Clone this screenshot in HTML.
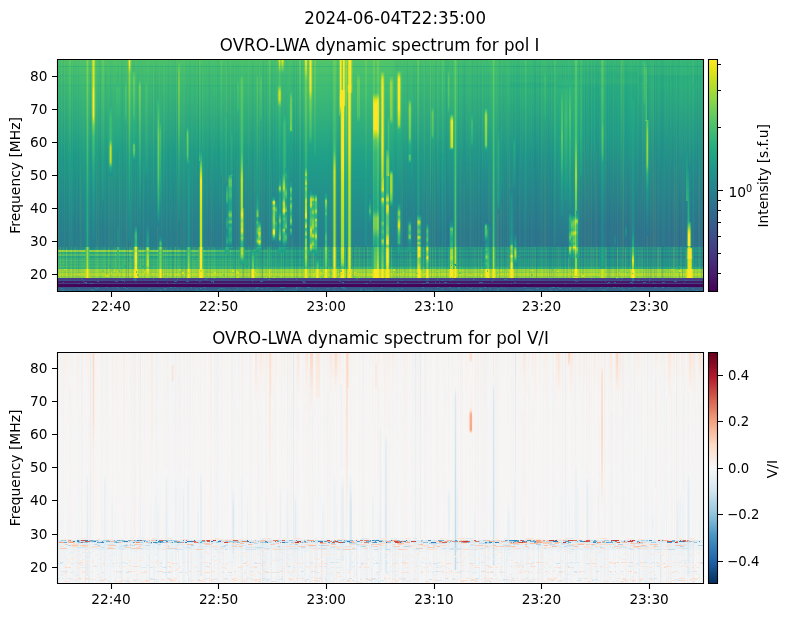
<!DOCTYPE html><html><head><meta charset="utf-8"><title>OVRO-LWA dynamic spectrum</title><style>html,body{margin:0;padding:0;background:#fff;width:789px;height:617px;overflow:hidden}svg{will-change:transform}</style></head><body><svg width="789" height="617" viewBox="0 0 789 617" style="display:block;font-family:'DejaVu Sans',sans-serif"><defs><linearGradient id="g1" x2="0" y2="1"><stop offset=".002" stop-color="#4cc26c"/><stop offset=".024" stop-color="#48c16e"/><stop offset=".028" stop-color="#32b67a"/><stop offset=".032" stop-color="#46c06f"/><stop offset=".063" stop-color="#42be71"/><stop offset=".067" stop-color="#38b977"/><stop offset=".076" stop-color="#40bd72"/><stop offset=".106" stop-color="#3bbb75"/><stop offset=".110" stop-color="#32b67a"/><stop offset=".119" stop-color="#3aba76"/><stop offset=".418" stop-color="#1e9d89"/><stop offset=".751" stop-color="#277f8e"/><stop offset=".807" stop-color="#277f8e"/><stop offset=".812" stop-color="#1f9e89"/><stop offset=".816" stop-color="#1f9e89"/><stop offset=".820" stop-color="#20928c"/><stop offset=".825" stop-color="#21a685"/><stop offset=".829" stop-color="#21a685"/><stop offset=".833" stop-color="#1f948c"/><stop offset=".838" stop-color="#1f948c"/><stop offset=".842" stop-color="#1fa187"/><stop offset=".846" stop-color="#1fa187"/><stop offset=".851" stop-color="#21908d"/><stop offset=".855" stop-color="#21908d"/><stop offset=".859" stop-color="#1f9e89"/><stop offset=".868" stop-color="#21a585"/><stop offset=".877" stop-color="#1f9e89"/><stop offset=".881" stop-color="#20a486"/><stop offset=".890" stop-color="#1f9e89"/><stop offset=".894" stop-color="#22a884"/><stop offset=".898" stop-color="#32b67a"/><stop offset=".903" stop-color="#32b67a"/><stop offset=".907" stop-color="#9bd93c"/><stop offset=".916" stop-color="#9bd93c"/><stop offset=".920" stop-color="#86d549"/><stop offset=".924" stop-color="#b5de2b"/><stop offset=".933" stop-color="#b5de2b"/><stop offset=".937" stop-color="#8ed645"/><stop offset=".942" stop-color="#8ed645"/><stop offset=".946" stop-color="#433e85"/><stop offset=".950" stop-color="#433e85"/><stop offset=".955" stop-color="#3b528b"/><stop offset=".959" stop-color="#481769"/><stop offset=".963" stop-color="#481769"/><stop offset=".968" stop-color="#414487"/><stop offset=".972" stop-color="#450457"/><stop offset=".981" stop-color="#450457"/><stop offset=".985" stop-color="#375a8c"/><stop offset=".998" stop-color="#32648e"/></linearGradient><linearGradient id="g2" x2="0" y2="1"><stop offset=".002" stop-color="#4ac16d"/><stop offset=".024" stop-color="#46c06f"/><stop offset=".028" stop-color="#31b57b"/><stop offset=".032" stop-color="#44bf70"/><stop offset=".063" stop-color="#40bd72"/><stop offset=".067" stop-color="#37b878"/><stop offset=".076" stop-color="#3fbc73"/><stop offset=".106" stop-color="#3aba76"/><stop offset=".110" stop-color="#31b57b"/><stop offset=".119" stop-color="#38b977"/><stop offset=".426" stop-color="#1e9b8a"/><stop offset=".755" stop-color="#277e8e"/><stop offset=".807" stop-color="#277e8e"/><stop offset=".812" stop-color="#1f9e89"/><stop offset=".816" stop-color="#1f9e89"/><stop offset=".820" stop-color="#20928c"/><stop offset=".825" stop-color="#21a685"/><stop offset=".829" stop-color="#21a685"/><stop offset=".833" stop-color="#20938c"/><stop offset=".838" stop-color="#20938c"/><stop offset=".842" stop-color="#1fa188"/><stop offset=".846" stop-color="#1fa188"/><stop offset=".851" stop-color="#218f8d"/><stop offset=".855" stop-color="#218f8d"/><stop offset=".859" stop-color="#1f9e89"/><stop offset=".868" stop-color="#20a486"/><stop offset=".877" stop-color="#1f9e89"/><stop offset=".890" stop-color="#1f9e89"/><stop offset=".894" stop-color="#22a785"/><stop offset=".898" stop-color="#31b57b"/><stop offset=".903" stop-color="#31b57b"/><stop offset=".907" stop-color="#9bd93c"/><stop offset=".916" stop-color="#9bd93c"/><stop offset=".920" stop-color="#86d549"/><stop offset=".924" stop-color="#b5de2b"/><stop offset=".933" stop-color="#b5de2b"/><stop offset=".937" stop-color="#8ed645"/><stop offset=".942" stop-color="#8ed645"/><stop offset=".946" stop-color="#433e85"/><stop offset=".950" stop-color="#433e85"/><stop offset=".955" stop-color="#3b528b"/><stop offset=".959" stop-color="#481769"/><stop offset=".963" stop-color="#481769"/><stop offset=".968" stop-color="#414487"/><stop offset=".972" stop-color="#450457"/><stop offset=".981" stop-color="#450457"/><stop offset=".985" stop-color="#375a8c"/><stop offset=".998" stop-color="#32648e"/></linearGradient><linearGradient id="g3" x2="0" y2="1"><stop offset=".002" stop-color="#48c16e"/><stop offset=".024" stop-color="#44bf70"/><stop offset=".028" stop-color="#2fb47c"/><stop offset=".032" stop-color="#42be71"/><stop offset=".063" stop-color="#3fbc73"/><stop offset=".067" stop-color="#35b779"/><stop offset=".076" stop-color="#3dbc74"/><stop offset=".106" stop-color="#3aba76"/><stop offset=".110" stop-color="#2fb47c"/><stop offset=".119" stop-color="#38b977"/><stop offset=".409" stop-color="#1e9c89"/><stop offset=".751" stop-color="#287d8e"/><stop offset=".807" stop-color="#287d8e"/><stop offset=".812" stop-color="#1e9d89"/><stop offset=".816" stop-color="#1e9d89"/><stop offset=".820" stop-color="#21918c"/><stop offset=".825" stop-color="#21a585"/><stop offset=".829" stop-color="#21a585"/><stop offset=".833" stop-color="#20928c"/><stop offset=".838" stop-color="#20928c"/><stop offset=".842" stop-color="#1fa188"/><stop offset=".846" stop-color="#1fa188"/><stop offset=".851" stop-color="#218e8d"/><stop offset=".855" stop-color="#218e8d"/><stop offset=".859" stop-color="#1e9d89"/><stop offset=".868" stop-color="#20a386"/><stop offset=".877" stop-color="#1e9d89"/><stop offset=".890" stop-color="#1e9d89"/><stop offset=".894" stop-color="#21a685"/><stop offset=".898" stop-color="#2fb47c"/><stop offset=".903" stop-color="#2fb47c"/><stop offset=".907" stop-color="#9bd93c"/><stop offset=".916" stop-color="#9bd93c"/><stop offset=".920" stop-color="#86d549"/><stop offset=".924" stop-color="#b5de2b"/><stop offset=".933" stop-color="#b5de2b"/><stop offset=".937" stop-color="#8ed645"/><stop offset=".942" stop-color="#8ed645"/><stop offset=".946" stop-color="#433e85"/><stop offset=".950" stop-color="#433e85"/><stop offset=".955" stop-color="#3b528b"/><stop offset=".959" stop-color="#481769"/><stop offset=".963" stop-color="#481769"/><stop offset=".968" stop-color="#414487"/><stop offset=".972" stop-color="#450457"/><stop offset=".981" stop-color="#450457"/><stop offset=".985" stop-color="#375a8c"/><stop offset=".998" stop-color="#32648e"/></linearGradient><linearGradient id="g4" x2="0" y2="1"><stop offset=".002" stop-color="#48c16e"/><stop offset=".024" stop-color="#44bf70"/><stop offset=".028" stop-color="#2fb47c"/><stop offset=".032" stop-color="#42be71"/><stop offset=".063" stop-color="#3dbc74"/><stop offset=".067" stop-color="#35b779"/><stop offset=".076" stop-color="#3bbb75"/><stop offset=".106" stop-color="#38b977"/><stop offset=".110" stop-color="#2fb47c"/><stop offset=".119" stop-color="#37b878"/><stop offset=".413" stop-color="#1e9b8a"/><stop offset=".751" stop-color="#287d8e"/><stop offset=".807" stop-color="#287d8e"/><stop offset=".812" stop-color="#1e9c89"/><stop offset=".816" stop-color="#1e9c89"/><stop offset=".820" stop-color="#21918c"/><stop offset=".825" stop-color="#20a486"/><stop offset=".829" stop-color="#20a486"/><stop offset=".833" stop-color="#20928c"/><stop offset=".838" stop-color="#20928c"/><stop offset=".842" stop-color="#1fa088"/><stop offset=".846" stop-color="#1fa088"/><stop offset=".851" stop-color="#218e8d"/><stop offset=".855" stop-color="#218e8d"/><stop offset=".859" stop-color="#1e9c89"/><stop offset=".868" stop-color="#20a386"/><stop offset=".877" stop-color="#1e9c89"/><stop offset=".881" stop-color="#1fa287"/><stop offset=".890" stop-color="#1e9c89"/><stop offset=".894" stop-color="#21a685"/><stop offset=".898" stop-color="#2fb47c"/><stop offset=".903" stop-color="#2fb47c"/><stop offset=".907" stop-color="#9bd93c"/><stop offset=".916" stop-color="#9bd93c"/><stop offset=".920" stop-color="#86d549"/><stop offset=".924" stop-color="#b5de2b"/><stop offset=".933" stop-color="#b5de2b"/><stop offset=".937" stop-color="#8ed645"/><stop offset=".942" stop-color="#8ed645"/><stop offset=".946" stop-color="#433e85"/><stop offset=".950" stop-color="#433e85"/><stop offset=".955" stop-color="#3b528b"/><stop offset=".959" stop-color="#481769"/><stop offset=".963" stop-color="#481769"/><stop offset=".968" stop-color="#414487"/><stop offset=".972" stop-color="#450457"/><stop offset=".981" stop-color="#450457"/><stop offset=".985" stop-color="#375a8c"/><stop offset=".998" stop-color="#32648e"/></linearGradient><linearGradient id="g5" x2="0" y2="1"><stop offset=".002" stop-color="#48c16e"/><stop offset=".024" stop-color="#44bf70"/><stop offset=".028" stop-color="#2fb47c"/><stop offset=".032" stop-color="#42be71"/><stop offset=".063" stop-color="#3dbc74"/><stop offset=".067" stop-color="#35b779"/><stop offset=".076" stop-color="#3bbb75"/><stop offset=".106" stop-color="#38b977"/><stop offset=".110" stop-color="#2fb47c"/><stop offset=".119" stop-color="#37b878"/><stop offset=".413" stop-color="#1e9b8a"/><stop offset=".751" stop-color="#287d8e"/><stop offset=".807" stop-color="#287d8e"/><stop offset=".812" stop-color="#1e9c89"/><stop offset=".816" stop-color="#1e9c89"/><stop offset=".820" stop-color="#21918c"/><stop offset=".825" stop-color="#20a486"/><stop offset=".829" stop-color="#20a486"/><stop offset=".833" stop-color="#20928c"/><stop offset=".838" stop-color="#20928c"/><stop offset=".842" stop-color="#1fa088"/><stop offset=".846" stop-color="#1fa088"/><stop offset=".851" stop-color="#218e8d"/><stop offset=".855" stop-color="#218e8d"/><stop offset=".859" stop-color="#1e9c89"/><stop offset=".868" stop-color="#20a386"/><stop offset=".877" stop-color="#1e9c89"/><stop offset=".881" stop-color="#1fa287"/><stop offset=".890" stop-color="#1e9c89"/><stop offset=".894" stop-color="#21a685"/><stop offset=".898" stop-color="#2fb47c"/><stop offset=".903" stop-color="#2fb47c"/><stop offset=".907" stop-color="#9bd93c"/><stop offset=".916" stop-color="#9bd93c"/><stop offset=".920" stop-color="#86d549"/><stop offset=".924" stop-color="#b5de2b"/><stop offset=".933" stop-color="#b5de2b"/><stop offset=".937" stop-color="#8ed645"/><stop offset=".942" stop-color="#8ed645"/><stop offset=".946" stop-color="#433e85"/><stop offset=".950" stop-color="#433e85"/><stop offset=".955" stop-color="#3b528b"/><stop offset=".959" stop-color="#481769"/><stop offset=".963" stop-color="#481769"/><stop offset=".968" stop-color="#414487"/><stop offset=".972" stop-color="#450457"/><stop offset=".981" stop-color="#450457"/><stop offset=".985" stop-color="#375a8c"/><stop offset=".998" stop-color="#32648e"/></linearGradient><linearGradient id="g6" x2="0" y2="1"><stop offset=".002" stop-color="#48c16e"/><stop offset=".024" stop-color="#44bf70"/><stop offset=".028" stop-color="#2fb47c"/><stop offset=".032" stop-color="#42be71"/><stop offset=".063" stop-color="#3dbc74"/><stop offset=".067" stop-color="#35b779"/><stop offset=".076" stop-color="#3bbb75"/><stop offset=".106" stop-color="#38b977"/><stop offset=".110" stop-color="#2fb47c"/><stop offset=".119" stop-color="#37b878"/><stop offset=".413" stop-color="#1e9b8a"/><stop offset=".751" stop-color="#287d8e"/><stop offset=".807" stop-color="#287d8e"/><stop offset=".812" stop-color="#1e9c89"/><stop offset=".816" stop-color="#1e9c89"/><stop offset=".820" stop-color="#21918c"/><stop offset=".825" stop-color="#20a486"/><stop offset=".829" stop-color="#20a486"/><stop offset=".833" stop-color="#20928c"/><stop offset=".838" stop-color="#20928c"/><stop offset=".842" stop-color="#1fa088"/><stop offset=".846" stop-color="#1fa088"/><stop offset=".851" stop-color="#218e8d"/><stop offset=".855" stop-color="#218e8d"/><stop offset=".859" stop-color="#1e9c89"/><stop offset=".868" stop-color="#20a386"/><stop offset=".877" stop-color="#1e9c89"/><stop offset=".881" stop-color="#1fa287"/><stop offset=".890" stop-color="#1e9c89"/><stop offset=".894" stop-color="#21a685"/><stop offset=".898" stop-color="#2fb47c"/><stop offset=".903" stop-color="#2fb47c"/><stop offset=".907" stop-color="#9bd93c"/><stop offset=".916" stop-color="#9bd93c"/><stop offset=".920" stop-color="#86d549"/><stop offset=".924" stop-color="#b5de2b"/><stop offset=".933" stop-color="#b5de2b"/><stop offset=".937" stop-color="#8ed645"/><stop offset=".942" stop-color="#8ed645"/><stop offset=".946" stop-color="#433e85"/><stop offset=".950" stop-color="#433e85"/><stop offset=".955" stop-color="#3b528b"/><stop offset=".959" stop-color="#481769"/><stop offset=".963" stop-color="#481769"/><stop offset=".968" stop-color="#414487"/><stop offset=".972" stop-color="#450457"/><stop offset=".981" stop-color="#450457"/><stop offset=".985" stop-color="#375a8c"/><stop offset=".998" stop-color="#32648e"/></linearGradient><linearGradient id="g7" x2="0" y2="1"><stop offset=".002" stop-color="#40bd72"/><stop offset=".024" stop-color="#3dbc74"/><stop offset=".028" stop-color="#2ab07f"/><stop offset=".032" stop-color="#3bbb75"/><stop offset=".063" stop-color="#38b977"/><stop offset=".067" stop-color="#2fb47c"/><stop offset=".080" stop-color="#35b779"/><stop offset=".106" stop-color="#32b67a"/><stop offset=".110" stop-color="#2ab07f"/><stop offset=".123" stop-color="#31b57b"/><stop offset=".418" stop-color="#1f978b"/><stop offset=".751" stop-color="#29798e"/><stop offset=".807" stop-color="#29798e"/><stop offset=".812" stop-color="#1f998a"/><stop offset=".816" stop-color="#1f998a"/><stop offset=".820" stop-color="#228d8d"/><stop offset=".825" stop-color="#1fa187"/><stop offset=".829" stop-color="#1fa187"/><stop offset=".833" stop-color="#218f8d"/><stop offset=".838" stop-color="#218f8d"/><stop offset=".842" stop-color="#1e9c89"/><stop offset=".846" stop-color="#1e9c89"/><stop offset=".851" stop-color="#238a8d"/><stop offset=".855" stop-color="#238a8d"/><stop offset=".859" stop-color="#1f998a"/><stop offset=".868" stop-color="#1fa088"/><stop offset=".877" stop-color="#1f998a"/><stop offset=".881" stop-color="#1f9f88"/><stop offset=".890" stop-color="#1f998a"/><stop offset=".898" stop-color="#2ab07f"/><stop offset=".903" stop-color="#2ab07f"/><stop offset=".907" stop-color="#9bd93c"/><stop offset=".916" stop-color="#9bd93c"/><stop offset=".920" stop-color="#86d549"/><stop offset=".924" stop-color="#b5de2b"/><stop offset=".933" stop-color="#b5de2b"/><stop offset=".937" stop-color="#8ed645"/><stop offset=".942" stop-color="#8ed645"/><stop offset=".946" stop-color="#433e85"/><stop offset=".950" stop-color="#433e85"/><stop offset=".955" stop-color="#3b528b"/><stop offset=".959" stop-color="#481769"/><stop offset=".963" stop-color="#481769"/><stop offset=".968" stop-color="#414487"/><stop offset=".972" stop-color="#450457"/><stop offset=".981" stop-color="#450457"/><stop offset=".985" stop-color="#375a8c"/><stop offset=".998" stop-color="#32648e"/></linearGradient><linearGradient id="g8" x2="0" y2="1"><stop offset=".002" stop-color="#3bbb75"/><stop offset=".024" stop-color="#38b977"/><stop offset=".028" stop-color="#27ad81"/><stop offset=".032" stop-color="#37b878"/><stop offset=".063" stop-color="#34b679"/><stop offset=".067" stop-color="#2cb17e"/><stop offset=".089" stop-color="#31b57b"/><stop offset=".110" stop-color="#27ad81"/><stop offset=".128" stop-color="#2db27d"/><stop offset=".413" stop-color="#1f948c"/><stop offset=".755" stop-color="#2a768e"/><stop offset=".807" stop-color="#2a768e"/><stop offset=".812" stop-color="#1f958b"/><stop offset=".816" stop-color="#1f958b"/><stop offset=".820" stop-color="#238a8d"/><stop offset=".825" stop-color="#1f9e89"/><stop offset=".829" stop-color="#1f9e89"/><stop offset=".833" stop-color="#228c8d"/><stop offset=".838" stop-color="#228c8d"/><stop offset=".842" stop-color="#1f998a"/><stop offset=".846" stop-color="#1f998a"/><stop offset=".851" stop-color="#24878e"/><stop offset=".855" stop-color="#24878e"/><stop offset=".859" stop-color="#1f958b"/><stop offset=".868" stop-color="#1e9d89"/><stop offset=".877" stop-color="#1f958b"/><stop offset=".881" stop-color="#1e9c89"/><stop offset=".890" stop-color="#1f958b"/><stop offset=".898" stop-color="#27ad81"/><stop offset=".903" stop-color="#27ad81"/><stop offset=".907" stop-color="#9bd93c"/><stop offset=".916" stop-color="#9bd93c"/><stop offset=".920" stop-color="#86d549"/><stop offset=".924" stop-color="#b5de2b"/><stop offset=".933" stop-color="#b5de2b"/><stop offset=".937" stop-color="#8ed645"/><stop offset=".942" stop-color="#8ed645"/><stop offset=".946" stop-color="#433e85"/><stop offset=".950" stop-color="#433e85"/><stop offset=".955" stop-color="#3b528b"/><stop offset=".959" stop-color="#481769"/><stop offset=".963" stop-color="#481769"/><stop offset=".968" stop-color="#414487"/><stop offset=".972" stop-color="#450457"/><stop offset=".981" stop-color="#450457"/><stop offset=".985" stop-color="#375a8c"/><stop offset=".998" stop-color="#32648e"/></linearGradient><linearGradient id="g9" x2="0" y2="1"><stop offset=".002" stop-color="#38b977"/><stop offset=".024" stop-color="#34b679"/><stop offset=".028" stop-color="#25ac82"/><stop offset=".032" stop-color="#34b679"/><stop offset=".067" stop-color="#29af7f"/><stop offset=".097" stop-color="#2db27d"/><stop offset=".110" stop-color="#25ac82"/><stop offset=".323" stop-color="#1f9e89"/><stop offset=".721" stop-color="#2b758e"/><stop offset=".807" stop-color="#2b748e"/><stop offset=".812" stop-color="#20938c"/><stop offset=".816" stop-color="#20938c"/><stop offset=".820" stop-color="#24878e"/><stop offset=".825" stop-color="#1e9c89"/><stop offset=".829" stop-color="#1e9c89"/><stop offset=".833" stop-color="#238a8d"/><stop offset=".838" stop-color="#238a8d"/><stop offset=".842" stop-color="#1f978b"/><stop offset=".846" stop-color="#1f978b"/><stop offset=".851" stop-color="#25858e"/><stop offset=".855" stop-color="#25858e"/><stop offset=".859" stop-color="#20938c"/><stop offset=".868" stop-color="#1e9b8a"/><stop offset=".877" stop-color="#20938c"/><stop offset=".881" stop-color="#1f9a8a"/><stop offset=".890" stop-color="#20938c"/><stop offset=".898" stop-color="#25ac82"/><stop offset=".903" stop-color="#25ac82"/><stop offset=".907" stop-color="#9bd93c"/><stop offset=".916" stop-color="#9bd93c"/><stop offset=".920" stop-color="#86d549"/><stop offset=".924" stop-color="#b5de2b"/><stop offset=".933" stop-color="#b5de2b"/><stop offset=".937" stop-color="#8ed645"/><stop offset=".942" stop-color="#8ed645"/><stop offset=".946" stop-color="#433e85"/><stop offset=".950" stop-color="#433e85"/><stop offset=".955" stop-color="#3b528b"/><stop offset=".959" stop-color="#481769"/><stop offset=".963" stop-color="#481769"/><stop offset=".968" stop-color="#414487"/><stop offset=".972" stop-color="#450457"/><stop offset=".981" stop-color="#450457"/><stop offset=".985" stop-color="#375a8c"/><stop offset=".998" stop-color="#32648e"/></linearGradient><linearGradient id="g10" x2="0" y2="1"><stop offset=".002" stop-color="#35b779"/><stop offset=".024" stop-color="#32b67a"/><stop offset=".028" stop-color="#24aa83"/><stop offset=".032" stop-color="#31b57b"/><stop offset=".063" stop-color="#2eb37c"/><stop offset=".067" stop-color="#27ad81"/><stop offset=".106" stop-color="#29af7f"/><stop offset=".418" stop-color="#21918c"/><stop offset=".755" stop-color="#2c728e"/><stop offset=".807" stop-color="#2c728e"/><stop offset=".812" stop-color="#20928c"/><stop offset=".816" stop-color="#20928c"/><stop offset=".820" stop-color="#24868e"/><stop offset=".825" stop-color="#1f9a8a"/><stop offset=".829" stop-color="#1f9a8a"/><stop offset=".833" stop-color="#23888e"/><stop offset=".838" stop-color="#23888e"/><stop offset=".842" stop-color="#1f958b"/><stop offset=".846" stop-color="#1f958b"/><stop offset=".851" stop-color="#25838e"/><stop offset=".855" stop-color="#25838e"/><stop offset=".859" stop-color="#20928c"/><stop offset=".868" stop-color="#1f998a"/><stop offset=".877" stop-color="#20928c"/><stop offset=".881" stop-color="#1f988b"/><stop offset=".890" stop-color="#20928c"/><stop offset=".898" stop-color="#24aa83"/><stop offset=".903" stop-color="#24aa83"/><stop offset=".907" stop-color="#9bd93c"/><stop offset=".916" stop-color="#9bd93c"/><stop offset=".920" stop-color="#86d549"/><stop offset=".924" stop-color="#b5de2b"/><stop offset=".933" stop-color="#b5de2b"/><stop offset=".937" stop-color="#8ed645"/><stop offset=".942" stop-color="#8ed645"/><stop offset=".946" stop-color="#433e85"/><stop offset=".950" stop-color="#433e85"/><stop offset=".955" stop-color="#3b528b"/><stop offset=".959" stop-color="#481769"/><stop offset=".963" stop-color="#481769"/><stop offset=".968" stop-color="#414487"/><stop offset=".972" stop-color="#450457"/><stop offset=".981" stop-color="#450457"/><stop offset=".985" stop-color="#375a8c"/><stop offset=".998" stop-color="#32648e"/></linearGradient><linearGradient id="g11"><stop offset=".001" stop-color="#228b8d"/><stop offset=".322" stop-color="#228d8d"/><stop offset=".429" stop-color="#1e9c89"/><stop offset=".999" stop-color="#20928c"/></linearGradient><linearGradient id="g12"><stop offset=".001" stop-color="#9bd93c"/><stop offset=".148" stop-color="#89d548"/><stop offset=".212" stop-color="#67cc5c"/><stop offset=".274" stop-color="#3aba76"/><stop offset=".365" stop-color="#21a685"/><stop offset=".999" stop-color="#1f9a8a"/></linearGradient><linearGradient id="g13"><stop offset=".001" stop-color="#2cb17e"/><stop offset=".247" stop-color="#22a785"/><stop offset=".429" stop-color="#20928c"/><stop offset=".999" stop-color="#23888e"/></linearGradient><linearGradient id="g14"><stop offset=".001" stop-color="#52c569"/><stop offset=".184" stop-color="#42be71"/><stop offset=".289" stop-color="#24aa83"/><stop offset=".374" stop-color="#1fa088"/><stop offset=".999" stop-color="#1f958b"/></linearGradient><linearGradient id="g15"><stop offset=".001" stop-color="#25ab82"/><stop offset=".249" stop-color="#1fa088"/><stop offset=".409" stop-color="#218e8d"/><stop offset=".999" stop-color="#26828e"/></linearGradient><linearGradient id="g16"><stop offset=".001" stop-color="#25ab82"/><stop offset=".249" stop-color="#1fa088"/><stop offset=".409" stop-color="#218e8d"/><stop offset=".999" stop-color="#26828e"/></linearGradient><linearGradient id="g17"><stop offset=".001" stop-color="#37b878"/><stop offset=".246" stop-color="#28ae80"/><stop offset=".381" stop-color="#1f9e89"/><stop offset=".999" stop-color="#20928c"/></linearGradient><linearGradient id="g18"><stop offset=".001" stop-color="#37b878"/><stop offset=".246" stop-color="#28ae80"/><stop offset=".381" stop-color="#1f9e89"/><stop offset=".999" stop-color="#20928c"/></linearGradient><linearGradient id="g19"><stop offset=".001" stop-color="#44bf70"/><stop offset=".238" stop-color="#34b679"/><stop offset=".343" stop-color="#22a884"/><stop offset=".999" stop-color="#1f988b"/></linearGradient><linearGradient id="g20"><stop offset=".001" stop-color="#37b878"/><stop offset=".246" stop-color="#28ae80"/><stop offset=".381" stop-color="#1f9e89"/><stop offset=".999" stop-color="#20928c"/></linearGradient><linearGradient id="g21"><stop offset=".001" stop-color="#37b878"/><stop offset=".246" stop-color="#28ae80"/><stop offset=".381" stop-color="#1f9e89"/><stop offset=".999" stop-color="#20928c"/></linearGradient><linearGradient id="g22"><stop offset=".001" stop-color="#40bd72"/><stop offset=".236" stop-color="#32b67a"/><stop offset=".343" stop-color="#22a785"/><stop offset=".999" stop-color="#1f978b"/></linearGradient><linearGradient id="g23"><stop offset=".001" stop-color="#37b878"/><stop offset=".246" stop-color="#28ae80"/><stop offset=".381" stop-color="#1f9e89"/><stop offset=".999" stop-color="#20928c"/></linearGradient><linearGradient id="g24"><stop offset=".001" stop-color="#37b878"/><stop offset=".246" stop-color="#28ae80"/><stop offset=".381" stop-color="#1f9e89"/><stop offset=".999" stop-color="#20928c"/></linearGradient><linearGradient id="g25"><stop offset=".001" stop-color="#48c16e"/><stop offset=".235" stop-color="#38b977"/><stop offset=".339" stop-color="#25ab82"/><stop offset=".999" stop-color="#1e9b8a"/></linearGradient><linearGradient id="f26" x2="0" y2="1"><stop offset="0" stop-color="#fff" stop-opacity="0.300"/><stop offset=".132" stop-color="#fff" stop-opacity="1.000"/><stop offset=".596" stop-color="#fff" stop-opacity="1.000"/><stop offset=".993" stop-color="#fff" stop-opacity="0.000"/></linearGradient><mask id="mf26" maskUnits="userSpaceOnUse" x="58" y="60" width="645" height="151"><rect x="58" y="60" width="645" height="151" fill="url(#f26)"/></mask><linearGradient id="f27" x2="0" y2="1"><stop offset="0" stop-color="#fff" stop-opacity="0.000"/><stop offset=".362" stop-color="#fff" stop-opacity="1.000"/><stop offset=".993" stop-color="#fff" stop-opacity="1.000"/></linearGradient><mask id="mf27" maskUnits="userSpaceOnUse" x="58" y="140" width="645" height="138"><rect x="58" y="140" width="645" height="138" fill="url(#f27)"/></mask><linearGradient id="g28" x2="0" y2="1"><stop offset=".003" stop-color="#52c569"/><stop offset=".030" stop-color="#4ec36b"/><stop offset=".035" stop-color="#37b878"/><stop offset=".040" stop-color="#4cc26c"/><stop offset=".078" stop-color="#48c16e"/><stop offset=".083" stop-color="#3dbc74"/><stop offset=".094" stop-color="#46c06f"/><stop offset=".132" stop-color="#40bd72"/><stop offset=".137" stop-color="#37b878"/><stop offset=".142" stop-color="#40bd72"/><stop offset=".519" stop-color="#1fa088"/><stop offset=".922" stop-color="#26828e"/><stop offset=".997" stop-color="#26818e"/></linearGradient><linearGradient id="h29"><stop offset="0" stop-color="#000"/><stop offset=".222" stop-color="#fff"/><stop offset=".778" stop-color="#fff"/><stop offset="1" stop-color="#000"/></linearGradient><mask id="mh29" maskContentUnits="objectBoundingBox"><rect width="1" height="1" fill="url(#h29)"/></mask><linearGradient id="g30" x2="0" y2="1"><stop offset=".003" stop-color="#52c569"/><stop offset=".030" stop-color="#4ec36b"/><stop offset=".035" stop-color="#37b878"/><stop offset=".040" stop-color="#4cc26c"/><stop offset=".078" stop-color="#48c16e"/><stop offset=".083" stop-color="#3dbc74"/><stop offset=".094" stop-color="#46c06f"/><stop offset=".132" stop-color="#42be71"/><stop offset=".137" stop-color="#38b977"/><stop offset=".153" stop-color="#40bd72"/><stop offset=".551" stop-color="#1f9f88"/><stop offset=".944" stop-color="#25848e"/><stop offset=".997" stop-color="#25848e"/></linearGradient><linearGradient id="h31"><stop offset="0" stop-color="#000"/><stop offset=".125" stop-color="#fff"/><stop offset=".875" stop-color="#fff"/><stop offset="1" stop-color="#000"/></linearGradient><mask id="mh31" maskContentUnits="objectBoundingBox"><rect width="1" height="1" fill="url(#h31)"/></mask><linearGradient id="g32" x2="0" y2="1"><stop offset=".003" stop-color="#2fb47c"/><stop offset=".027" stop-color="#2fb47c"/><stop offset=".033" stop-color="#28ae80"/><stop offset=".057" stop-color="#2fb47c"/><stop offset=".395" stop-color="#21a585"/><stop offset=".997" stop-color="#2b758e"/></linearGradient><linearGradient id="h33"><stop offset="0" stop-color="#000"/><stop offset=".267" stop-color="#fff"/><stop offset=".733" stop-color="#fff"/><stop offset="1" stop-color="#000"/></linearGradient><mask id="mh33" maskContentUnits="objectBoundingBox"><rect width="1" height="1" fill="url(#h33)"/></mask><linearGradient id="g34" x2="0" y2="1"><stop offset=".010" stop-color="#238a8d"/><stop offset=".363" stop-color="#218f8d"/><stop offset=".912" stop-color="#25858e"/><stop offset=".931" stop-color="#1fa188"/><stop offset=".971" stop-color="#20928c"/><stop offset=".990" stop-color="#20a486"/></linearGradient><linearGradient id="h35"><stop offset="0" stop-color="#000"/><stop offset=".333" stop-color="#fff"/><stop offset=".667" stop-color="#fff"/><stop offset="1" stop-color="#000"/></linearGradient><mask id="mh35" maskContentUnits="objectBoundingBox"><rect width="1" height="1" fill="url(#h35)"/></mask><linearGradient id="g36" x2="0" y2="1"><stop offset=".002" stop-color="#56c667"/><stop offset=".025" stop-color="#50c46a"/><stop offset=".030" stop-color="#3aba76"/><stop offset=".034" stop-color="#50c46a"/><stop offset=".067" stop-color="#4cc26c"/><stop offset=".071" stop-color="#40bd72"/><stop offset=".080" stop-color="#4ac16d"/><stop offset=".112" stop-color="#44bf70"/><stop offset=".117" stop-color="#3aba76"/><stop offset=".126" stop-color="#44bf70"/><stop offset=".470" stop-color="#1fa088"/><stop offset=".823" stop-color="#24878e"/><stop offset=".856" stop-color="#23888e"/><stop offset=".860" stop-color="#40bd72"/><stop offset=".956" stop-color="#46c06f"/><stop offset=".961" stop-color="#c0df25"/><stop offset=".998" stop-color="#c0df25"/></linearGradient><linearGradient id="g37" x2="0" y2="1"><stop offset=".003" stop-color="#67cc5c"/><stop offset=".030" stop-color="#63cb5f"/><stop offset=".035" stop-color="#48c16e"/><stop offset=".040" stop-color="#60ca60"/><stop offset=".078" stop-color="#5cc863"/><stop offset=".083" stop-color="#50c46a"/><stop offset=".089" stop-color="#5cc863"/><stop offset=".132" stop-color="#56c667"/><stop offset=".137" stop-color="#4ac16d"/><stop offset=".148" stop-color="#58c765"/><stop offset=".250" stop-color="#52c569"/><stop offset=".422" stop-color="#25ac82"/><stop offset=".728" stop-color="#228c8d"/><stop offset=".997" stop-color="#277f8e"/></linearGradient><linearGradient id="g38" x2="0" y2="1"><stop offset=".007" stop-color="#2eb37c"/><stop offset=".522" stop-color="#27ad81"/><stop offset=".801" stop-color="#24aa83"/><stop offset=".949" stop-color="#1f948c"/><stop offset=".993" stop-color="#20928c"/></linearGradient><linearGradient id="g39" x2="0" y2="1"><stop offset=".003" stop-color="#70cf57"/><stop offset=".030" stop-color="#67cc5c"/><stop offset=".036" stop-color="#4cc26c"/><stop offset=".041" stop-color="#60ca60"/><stop offset=".080" stop-color="#50c46a"/><stop offset=".086" stop-color="#44bf70"/><stop offset=".097" stop-color="#4ec36b"/><stop offset=".135" stop-color="#48c16e"/><stop offset=".141" stop-color="#3dbc74"/><stop offset=".152" stop-color="#46c06f"/><stop offset=".544" stop-color="#1fa088"/><stop offset=".981" stop-color="#26818e"/><stop offset=".997" stop-color="#26818e"/></linearGradient><linearGradient id="g40" x2="0" y2="1"><stop offset=".006" stop-color="#42be71"/><stop offset=".039" stop-color="#46c06f"/><stop offset=".050" stop-color="#3dbc74"/><stop offset=".083" stop-color="#48c16e"/><stop offset=".150" stop-color="#44bf70"/><stop offset=".161" stop-color="#38b977"/><stop offset=".183" stop-color="#42be71"/><stop offset=".794" stop-color="#21a585"/><stop offset=".872" stop-color="#25ab82"/><stop offset=".994" stop-color="#1f9a8a"/></linearGradient><linearGradient id="g41" x2="0" y2="1"><stop offset=".009" stop-color="#27808e"/><stop offset=".274" stop-color="#23898e"/><stop offset=".406" stop-color="#218e8d"/><stop offset=".425" stop-color="#4cc26c"/><stop offset=".519" stop-color="#4cc26c"/><stop offset=".575" stop-color="#58c765"/><stop offset=".783" stop-color="#4cc26c"/><stop offset=".821" stop-color="#56c667"/><stop offset=".840" stop-color="#dfe318"/><stop offset=".953" stop-color="#eae51a"/><stop offset=".991" stop-color="#e5e419"/></linearGradient><linearGradient id="g42" x2="0" y2="1"><stop offset=".004" stop-color="#32b67a"/><stop offset=".544" stop-color="#1fa188"/><stop offset=".996" stop-color="#277f8e"/></linearGradient><linearGradient id="g43" x2="0" y2="1"><stop offset=".013" stop-color="#25ab82"/><stop offset=".434" stop-color="#25ac82"/><stop offset=".934" stop-color="#1e9b8a"/><stop offset=".987" stop-color="#1f988b"/></linearGradient><linearGradient id="g44" x2="0" y2="1"><stop offset=".004" stop-color="#1f9e89"/><stop offset=".606" stop-color="#26828e"/><stop offset=".733" stop-color="#26828e"/><stop offset=".742" stop-color="#32b67a"/><stop offset=".919" stop-color="#3bbb75"/><stop offset=".928" stop-color="#bddf26"/><stop offset=".996" stop-color="#c0df25"/></linearGradient><linearGradient id="g45" x2="0" y2="1"><stop offset=".004" stop-color="#1f9f88"/><stop offset=".316" stop-color="#1fa187"/><stop offset=".754" stop-color="#1f958b"/><stop offset=".762" stop-color="#52c569"/><stop offset=".926" stop-color="#54c568"/><stop offset=".934" stop-color="#e5e419"/><stop offset=".996" stop-color="#e5e419"/></linearGradient><linearGradient id="g46" x2="0" y2="1"><stop offset=".003" stop-color="#3fbc73"/><stop offset=".013" stop-color="#37b878"/><stop offset=".024" stop-color="#40bd72"/><stop offset=".060" stop-color="#3fbc73"/><stop offset=".065" stop-color="#35b779"/><stop offset=".071" stop-color="#3fbc73"/><stop offset=".458" stop-color="#1fa287"/><stop offset=".767" stop-color="#1f958b"/><stop offset=".846" stop-color="#21908d"/><stop offset=".908" stop-color="#24878e"/><stop offset=".914" stop-color="#2cb17e"/><stop offset=".961" stop-color="#2ab07f"/><stop offset=".997" stop-color="#21a685"/></linearGradient><linearGradient id="g47" x2="0" y2="1"><stop offset=".019" stop-color="#20a486"/><stop offset=".648" stop-color="#26ad81"/><stop offset=".685" stop-color="#bade28"/><stop offset=".981" stop-color="#c0df25"/></linearGradient><linearGradient id="g48" x2="0" y2="1"><stop offset=".019" stop-color="#228b8d"/><stop offset=".500" stop-color="#1f988b"/><stop offset=".685" stop-color="#1f998a"/><stop offset=".759" stop-color="#20a386"/><stop offset=".944" stop-color="#24868e"/><stop offset=".981" stop-color="#22a884"/></linearGradient><linearGradient id="g49" x2="0" y2="1"><stop offset=".011" stop-color="#23888e"/><stop offset=".098" stop-color="#20938c"/><stop offset=".141" stop-color="#1fa187"/><stop offset=".228" stop-color="#1f988b"/><stop offset=".315" stop-color="#1f9f88"/><stop offset=".533" stop-color="#1f978b"/><stop offset=".707" stop-color="#1f968b"/><stop offset=".815" stop-color="#1fa188"/><stop offset=".967" stop-color="#26828e"/><stop offset=".989" stop-color="#277f8e"/></linearGradient><linearGradient id="g50" x2="0" y2="1"><stop offset=".003" stop-color="#63cb5f"/><stop offset=".030" stop-color="#56c667"/><stop offset=".036" stop-color="#3dbc74"/><stop offset=".041" stop-color="#52c569"/><stop offset=".080" stop-color="#42be71"/><stop offset=".086" stop-color="#38b977"/><stop offset=".102" stop-color="#40bd72"/><stop offset=".135" stop-color="#3dbc74"/><stop offset=".141" stop-color="#34b679"/><stop offset=".152" stop-color="#42be71"/><stop offset=".196" stop-color="#4cc26c"/><stop offset=".251" stop-color="#35b779"/><stop offset=".506" stop-color="#1fa088"/><stop offset=".688" stop-color="#20928c"/><stop offset=".715" stop-color="#1e9b8a"/><stop offset=".754" stop-color="#228c8d"/><stop offset=".870" stop-color="#228d8d"/><stop offset=".975" stop-color="#218e8d"/><stop offset=".997" stop-color="#23898e"/></linearGradient><linearGradient id="g51" x2="0" y2="1"><stop offset=".022" stop-color="#34b679"/><stop offset=".109" stop-color="#42be71"/><stop offset=".457" stop-color="#4cc26c"/><stop offset=".891" stop-color="#35b779"/><stop offset=".978" stop-color="#2fb47c"/></linearGradient><linearGradient id="g52" x2="0" y2="1"><stop offset=".036" stop-color="#65cb5e"/><stop offset=".393" stop-color="#54c568"/><stop offset=".464" stop-color="#3aba76"/><stop offset=".536" stop-color="#4ec36b"/><stop offset=".964" stop-color="#3fbc73"/></linearGradient><linearGradient id="g53" x2="0" y2="1"><stop offset=".004" stop-color="#29af7f"/><stop offset=".447" stop-color="#1e9d89"/><stop offset=".598" stop-color="#1f9f88"/><stop offset=".658" stop-color="#1e9c89"/><stop offset=".726" stop-color="#22a785"/><stop offset=".756" stop-color="#20938c"/><stop offset=".868" stop-color="#1f968b"/><stop offset=".914" stop-color="#1f958b"/><stop offset=".966" stop-color="#23898e"/><stop offset=".989" stop-color="#26818e"/><stop offset=".996" stop-color="#1fa187"/></linearGradient><linearGradient id="g54" x2="0" y2="1"><stop offset=".004" stop-color="#35b779"/><stop offset=".152" stop-color="#34b679"/><stop offset=".293" stop-color="#29af7f"/><stop offset=".359" stop-color="#20a386"/><stop offset=".707" stop-color="#21918c"/><stop offset=".744" stop-color="#1f948c"/><stop offset=".841" stop-color="#20928c"/><stop offset=".937" stop-color="#228d8d"/><stop offset=".981" stop-color="#228d8d"/><stop offset=".996" stop-color="#24868e"/></linearGradient><linearGradient id="g55" x2="0" y2="1"><stop offset=".002" stop-color="#73d056"/><stop offset=".025" stop-color="#69cd5b"/><stop offset=".030" stop-color="#4ec36b"/><stop offset=".034" stop-color="#67cc5c"/><stop offset=".067" stop-color="#5ac864"/><stop offset=".071" stop-color="#4ec36b"/><stop offset=".080" stop-color="#54c568"/><stop offset=".112" stop-color="#4ac16d"/><stop offset=".117" stop-color="#3fbc73"/><stop offset=".126" stop-color="#4ac16d"/><stop offset=".475" stop-color="#1fa187"/><stop offset=".530" stop-color="#20a486"/><stop offset=".553" stop-color="#1fa187"/><stop offset=".635" stop-color="#1e9b8a"/><stop offset=".722" stop-color="#1e9c89"/><stop offset=".741" stop-color="#21918c"/><stop offset=".768" stop-color="#1f948c"/><stop offset=".782" stop-color="#228d8d"/><stop offset=".805" stop-color="#218f8d"/><stop offset=".856" stop-color="#218f8d"/><stop offset=".860" stop-color="#29af7f"/><stop offset=".956" stop-color="#22a884"/><stop offset=".961" stop-color="#bade28"/><stop offset=".998" stop-color="#bddf26"/></linearGradient><linearGradient id="g56" x2="0" y2="1"><stop offset=".006" stop-color="#75d054"/><stop offset=".064" stop-color="#70cf57"/><stop offset=".076" stop-color="#54c568"/><stop offset=".087" stop-color="#6ece58"/><stop offset=".169" stop-color="#67cc5c"/><stop offset=".180" stop-color="#5cc863"/><stop offset=".192" stop-color="#67cc5c"/><stop offset=".285" stop-color="#60ca60"/><stop offset=".297" stop-color="#52c569"/><stop offset=".308" stop-color="#5ec962"/><stop offset=".448" stop-color="#48c16e"/><stop offset=".994" stop-color="#21a585"/></linearGradient><linearGradient id="g57" x2="0" y2="1"><stop offset=".026" stop-color="#1f9f88"/><stop offset=".500" stop-color="#22a884"/><stop offset=".553" stop-color="#bade28"/><stop offset=".974" stop-color="#bddf26"/></linearGradient><linearGradient id="g58" x2="0" y2="1"><stop offset=".006" stop-color="#218e8d"/><stop offset=".144" stop-color="#1f998a"/><stop offset=".443" stop-color="#24878e"/><stop offset=".638" stop-color="#238a8d"/><stop offset=".649" stop-color="#25ac82"/><stop offset=".891" stop-color="#21a585"/><stop offset=".902" stop-color="#b5de2b"/><stop offset=".994" stop-color="#bddf26"/></linearGradient><linearGradient id="g59" x2="0" y2="1"><stop offset=".002" stop-color="#58c765"/><stop offset=".025" stop-color="#52c569"/><stop offset=".030" stop-color="#3bbb75"/><stop offset=".034" stop-color="#52c569"/><stop offset=".067" stop-color="#4cc26c"/><stop offset=".071" stop-color="#42be71"/><stop offset=".076" stop-color="#4cc26c"/><stop offset=".112" stop-color="#46c06f"/><stop offset=".117" stop-color="#3bbb75"/><stop offset=".122" stop-color="#46c06f"/><stop offset=".433" stop-color="#23a983"/><stop offset=".608" stop-color="#1fa188"/><stop offset=".856" stop-color="#20928c"/><stop offset=".860" stop-color="#2eb37c"/><stop offset=".956" stop-color="#2cb17e"/><stop offset=".961" stop-color="#d2e21b"/><stop offset=".998" stop-color="#b8de29"/></linearGradient><linearGradient id="g60" x2="0" y2="1"><stop offset=".009" stop-color="#81d34d"/><stop offset=".098" stop-color="#7cd250"/><stop offset=".116" stop-color="#5ec962"/><stop offset=".134" stop-color="#7ad151"/><stop offset=".259" stop-color="#73d056"/><stop offset=".277" stop-color="#67cc5c"/><stop offset=".295" stop-color="#73d056"/><stop offset=".438" stop-color="#6ccd5a"/><stop offset=".455" stop-color="#5cc863"/><stop offset=".473" stop-color="#69cd5b"/><stop offset=".562" stop-color="#6ccd5a"/><stop offset=".723" stop-color="#84d44b"/><stop offset=".991" stop-color="#56c667"/></linearGradient><linearGradient id="g61" x2="0" y2="1"><stop offset=".011" stop-color="#81d34d"/><stop offset=".120" stop-color="#7cd250"/><stop offset=".141" stop-color="#5ec962"/><stop offset=".163" stop-color="#7ad151"/><stop offset=".315" stop-color="#75d054"/><stop offset=".337" stop-color="#67cc5c"/><stop offset=".359" stop-color="#73d056"/><stop offset=".533" stop-color="#6ece58"/><stop offset=".554" stop-color="#5ec962"/><stop offset=".576" stop-color="#6ccd5a"/><stop offset=".685" stop-color="#6ece58"/><stop offset=".793" stop-color="#7ad151"/><stop offset=".902" stop-color="#6ece58"/><stop offset=".989" stop-color="#5cc863"/></linearGradient><linearGradient id="g62" x2="0" y2="1"><stop offset=".003" stop-color="#9bd93c"/><stop offset=".035" stop-color="#aadc32"/><stop offset=".066" stop-color="#8bd646"/><stop offset=".109" stop-color="#65cb5e"/><stop offset=".157" stop-color="#54c568"/><stop offset=".497" stop-color="#22a884"/><stop offset=".827" stop-color="#1f988b"/><stop offset=".832" stop-color="#21918c"/><stop offset=".838" stop-color="#2ab07f"/><stop offset=".939" stop-color="#21a685"/><stop offset=".949" stop-color="#20a486"/><stop offset=".955" stop-color="#b2dd2d"/><stop offset=".997" stop-color="#c0df25"/></linearGradient><linearGradient id="g63" x2="0" y2="1"><stop offset=".015" stop-color="#84d44b"/><stop offset=".167" stop-color="#7fd34e"/><stop offset=".197" stop-color="#60ca60"/><stop offset=".227" stop-color="#7cd250"/><stop offset=".439" stop-color="#75d054"/><stop offset=".470" stop-color="#69cd5b"/><stop offset=".530" stop-color="#73d056"/><stop offset=".742" stop-color="#6ccd5a"/><stop offset=".773" stop-color="#86d549"/><stop offset=".803" stop-color="#8bd646"/><stop offset=".985" stop-color="#63cb5f"/></linearGradient><linearGradient id="g64" x2="0" y2="1"><stop offset=".003" stop-color="#86d549"/><stop offset=".008" stop-color="#8bd646"/><stop offset=".039" stop-color="#63cb5f"/><stop offset=".510" stop-color="#21a685"/><stop offset=".832" stop-color="#1f988b"/><stop offset=".837" stop-color="#20928c"/><stop offset=".842" stop-color="#2cb17e"/><stop offset=".951" stop-color="#2cb17e"/><stop offset=".956" stop-color="#d5e21a"/><stop offset=".997" stop-color="#c0df25"/></linearGradient><linearGradient id="g65" x2="0" y2="1"><stop offset=".003" stop-color="#46c06f"/><stop offset=".068" stop-color="#60ca60"/><stop offset=".132" stop-color="#5ec962"/><stop offset=".197" stop-color="#4ac16d"/><stop offset=".284" stop-color="#29af7f"/><stop offset=".581" stop-color="#1f958b"/><stop offset=".754" stop-color="#1f948c"/><stop offset=".824" stop-color="#21908d"/><stop offset=".830" stop-color="#23898e"/><stop offset=".835" stop-color="#24aa83"/><stop offset=".949" stop-color="#2cb17e"/><stop offset=".954" stop-color="#d5e21a"/><stop offset=".997" stop-color="#dde318"/></linearGradient><linearGradient id="g66" x2="0" y2="1"><stop offset=".002" stop-color="#58c765"/><stop offset=".025" stop-color="#54c568"/><stop offset=".030" stop-color="#3bbb75"/><stop offset=".034" stop-color="#52c569"/><stop offset=".067" stop-color="#4ec36b"/><stop offset=".071" stop-color="#44bf70"/><stop offset=".076" stop-color="#4ec36b"/><stop offset=".112" stop-color="#48c16e"/><stop offset=".117" stop-color="#3dbc74"/><stop offset=".126" stop-color="#48c16e"/><stop offset=".158" stop-color="#48c16e"/><stop offset=".209" stop-color="#60ca60"/><stop offset=".264" stop-color="#5ec962"/><stop offset=".319" stop-color="#4ac16d"/><stop offset=".392" stop-color="#29af7f"/><stop offset=".644" stop-color="#1f958b"/><stop offset=".791" stop-color="#1f948c"/><stop offset=".851" stop-color="#21908d"/><stop offset=".856" stop-color="#23898e"/><stop offset=".860" stop-color="#24aa83"/><stop offset=".956" stop-color="#2cb17e"/><stop offset=".961" stop-color="#d5e21a"/><stop offset=".998" stop-color="#dde318"/></linearGradient><linearGradient id="g67" x2="0" y2="1"><stop offset=".002" stop-color="#4cc26c"/><stop offset=".017" stop-color="#54c568"/><stop offset=".022" stop-color="#4ec36b"/><stop offset=".031" stop-color="#5ec962"/><stop offset=".065" stop-color="#60ca60"/><stop offset=".070" stop-color="#54c568"/><stop offset=".075" stop-color="#60ca60"/><stop offset=".278" stop-color="#48c16e"/><stop offset=".543" stop-color="#21a585"/><stop offset=".582" stop-color="#1fa188"/><stop offset=".611" stop-color="#1e9b8a"/><stop offset=".626" stop-color="#1fa187"/><stop offset=".679" stop-color="#20928c"/><stop offset=".814" stop-color="#20938c"/><stop offset=".843" stop-color="#21918c"/><stop offset=".848" stop-color="#24878e"/><stop offset=".853" stop-color="#21a685"/><stop offset=".954" stop-color="#24aa83"/><stop offset=".959" stop-color="#c2df23"/><stop offset=".998" stop-color="#d2e21b"/></linearGradient><linearGradient id="g68" x2="0" y2="1"><stop offset=".004" stop-color="#21a585"/><stop offset=".355" stop-color="#1e9c89"/><stop offset=".395" stop-color="#1fa187"/><stop offset=".426" stop-color="#1e9d89"/><stop offset=".496" stop-color="#1e9b8a"/><stop offset=".660" stop-color="#1f978b"/><stop offset=".730" stop-color="#1fa088"/><stop offset=".754" stop-color="#218e8d"/><stop offset=".762" stop-color="#28ae80"/><stop offset=".809" stop-color="#32b67a"/><stop offset=".926" stop-color="#2cb17e"/><stop offset=".934" stop-color="#d8e219"/><stop offset=".996" stop-color="#dde318"/></linearGradient><linearGradient id="g69" x2="0" y2="1"><stop offset=".004" stop-color="#48c16e"/><stop offset=".064" stop-color="#52c569"/><stop offset=".072" stop-color="#44bf70"/><stop offset=".080" stop-color="#50c46a"/><stop offset=".345" stop-color="#34b679"/><stop offset=".473" stop-color="#25ab82"/><stop offset=".723" stop-color="#1f9e89"/><stop offset=".784" stop-color="#21a585"/><stop offset=".966" stop-color="#20928c"/><stop offset=".996" stop-color="#238a8d"/></linearGradient><linearGradient id="g70" x2="0" y2="1"><stop offset=".003" stop-color="#4cc26c"/><stop offset=".020" stop-color="#56c667"/><stop offset=".026" stop-color="#4ec36b"/><stop offset=".037" stop-color="#60ca60"/><stop offset=".077" stop-color="#69cd5b"/><stop offset=".083" stop-color="#5cc863"/><stop offset=".089" stop-color="#69cd5b"/><stop offset=".243" stop-color="#4cc26c"/><stop offset=".317" stop-color="#35b779"/><stop offset=".363" stop-color="#26ad81"/><stop offset=".711" stop-color="#218e8d"/><stop offset=".791" stop-color="#20928c"/><stop offset=".826" stop-color="#1f978b"/><stop offset=".900" stop-color="#1f988b"/><stop offset=".991" stop-color="#23898e"/><stop offset=".997" stop-color="#24868e"/></linearGradient><linearGradient id="g71" x2="0" y2="1"><stop offset=".003" stop-color="#32b67a"/><stop offset=".071" stop-color="#3aba76"/><stop offset=".303" stop-color="#21a585"/><stop offset=".378" stop-color="#1fa187"/><stop offset=".425" stop-color="#1e9d89"/><stop offset=".759" stop-color="#26828e"/><stop offset=".847" stop-color="#24868e"/><stop offset=".895" stop-color="#228b8d"/><stop offset=".949" stop-color="#228d8d"/><stop offset=".990" stop-color="#26818e"/><stop offset=".997" stop-color="#27808e"/></linearGradient><linearGradient id="g72" x2="0" y2="1"><stop offset=".008" stop-color="#25848e"/><stop offset=".119" stop-color="#1f958b"/><stop offset=".214" stop-color="#23898e"/><stop offset=".325" stop-color="#238a8d"/><stop offset=".357" stop-color="#1f948c"/><stop offset=".421" stop-color="#23898e"/><stop offset=".452" stop-color="#21918c"/><stop offset=".500" stop-color="#218e8d"/><stop offset=".516" stop-color="#2db27d"/><stop offset=".563" stop-color="#2db27d"/><stop offset=".659" stop-color="#2ab07f"/><stop offset=".738" stop-color="#23a983"/><stop offset=".849" stop-color="#28ae80"/><stop offset=".865" stop-color="#c8e020"/><stop offset=".960" stop-color="#c0df25"/><stop offset=".992" stop-color="#c0df25"/></linearGradient><linearGradient id="g73" x2="0" y2="1"><stop offset=".003" stop-color="#28ae80"/><stop offset=".052" stop-color="#3bbb75"/><stop offset=".204" stop-color="#26ad81"/><stop offset=".229" stop-color="#1e9b8a"/><stop offset=".662" stop-color="#277f8e"/><stop offset=".710" stop-color="#238a8d"/><stop offset=".808" stop-color="#25858e"/><stop offset=".814" stop-color="#21a585"/><stop offset=".942" stop-color="#24aa83"/><stop offset=".948" stop-color="#c5e021"/><stop offset=".997" stop-color="#c8e020"/></linearGradient><linearGradient id="g74" x2="0" y2="1"><stop offset=".002" stop-color="#4cc26c"/><stop offset=".025" stop-color="#46c06f"/><stop offset=".030" stop-color="#32b67a"/><stop offset=".034" stop-color="#46c06f"/><stop offset=".067" stop-color="#42be71"/><stop offset=".071" stop-color="#38b977"/><stop offset=".080" stop-color="#40bd72"/><stop offset=".112" stop-color="#3dbc74"/><stop offset=".117" stop-color="#32b67a"/><stop offset=".126" stop-color="#3bbb75"/><stop offset=".461" stop-color="#1fa088"/><stop offset=".805" stop-color="#228b8d"/><stop offset=".856" stop-color="#228c8d"/><stop offset=".860" stop-color="#26ad81"/><stop offset=".956" stop-color="#27ad81"/><stop offset=".961" stop-color="#d0e11c"/><stop offset=".998" stop-color="#d2e21b"/></linearGradient><linearGradient id="g75" x2="0" y2="1"><stop offset=".004" stop-color="#28ae80"/><stop offset=".078" stop-color="#32b67a"/><stop offset=".295" stop-color="#1fa187"/><stop offset=".549" stop-color="#23898e"/><stop offset=".862" stop-color="#277e8e"/><stop offset=".892" stop-color="#228b8d"/><stop offset=".981" stop-color="#26828e"/><stop offset=".996" stop-color="#26818e"/></linearGradient><linearGradient id="g76" x2="0" y2="1"><stop offset=".009" stop-color="#297b8e"/><stop offset=".098" stop-color="#228b8d"/><stop offset=".438" stop-color="#25838e"/><stop offset=".455" stop-color="#20a386"/><stop offset=".652" stop-color="#24aa83"/><stop offset=".830" stop-color="#22a884"/><stop offset=".848" stop-color="#cae11f"/><stop offset=".991" stop-color="#cde11d"/></linearGradient><linearGradient id="g77" x2="0" y2="1"><stop offset=".002" stop-color="#46c06f"/><stop offset=".025" stop-color="#42be71"/><stop offset=".030" stop-color="#2eb37c"/><stop offset=".034" stop-color="#40bd72"/><stop offset=".067" stop-color="#3dbc74"/><stop offset=".071" stop-color="#35b779"/><stop offset=".080" stop-color="#3bbb75"/><stop offset=".112" stop-color="#38b977"/><stop offset=".117" stop-color="#2fb47c"/><stop offset=".126" stop-color="#38b977"/><stop offset=".456" stop-color="#1f9e89"/><stop offset=".810" stop-color="#23888e"/><stop offset=".856" stop-color="#23888e"/><stop offset=".860" stop-color="#23a983"/><stop offset=".956" stop-color="#24aa83"/><stop offset=".961" stop-color="#cde11d"/><stop offset=".998" stop-color="#cde11d"/></linearGradient><linearGradient id="g78" x2="0" y2="1"><stop offset=".006" stop-color="#25858e"/><stop offset=".617" stop-color="#26818e"/><stop offset=".650" stop-color="#228c8d"/><stop offset=".661" stop-color="#24aa83"/><stop offset=".739" stop-color="#24aa83"/><stop offset=".761" stop-color="#2ab07f"/><stop offset=".817" stop-color="#24aa83"/><stop offset=".872" stop-color="#34b679"/><stop offset=".894" stop-color="#31b57b"/><stop offset=".906" stop-color="#e7e419"/><stop offset=".928" stop-color="#dae319"/><stop offset=".983" stop-color="#dfe318"/><stop offset=".994" stop-color="#dde318"/></linearGradient><linearGradient id="g79" x2="0" y2="1"><stop offset=".002" stop-color="#40bd72"/><stop offset=".025" stop-color="#3bbb75"/><stop offset=".030" stop-color="#2ab07f"/><stop offset=".034" stop-color="#3bbb75"/><stop offset=".067" stop-color="#37b878"/><stop offset=".071" stop-color="#2fb47c"/><stop offset=".085" stop-color="#35b779"/><stop offset=".112" stop-color="#35b779"/><stop offset=".117" stop-color="#2db27d"/><stop offset=".131" stop-color="#35b779"/><stop offset=".337" stop-color="#29af7f"/><stop offset=".663" stop-color="#1f958b"/><stop offset=".722" stop-color="#1f948c"/><stop offset=".741" stop-color="#1fa187"/><stop offset=".778" stop-color="#21908d"/><stop offset=".796" stop-color="#1f9a8a"/><stop offset=".823" stop-color="#218f8d"/><stop offset=".851" stop-color="#21918c"/><stop offset=".856" stop-color="#1f968b"/><stop offset=".860" stop-color="#37b878"/><stop offset=".911" stop-color="#20a486"/><stop offset=".956" stop-color="#21a585"/><stop offset=".961" stop-color="#cae11f"/><stop offset=".998" stop-color="#cae11f"/></linearGradient><linearGradient id="g80" x2="0" y2="1"><stop offset=".002" stop-color="#3fbc73"/><stop offset=".025" stop-color="#3bbb75"/><stop offset=".030" stop-color="#29af7f"/><stop offset=".034" stop-color="#3aba76"/><stop offset=".067" stop-color="#37b878"/><stop offset=".071" stop-color="#2eb37c"/><stop offset=".089" stop-color="#34b679"/><stop offset=".112" stop-color="#32b67a"/><stop offset=".117" stop-color="#2ab07f"/><stop offset=".144" stop-color="#2fb47c"/><stop offset=".452" stop-color="#1f978b"/><stop offset=".759" stop-color="#29798e"/><stop offset=".856" stop-color="#2a788e"/><stop offset=".860" stop-color="#1f998a"/><stop offset=".956" stop-color="#1f998a"/><stop offset=".961" stop-color="#a8db34"/><stop offset=".998" stop-color="#a8db34"/></linearGradient><linearGradient id="g81" x2="0" y2="1"><stop offset=".003" stop-color="#25ac82"/><stop offset=".419" stop-color="#238a8d"/><stop offset=".772" stop-color="#287c8e"/><stop offset=".823" stop-color="#277e8e"/><stop offset=".829" stop-color="#1f9f88"/><stop offset=".924" stop-color="#21a685"/><stop offset=".947" stop-color="#20a486"/><stop offset=".952" stop-color="#cde11d"/><stop offset=".980" stop-color="#d2e21b"/><stop offset=".992" stop-color="#ece51b"/><stop offset=".997" stop-color="#efe51c"/></linearGradient><linearGradient id="g82" x2="0" y2="1"><stop offset=".004" stop-color="#25ab82"/><stop offset=".401" stop-color="#1f9a8a"/><stop offset=".780" stop-color="#297b8e"/><stop offset=".996" stop-color="#2c738e"/></linearGradient><linearGradient id="g83" x2="0" y2="1"><stop offset=".006" stop-color="#228b8d"/><stop offset=".747" stop-color="#25858e"/><stop offset=".994" stop-color="#1f988b"/></linearGradient><linearGradient id="g84" x2="0" y2="1"><stop offset=".014" stop-color="#26828e"/><stop offset=".635" stop-color="#1f988b"/><stop offset=".662" stop-color="#25858e"/><stop offset=".689" stop-color="#21a685"/><stop offset=".986" stop-color="#3dbc74"/></linearGradient><linearGradient id="g85" x2="0" y2="1"><stop offset=".017" stop-color="#22a884"/><stop offset=".350" stop-color="#3dbc74"/><stop offset=".383" stop-color="#22a884"/><stop offset=".683" stop-color="#23a983"/><stop offset=".717" stop-color="#dde318"/><stop offset=".983" stop-color="#dfe318"/></linearGradient><linearGradient id="g86" x2="0" y2="1"><stop offset=".010" stop-color="#24878e"/><stop offset=".150" stop-color="#20928c"/><stop offset=".190" stop-color="#1fa088"/><stop offset=".270" stop-color="#20928c"/><stop offset=".710" stop-color="#21908d"/><stop offset=".810" stop-color="#1f9a8a"/><stop offset=".990" stop-color="#287d8e"/></linearGradient><linearGradient id="g87" x2="0" y2="1"><stop offset=".010" stop-color="#23898e"/><stop offset=".255" stop-color="#1f998a"/><stop offset=".480" stop-color="#21918c"/><stop offset=".765" stop-color="#228b8d"/><stop offset=".990" stop-color="#287d8e"/></linearGradient><linearGradient id="g88" x2="0" y2="1"><stop offset=".007" stop-color="#20928c"/><stop offset=".113" stop-color="#1f998a"/><stop offset=".167" stop-color="#1f978b"/><stop offset=".260" stop-color="#228c8d"/><stop offset=".527" stop-color="#228d8d"/><stop offset=".780" stop-color="#218e8d"/><stop offset=".833" stop-color="#23898e"/><stop offset=".887" stop-color="#26818e"/><stop offset=".913" stop-color="#27808e"/><stop offset=".927" stop-color="#1fa287"/><stop offset=".993" stop-color="#1fa188"/></linearGradient><linearGradient id="g89" x2="0" y2="1"><stop offset=".006" stop-color="#1f978b"/><stop offset=".206" stop-color="#1e9b8a"/><stop offset=".331" stop-color="#20928c"/><stop offset=".494" stop-color="#1f968b"/><stop offset=".556" stop-color="#228c8d"/><stop offset=".694" stop-color="#228b8d"/><stop offset=".731" stop-color="#218f8d"/><stop offset=".919" stop-color="#27808e"/><stop offset=".931" stop-color="#1fa287"/><stop offset=".994" stop-color="#1fa088"/></linearGradient><linearGradient id="g90" x2="0" y2="1"><stop offset=".006" stop-color="#1f9a8a"/><stop offset=".294" stop-color="#1e9c89"/><stop offset=".469" stop-color="#20928c"/><stop offset=".544" stop-color="#1f968b"/><stop offset=".594" stop-color="#21908d"/><stop offset=".756" stop-color="#218f8d"/><stop offset=".806" stop-color="#23898e"/><stop offset=".894" stop-color="#218f8d"/><stop offset=".981" stop-color="#277e8e"/><stop offset=".994" stop-color="#1fa088"/></linearGradient><linearGradient id="g91" x2="0" y2="1"><stop offset=".008" stop-color="#218f8d"/><stop offset=".158" stop-color="#20938c"/><stop offset=".258" stop-color="#20928c"/><stop offset=".442" stop-color="#20928c"/><stop offset=".658" stop-color="#228d8d"/><stop offset=".758" stop-color="#228d8d"/><stop offset=".825" stop-color="#26828e"/><stop offset=".892" stop-color="#238a8d"/><stop offset=".992" stop-color="#287d8e"/></linearGradient><linearGradient id="g92" x2="0" y2="1"><stop offset=".005" stop-color="#1fa088"/><stop offset=".076" stop-color="#20a486"/><stop offset=".126" stop-color="#1fa187"/><stop offset=".308" stop-color="#1e9b8a"/><stop offset=".500" stop-color="#1e9c89"/><stop offset=".540" stop-color="#21918c"/><stop offset=".601" stop-color="#1f948c"/><stop offset=".631" stop-color="#228d8d"/><stop offset=".682" stop-color="#218f8d"/><stop offset=".793" stop-color="#218f8d"/><stop offset=".803" stop-color="#29af7f"/><stop offset=".995" stop-color="#22a884"/></linearGradient><linearGradient id="g93" x2="0" y2="1"><stop offset=".008" stop-color="#218f8d"/><stop offset=".114" stop-color="#1f978b"/><stop offset=".189" stop-color="#22a785"/><stop offset=".341" stop-color="#1e9b8a"/><stop offset=".402" stop-color="#1f988b"/><stop offset=".644" stop-color="#1fa287"/><stop offset=".735" stop-color="#1fa287"/><stop offset=".780" stop-color="#20928c"/><stop offset=".871" stop-color="#1fa187"/><stop offset=".886" stop-color="#1f9e89"/><stop offset=".902" stop-color="#2eb37c"/><stop offset=".992" stop-color="#1f9f88"/></linearGradient><linearGradient id="g94" x2="0" y2="1"><stop offset=".008" stop-color="#228d8d"/><stop offset=".127" stop-color="#1f978b"/><stop offset=".178" stop-color="#20928c"/><stop offset=".347" stop-color="#1f9a8a"/><stop offset=".415" stop-color="#1f948c"/><stop offset=".619" stop-color="#20938c"/><stop offset=".686" stop-color="#20938c"/><stop offset=".737" stop-color="#1f9a8a"/><stop offset=".788" stop-color="#218e8d"/><stop offset=".890" stop-color="#20928c"/><stop offset=".907" stop-color="#218e8d"/><stop offset=".924" stop-color="#21a585"/><stop offset=".992" stop-color="#1f9f88"/></linearGradient><linearGradient id="g95" x2="0" y2="1"><stop offset=".008" stop-color="#228d8d"/><stop offset=".119" stop-color="#1f988b"/><stop offset=".246" stop-color="#1f978b"/><stop offset=".294" stop-color="#1f9f88"/><stop offset=".389" stop-color="#20928c"/><stop offset=".437" stop-color="#1f9e89"/><stop offset=".595" stop-color="#21908d"/><stop offset=".706" stop-color="#1f988b"/><stop offset=".849" stop-color="#228b8d"/><stop offset=".865" stop-color="#1fa187"/><stop offset=".992" stop-color="#1f9f88"/></linearGradient><linearGradient id="g96" x2="0" y2="1"><stop offset=".006" stop-color="#218e8d"/><stop offset=".154" stop-color="#1f998a"/><stop offset=".475" stop-color="#24878e"/><stop offset=".685" stop-color="#238a8d"/><stop offset=".698" stop-color="#25ac82"/><stop offset=".957" stop-color="#21a585"/><stop offset=".969" stop-color="#b5de2b"/><stop offset=".994" stop-color="#b5de2b"/></linearGradient><linearGradient id="g97" x2="0" y2="1"><stop offset=".007" stop-color="#21a685"/><stop offset=".190" stop-color="#1fa188"/><stop offset=".275" stop-color="#1e9b8a"/><stop offset=".317" stop-color="#1fa187"/><stop offset=".472" stop-color="#20928c"/><stop offset=".866" stop-color="#20938c"/><stop offset=".951" stop-color="#21918c"/><stop offset=".965" stop-color="#24878e"/><stop offset=".979" stop-color="#21a685"/><stop offset=".993" stop-color="#21a585"/></linearGradient><linearGradient id="g98" x2="0" y2="1"><stop offset=".007" stop-color="#1f998a"/><stop offset=".101" stop-color="#1fa187"/><stop offset=".155" stop-color="#1e9d89"/><stop offset=".277" stop-color="#1e9b8a"/><stop offset=".561" stop-color="#1f978b"/><stop offset=".682" stop-color="#1fa088"/><stop offset=".723" stop-color="#218e8d"/><stop offset=".736" stop-color="#28ae80"/><stop offset=".818" stop-color="#32b67a"/><stop offset=".993" stop-color="#2ab07f"/></linearGradient><linearGradient id="g99" x2="0" y2="1"><stop offset=".017" stop-color="#218e8d"/><stop offset=".583" stop-color="#20928c"/><stop offset=".983" stop-color="#25858e"/></linearGradient><linearGradient id="g100" x2="0" y2="1"><stop offset=".010" stop-color="#228c8d"/><stop offset=".250" stop-color="#1f978b"/><stop offset=".510" stop-color="#1f988b"/><stop offset=".830" stop-color="#23898e"/><stop offset=".870" stop-color="#277f8e"/><stop offset=".890" stop-color="#1fa088"/><stop offset=".990" stop-color="#1f9e89"/></linearGradient><linearGradient id="g101" x2="0" y2="1"><stop offset=".014" stop-color="#26818e"/><stop offset=".257" stop-color="#238a8d"/><stop offset=".635" stop-color="#228d8d"/><stop offset=".797" stop-color="#26818e"/><stop offset=".851" stop-color="#27808e"/><stop offset=".878" stop-color="#1fa088"/><stop offset=".986" stop-color="#1f9e89"/></linearGradient><linearGradient id="g102" x2="0" y2="1"><stop offset=".007" stop-color="#26828e"/><stop offset=".134" stop-color="#1f958b"/><stop offset=".218" stop-color="#23898e"/><stop offset=".317" stop-color="#238a8d"/><stop offset=".345" stop-color="#1f948c"/><stop offset=".401" stop-color="#23898e"/><stop offset=".430" stop-color="#21918c"/><stop offset=".472" stop-color="#218e8d"/><stop offset=".486" stop-color="#2db27d"/><stop offset=".528" stop-color="#2db27d"/><stop offset=".613" stop-color="#2ab07f"/><stop offset=".683" stop-color="#23a983"/><stop offset=".782" stop-color="#28ae80"/><stop offset=".796" stop-color="#c8e020"/><stop offset=".880" stop-color="#c0df25"/><stop offset=".908" stop-color="#c0df25"/><stop offset=".923" stop-color="#424086"/><stop offset=".937" stop-color="#423f85"/><stop offset=".951" stop-color="#3a538b"/><stop offset=".965" stop-color="#48186a"/><stop offset=".979" stop-color="#481769"/><stop offset=".993" stop-color="#414487"/></linearGradient><linearGradient id="g103" x2="0" y2="1"><stop offset=".008" stop-color="#277f8e"/><stop offset=".320" stop-color="#25848e"/><stop offset=".398" stop-color="#24868e"/><stop offset=".414" stop-color="#24aa83"/><stop offset=".539" stop-color="#21a685"/><stop offset=".586" stop-color="#25ac82"/><stop offset=".727" stop-color="#1fa187"/><stop offset=".742" stop-color="#1fa187"/><stop offset=".758" stop-color="#aadc32"/><stop offset=".820" stop-color="#addc30"/><stop offset=".883" stop-color="#b5de2b"/><stop offset=".898" stop-color="#404688"/><stop offset=".914" stop-color="#414487"/><stop offset=".930" stop-color="#39568c"/><stop offset=".945" stop-color="#481b6d"/><stop offset=".961" stop-color="#481a6c"/><stop offset=".977" stop-color="#414487"/><stop offset=".992" stop-color="#450457"/></linearGradient><linearGradient id="g104" x2="0" y2="1"><stop offset=".008" stop-color="#277e8e"/><stop offset=".146" stop-color="#24868e"/><stop offset=".254" stop-color="#24878e"/><stop offset=".438" stop-color="#25858e"/><stop offset=".454" stop-color="#21a585"/><stop offset=".777" stop-color="#24aa83"/><stop offset=".792" stop-color="#c5e021"/><stop offset=".915" stop-color="#c8e020"/><stop offset=".931" stop-color="#424186"/><stop offset=".946" stop-color="#424086"/><stop offset=".962" stop-color="#3a538b"/><stop offset=".977" stop-color="#481769"/><stop offset=".992" stop-color="#481769"/></linearGradient><linearGradient id="g105" x2="0" y2="1"><stop offset=".009" stop-color="#228b8d"/><stop offset=".292" stop-color="#25838e"/><stop offset=".330" stop-color="#25838e"/><stop offset=".349" stop-color="#20a386"/><stop offset=".557" stop-color="#24aa83"/><stop offset=".745" stop-color="#22a884"/><stop offset=".764" stop-color="#cae11f"/><stop offset=".915" stop-color="#cde11d"/><stop offset=".934" stop-color="#424086"/><stop offset=".953" stop-color="#423f85"/><stop offset=".972" stop-color="#3b528b"/><stop offset=".991" stop-color="#481769"/></linearGradient><linearGradient id="g106" x2="0" y2="1"><stop offset=".011" stop-color="#25838e"/><stop offset=".245" stop-color="#24878e"/><stop offset=".457" stop-color="#24868e"/><stop offset=".585" stop-color="#25858e"/><stop offset=".734" stop-color="#277e8e"/><stop offset=".755" stop-color="#25838e"/><stop offset=".777" stop-color="#22a884"/><stop offset=".989" stop-color="#1f968b"/></linearGradient><linearGradient id="g107" x2="0" y2="1"><stop offset=".012" stop-color="#26828e"/><stop offset=".314" stop-color="#228b8d"/><stop offset=".407" stop-color="#24868e"/><stop offset=".477" stop-color="#20928c"/><stop offset=".616" stop-color="#26828e"/><stop offset=".756" stop-color="#25838e"/><stop offset=".779" stop-color="#24878e"/><stop offset=".802" stop-color="#23a983"/><stop offset=".988" stop-color="#1f978b"/></linearGradient><linearGradient id="g108" x2="0" y2="1"><stop offset=".012" stop-color="#21908d"/><stop offset=".291" stop-color="#21908d"/><stop offset=".453" stop-color="#20928c"/><stop offset=".686" stop-color="#23898e"/><stop offset=".733" stop-color="#20928c"/><stop offset=".756" stop-color="#2db27d"/><stop offset=".965" stop-color="#20a486"/><stop offset=".988" stop-color="#20a486"/></linearGradient><linearGradient id="g109" x2="0" y2="1"><stop offset=".011" stop-color="#21918c"/><stop offset=".181" stop-color="#1f958b"/><stop offset=".245" stop-color="#1f958b"/><stop offset=".415" stop-color="#238a8d"/><stop offset=".755" stop-color="#24878e"/><stop offset=".777" stop-color="#24aa83"/><stop offset=".989" stop-color="#20a486"/></linearGradient><linearGradient id="g110" x2="0" y2="1"><stop offset=".008" stop-color="#27808e"/><stop offset=".246" stop-color="#23898e"/><stop offset=".364" stop-color="#218e8d"/><stop offset=".381" stop-color="#4cc26c"/><stop offset=".466" stop-color="#4cc26c"/><stop offset=".517" stop-color="#58c765"/><stop offset=".703" stop-color="#4cc26c"/><stop offset=".737" stop-color="#56c667"/><stop offset=".754" stop-color="#dfe318"/><stop offset=".856" stop-color="#eae51a"/><stop offset=".890" stop-color="#e5e419"/><stop offset=".907" stop-color="#3f4889"/><stop offset=".924" stop-color="#404688"/><stop offset=".941" stop-color="#38588c"/><stop offset=".958" stop-color="#481b6d"/><stop offset=".975" stop-color="#48186a"/><stop offset=".992" stop-color="#414487"/></linearGradient><linearGradient id="g111" x2="0" y2="1"><stop offset=".009" stop-color="#27808e"/><stop offset=".391" stop-color="#26828e"/><stop offset=".409" stop-color="#37b878"/><stop offset=".464" stop-color="#3fbc73"/><stop offset=".518" stop-color="#35b779"/><stop offset=".573" stop-color="#3bbb75"/><stop offset=".755" stop-color="#3bbb75"/><stop offset=".791" stop-color="#37b878"/><stop offset=".809" stop-color="#addc30"/><stop offset=".955" stop-color="#a0da39"/><stop offset=".973" stop-color="#433e85"/><stop offset=".991" stop-color="#433e85"/></linearGradient><linearGradient id="g112" x2="0" y2="1"><stop offset=".010" stop-color="#277e8e"/><stop offset=".276" stop-color="#24868e"/><stop offset=".296" stop-color="#38b977"/><stop offset=".622" stop-color="#32b67a"/><stop offset=".724" stop-color="#32b67a"/><stop offset=".745" stop-color="#a8db34"/><stop offset=".888" stop-color="#a8db34"/><stop offset=".908" stop-color="#a5db36"/><stop offset=".929" stop-color="#424086"/><stop offset=".949" stop-color="#423f85"/><stop offset=".969" stop-color="#3b528b"/><stop offset=".990" stop-color="#481769"/></linearGradient><linearGradient id="g113" x2="0" y2="1"><stop offset=".007" stop-color="#228d8d"/><stop offset=".261" stop-color="#218e8d"/><stop offset=".472" stop-color="#25838e"/><stop offset=".627" stop-color="#25848e"/><stop offset=".782" stop-color="#25848e"/><stop offset=".894" stop-color="#26818e"/><stop offset=".908" stop-color="#25ac82"/><stop offset=".993" stop-color="#23a983"/></linearGradient><linearGradient id="g114" x2="0" y2="1"><stop offset=".007" stop-color="#20928c"/><stop offset=".180" stop-color="#20938c"/><stop offset=".500" stop-color="#24878e"/><stop offset=".580" stop-color="#228b8d"/><stop offset=".633" stop-color="#23888e"/><stop offset=".980" stop-color="#277e8e"/><stop offset=".993" stop-color="#22a884"/></linearGradient><linearGradient id="g115" x2="0" y2="1"><stop offset=".008" stop-color="#24878e"/><stop offset=".392" stop-color="#228c8d"/><stop offset=".442" stop-color="#25848e"/><stop offset=".692" stop-color="#1f988b"/><stop offset=".775" stop-color="#1f998a"/><stop offset=".808" stop-color="#20a386"/><stop offset=".892" stop-color="#24868e"/><stop offset=".908" stop-color="#23a983"/><stop offset=".992" stop-color="#1fa287"/></linearGradient><linearGradient id="g116" x2="0" y2="1"><stop offset=".016" stop-color="#25838e"/><stop offset=".516" stop-color="#1f988b"/><stop offset=".672" stop-color="#1f998a"/><stop offset=".734" stop-color="#20a386"/><stop offset=".891" stop-color="#24868e"/><stop offset=".922" stop-color="#22a884"/><stop offset=".984" stop-color="#20a386"/></linearGradient><linearGradient id="g117" x2="0" y2="1"><stop offset=".009" stop-color="#1f988b"/><stop offset=".213" stop-color="#1f958b"/><stop offset=".491" stop-color="#21908d"/><stop offset=".713" stop-color="#24878e"/><stop offset=".731" stop-color="#2ab07f"/><stop offset=".880" stop-color="#2cb17e"/><stop offset=".991" stop-color="#22a785"/></linearGradient><linearGradient id="g118" x2="0" y2="1"><stop offset=".016" stop-color="#2a788e"/><stop offset=".435" stop-color="#297b8e"/><stop offset=".468" stop-color="#1e9d89"/><stop offset=".790" stop-color="#1fa187"/><stop offset=".984" stop-color="#1f988b"/></linearGradient><linearGradient id="g119" x2="0" y2="1"><stop offset=".010" stop-color="#29798e"/><stop offset=".260" stop-color="#277e8e"/><stop offset=".279" stop-color="#1f9f88"/><stop offset=".606" stop-color="#21a685"/><stop offset=".683" stop-color="#20a486"/><stop offset=".702" stop-color="#cde11d"/><stop offset=".798" stop-color="#d2e21b"/><stop offset=".837" stop-color="#ece51b"/><stop offset=".856" stop-color="#efe51c"/><stop offset=".875" stop-color="#3e4c8a"/><stop offset=".894" stop-color="#3e4989"/><stop offset=".913" stop-color="#375a8c"/><stop offset=".933" stop-color="#481f70"/><stop offset=".952" stop-color="#481b6d"/><stop offset=".971" stop-color="#404588"/><stop offset=".990" stop-color="#450457"/></linearGradient><linearGradient id="g120" x2="0" y2="1"><stop offset=".010" stop-color="#277e8e"/><stop offset=".230" stop-color="#25838e"/><stop offset=".270" stop-color="#228c8d"/><stop offset=".290" stop-color="#24aa83"/><stop offset=".430" stop-color="#24aa83"/><stop offset=".470" stop-color="#2ab07f"/><stop offset=".570" stop-color="#24aa83"/><stop offset=".670" stop-color="#34b679"/><stop offset=".710" stop-color="#31b57b"/><stop offset=".730" stop-color="#e7e419"/><stop offset=".770" stop-color="#dae319"/><stop offset=".870" stop-color="#dfe318"/><stop offset=".890" stop-color="#dde318"/><stop offset=".910" stop-color="#424186"/><stop offset=".930" stop-color="#424086"/><stop offset=".950" stop-color="#3a538b"/><stop offset=".970" stop-color="#481769"/><stop offset=".990" stop-color="#481769"/></linearGradient><linearGradient id="g121" x2="0" y2="1"><stop offset=".003" stop-color="#63cb5f"/><stop offset=".030" stop-color="#5cc863"/><stop offset=".035" stop-color="#44bf70"/><stop offset=".040" stop-color="#5ac864"/><stop offset=".078" stop-color="#56c667"/><stop offset=".083" stop-color="#4ac16d"/><stop offset=".094" stop-color="#54c568"/><stop offset=".132" stop-color="#50c46a"/><stop offset=".137" stop-color="#44bf70"/><stop offset=".148" stop-color="#4ec36b"/><stop offset=".556" stop-color="#1fa287"/><stop offset=".954" stop-color="#23898e"/><stop offset=".997" stop-color="#23898e"/></linearGradient><linearGradient id="g122" x2="0" y2="1"><stop offset=".002" stop-color="#7fd34e"/><stop offset=".025" stop-color="#7ad151"/><stop offset=".030" stop-color="#5cc863"/><stop offset=".034" stop-color="#77d153"/><stop offset=".067" stop-color="#75d054"/><stop offset=".071" stop-color="#67cc5c"/><stop offset=".076" stop-color="#75d054"/><stop offset=".112" stop-color="#70cf57"/><stop offset=".117" stop-color="#63cb5f"/><stop offset=".122" stop-color="#70cf57"/><stop offset=".644" stop-color="#26ad81"/><stop offset=".856" stop-color="#25ab82"/><stop offset=".860" stop-color="#98d83e"/><stop offset=".956" stop-color="#b8de29"/><stop offset=".961" stop-color="#fde725"/><stop offset=".998" stop-color="#fde725"/></linearGradient><linearGradient id="g123" x2="0" y2="1"><stop offset=".003" stop-color="#eae51a"/><stop offset=".030" stop-color="#e7e419"/><stop offset=".035" stop-color="#c8e020"/><stop offset=".040" stop-color="#e7e419"/><stop offset=".078" stop-color="#e5e419"/><stop offset=".083" stop-color="#d8e219"/><stop offset=".089" stop-color="#e5e419"/><stop offset=".132" stop-color="#e2e418"/><stop offset=".137" stop-color="#d8e219"/><stop offset=".142" stop-color="#ece51b"/><stop offset=".164" stop-color="#fde725"/><stop offset=".298" stop-color="#fde725"/><stop offset=".315" stop-color="#dae319"/><stop offset=".352" stop-color="#84d44b"/><stop offset=".411" stop-color="#4cc26c"/><stop offset=".621" stop-color="#22a785"/><stop offset=".997" stop-color="#277f8e"/></linearGradient><linearGradient id="g124" x2="0" y2="1"><stop offset=".004" stop-color="#60ca60"/><stop offset=".039" stop-color="#5cc863"/><stop offset=".046" stop-color="#42be71"/><stop offset=".053" stop-color="#5ac864"/><stop offset=".103" stop-color="#56c667"/><stop offset=".110" stop-color="#4ac16d"/><stop offset=".124" stop-color="#54c568"/><stop offset=".174" stop-color="#4ec36b"/><stop offset=".181" stop-color="#42be71"/><stop offset=".188" stop-color="#4ec36b"/><stop offset=".727" stop-color="#1fa287"/><stop offset=".996" stop-color="#21918c"/></linearGradient><linearGradient id="g125" x2="0" y2="1"><stop offset=".007" stop-color="#2fb47c"/><stop offset=".140" stop-color="#42be71"/><stop offset=".463" stop-color="#3fbc73"/><stop offset=".493" stop-color="#56c667"/><stop offset=".566" stop-color="#c0df25"/><stop offset=".596" stop-color="#cae11f"/><stop offset=".787" stop-color="#c5e021"/><stop offset=".801" stop-color="#b2dd2d"/><stop offset=".846" stop-color="#4ec36b"/><stop offset=".875" stop-color="#25ac82"/><stop offset=".993" stop-color="#20928c"/></linearGradient><linearGradient id="g126" x2="0" y2="1"><stop offset=".007" stop-color="#3dbc74"/><stop offset=".037" stop-color="#35b779"/><stop offset=".081" stop-color="#42be71"/><stop offset=".949" stop-color="#1fa287"/><stop offset=".993" stop-color="#1fa088"/></linearGradient><linearGradient id="g127" x2="0" y2="1"><stop offset=".012" stop-color="#3fbc73"/><stop offset=".083" stop-color="#48c16e"/><stop offset=".107" stop-color="#40bd72"/><stop offset=".155" stop-color="#54c568"/><stop offset=".821" stop-color="#3fbc73"/><stop offset=".988" stop-color="#27ad81"/></linearGradient><linearGradient id="g128" x2="0" y2="1"><stop offset=".003" stop-color="#fde725"/><stop offset=".030" stop-color="#fde725"/><stop offset=".036" stop-color="#e2e418"/><stop offset=".041" stop-color="#efe51c"/><stop offset=".052" stop-color="#cae11f"/><stop offset=".064" stop-color="#a2da37"/><stop offset=".075" stop-color="#98d83e"/><stop offset=".080" stop-color="#95d840"/><stop offset=".086" stop-color="#86d549"/><stop offset=".091" stop-color="#93d741"/><stop offset=".135" stop-color="#8bd646"/><stop offset=".141" stop-color="#7ad151"/><stop offset=".146" stop-color="#89d548"/><stop offset=".599" stop-color="#27ad81"/><stop offset=".876" stop-color="#20928c"/><stop offset=".997" stop-color="#238a8d"/></linearGradient><linearGradient id="g129" x2="0" y2="1"><stop offset=".006" stop-color="#46c06f"/><stop offset=".039" stop-color="#5ac864"/><stop offset=".050" stop-color="#56c667"/><stop offset=".072" stop-color="#70cf57"/><stop offset=".150" stop-color="#6ccd5a"/><stop offset=".161" stop-color="#5ec962"/><stop offset=".183" stop-color="#69cd5b"/><stop offset=".494" stop-color="#46c06f"/><stop offset=".561" stop-color="#2fb47c"/><stop offset=".794" stop-color="#26ad81"/><stop offset=".806" stop-color="#34b679"/><stop offset=".817" stop-color="#60ca60"/><stop offset=".828" stop-color="#7ad151"/><stop offset=".906" stop-color="#70cf57"/><stop offset=".961" stop-color="#28ae80"/><stop offset=".994" stop-color="#1f9a8a"/></linearGradient><linearGradient id="g130" x2="0" y2="1"><stop offset=".009" stop-color="#25838e"/><stop offset=".104" stop-color="#22a785"/><stop offset=".179" stop-color="#3bbb75"/><stop offset=".330" stop-color="#31b57b"/><stop offset=".368" stop-color="#31b57b"/><stop offset=".387" stop-color="#3dbc74"/><stop offset=".406" stop-color="#5cc863"/><stop offset=".425" stop-color="#f8e621"/><stop offset=".462" stop-color="#dde318"/><stop offset=".500" stop-color="#dde318"/><stop offset=".519" stop-color="#f6e620"/><stop offset=".594" stop-color="#fde725"/><stop offset=".708" stop-color="#fde725"/><stop offset=".764" stop-color="#ece51b"/><stop offset=".802" stop-color="#fde725"/><stop offset=".991" stop-color="#fde725"/></linearGradient><linearGradient id="g131" x2="0" y2="1"><stop offset=".003" stop-color="#40bd72"/><stop offset=".028" stop-color="#60ca60"/><stop offset=".034" stop-color="#5ec962"/><stop offset=".040" stop-color="#73d056"/><stop offset=".096" stop-color="#70cf57"/><stop offset=".519" stop-color="#26ad81"/><stop offset=".811" stop-color="#218f8d"/><stop offset=".997" stop-color="#277e8e"/></linearGradient><linearGradient id="g132" x2="0" y2="1"><stop offset=".005" stop-color="#3dbc74"/><stop offset=".036" stop-color="#46c06f"/><stop offset=".046" stop-color="#3fbc73"/><stop offset=".067" stop-color="#4ec36b"/><stop offset=".902" stop-color="#1fa187"/><stop offset=".995" stop-color="#21918c"/></linearGradient><linearGradient id="g133" x2="0" y2="1"><stop offset=".009" stop-color="#26818e"/><stop offset=".292" stop-color="#20a386"/><stop offset=".443" stop-color="#1e9c89"/><stop offset=".462" stop-color="#86d549"/><stop offset=".500" stop-color="#c8e020"/><stop offset=".519" stop-color="#c2df23"/><stop offset=".557" stop-color="#73d056"/><stop offset=".575" stop-color="#75d054"/><stop offset=".594" stop-color="#a2da37"/><stop offset=".613" stop-color="#b2dd2d"/><stop offset=".632" stop-color="#a2da37"/><stop offset=".651" stop-color="#a0da39"/><stop offset=".726" stop-color="#c5e021"/><stop offset=".783" stop-color="#cde11d"/><stop offset=".802" stop-color="#c2df23"/><stop offset=".840" stop-color="#93d741"/><stop offset=".858" stop-color="#84d44b"/><stop offset=".877" stop-color="#fde725"/><stop offset=".953" stop-color="#d5e21a"/><stop offset=".991" stop-color="#bddf26"/></linearGradient><linearGradient id="g134" x2="0" y2="1"><stop offset=".004" stop-color="#34b679"/><stop offset=".187" stop-color="#5ac864"/><stop offset=".290" stop-color="#77d153"/><stop offset=".623" stop-color="#58c765"/><stop offset=".861" stop-color="#26ad81"/><stop offset=".956" stop-color="#228d8d"/><stop offset=".996" stop-color="#277f8e"/></linearGradient><linearGradient id="g135" x2="0" y2="1"><stop offset=".003" stop-color="#2eb37c"/><stop offset=".055" stop-color="#48c16e"/><stop offset=".377" stop-color="#22a884"/><stop offset=".597" stop-color="#24868e"/><stop offset=".719" stop-color="#26818e"/><stop offset=".752" stop-color="#20928c"/><stop offset=".758" stop-color="#1fa187"/><stop offset=".771" stop-color="#42be71"/><stop offset=".777" stop-color="#4cc26c"/><stop offset=".797" stop-color="#35b779"/><stop offset=".803" stop-color="#a2da37"/><stop offset=".829" stop-color="#73d056"/><stop offset=".894" stop-color="#73d056"/><stop offset=".939" stop-color="#7fd34e"/><stop offset=".945" stop-color="#fde725"/><stop offset=".997" stop-color="#fde725"/></linearGradient><linearGradient id="g136" x2="0" y2="1"><stop offset=".003" stop-color="#4cc26c"/><stop offset=".028" stop-color="#60ca60"/><stop offset=".034" stop-color="#4cc26c"/><stop offset=".041" stop-color="#6ccd5a"/><stop offset=".084" stop-color="#77d153"/><stop offset=".091" stop-color="#6ccd5a"/><stop offset=".097" stop-color="#7ad151"/><stop offset=".147" stop-color="#84d44b"/><stop offset=".153" stop-color="#77d153"/><stop offset=".159" stop-color="#84d44b"/><stop offset=".391" stop-color="#5cc863"/><stop offset=".659" stop-color="#25ab82"/><stop offset=".997" stop-color="#238a8d"/></linearGradient><linearGradient id="g137" x2="0" y2="1"><stop offset=".013" stop-color="#27ad81"/><stop offset=".118" stop-color="#52c569"/><stop offset=".197" stop-color="#77d153"/><stop offset=".776" stop-color="#5cc863"/><stop offset=".882" stop-color="#2cb17e"/><stop offset=".987" stop-color="#1e9c89"/></linearGradient><linearGradient id="g138" x2="0" y2="1"><stop offset=".004" stop-color="#2cb17e"/><stop offset=".038" stop-color="#1e9c89"/><stop offset=".225" stop-color="#1f9f88"/><stop offset=".733" stop-color="#1f968b"/><stop offset=".742" stop-color="#58c765"/><stop offset=".826" stop-color="#6ece58"/><stop offset=".919" stop-color="#a2da37"/><stop offset=".928" stop-color="#fde725"/><stop offset=".996" stop-color="#fde725"/></linearGradient><linearGradient id="g139" x2="0" y2="1"><stop offset=".005" stop-color="#5ec962"/><stop offset=".054" stop-color="#58c765"/><stop offset=".064" stop-color="#40bd72"/><stop offset=".074" stop-color="#58c765"/><stop offset=".144" stop-color="#52c569"/><stop offset=".153" stop-color="#48c16e"/><stop offset=".163" stop-color="#52c569"/><stop offset=".243" stop-color="#4cc26c"/><stop offset=".252" stop-color="#40bd72"/><stop offset=".272" stop-color="#4ac16d"/><stop offset=".906" stop-color="#25ac82"/><stop offset=".995" stop-color="#4ac16d"/></linearGradient><linearGradient id="g140" x2="0" y2="1"><stop offset=".004" stop-color="#1fa088"/><stop offset=".082" stop-color="#37b878"/><stop offset=".145" stop-color="#86d549"/><stop offset=".184" stop-color="#c0df25"/><stop offset=".215" stop-color="#e5e419"/><stop offset=".238" stop-color="#f8e621"/><stop offset=".527" stop-color="#d5e21a"/><stop offset=".738" stop-color="#cde11d"/><stop offset=".754" stop-color="#d0e11c"/><stop offset=".762" stop-color="#fde725"/><stop offset=".996" stop-color="#fde725"/></linearGradient><linearGradient id="g141" x2="0" y2="1"><stop offset=".014" stop-color="#21908d"/><stop offset=".329" stop-color="#1f988b"/><stop offset=".871" stop-color="#238a8d"/><stop offset=".986" stop-color="#26828e"/></linearGradient><linearGradient id="g142" x2="0" y2="1"><stop offset=".004" stop-color="#5ec962"/><stop offset=".047" stop-color="#58c765"/><stop offset=".056" stop-color="#40bd72"/><stop offset=".065" stop-color="#56c667"/><stop offset=".125" stop-color="#52c569"/><stop offset=".134" stop-color="#46c06f"/><stop offset=".151" stop-color="#50c46a"/><stop offset=".211" stop-color="#4cc26c"/><stop offset=".220" stop-color="#40bd72"/><stop offset=".237" stop-color="#4ac16d"/><stop offset=".875" stop-color="#1fa187"/><stop offset=".996" stop-color="#1f9a8a"/></linearGradient><linearGradient id="g143" x2="0" y2="1"><stop offset=".008" stop-color="#2ab07f"/><stop offset=".151" stop-color="#35b779"/><stop offset=".976" stop-color="#1e9d89"/><stop offset=".992" stop-color="#1e9c89"/></linearGradient><linearGradient id="g144" x2="0" y2="1"><stop offset=".007" stop-color="#25ac82"/><stop offset=".075" stop-color="#5cc863"/><stop offset=".144" stop-color="#56c667"/><stop offset=".185" stop-color="#34b679"/><stop offset=".281" stop-color="#3fbc73"/><stop offset=".363" stop-color="#21a585"/><stop offset=".473" stop-color="#21a685"/><stop offset=".514" stop-color="#46c06f"/><stop offset=".541" stop-color="#70cf57"/><stop offset=".555" stop-color="#6ccd5a"/><stop offset=".582" stop-color="#3aba76"/><stop offset=".596" stop-color="#29af7f"/><stop offset=".610" stop-color="#2ab07f"/><stop offset=".637" stop-color="#5ec962"/><stop offset=".651" stop-color="#5ac864"/><stop offset=".664" stop-color="#37b878"/><stop offset=".678" stop-color="#22a785"/><stop offset=".692" stop-color="#1fa287"/><stop offset=".733" stop-color="#2fb47c"/><stop offset=".829" stop-color="#22a884"/><stop offset=".897" stop-color="#29af7f"/><stop offset=".938" stop-color="#1f988b"/><stop offset=".979" stop-color="#26818e"/><stop offset=".993" stop-color="#22a884"/></linearGradient><linearGradient id="g145" x2="0" y2="1"><stop offset=".010" stop-color="#24aa83"/><stop offset=".260" stop-color="#29af7f"/><stop offset=".948" stop-color="#1fa188"/><stop offset=".969" stop-color="#22a785"/><stop offset=".990" stop-color="#35b779"/></linearGradient><linearGradient id="g146" x2="0" y2="1"><stop offset=".015" stop-color="#3bbb75"/><stop offset=".132" stop-color="#48c16e"/><stop offset=".162" stop-color="#3fbc73"/><stop offset=".191" stop-color="#4ec36b"/><stop offset=".809" stop-color="#3bbb75"/><stop offset=".985" stop-color="#29af7f"/></linearGradient><linearGradient id="g147" x2="0" y2="1"><stop offset=".003" stop-color="#40bd72"/><stop offset=".013" stop-color="#40bd72"/><stop offset=".029" stop-color="#58c765"/><stop offset=".050" stop-color="#60ca60"/><stop offset=".060" stop-color="#5ec962"/><stop offset=".065" stop-color="#52c569"/><stop offset=".071" stop-color="#5ec962"/><stop offset=".411" stop-color="#40bd72"/><stop offset=".484" stop-color="#6ece58"/><stop offset=".552" stop-color="#cae11f"/><stop offset=".704" stop-color="#b5de2b"/><stop offset=".730" stop-color="#e5e419"/><stop offset=".741" stop-color="#fbe723"/><stop offset=".751" stop-color="#e7e419"/><stop offset=".767" stop-color="#b2dd2d"/><stop offset=".772" stop-color="#a2da37"/><stop offset=".777" stop-color="#a2da37"/><stop offset=".788" stop-color="#c5e021"/><stop offset=".793" stop-color="#c5e021"/><stop offset=".804" stop-color="#b5de2b"/><stop offset=".825" stop-color="#dfe318"/><stop offset=".830" stop-color="#d8e219"/><stop offset=".851" stop-color="#69cd5b"/><stop offset=".856" stop-color="#6ccd5a"/><stop offset=".861" stop-color="#8ed645"/><stop offset=".866" stop-color="#90d743"/><stop offset=".882" stop-color="#3fbc73"/><stop offset=".893" stop-color="#31b57b"/><stop offset=".908" stop-color="#2ab07f"/><stop offset=".914" stop-color="#89d548"/><stop offset=".919" stop-color="#a2da37"/><stop offset=".924" stop-color="#b0dd2f"/><stop offset=".945" stop-color="#b5de2b"/><stop offset=".950" stop-color="#aadc32"/><stop offset=".976" stop-color="#3bbb75"/><stop offset=".987" stop-color="#25ab82"/><stop offset=".997" stop-color="#21a685"/></linearGradient><linearGradient id="g148" x2="0" y2="1"><stop offset=".019" stop-color="#21a685"/><stop offset=".352" stop-color="#4ec36b"/><stop offset=".648" stop-color="#69cd5b"/><stop offset=".685" stop-color="#fde725"/><stop offset=".981" stop-color="#fde725"/></linearGradient><linearGradient id="g149" x2="0" y2="1"><stop offset=".003" stop-color="#40bd72"/><stop offset=".015" stop-color="#3dbc74"/><stop offset=".027" stop-color="#4ec36b"/><stop offset=".057" stop-color="#56c667"/><stop offset=".069" stop-color="#56c667"/><stop offset=".075" stop-color="#48c16e"/><stop offset=".081" stop-color="#54c568"/><stop offset=".590" stop-color="#1fa287"/><stop offset=".734" stop-color="#1f9f88"/><stop offset=".799" stop-color="#23a983"/><stop offset=".811" stop-color="#28ae80"/><stop offset=".829" stop-color="#60ca60"/><stop offset=".853" stop-color="#7fd34e"/><stop offset=".859" stop-color="#63cb5f"/><stop offset=".865" stop-color="#31b57b"/><stop offset=".871" stop-color="#23a983"/><stop offset=".883" stop-color="#2cb17e"/><stop offset=".889" stop-color="#4cc26c"/><stop offset=".895" stop-color="#58c765"/><stop offset=".913" stop-color="#2cb17e"/><stop offset=".919" stop-color="#2cb17e"/><stop offset=".943" stop-color="#5cc863"/><stop offset=".955" stop-color="#58c765"/><stop offset=".973" stop-color="#27ad81"/><stop offset=".979" stop-color="#26ad81"/><stop offset=".991" stop-color="#3fbc73"/><stop offset=".997" stop-color="#5ac864"/></linearGradient><linearGradient id="g150" x2="0" y2="1"><stop offset=".019" stop-color="#1f958b"/><stop offset=".130" stop-color="#2ab07f"/><stop offset=".204" stop-color="#50c46a"/><stop offset=".278" stop-color="#90d743"/><stop offset=".315" stop-color="#95d840"/><stop offset=".352" stop-color="#84d44b"/><stop offset=".389" stop-color="#95d840"/><stop offset=".426" stop-color="#c8e020"/><stop offset=".463" stop-color="#d8e219"/><stop offset=".648" stop-color="#6ccd5a"/><stop offset=".685" stop-color="#7ad151"/><stop offset=".722" stop-color="#b5de2b"/><stop offset=".759" stop-color="#ece51b"/><stop offset=".796" stop-color="#e2e418"/><stop offset=".870" stop-color="#63cb5f"/><stop offset=".907" stop-color="#37b878"/><stop offset=".944" stop-color="#20a486"/><stop offset=".981" stop-color="#37b878"/></linearGradient><linearGradient id="g151" x2="0" y2="1"><stop offset=".010" stop-color="#40bd72"/><stop offset=".050" stop-color="#3dbc74"/><stop offset=".090" stop-color="#4ec36b"/><stop offset=".190" stop-color="#56c667"/><stop offset=".230" stop-color="#56c667"/><stop offset=".250" stop-color="#48c16e"/><stop offset=".270" stop-color="#54c568"/><stop offset=".870" stop-color="#38b977"/><stop offset=".990" stop-color="#25ac82"/></linearGradient><linearGradient id="g152" x2="0" y2="1"><stop offset=".002" stop-color="#67cc5c"/><stop offset=".025" stop-color="#63cb5f"/><stop offset=".030" stop-color="#48c16e"/><stop offset=".034" stop-color="#60ca60"/><stop offset=".067" stop-color="#5cc863"/><stop offset=".071" stop-color="#50c46a"/><stop offset=".080" stop-color="#5ac864"/><stop offset=".112" stop-color="#56c667"/><stop offset=".117" stop-color="#48c16e"/><stop offset=".122" stop-color="#54c568"/><stop offset=".489" stop-color="#20a386"/><stop offset=".833" stop-color="#228b8d"/><stop offset=".856" stop-color="#228c8d"/><stop offset=".860" stop-color="#2ab07f"/><stop offset=".956" stop-color="#2eb37c"/><stop offset=".961" stop-color="#d2e21b"/><stop offset=".998" stop-color="#d5e21a"/></linearGradient><linearGradient id="g153" x2="0" y2="1"><stop offset=".011" stop-color="#21908d"/><stop offset=".076" stop-color="#25ac82"/><stop offset=".098" stop-color="#58c765"/><stop offset=".120" stop-color="#dfe318"/><stop offset=".141" stop-color="#fde725"/><stop offset=".163" stop-color="#e2e418"/><stop offset=".207" stop-color="#70cf57"/><stop offset=".228" stop-color="#75d054"/><stop offset=".250" stop-color="#b0dd2f"/><stop offset=".272" stop-color="#c5e021"/><stop offset=".337" stop-color="#84d44b"/><stop offset=".576" stop-color="#9dd93b"/><stop offset=".641" stop-color="#77d153"/><stop offset=".685" stop-color="#6ece58"/><stop offset=".707" stop-color="#8bd646"/><stop offset=".728" stop-color="#d2e21b"/><stop offset=".750" stop-color="#fde725"/><stop offset=".815" stop-color="#fde725"/><stop offset=".837" stop-color="#cde11d"/><stop offset=".859" stop-color="#81d34d"/><stop offset=".902" stop-color="#3aba76"/><stop offset=".924" stop-color="#25ac82"/><stop offset=".967" stop-color="#228c8d"/><stop offset=".989" stop-color="#26828e"/></linearGradient><linearGradient id="g154" x2="0" y2="1"><stop offset=".003" stop-color="#e2e418"/><stop offset=".030" stop-color="#b8de29"/><stop offset=".036" stop-color="#8bd646"/><stop offset=".041" stop-color="#9bd93c"/><stop offset=".064" stop-color="#5ec962"/><stop offset=".086" stop-color="#4cc26c"/><stop offset=".091" stop-color="#56c667"/><stop offset=".141" stop-color="#4cc26c"/><stop offset=".152" stop-color="#7cd250"/><stop offset=".174" stop-color="#cde11d"/><stop offset=".185" stop-color="#d8e219"/><stop offset=".218" stop-color="#d2e21b"/><stop offset=".229" stop-color="#b0dd2f"/><stop offset=".257" stop-color="#48c16e"/><stop offset=".301" stop-color="#3aba76"/><stop offset=".616" stop-color="#1f9e89"/><stop offset=".660" stop-color="#1fa088"/><stop offset=".688" stop-color="#28ae80"/><stop offset=".693" stop-color="#3bbb75"/><stop offset=".704" stop-color="#93d741"/><stop offset=".710" stop-color="#a5db36"/><stop offset=".715" stop-color="#95d840"/><stop offset=".727" stop-color="#42be71"/><stop offset=".732" stop-color="#27ad81"/><stop offset=".743" stop-color="#1fa188"/><stop offset=".787" stop-color="#20a386"/><stop offset=".843" stop-color="#1fa188"/><stop offset=".859" stop-color="#2cb17e"/><stop offset=".881" stop-color="#65cb5e"/><stop offset=".887" stop-color="#77d153"/><stop offset=".892" stop-color="#70cf57"/><stop offset=".903" stop-color="#3aba76"/><stop offset=".914" stop-color="#2ab07f"/><stop offset=".959" stop-color="#50c46a"/><stop offset=".986" stop-color="#7fd34e"/><stop offset=".992" stop-color="#67cc5c"/><stop offset=".997" stop-color="#37b878"/></linearGradient><linearGradient id="g155" x2="0" y2="1"><stop offset=".022" stop-color="#4cc26c"/><stop offset=".109" stop-color="#7cd250"/><stop offset=".283" stop-color="#cde11d"/><stop offset=".370" stop-color="#d8e219"/><stop offset=".630" stop-color="#d2e21b"/><stop offset=".717" stop-color="#b0dd2f"/><stop offset=".935" stop-color="#48c16e"/><stop offset=".978" stop-color="#40bd72"/></linearGradient><linearGradient id="g156" x2="0" y2="1"><stop offset=".036" stop-color="#efe51c"/><stop offset=".179" stop-color="#d0e11c"/><stop offset=".393" stop-color="#a2da37"/><stop offset=".464" stop-color="#75d054"/><stop offset=".536" stop-color="#84d44b"/><stop offset=".893" stop-color="#44bf70"/><stop offset=".964" stop-color="#3fbc73"/></linearGradient><linearGradient id="g157" x2="0" y2="1"><stop offset=".004" stop-color="#2ab07f"/><stop offset=".071" stop-color="#3fbc73"/><stop offset=".432" stop-color="#2db27d"/><stop offset=".485" stop-color="#60ca60"/><stop offset=".545" stop-color="#c5e021"/><stop offset=".553" stop-color="#c0df25"/><stop offset=".583" stop-color="#67cc5c"/><stop offset=".620" stop-color="#52c569"/><stop offset=".635" stop-color="#63cb5f"/><stop offset=".650" stop-color="#8ed645"/><stop offset=".658" stop-color="#b5de2b"/><stop offset=".665" stop-color="#cae11f"/><stop offset=".688" stop-color="#c5e021"/><stop offset=".695" stop-color="#cde11d"/><stop offset=".703" stop-color="#e7e419"/><stop offset=".711" stop-color="#fde725"/><stop offset=".726" stop-color="#fde725"/><stop offset=".733" stop-color="#c8e020"/><stop offset=".741" stop-color="#93d741"/><stop offset=".756" stop-color="#48c16e"/><stop offset=".763" stop-color="#40bd72"/><stop offset=".778" stop-color="#5ac864"/><stop offset=".786" stop-color="#5ac864"/><stop offset=".801" stop-color="#3dbc74"/><stop offset=".808" stop-color="#3bbb75"/><stop offset=".831" stop-color="#4cc26c"/><stop offset=".846" stop-color="#46c06f"/><stop offset=".853" stop-color="#5cc863"/><stop offset=".861" stop-color="#a0da39"/><stop offset=".868" stop-color="#aadc32"/><stop offset=".876" stop-color="#7ad151"/><stop offset=".883" stop-color="#58c765"/><stop offset=".891" stop-color="#48c16e"/><stop offset=".929" stop-color="#4ec36b"/><stop offset=".936" stop-color="#52c569"/><stop offset=".966" stop-color="#21a685"/><stop offset=".989" stop-color="#228c8d"/><stop offset=".996" stop-color="#24aa83"/></linearGradient><linearGradient id="g158" x2="0" y2="1"><stop offset=".004" stop-color="#38b977"/><stop offset=".056" stop-color="#63cb5f"/><stop offset=".248" stop-color="#69cd5b"/><stop offset=".285" stop-color="#7ad151"/><stop offset=".293" stop-color="#5cc863"/><stop offset=".300" stop-color="#2eb37c"/><stop offset=".307" stop-color="#22a785"/><stop offset=".663" stop-color="#20928c"/><stop offset=".700" stop-color="#1f9f88"/><stop offset=".707" stop-color="#23a983"/><stop offset=".715" stop-color="#35b779"/><stop offset=".722" stop-color="#5ec962"/><stop offset=".730" stop-color="#6ece58"/><stop offset=".759" stop-color="#37b878"/><stop offset=".774" stop-color="#2ab07f"/><stop offset=".781" stop-color="#2fb47c"/><stop offset=".796" stop-color="#5ec962"/><stop offset=".804" stop-color="#54c568"/><stop offset=".811" stop-color="#2eb37c"/><stop offset=".819" stop-color="#27ad81"/><stop offset=".841" stop-color="#58c765"/><stop offset=".848" stop-color="#70cf57"/><stop offset=".856" stop-color="#75d054"/><stop offset=".893" stop-color="#32b67a"/><stop offset=".907" stop-color="#25ab82"/><stop offset=".944" stop-color="#54c568"/><stop offset=".959" stop-color="#7fd34e"/><stop offset=".967" stop-color="#7fd34e"/><stop offset=".989" stop-color="#37b878"/><stop offset=".996" stop-color="#21a585"/></linearGradient><linearGradient id="g159" x2="0" y2="1"><stop offset=".003" stop-color="#6ece58"/><stop offset=".030" stop-color="#67cc5c"/><stop offset=".035" stop-color="#4ec36b"/><stop offset=".040" stop-color="#67cc5c"/><stop offset=".078" stop-color="#60ca60"/><stop offset=".083" stop-color="#56c667"/><stop offset=".089" stop-color="#60ca60"/><stop offset=".132" stop-color="#5ac864"/><stop offset=".137" stop-color="#4ec36b"/><stop offset=".148" stop-color="#58c765"/><stop offset=".583" stop-color="#20a486"/><stop offset=".997" stop-color="#23898e"/></linearGradient><linearGradient id="g160" x2="0" y2="1"><stop offset=".002" stop-color="#fde725"/><stop offset=".025" stop-color="#f6e620"/><stop offset=".030" stop-color="#d0e11c"/><stop offset=".034" stop-color="#ece51b"/><stop offset=".057" stop-color="#d0e11c"/><stop offset=".067" stop-color="#b8de29"/><stop offset=".071" stop-color="#9dd93b"/><stop offset=".076" stop-color="#a0da39"/><stop offset=".094" stop-color="#7ad151"/><stop offset=".112" stop-color="#77d153"/><stop offset=".117" stop-color="#69cd5b"/><stop offset=".122" stop-color="#77d153"/><stop offset=".493" stop-color="#34b679"/><stop offset=".502" stop-color="#48c16e"/><stop offset=".525" stop-color="#b0dd2f"/><stop offset=".530" stop-color="#9bd93c"/><stop offset=".534" stop-color="#60ca60"/><stop offset=".539" stop-color="#50c46a"/><stop offset=".567" stop-color="#c8e020"/><stop offset=".571" stop-color="#b0dd2f"/><stop offset=".576" stop-color="#6ccd5a"/><stop offset=".580" stop-color="#63cb5f"/><stop offset=".585" stop-color="#8ed645"/><stop offset=".589" stop-color="#9dd93b"/><stop offset=".608" stop-color="#60ca60"/><stop offset=".617" stop-color="#63cb5f"/><stop offset=".631" stop-color="#73d056"/><stop offset=".635" stop-color="#89d548"/><stop offset=".640" stop-color="#b5de2b"/><stop offset=".644" stop-color="#c8e020"/><stop offset=".663" stop-color="#b0dd2f"/><stop offset=".695" stop-color="#d2e21b"/><stop offset=".704" stop-color="#f1e51d"/><stop offset=".709" stop-color="#fde725"/><stop offset=".722" stop-color="#efe51c"/><stop offset=".727" stop-color="#b8de29"/><stop offset=".732" stop-color="#60ca60"/><stop offset=".736" stop-color="#46c06f"/><stop offset=".764" stop-color="#d5e21a"/><stop offset=".768" stop-color="#addc30"/><stop offset=".773" stop-color="#50c46a"/><stop offset=".778" stop-color="#38b977"/><stop offset=".791" stop-color="#86d549"/><stop offset=".796" stop-color="#a8db34"/><stop offset=".800" stop-color="#9dd93b"/><stop offset=".810" stop-color="#44bf70"/><stop offset=".814" stop-color="#42be71"/><stop offset=".819" stop-color="#67cc5c"/><stop offset=".823" stop-color="#7fd34e"/><stop offset=".837" stop-color="#90d743"/><stop offset=".856" stop-color="#73d056"/><stop offset=".860" stop-color="#c8e020"/><stop offset=".878" stop-color="#98d83e"/><stop offset=".888" stop-color="#9bd93c"/><stop offset=".901" stop-color="#b2dd2d"/><stop offset=".915" stop-color="#a2da37"/><stop offset=".947" stop-color="#63cb5f"/><stop offset=".956" stop-color="#65cb5e"/><stop offset=".961" stop-color="#fde725"/><stop offset=".998" stop-color="#fde725"/></linearGradient><linearGradient id="g161" x2="0" y2="1"><stop offset=".006" stop-color="#fde725"/><stop offset=".064" stop-color="#fde725"/><stop offset=".076" stop-color="#f1e51d"/><stop offset=".087" stop-color="#fde725"/><stop offset=".285" stop-color="#fde725"/><stop offset=".297" stop-color="#ece51b"/><stop offset=".308" stop-color="#fbe723"/><stop offset=".366" stop-color="#efe51c"/><stop offset=".401" stop-color="#c5e021"/><stop offset=".471" stop-color="#7ad151"/><stop offset=".878" stop-color="#46c06f"/><stop offset=".983" stop-color="#22a785"/><stop offset=".994" stop-color="#21a585"/></linearGradient><linearGradient id="g162" x2="0" y2="1"><stop offset=".008" stop-color="#21908d"/><stop offset=".058" stop-color="#22a785"/><stop offset=".108" stop-color="#40bd72"/><stop offset=".125" stop-color="#3fbc73"/><stop offset=".142" stop-color="#2eb37c"/><stop offset=".258" stop-color="#2eb37c"/><stop offset=".308" stop-color="#46c06f"/><stop offset=".375" stop-color="#28ae80"/><stop offset=".425" stop-color="#32b67a"/><stop offset=".442" stop-color="#42be71"/><stop offset=".458" stop-color="#46c06f"/><stop offset=".492" stop-color="#3aba76"/><stop offset=".558" stop-color="#3fbc73"/><stop offset=".608" stop-color="#2eb37c"/><stop offset=".658" stop-color="#2eb37c"/><stop offset=".708" stop-color="#52c569"/><stop offset=".725" stop-color="#52c569"/><stop offset=".758" stop-color="#32b67a"/><stop offset=".808" stop-color="#2db27d"/><stop offset=".858" stop-color="#35b779"/><stop offset=".892" stop-color="#24aa83"/><stop offset=".908" stop-color="#3bbb75"/><stop offset=".958" stop-color="#22a785"/><stop offset=".992" stop-color="#1fa088"/></linearGradient><linearGradient id="g163" x2="0" y2="1"><stop offset=".005" stop-color="#73d056"/><stop offset=".056" stop-color="#6ece58"/><stop offset=".066" stop-color="#52c569"/><stop offset=".077" stop-color="#6ccd5a"/><stop offset=".148" stop-color="#67cc5c"/><stop offset=".158" stop-color="#5ac864"/><stop offset=".179" stop-color="#65cb5e"/><stop offset=".250" stop-color="#60ca60"/><stop offset=".260" stop-color="#52c569"/><stop offset=".270" stop-color="#5ec962"/><stop offset=".934" stop-color="#27ad81"/><stop offset=".995" stop-color="#1f9f88"/></linearGradient><linearGradient id="g164" x2="0" y2="1"><stop offset=".026" stop-color="#1fa187"/><stop offset=".237" stop-color="#3bbb75"/><stop offset=".395" stop-color="#5cc863"/><stop offset=".500" stop-color="#60ca60"/><stop offset=".553" stop-color="#fde725"/><stop offset=".974" stop-color="#fde725"/></linearGradient><linearGradient id="g165" x2="0" y2="1"><stop offset=".006" stop-color="#21908d"/><stop offset=".075" stop-color="#25ac82"/><stop offset=".086" stop-color="#35b779"/><stop offset=".109" stop-color="#86d549"/><stop offset=".121" stop-color="#9bd93c"/><stop offset=".213" stop-color="#42be71"/><stop offset=".236" stop-color="#3aba76"/><stop offset=".259" stop-color="#50c46a"/><stop offset=".270" stop-color="#4ac16d"/><stop offset=".293" stop-color="#27ad81"/><stop offset=".466" stop-color="#24aa83"/><stop offset=".511" stop-color="#40bd72"/><stop offset=".534" stop-color="#4ec36b"/><stop offset=".592" stop-color="#37b878"/><stop offset=".638" stop-color="#44bf70"/><stop offset=".649" stop-color="#98d83e"/><stop offset=".741" stop-color="#7ad151"/><stop offset=".810" stop-color="#73d056"/><stop offset=".891" stop-color="#4ec36b"/><stop offset=".902" stop-color="#fde725"/><stop offset=".994" stop-color="#fde725"/></linearGradient><linearGradient id="g166" x2="0" y2="1"><stop offset=".002" stop-color="#6ece58"/><stop offset=".025" stop-color="#69cd5b"/><stop offset=".030" stop-color="#4ec36b"/><stop offset=".034" stop-color="#67cc5c"/><stop offset=".067" stop-color="#65cb5e"/><stop offset=".071" stop-color="#58c765"/><stop offset=".080" stop-color="#63cb5f"/><stop offset=".112" stop-color="#5ec962"/><stop offset=".117" stop-color="#52c569"/><stop offset=".122" stop-color="#5ec962"/><stop offset=".356" stop-color="#3fbc73"/><stop offset=".415" stop-color="#48c16e"/><stop offset=".479" stop-color="#a8db34"/><stop offset=".507" stop-color="#d2e21b"/><stop offset=".736" stop-color="#a8db34"/><stop offset=".856" stop-color="#a2da37"/><stop offset=".860" stop-color="#fde725"/><stop offset=".943" stop-color="#f8e621"/><stop offset=".956" stop-color="#eae51a"/><stop offset=".961" stop-color="#fde725"/><stop offset=".998" stop-color="#fde725"/></linearGradient><linearGradient id="g167" x2="0" y2="1"><stop offset=".009" stop-color="#fde725"/><stop offset=".795" stop-color="#fde725"/><stop offset=".830" stop-color="#e5e419"/><stop offset=".884" stop-color="#b0dd2f"/><stop offset=".973" stop-color="#5ec962"/><stop offset=".991" stop-color="#56c667"/></linearGradient><linearGradient id="g168" x2="0" y2="1"><stop offset=".011" stop-color="#fde725"/><stop offset=".989" stop-color="#fde725"/></linearGradient><linearGradient id="g169" x2="0" y2="1"><stop offset=".003" stop-color="#fde725"/><stop offset=".396" stop-color="#f8e621"/><stop offset=".540" stop-color="#d2e21b"/><stop offset=".763" stop-color="#addc30"/><stop offset=".816" stop-color="#a5db36"/><stop offset=".827" stop-color="#a0da39"/><stop offset=".832" stop-color="#89d548"/><stop offset=".838" stop-color="#e2e418"/><stop offset=".891" stop-color="#c5e021"/><stop offset=".918" stop-color="#aadc32"/><stop offset=".944" stop-color="#44bf70"/><stop offset=".949" stop-color="#3fbc73"/><stop offset=".955" stop-color="#fde725"/><stop offset=".997" stop-color="#fde725"/></linearGradient><linearGradient id="g170" x2="0" y2="1"><stop offset=".003" stop-color="#a8db34"/><stop offset=".030" stop-color="#a0da39"/><stop offset=".035" stop-color="#81d34d"/><stop offset=".040" stop-color="#a0da39"/><stop offset=".078" stop-color="#98d83e"/><stop offset=".083" stop-color="#89d548"/><stop offset=".089" stop-color="#95d840"/><stop offset=".132" stop-color="#90d743"/><stop offset=".137" stop-color="#7fd34e"/><stop offset=".142" stop-color="#8ed645"/><stop offset=".642" stop-color="#2cb17e"/><stop offset=".906" stop-color="#1f9a8a"/><stop offset=".997" stop-color="#1f978b"/></linearGradient><linearGradient id="g171" x2="0" y2="1"><stop offset=".015" stop-color="#fde725"/><stop offset=".985" stop-color="#fde725"/></linearGradient><linearGradient id="g172" x2="0" y2="1"><stop offset=".003" stop-color="#fde725"/><stop offset=".288" stop-color="#f8e621"/><stop offset=".464" stop-color="#d2e21b"/><stop offset=".666" stop-color="#b0dd2f"/><stop offset=".832" stop-color="#a8db34"/><stop offset=".837" stop-color="#93d741"/><stop offset=".842" stop-color="#efe51c"/><stop offset=".951" stop-color="#e5e419"/><stop offset=".956" stop-color="#fde725"/><stop offset=".997" stop-color="#fde725"/></linearGradient><linearGradient id="g173" x2="0" y2="1"><stop offset=".010" stop-color="#4cc26c"/><stop offset=".050" stop-color="#4ac16d"/><stop offset=".090" stop-color="#5ec962"/><stop offset=".170" stop-color="#69cd5b"/><stop offset=".230" stop-color="#67cc5c"/><stop offset=".250" stop-color="#5ac864"/><stop offset=".290" stop-color="#65cb5e"/><stop offset=".850" stop-color="#4ec36b"/><stop offset=".990" stop-color="#2db27d"/></linearGradient><linearGradient id="g174" x2="0" y2="1"><stop offset=".003" stop-color="#6ece58"/><stop offset=".030" stop-color="#69cd5b"/><stop offset=".035" stop-color="#4ec36b"/><stop offset=".040" stop-color="#67cc5c"/><stop offset=".078" stop-color="#63cb5f"/><stop offset=".083" stop-color="#56c667"/><stop offset=".094" stop-color="#60ca60"/><stop offset=".132" stop-color="#5cc863"/><stop offset=".137" stop-color="#50c46a"/><stop offset=".148" stop-color="#5ac864"/><stop offset=".616" stop-color="#20a386"/><stop offset=".997" stop-color="#21908d"/></linearGradient><linearGradient id="g175" x2="0" y2="1"><stop offset=".003" stop-color="#75d054"/><stop offset=".030" stop-color="#6ece58"/><stop offset=".035" stop-color="#54c568"/><stop offset=".040" stop-color="#6ece58"/><stop offset=".078" stop-color="#69cd5b"/><stop offset=".083" stop-color="#5cc863"/><stop offset=".094" stop-color="#67cc5c"/><stop offset=".132" stop-color="#63cb5f"/><stop offset=".137" stop-color="#56c667"/><stop offset=".142" stop-color="#63cb5f"/><stop offset=".175" stop-color="#5ec962"/><stop offset=".185" stop-color="#7fd34e"/><stop offset=".207" stop-color="#dae319"/><stop offset=".218" stop-color="#fde725"/><stop offset=".384" stop-color="#fbe723"/><stop offset=".401" stop-color="#d2e21b"/><stop offset=".433" stop-color="#7cd250"/><stop offset=".492" stop-color="#56c667"/><stop offset=".761" stop-color="#35b779"/><stop offset=".809" stop-color="#38b977"/><stop offset=".841" stop-color="#8bd646"/><stop offset=".852" stop-color="#a5db36"/><stop offset=".901" stop-color="#a2da37"/><stop offset=".965" stop-color="#3bbb75"/><stop offset=".997" stop-color="#3dbc74"/></linearGradient><linearGradient id="g176" x2="0" y2="1"><stop offset=".003" stop-color="#4cc26c"/><stop offset=".035" stop-color="#d0e11c"/><stop offset=".051" stop-color="#f4e61e"/><stop offset=".062" stop-color="#fde725"/><stop offset=".192" stop-color="#fde725"/><stop offset=".208" stop-color="#d8e219"/><stop offset=".257" stop-color="#5ac864"/><stop offset=".322" stop-color="#38b977"/><stop offset=".619" stop-color="#21a685"/><stop offset=".641" stop-color="#28ae80"/><stop offset=".668" stop-color="#60ca60"/><stop offset=".678" stop-color="#75d054"/><stop offset=".732" stop-color="#6ccd5a"/><stop offset=".781" stop-color="#2ab07f"/><stop offset=".814" stop-color="#22a884"/><stop offset=".830" stop-color="#1fa287"/><stop offset=".835" stop-color="#4cc26c"/><stop offset=".949" stop-color="#6ccd5a"/><stop offset=".954" stop-color="#fde725"/><stop offset=".997" stop-color="#fde725"/></linearGradient><linearGradient id="g177" x2="0" y2="1"><stop offset=".002" stop-color="#75d054"/><stop offset=".025" stop-color="#70cf57"/><stop offset=".030" stop-color="#56c667"/><stop offset=".034" stop-color="#70cf57"/><stop offset=".067" stop-color="#6ccd5a"/><stop offset=".071" stop-color="#5ec962"/><stop offset=".080" stop-color="#69cd5b"/><stop offset=".112" stop-color="#65cb5e"/><stop offset=".117" stop-color="#58c765"/><stop offset=".122" stop-color="#65cb5e"/><stop offset=".149" stop-color="#60ca60"/><stop offset=".158" stop-color="#81d34d"/><stop offset=".177" stop-color="#dde318"/><stop offset=".181" stop-color="#f4e61e"/><stop offset=".190" stop-color="#fde725"/><stop offset=".328" stop-color="#fde725"/><stop offset=".342" stop-color="#d5e21a"/><stop offset=".365" stop-color="#89d548"/><stop offset=".415" stop-color="#5ac864"/><stop offset=".649" stop-color="#37b878"/><stop offset=".686" stop-color="#34b679"/><stop offset=".704" stop-color="#5ec962"/><stop offset=".722" stop-color="#a0da39"/><stop offset=".732" stop-color="#a8db34"/><stop offset=".773" stop-color="#9dd93b"/><stop offset=".823" stop-color="#3bbb75"/><stop offset=".851" stop-color="#3dbc74"/><stop offset=".856" stop-color="#35b779"/><stop offset=".860" stop-color="#7fd34e"/><stop offset=".947" stop-color="#dae319"/><stop offset=".956" stop-color="#e5e419"/><stop offset=".961" stop-color="#fde725"/><stop offset=".998" stop-color="#fde725"/></linearGradient><linearGradient id="g178" x2="0" y2="1"><stop offset=".002" stop-color="#52c569"/><stop offset=".017" stop-color="#90d743"/><stop offset=".022" stop-color="#98d83e"/><stop offset=".027" stop-color="#c0df25"/><stop offset=".036" stop-color="#e2e418"/><stop offset=".065" stop-color="#f6e620"/><stop offset=".070" stop-color="#eae51a"/><stop offset=".075" stop-color="#fbe723"/><stop offset=".365" stop-color="#f8e621"/><stop offset=".461" stop-color="#d2e21b"/><stop offset=".510" stop-color="#bddf26"/><stop offset=".519" stop-color="#aadc32"/><stop offset=".558" stop-color="#cae11f"/><stop offset=".572" stop-color="#e2e418"/><stop offset=".577" stop-color="#cde11d"/><stop offset=".587" stop-color="#6ece58"/><stop offset=".592" stop-color="#56c667"/><stop offset=".606" stop-color="#46c06f"/><stop offset=".611" stop-color="#6ece58"/><stop offset=".616" stop-color="#d8e219"/><stop offset=".621" stop-color="#f8e621"/><stop offset=".626" stop-color="#d5e21a"/><stop offset=".640" stop-color="#67cc5c"/><stop offset=".645" stop-color="#52c569"/><stop offset=".659" stop-color="#3aba76"/><stop offset=".722" stop-color="#38b977"/><stop offset=".727" stop-color="#46c06f"/><stop offset=".732" stop-color="#63cb5f"/><stop offset=".737" stop-color="#6ccd5a"/><stop offset=".756" stop-color="#37b878"/><stop offset=".766" stop-color="#3dbc74"/><stop offset=".775" stop-color="#50c46a"/><stop offset=".780" stop-color="#4ec36b"/><stop offset=".790" stop-color="#37b878"/><stop offset=".804" stop-color="#2fb47c"/><stop offset=".809" stop-color="#3fbc73"/><stop offset=".819" stop-color="#93d741"/><stop offset=".824" stop-color="#9dd93b"/><stop offset=".843" stop-color="#44bf70"/><stop offset=".848" stop-color="#2ab07f"/><stop offset=".853" stop-color="#56c667"/><stop offset=".862" stop-color="#50c46a"/><stop offset=".954" stop-color="#84d44b"/><stop offset=".959" stop-color="#fde725"/><stop offset=".998" stop-color="#fde725"/></linearGradient><linearGradient id="g179" x2="0" y2="1"><stop offset=".004" stop-color="#3dbc74"/><stop offset=".082" stop-color="#81d34d"/><stop offset=".199" stop-color="#7ad151"/><stop offset=".207" stop-color="#42be71"/><stop offset=".332" stop-color="#3dbc74"/><stop offset=".340" stop-color="#46c06f"/><stop offset=".371" stop-color="#aadc32"/><stop offset=".387" stop-color="#e2e418"/><stop offset=".395" stop-color="#d8e219"/><stop offset=".410" stop-color="#73d056"/><stop offset=".418" stop-color="#73d056"/><stop offset=".434" stop-color="#d0e11c"/><stop offset=".441" stop-color="#e7e419"/><stop offset=".473" stop-color="#dfe318"/><stop offset=".480" stop-color="#d2e21b"/><stop offset=".512" stop-color="#69cd5b"/><stop offset=".527" stop-color="#5ec962"/><stop offset=".574" stop-color="#63cb5f"/><stop offset=".613" stop-color="#7fd34e"/><stop offset=".645" stop-color="#73d056"/><stop offset=".652" stop-color="#7cd250"/><stop offset=".676" stop-color="#cde11d"/><stop offset=".699" stop-color="#efe51c"/><stop offset=".707" stop-color="#fde725"/><stop offset=".730" stop-color="#fde725"/><stop offset=".738" stop-color="#c8e020"/><stop offset=".754" stop-color="#6ccd5a"/><stop offset=".762" stop-color="#c8e020"/><stop offset=".770" stop-color="#e5e419"/><stop offset=".777" stop-color="#fde725"/><stop offset=".879" stop-color="#fbe723"/><stop offset=".910" stop-color="#e2e418"/><stop offset=".926" stop-color="#e7e419"/><stop offset=".934" stop-color="#fde725"/><stop offset=".996" stop-color="#fde725"/></linearGradient><linearGradient id="g180" x2="0" y2="1"><stop offset=".009" stop-color="#3dbc74"/><stop offset=".147" stop-color="#4cc26c"/><stop offset=".560" stop-color="#3dbc74"/><stop offset=".733" stop-color="#81d34d"/><stop offset=".905" stop-color="#7fd34e"/><stop offset=".991" stop-color="#a5db36"/></linearGradient><linearGradient id="g181" x2="0" y2="1"><stop offset=".004" stop-color="#4cc26c"/><stop offset=".057" stop-color="#9bd93c"/><stop offset=".064" stop-color="#98d83e"/><stop offset=".072" stop-color="#89d548"/><stop offset=".080" stop-color="#98d83e"/><stop offset=".322" stop-color="#7ad151"/><stop offset=".367" stop-color="#2fb47c"/><stop offset=".693" stop-color="#1e9c89"/><stop offset=".708" stop-color="#1f9a8a"/><stop offset=".723" stop-color="#2ab07f"/><stop offset=".739" stop-color="#63cb5f"/><stop offset=".746" stop-color="#89d548"/><stop offset=".754" stop-color="#a0da39"/><stop offset=".867" stop-color="#a8db34"/><stop offset=".936" stop-color="#65cb5e"/><stop offset=".966" stop-color="#25ac82"/><stop offset=".996" stop-color="#238a8d"/></linearGradient><linearGradient id="g182" x2="0" y2="1"><stop offset=".003" stop-color="#54c568"/><stop offset=".020" stop-color="#98d83e"/><stop offset=".026" stop-color="#a5db36"/><stop offset=".031" stop-color="#cde11d"/><stop offset=".037" stop-color="#e5e419"/><stop offset=".049" stop-color="#fde725"/><stop offset=".214" stop-color="#f8e621"/><stop offset=".254" stop-color="#d5e21a"/><stop offset=".306" stop-color="#a5db36"/><stop offset=".311" stop-color="#93d741"/><stop offset=".329" stop-color="#42be71"/><stop offset=".334" stop-color="#2fb47c"/><stop offset=".369" stop-color="#26ad81"/><stop offset=".711" stop-color="#218e8d"/><stop offset=".757" stop-color="#218f8d"/><stop offset=".780" stop-color="#25ab82"/><stop offset=".791" stop-color="#37b878"/><stop offset=".797" stop-color="#4cc26c"/><stop offset=".803" stop-color="#6ece58"/><stop offset=".809" stop-color="#81d34d"/><stop offset=".820" stop-color="#7fd34e"/><stop offset=".826" stop-color="#6ece58"/><stop offset=".831" stop-color="#52c569"/><stop offset=".837" stop-color="#4ec36b"/><stop offset=".866" stop-color="#c0df25"/><stop offset=".883" stop-color="#dfe318"/><stop offset=".889" stop-color="#d8e219"/><stop offset=".906" stop-color="#86d549"/><stop offset=".929" stop-color="#4ec36b"/><stop offset=".957" stop-color="#32b67a"/><stop offset=".980" stop-color="#3dbc74"/><stop offset=".986" stop-color="#2db27d"/><stop offset=".991" stop-color="#1e9c89"/><stop offset=".997" stop-color="#21908d"/></linearGradient><linearGradient id="g183" x2="0" y2="1"><stop offset=".003" stop-color="#37b878"/><stop offset=".044" stop-color="#8ed645"/><stop offset=".065" stop-color="#95d840"/><stop offset=".262" stop-color="#70cf57"/><stop offset=".310" stop-color="#29af7f"/><stop offset=".371" stop-color="#22a884"/><stop offset=".378" stop-color="#38b977"/><stop offset=".384" stop-color="#5ac864"/><stop offset=".412" stop-color="#56c667"/><stop offset=".425" stop-color="#29af7f"/><stop offset=".439" stop-color="#1f968b"/><stop offset=".799" stop-color="#26828e"/><stop offset=".833" stop-color="#228b8d"/><stop offset=".847" stop-color="#21a685"/><stop offset=".867" stop-color="#5ec962"/><stop offset=".881" stop-color="#5cc863"/><stop offset=".901" stop-color="#40bd72"/><stop offset=".908" stop-color="#32b67a"/><stop offset=".915" stop-color="#37b878"/><stop offset=".929" stop-color="#6ece58"/><stop offset=".942" stop-color="#81d34d"/><stop offset=".949" stop-color="#60ca60"/><stop offset=".956" stop-color="#27ad81"/><stop offset=".963" stop-color="#1f9e89"/><stop offset=".997" stop-color="#228d8d"/></linearGradient><linearGradient id="g184" x2="0" y2="1"><stop offset=".002" stop-color="#67cc5c"/><stop offset=".025" stop-color="#63cb5f"/><stop offset=".030" stop-color="#48c16e"/><stop offset=".034" stop-color="#60ca60"/><stop offset=".067" stop-color="#5cc863"/><stop offset=".071" stop-color="#50c46a"/><stop offset=".080" stop-color="#5ac864"/><stop offset=".112" stop-color="#56c667"/><stop offset=".117" stop-color="#48c16e"/><stop offset=".122" stop-color="#54c568"/><stop offset=".489" stop-color="#20a386"/><stop offset=".704" stop-color="#1e9b8a"/><stop offset=".713" stop-color="#25ac82"/><stop offset=".727" stop-color="#60ca60"/><stop offset=".732" stop-color="#7cd250"/><stop offset=".736" stop-color="#addc30"/><stop offset=".741" stop-color="#efe51c"/><stop offset=".745" stop-color="#fbe723"/><stop offset=".750" stop-color="#d2e21b"/><stop offset=".764" stop-color="#60ca60"/><stop offset=".768" stop-color="#58c765"/><stop offset=".787" stop-color="#9bd93c"/><stop offset=".791" stop-color="#95d840"/><stop offset=".800" stop-color="#5ec962"/><stop offset=".805" stop-color="#81d34d"/><stop offset=".810" stop-color="#efe51c"/><stop offset=".814" stop-color="#fde725"/><stop offset=".819" stop-color="#d5e21a"/><stop offset=".828" stop-color="#69cd5b"/><stop offset=".833" stop-color="#7ad151"/><stop offset=".837" stop-color="#d2e21b"/><stop offset=".842" stop-color="#dae319"/><stop offset=".846" stop-color="#90d743"/><stop offset=".851" stop-color="#84d44b"/><stop offset=".856" stop-color="#b8de29"/><stop offset=".860" stop-color="#fde725"/><stop offset=".901" stop-color="#fde725"/><stop offset=".906" stop-color="#e7e419"/><stop offset=".911" stop-color="#c0df25"/><stop offset=".929" stop-color="#cae11f"/><stop offset=".938" stop-color="#e7e419"/><stop offset=".947" stop-color="#fde725"/><stop offset=".998" stop-color="#fde725"/></linearGradient><linearGradient id="g185" x2="0" y2="1"><stop offset=".008" stop-color="#1f948c"/><stop offset=".040" stop-color="#25ab82"/><stop offset=".071" stop-color="#44bf70"/><stop offset=".087" stop-color="#6ccd5a"/><stop offset=".103" stop-color="#aadc32"/><stop offset=".119" stop-color="#b5de2b"/><stop offset=".167" stop-color="#48c16e"/><stop offset=".183" stop-color="#2fb47c"/><stop offset=".198" stop-color="#2ab07f"/><stop offset=".262" stop-color="#58c765"/><stop offset=".278" stop-color="#54c568"/><stop offset=".310" stop-color="#2cb17e"/><stop offset=".325" stop-color="#42be71"/><stop offset=".341" stop-color="#a2da37"/><stop offset=".357" stop-color="#c0df25"/><stop offset=".389" stop-color="#58c765"/><stop offset=".405" stop-color="#32b67a"/><stop offset=".421" stop-color="#3bbb75"/><stop offset=".437" stop-color="#84d44b"/><stop offset=".452" stop-color="#8bd646"/><stop offset=".468" stop-color="#4cc26c"/><stop offset=".484" stop-color="#42be71"/><stop offset=".500" stop-color="#69cd5b"/><stop offset=".516" stop-color="#f4e61e"/><stop offset=".548" stop-color="#fde725"/><stop offset=".563" stop-color="#f6e620"/><stop offset=".579" stop-color="#e2e418"/><stop offset=".643" stop-color="#fde725"/><stop offset=".659" stop-color="#e2e418"/><stop offset=".675" stop-color="#93d741"/><stop offset=".690" stop-color="#6ece58"/><stop offset=".770" stop-color="#7cd250"/><stop offset=".833" stop-color="#c2df23"/><stop offset=".849" stop-color="#bddf26"/><stop offset=".865" stop-color="#fde725"/><stop offset=".992" stop-color="#fde725"/></linearGradient><linearGradient id="g186" x2="0" y2="1"><stop offset=".009" stop-color="#20938c"/><stop offset=".065" stop-color="#28ae80"/><stop offset=".120" stop-color="#4ec36b"/><stop offset=".139" stop-color="#52c569"/><stop offset=".194" stop-color="#38b977"/><stop offset=".250" stop-color="#48c16e"/><stop offset=".287" stop-color="#5ac864"/><stop offset=".306" stop-color="#56c667"/><stop offset=".361" stop-color="#26ad81"/><stop offset=".380" stop-color="#28ae80"/><stop offset=".417" stop-color="#56c667"/><stop offset=".435" stop-color="#cde11d"/><stop offset=".454" stop-color="#f1e51d"/><stop offset=".472" stop-color="#f1e51d"/><stop offset=".491" stop-color="#d2e21b"/><stop offset=".546" stop-color="#77d153"/><stop offset=".565" stop-color="#7cd250"/><stop offset=".602" stop-color="#d5e21a"/><stop offset=".620" stop-color="#fde725"/><stop offset=".639" stop-color="#f6e620"/><stop offset=".657" stop-color="#b2dd2d"/><stop offset=".676" stop-color="#8bd646"/><stop offset=".731" stop-color="#5ec962"/><stop offset=".750" stop-color="#58c765"/><stop offset=".824" stop-color="#6ccd5a"/><stop offset=".843" stop-color="#fde725"/><stop offset=".991" stop-color="#fde725"/></linearGradient><linearGradient id="g187" x2="0" y2="1"><stop offset=".014" stop-color="#2fb47c"/><stop offset=".208" stop-color="#67cc5c"/><stop offset=".792" stop-color="#4cc26c"/><stop offset=".931" stop-color="#24aa83"/><stop offset=".986" stop-color="#1fa187"/></linearGradient><linearGradient id="g188" x2="0" y2="1"><stop offset=".003" stop-color="#5ac864"/><stop offset=".030" stop-color="#54c568"/><stop offset=".035" stop-color="#3dbc74"/><stop offset=".040" stop-color="#54c568"/><stop offset=".078" stop-color="#4ec36b"/><stop offset=".083" stop-color="#44bf70"/><stop offset=".089" stop-color="#4ec36b"/><stop offset=".132" stop-color="#48c16e"/><stop offset=".137" stop-color="#3dbc74"/><stop offset=".142" stop-color="#48c16e"/><stop offset=".556" stop-color="#1fa188"/><stop offset=".954" stop-color="#24878e"/><stop offset=".997" stop-color="#24878e"/></linearGradient><linearGradient id="g189" x2="0" y2="1"><stop offset=".012" stop-color="#3fbc73"/><stop offset=".081" stop-color="#4ec36b"/><stop offset=".105" stop-color="#48c16e"/><stop offset=".151" stop-color="#5ec962"/><stop offset=".314" stop-color="#5cc863"/><stop offset=".337" stop-color="#50c46a"/><stop offset=".384" stop-color="#5ac864"/><stop offset=".826" stop-color="#48c16e"/><stop offset=".988" stop-color="#27ad81"/></linearGradient><linearGradient id="g190" x2="0" y2="1"><stop offset=".003" stop-color="#2fb47c"/><stop offset=".021" stop-color="#7cd250"/><stop offset=".034" stop-color="#c2df23"/><stop offset=".040" stop-color="#e5e419"/><stop offset=".046" stop-color="#f4e61e"/><stop offset=".198" stop-color="#d2e21b"/><stop offset=".204" stop-color="#a8db34"/><stop offset=".210" stop-color="#58c765"/><stop offset=".216" stop-color="#25ab82"/><stop offset=".223" stop-color="#1e9c89"/><stop offset=".637" stop-color="#277f8e"/><stop offset=".680" stop-color="#1f948c"/><stop offset=".686" stop-color="#1fa088"/><stop offset=".692" stop-color="#2cb17e"/><stop offset=".698" stop-color="#54c568"/><stop offset=".704" stop-color="#60ca60"/><stop offset=".716" stop-color="#3fbc73"/><stop offset=".759" stop-color="#23a983"/><stop offset=".802" stop-color="#2fb47c"/><stop offset=".808" stop-color="#28ae80"/><stop offset=".814" stop-color="#58c765"/><stop offset=".820" stop-color="#65cb5e"/><stop offset=".826" stop-color="#90d743"/><stop offset=".832" stop-color="#a5db36"/><stop offset=".857" stop-color="#9dd93b"/><stop offset=".875" stop-color="#b5de2b"/><stop offset=".881" stop-color="#b2dd2d"/><stop offset=".905" stop-color="#6ece58"/><stop offset=".912" stop-color="#75d054"/><stop offset=".924" stop-color="#aadc32"/><stop offset=".930" stop-color="#b2dd2d"/><stop offset=".942" stop-color="#9dd93b"/><stop offset=".948" stop-color="#fde725"/><stop offset=".997" stop-color="#fde725"/></linearGradient><linearGradient id="g191" x2="0" y2="1"><stop offset=".002" stop-color="#6ccd5a"/><stop offset=".025" stop-color="#67cc5c"/><stop offset=".030" stop-color="#4ec36b"/><stop offset=".034" stop-color="#67cc5c"/><stop offset=".067" stop-color="#65cb5e"/><stop offset=".071" stop-color="#5ac864"/><stop offset=".080" stop-color="#65cb5e"/><stop offset=".112" stop-color="#63cb5f"/><stop offset=".117" stop-color="#54c568"/><stop offset=".122" stop-color="#60ca60"/><stop offset=".383" stop-color="#4cc26c"/><stop offset=".732" stop-color="#50c46a"/><stop offset=".856" stop-color="#65cb5e"/><stop offset=".860" stop-color="#bddf26"/><stop offset=".956" stop-color="#c8e020"/><stop offset=".961" stop-color="#fde725"/><stop offset=".998" stop-color="#fde725"/></linearGradient><linearGradient id="g192" x2="0" y2="1"><stop offset=".015" stop-color="#26ad81"/><stop offset=".258" stop-color="#3bbb75"/><stop offset=".803" stop-color="#28ae80"/><stop offset=".985" stop-color="#1e9c89"/></linearGradient><linearGradient id="g193" x2="0" y2="1"><stop offset=".004" stop-color="#2db27d"/><stop offset=".034" stop-color="#6ece58"/><stop offset=".049" stop-color="#98d83e"/><stop offset=".063" stop-color="#a2da37"/><stop offset=".272" stop-color="#7cd250"/><stop offset=".280" stop-color="#6ccd5a"/><stop offset=".302" stop-color="#26ad81"/><stop offset=".325" stop-color="#1f998a"/><stop offset=".854" stop-color="#297b8e"/><stop offset=".862" stop-color="#23888e"/><stop offset=".869" stop-color="#1fa287"/><stop offset=".877" stop-color="#3dbc74"/><stop offset=".884" stop-color="#56c667"/><stop offset=".922" stop-color="#4ec36b"/><stop offset=".944" stop-color="#48c16e"/><stop offset=".974" stop-color="#1fa187"/><stop offset=".996" stop-color="#228c8d"/></linearGradient><linearGradient id="g194" x2="0" y2="1"><stop offset=".009" stop-color="#287c8e"/><stop offset=".098" stop-color="#1f968b"/><stop offset=".295" stop-color="#1f968b"/><stop offset=".438" stop-color="#1f978b"/><stop offset=".455" stop-color="#35b779"/><stop offset=".527" stop-color="#37b878"/><stop offset=".634" stop-color="#4cc26c"/><stop offset=".688" stop-color="#3dbc74"/><stop offset=".759" stop-color="#52c569"/><stop offset=".830" stop-color="#63cb5f"/><stop offset=".848" stop-color="#fde725"/><stop offset=".991" stop-color="#fde725"/></linearGradient><linearGradient id="g195" x2="0" y2="1"><stop offset=".002" stop-color="#67cc5c"/><stop offset=".025" stop-color="#63cb5f"/><stop offset=".030" stop-color="#4ac16d"/><stop offset=".034" stop-color="#63cb5f"/><stop offset=".067" stop-color="#60ca60"/><stop offset=".071" stop-color="#54c568"/><stop offset=".076" stop-color="#60ca60"/><stop offset=".112" stop-color="#5cc863"/><stop offset=".117" stop-color="#50c46a"/><stop offset=".122" stop-color="#5cc863"/><stop offset=".378" stop-color="#48c16e"/><stop offset=".791" stop-color="#48c16e"/><stop offset=".856" stop-color="#52c569"/><stop offset=".860" stop-color="#a5db36"/><stop offset=".956" stop-color="#b0dd2f"/><stop offset=".961" stop-color="#fde725"/><stop offset=".998" stop-color="#fde725"/></linearGradient><linearGradient id="g196" x2="0" y2="1"><stop offset=".006" stop-color="#21a585"/><stop offset=".182" stop-color="#29af7f"/><stop offset=".841" stop-color="#1fa287"/><stop offset=".924" stop-color="#1f998a"/><stop offset=".994" stop-color="#287d8e"/></linearGradient><linearGradient id="g197" x2="0" y2="1"><stop offset=".018" stop-color="#1f9a8a"/><stop offset=".839" stop-color="#23888e"/><stop offset=".982" stop-color="#27808e"/></linearGradient><linearGradient id="g198" x2="0" y2="1"><stop offset=".006" stop-color="#24868e"/><stop offset=".128" stop-color="#20938c"/><stop offset=".517" stop-color="#1f968b"/><stop offset=".617" stop-color="#20a386"/><stop offset=".628" stop-color="#2eb37c"/><stop offset=".639" stop-color="#70cf57"/><stop offset=".650" stop-color="#86d549"/><stop offset=".661" stop-color="#b2dd2d"/><stop offset=".672" stop-color="#98d83e"/><stop offset=".706" stop-color="#81d34d"/><stop offset=".728" stop-color="#89d548"/><stop offset=".739" stop-color="#b8de29"/><stop offset=".750" stop-color="#fde725"/><stop offset=".761" stop-color="#fde725"/><stop offset=".772" stop-color="#cae11f"/><stop offset=".783" stop-color="#a8db34"/><stop offset=".817" stop-color="#bade28"/><stop offset=".828" stop-color="#dfe318"/><stop offset=".839" stop-color="#fde725"/><stop offset=".994" stop-color="#fde725"/></linearGradient><linearGradient id="g199" x2="0" y2="1"><stop offset=".009" stop-color="#1fa188"/><stop offset=".194" stop-color="#27ad81"/><stop offset=".787" stop-color="#1f968b"/><stop offset=".991" stop-color="#25838e"/></linearGradient><linearGradient id="g200" x2="0" y2="1"><stop offset=".018" stop-color="#27808e"/><stop offset=".268" stop-color="#1fa088"/><stop offset=".411" stop-color="#1f9f88"/><stop offset=".446" stop-color="#4ec36b"/><stop offset=".554" stop-color="#9dd93b"/><stop offset=".589" stop-color="#addc30"/><stop offset=".732" stop-color="#aadc32"/><stop offset=".875" stop-color="#40bd72"/><stop offset=".946" stop-color="#22a785"/><stop offset=".982" stop-color="#1e9d89"/></linearGradient><linearGradient id="g201" x2="0" y2="1"><stop offset=".003" stop-color="#50c46a"/><stop offset=".030" stop-color="#4cc26c"/><stop offset=".035" stop-color="#35b779"/><stop offset=".040" stop-color="#4ac16d"/><stop offset=".078" stop-color="#46c06f"/><stop offset=".083" stop-color="#3bbb75"/><stop offset=".094" stop-color="#44bf70"/><stop offset=".132" stop-color="#3fbc73"/><stop offset=".137" stop-color="#35b779"/><stop offset=".142" stop-color="#3fbc73"/><stop offset=".524" stop-color="#1f9e89"/><stop offset=".944" stop-color="#26818e"/><stop offset=".997" stop-color="#26818e"/></linearGradient><linearGradient id="g202" x2="0" y2="1"><stop offset=".010" stop-color="#35b779"/><stop offset=".067" stop-color="#3dbc74"/><stop offset=".087" stop-color="#37b878"/><stop offset=".125" stop-color="#44bf70"/><stop offset=".260" stop-color="#42be71"/><stop offset=".279" stop-color="#38b977"/><stop offset=".337" stop-color="#40bd72"/><stop offset=".894" stop-color="#29af7f"/><stop offset=".990" stop-color="#21a585"/></linearGradient><linearGradient id="g203" x2="0" y2="1"><stop offset=".003" stop-color="#4ec36b"/><stop offset=".030" stop-color="#48c16e"/><stop offset=".035" stop-color="#34b679"/><stop offset=".040" stop-color="#48c16e"/><stop offset=".078" stop-color="#42be71"/><stop offset=".083" stop-color="#3aba76"/><stop offset=".094" stop-color="#40bd72"/><stop offset=".132" stop-color="#40bd72"/><stop offset=".137" stop-color="#37b878"/><stop offset=".148" stop-color="#40bd72"/><stop offset=".374" stop-color="#35b779"/><stop offset=".653" stop-color="#1e9d89"/><stop offset=".997" stop-color="#26828e"/></linearGradient><linearGradient id="g204" x2="0" y2="1"><stop offset=".004" stop-color="#2fb47c"/><stop offset=".104" stop-color="#44bf70"/><stop offset=".288" stop-color="#4ec36b"/><stop offset=".358" stop-color="#5cc863"/><stop offset=".542" stop-color="#3aba76"/><stop offset=".688" stop-color="#21a585"/><stop offset=".958" stop-color="#228b8d"/><stop offset=".996" stop-color="#277f8e"/></linearGradient><linearGradient id="g205" x2="0" y2="1"><stop offset=".004" stop-color="#2fb47c"/><stop offset=".037" stop-color="#32b67a"/><stop offset=".045" stop-color="#2ab07f"/><stop offset=".087" stop-color="#35b779"/><stop offset=".326" stop-color="#3fbc73"/><stop offset=".831" stop-color="#1f9f88"/><stop offset=".996" stop-color="#21918c"/></linearGradient><linearGradient id="g206" x2="0" y2="1"><stop offset=".004" stop-color="#2fb47c"/><stop offset=".034" stop-color="#34b679"/><stop offset=".042" stop-color="#2cb17e"/><stop offset=".057" stop-color="#37b878"/><stop offset=".263" stop-color="#50c46a"/><stop offset=".821" stop-color="#1fa187"/><stop offset=".996" stop-color="#228d8d"/></linearGradient><linearGradient id="g207" x2="0" y2="1"><stop offset=".013" stop-color="#1f948c"/><stop offset=".066" stop-color="#23a983"/><stop offset=".145" stop-color="#52c569"/><stop offset=".171" stop-color="#69cd5b"/><stop offset=".197" stop-color="#75d054"/><stop offset=".382" stop-color="#46c06f"/><stop offset=".408" stop-color="#56c667"/><stop offset=".461" stop-color="#b2dd2d"/><stop offset=".487" stop-color="#bade28"/><stop offset=".566" stop-color="#56c667"/><stop offset=".592" stop-color="#4cc26c"/><stop offset=".671" stop-color="#60ca60"/><stop offset=".697" stop-color="#5cc863"/><stop offset=".750" stop-color="#3bbb75"/><stop offset=".776" stop-color="#48c16e"/><stop offset=".829" stop-color="#9bd93c"/><stop offset=".855" stop-color="#efe51c"/><stop offset=".882" stop-color="#b0dd2f"/><stop offset=".908" stop-color="#70cf57"/><stop offset=".934" stop-color="#4ec36b"/><stop offset=".987" stop-color="#34b679"/></linearGradient><linearGradient id="g208" x2="0" y2="1"><stop offset=".002" stop-color="#5ec962"/><stop offset=".025" stop-color="#5ac864"/><stop offset=".030" stop-color="#40bd72"/><stop offset=".034" stop-color="#58c765"/><stop offset=".067" stop-color="#56c667"/><stop offset=".071" stop-color="#4ac16d"/><stop offset=".080" stop-color="#54c568"/><stop offset=".112" stop-color="#54c568"/><stop offset=".117" stop-color="#48c16e"/><stop offset=".122" stop-color="#54c568"/><stop offset=".300" stop-color="#50c46a"/><stop offset=".351" stop-color="#4cc26c"/><stop offset=".530" stop-color="#a5db36"/><stop offset=".690" stop-color="#5ac864"/><stop offset=".709" stop-color="#65cb5e"/><stop offset=".722" stop-color="#95d840"/><stop offset=".727" stop-color="#c2df23"/><stop offset=".732" stop-color="#fde725"/><stop offset=".750" stop-color="#fde725"/><stop offset=".755" stop-color="#dfe318"/><stop offset=".759" stop-color="#c8e020"/><stop offset=".778" stop-color="#b8de29"/><stop offset=".782" stop-color="#c8e020"/><stop offset=".787" stop-color="#eae51a"/><stop offset=".791" stop-color="#f8e621"/><stop offset=".800" stop-color="#d5e21a"/><stop offset=".810" stop-color="#b0dd2f"/><stop offset=".833" stop-color="#b2dd2d"/><stop offset=".842" stop-color="#a5db36"/><stop offset=".846" stop-color="#a8db34"/><stop offset=".856" stop-color="#d0e11c"/><stop offset=".860" stop-color="#fde725"/><stop offset=".878" stop-color="#fde725"/><stop offset=".883" stop-color="#eae51a"/><stop offset=".892" stop-color="#bddf26"/><stop offset=".901" stop-color="#90d743"/><stop offset=".906" stop-color="#86d549"/><stop offset=".956" stop-color="#93d741"/><stop offset=".961" stop-color="#fde725"/><stop offset=".998" stop-color="#fde725"/></linearGradient><linearGradient id="g209" x2="0" y2="1"><stop offset=".004" stop-color="#4cc26c"/><stop offset=".047" stop-color="#46c06f"/><stop offset=".056" stop-color="#32b67a"/><stop offset=".065" stop-color="#46c06f"/><stop offset=".125" stop-color="#40bd72"/><stop offset=".134" stop-color="#38b977"/><stop offset=".151" stop-color="#3fbc73"/><stop offset=".211" stop-color="#3dbc74"/><stop offset=".220" stop-color="#35b779"/><stop offset=".246" stop-color="#3dbc74"/><stop offset=".608" stop-color="#32b67a"/><stop offset=".996" stop-color="#1f9e89"/></linearGradient><linearGradient id="g210" x2="0" y2="1"><stop offset=".002" stop-color="#63cb5f"/><stop offset=".025" stop-color="#5ec962"/><stop offset=".030" stop-color="#46c06f"/><stop offset=".034" stop-color="#5ec962"/><stop offset=".067" stop-color="#5ac864"/><stop offset=".071" stop-color="#4ec36b"/><stop offset=".080" stop-color="#58c765"/><stop offset=".112" stop-color="#54c568"/><stop offset=".117" stop-color="#48c16e"/><stop offset=".126" stop-color="#52c569"/><stop offset=".282" stop-color="#40bd72"/><stop offset=".328" stop-color="#5cc863"/><stop offset=".429" stop-color="#42be71"/><stop offset=".475" stop-color="#20a386"/><stop offset=".764" stop-color="#24878e"/><stop offset=".856" stop-color="#24868e"/><stop offset=".860" stop-color="#22a785"/><stop offset=".956" stop-color="#22a785"/><stop offset=".961" stop-color="#d2e21b"/><stop offset=".998" stop-color="#d2e21b"/></linearGradient><linearGradient id="g211" x2="0" y2="1"><stop offset=".029" stop-color="#2b758e"/><stop offset=".500" stop-color="#228c8d"/><stop offset=".853" stop-color="#29798e"/><stop offset=".912" stop-color="#1f968b"/><stop offset=".971" stop-color="#1f958b"/></linearGradient><linearGradient id="g212" x2="0" y2="1"><stop offset=".003" stop-color="#4ec36b"/><stop offset=".035" stop-color="#4ac16d"/><stop offset=".041" stop-color="#34b679"/><stop offset=".047" stop-color="#48c16e"/><stop offset=".092" stop-color="#44bf70"/><stop offset=".098" stop-color="#3aba76"/><stop offset=".111" stop-color="#42be71"/><stop offset=".155" stop-color="#3dbc74"/><stop offset=".161" stop-color="#34b679"/><stop offset=".174" stop-color="#3bbb75"/><stop offset=".617" stop-color="#1e9d89"/><stop offset=".972" stop-color="#277e8e"/><stop offset=".997" stop-color="#2a778e"/></linearGradient><linearGradient id="g213" x2="0" y2="1"><stop offset=".028" stop-color="#2a778e"/><stop offset=".472" stop-color="#21918c"/><stop offset=".972" stop-color="#2c738e"/></linearGradient><linearGradient id="g214" x2="0" y2="1"><stop offset=".003" stop-color="#25ac82"/><stop offset=".301" stop-color="#1fa188"/><stop offset=".677" stop-color="#218f8d"/><stop offset=".756" stop-color="#1f948c"/><stop offset=".801" stop-color="#22a884"/><stop offset=".823" stop-color="#22a884"/><stop offset=".829" stop-color="#54c568"/><stop offset=".851" stop-color="#56c667"/><stop offset=".862" stop-color="#65cb5e"/><stop offset=".890" stop-color="#d0e11c"/><stop offset=".902" stop-color="#ece51b"/><stop offset=".907" stop-color="#ece51b"/><stop offset=".919" stop-color="#c8e020"/><stop offset=".935" stop-color="#9dd93b"/><stop offset=".947" stop-color="#98d83e"/><stop offset=".952" stop-color="#fde725"/><stop offset=".997" stop-color="#fde725"/></linearGradient><linearGradient id="g215" x2="0" y2="1"><stop offset=".010" stop-color="#38b977"/><stop offset=".115" stop-color="#4ec36b"/><stop offset=".135" stop-color="#3dbc74"/><stop offset=".156" stop-color="#56c667"/><stop offset=".302" stop-color="#52c569"/><stop offset=".323" stop-color="#46c06f"/><stop offset=".365" stop-color="#50c46a"/><stop offset=".510" stop-color="#4ac16d"/><stop offset=".531" stop-color="#3fbc73"/><stop offset=".552" stop-color="#4ac16d"/><stop offset=".844" stop-color="#3fbc73"/><stop offset=".990" stop-color="#22a884"/></linearGradient><linearGradient id="g216" x2="0" y2="1"><stop offset=".009" stop-color="#37b878"/><stop offset=".043" stop-color="#3dbc74"/><stop offset=".060" stop-color="#2fb47c"/><stop offset=".078" stop-color="#48c16e"/><stop offset=".147" stop-color="#54c568"/><stop offset=".198" stop-color="#52c569"/><stop offset=".216" stop-color="#46c06f"/><stop offset=".250" stop-color="#50c46a"/><stop offset=".371" stop-color="#4ac16d"/><stop offset=".388" stop-color="#3fbc73"/><stop offset=".405" stop-color="#4ac16d"/><stop offset=".853" stop-color="#42be71"/><stop offset=".974" stop-color="#44bf70"/><stop offset=".991" stop-color="#9dd93b"/></linearGradient><linearGradient id="g217" x2="0" y2="1"><stop offset=".004" stop-color="#54c568"/><stop offset=".108" stop-color="#86d549"/><stop offset=".228" stop-color="#9bd93c"/><stop offset=".384" stop-color="#81d34d"/><stop offset=".470" stop-color="#2db27d"/><stop offset=".616" stop-color="#1f998a"/><stop offset=".875" stop-color="#26828e"/><stop offset=".996" stop-color="#2c738e"/></linearGradient><linearGradient id="g218" x2="0" y2="1"><stop offset=".005" stop-color="#20938c"/><stop offset=".995" stop-color="#287d8e"/></linearGradient><linearGradient id="g219" x2="0" y2="1"><stop offset=".010" stop-color="#20938c"/><stop offset=".402" stop-color="#21a685"/><stop offset=".892" stop-color="#38b977"/><stop offset=".990" stop-color="#3dbc74"/></linearGradient><linearGradient id="g220" x2="0" y2="1"><stop offset=".006" stop-color="#228c8d"/><stop offset=".179" stop-color="#1f9f88"/><stop offset=".673" stop-color="#2cb17e"/><stop offset=".710" stop-color="#34b679"/><stop offset=".772" stop-color="#86d549"/><stop offset=".821" stop-color="#dfe318"/><stop offset=".858" stop-color="#fde725"/><stop offset=".994" stop-color="#fde725"/></linearGradient><linearGradient id="g221" x2="0" y2="1"><stop offset=".014" stop-color="#34b679"/><stop offset=".149" stop-color="#86d549"/><stop offset=".257" stop-color="#dfe318"/><stop offset=".338" stop-color="#fde725"/><stop offset=".635" stop-color="#fde725"/><stop offset=".662" stop-color="#6ece58"/><stop offset=".689" stop-color="#c8e020"/><stop offset=".716" stop-color="#dde318"/><stop offset=".743" stop-color="#fde725"/><stop offset=".986" stop-color="#fde725"/></linearGradient><linearGradient id="g222" x2="0" y2="1"><stop offset=".017" stop-color="#dde318"/><stop offset=".050" stop-color="#fde725"/><stop offset=".350" stop-color="#fde725"/><stop offset=".383" stop-color="#dde318"/><stop offset=".683" stop-color="#eae51a"/><stop offset=".717" stop-color="#fde725"/><stop offset=".983" stop-color="#fde725"/></linearGradient><linearGradient id="g223" x2="0" y2="1"><stop offset=".003" stop-color="#40bd72"/><stop offset=".030" stop-color="#3dbc74"/><stop offset=".035" stop-color="#2ab07f"/><stop offset=".040" stop-color="#3bbb75"/><stop offset=".078" stop-color="#38b977"/><stop offset=".083" stop-color="#2fb47c"/><stop offset=".099" stop-color="#37b878"/><stop offset=".132" stop-color="#34b679"/><stop offset=".137" stop-color="#2cb17e"/><stop offset=".164" stop-color="#31b57b"/><stop offset=".530" stop-color="#1f978b"/><stop offset=".938" stop-color="#287c8e"/><stop offset=".997" stop-color="#287c8e"/></linearGradient><linearGradient id="g224" x2="0" y2="1"><stop offset=".010" stop-color="#23888e"/><stop offset=".070" stop-color="#21908d"/><stop offset=".130" stop-color="#25ac82"/><stop offset=".150" stop-color="#56c667"/><stop offset=".170" stop-color="#dae319"/><stop offset=".190" stop-color="#fde725"/><stop offset=".210" stop-color="#dde318"/><stop offset=".250" stop-color="#67cc5c"/><stop offset=".270" stop-color="#67cc5c"/><stop offset=".290" stop-color="#98d83e"/><stop offset=".310" stop-color="#a8db34"/><stop offset=".350" stop-color="#75d054"/><stop offset=".370" stop-color="#6ccd5a"/><stop offset=".550" stop-color="#93d741"/><stop offset=".670" stop-color="#63cb5f"/><stop offset=".690" stop-color="#5ec962"/><stop offset=".710" stop-color="#7ad151"/><stop offset=".730" stop-color="#bddf26"/><stop offset=".750" stop-color="#efe51c"/><stop offset=".770" stop-color="#fde725"/><stop offset=".810" stop-color="#fde725"/><stop offset=".830" stop-color="#bddf26"/><stop offset=".850" stop-color="#77d153"/><stop offset=".890" stop-color="#37b878"/><stop offset=".910" stop-color="#23a983"/><stop offset=".950" stop-color="#238a8d"/><stop offset=".990" stop-color="#287d8e"/></linearGradient><linearGradient id="g225" x2="0" y2="1"><stop offset=".010" stop-color="#238a8d"/><stop offset=".153" stop-color="#1fa188"/><stop offset=".194" stop-color="#32b67a"/><stop offset=".235" stop-color="#5cc863"/><stop offset=".255" stop-color="#5ac864"/><stop offset=".296" stop-color="#29af7f"/><stop offset=".439" stop-color="#1fa188"/><stop offset=".480" stop-color="#22a884"/><stop offset=".500" stop-color="#3aba76"/><stop offset=".520" stop-color="#42be71"/><stop offset=".561" stop-color="#26ad81"/><stop offset=".745" stop-color="#20a486"/><stop offset=".806" stop-color="#21908d"/><stop offset=".990" stop-color="#287d8e"/></linearGradient><linearGradient id="g226" x2="0" y2="1"><stop offset=".007" stop-color="#1e9c89"/><stop offset=".087" stop-color="#28ae80"/><stop offset=".100" stop-color="#3bbb75"/><stop offset=".127" stop-color="#93d741"/><stop offset=".140" stop-color="#a5db36"/><stop offset=".153" stop-color="#95d840"/><stop offset=".180" stop-color="#42be71"/><stop offset=".193" stop-color="#27ad81"/><stop offset=".220" stop-color="#1fa188"/><stop offset=".327" stop-color="#20a386"/><stop offset=".460" stop-color="#1fa188"/><stop offset=".500" stop-color="#2cb17e"/><stop offset=".553" stop-color="#65cb5e"/><stop offset=".567" stop-color="#77d153"/><stop offset=".580" stop-color="#70cf57"/><stop offset=".607" stop-color="#3aba76"/><stop offset=".633" stop-color="#2ab07f"/><stop offset=".740" stop-color="#50c46a"/><stop offset=".807" stop-color="#7fd34e"/><stop offset=".820" stop-color="#67cc5c"/><stop offset=".833" stop-color="#37b878"/><stop offset=".847" stop-color="#1f968b"/><stop offset=".860" stop-color="#228b8d"/><stop offset=".913" stop-color="#238a8d"/><stop offset=".927" stop-color="#25ab82"/><stop offset=".993" stop-color="#1fa188"/></linearGradient><linearGradient id="g227" x2="0" y2="1"><stop offset=".006" stop-color="#2ab07f"/><stop offset=".094" stop-color="#65cb5e"/><stop offset=".181" stop-color="#b5de2b"/><stop offset=".194" stop-color="#addc30"/><stop offset=".244" stop-color="#4cc26c"/><stop offset=".269" stop-color="#42be71"/><stop offset=".306" stop-color="#40bd72"/><stop offset=".331" stop-color="#58c765"/><stop offset=".356" stop-color="#84d44b"/><stop offset=".369" stop-color="#aadc32"/><stop offset=".381" stop-color="#bddf26"/><stop offset=".419" stop-color="#addc30"/><stop offset=".431" stop-color="#b0dd2f"/><stop offset=".456" stop-color="#dae319"/><stop offset=".469" stop-color="#efe51c"/><stop offset=".481" stop-color="#e2e418"/><stop offset=".519" stop-color="#5cc863"/><stop offset=".531" stop-color="#3aba76"/><stop offset=".544" stop-color="#31b57b"/><stop offset=".569" stop-color="#46c06f"/><stop offset=".581" stop-color="#46c06f"/><stop offset=".606" stop-color="#2db27d"/><stop offset=".669" stop-color="#2fb47c"/><stop offset=".681" stop-color="#2eb37c"/><stop offset=".694" stop-color="#46c06f"/><stop offset=".706" stop-color="#8bd646"/><stop offset=".719" stop-color="#9dd93b"/><stop offset=".744" stop-color="#4cc26c"/><stop offset=".756" stop-color="#3aba76"/><stop offset=".806" stop-color="#31b57b"/><stop offset=".831" stop-color="#3bbb75"/><stop offset=".881" stop-color="#1fa187"/><stop offset=".919" stop-color="#228b8d"/><stop offset=".931" stop-color="#24aa83"/><stop offset=".994" stop-color="#1fa088"/></linearGradient><linearGradient id="g228" x2="0" y2="1"><stop offset=".006" stop-color="#1e9c89"/><stop offset=".094" stop-color="#2ab07f"/><stop offset=".156" stop-color="#1fa287"/><stop offset=".244" stop-color="#25ac82"/><stop offset=".294" stop-color="#54c568"/><stop offset=".319" stop-color="#67cc5c"/><stop offset=".356" stop-color="#42be71"/><stop offset=".394" stop-color="#22a785"/><stop offset=".419" stop-color="#1e9c89"/><stop offset=".469" stop-color="#26ad81"/><stop offset=".506" stop-color="#4ec36b"/><stop offset=".531" stop-color="#73d056"/><stop offset=".544" stop-color="#5ac864"/><stop offset=".556" stop-color="#28ae80"/><stop offset=".569" stop-color="#20a386"/><stop offset=".631" stop-color="#32b67a"/><stop offset=".669" stop-color="#35b779"/><stop offset=".731" stop-color="#67cc5c"/><stop offset=".744" stop-color="#5ac864"/><stop offset=".756" stop-color="#38b977"/><stop offset=".769" stop-color="#23a983"/><stop offset=".781" stop-color="#1f988b"/><stop offset=".794" stop-color="#1f948c"/><stop offset=".819" stop-color="#22a884"/><stop offset=".856" stop-color="#4ec36b"/><stop offset=".869" stop-color="#52c569"/><stop offset=".931" stop-color="#20a386"/><stop offset=".981" stop-color="#26828e"/><stop offset=".994" stop-color="#1fa088"/></linearGradient><linearGradient id="g229" x2="0" y2="1"><stop offset=".008" stop-color="#21908d"/><stop offset=".125" stop-color="#1f9f88"/><stop offset=".142" stop-color="#23a983"/><stop offset=".158" stop-color="#35b779"/><stop offset=".175" stop-color="#5ec962"/><stop offset=".192" stop-color="#6ece58"/><stop offset=".258" stop-color="#37b878"/><stop offset=".292" stop-color="#2ab07f"/><stop offset=".308" stop-color="#2fb47c"/><stop offset=".342" stop-color="#5ec962"/><stop offset=".358" stop-color="#54c568"/><stop offset=".375" stop-color="#2eb37c"/><stop offset=".392" stop-color="#27ad81"/><stop offset=".442" stop-color="#58c765"/><stop offset=".458" stop-color="#70cf57"/><stop offset=".475" stop-color="#75d054"/><stop offset=".558" stop-color="#32b67a"/><stop offset=".592" stop-color="#25ab82"/><stop offset=".675" stop-color="#54c568"/><stop offset=".708" stop-color="#7fd34e"/><stop offset=".725" stop-color="#7fd34e"/><stop offset=".775" stop-color="#37b878"/><stop offset=".792" stop-color="#21a585"/><stop offset=".808" stop-color="#20938c"/><stop offset=".825" stop-color="#1f968b"/><stop offset=".842" stop-color="#27ad81"/><stop offset=".858" stop-color="#4cc26c"/><stop offset=".875" stop-color="#58c765"/><stop offset=".908" stop-color="#2db27d"/><stop offset=".942" stop-color="#1e9b8a"/><stop offset=".992" stop-color="#287d8e"/></linearGradient><linearGradient id="g230" x2="0" y2="1"><stop offset=".005" stop-color="#3aba76"/><stop offset=".056" stop-color="#98d83e"/><stop offset=".066" stop-color="#b0dd2f"/><stop offset=".076" stop-color="#9bd93c"/><stop offset=".086" stop-color="#60ca60"/><stop offset=".096" stop-color="#50c46a"/><stop offset=".157" stop-color="#c8e020"/><stop offset=".167" stop-color="#b0dd2f"/><stop offset=".177" stop-color="#6ccd5a"/><stop offset=".187" stop-color="#63cb5f"/><stop offset=".197" stop-color="#8ed645"/><stop offset=".207" stop-color="#9dd93b"/><stop offset=".247" stop-color="#60ca60"/><stop offset=".268" stop-color="#63cb5f"/><stop offset=".298" stop-color="#73d056"/><stop offset=".308" stop-color="#89d548"/><stop offset=".318" stop-color="#b5de2b"/><stop offset=".328" stop-color="#c8e020"/><stop offset=".369" stop-color="#b0dd2f"/><stop offset=".439" stop-color="#d2e21b"/><stop offset=".460" stop-color="#f1e51d"/><stop offset=".470" stop-color="#fde725"/><stop offset=".500" stop-color="#efe51c"/><stop offset=".510" stop-color="#b8de29"/><stop offset=".520" stop-color="#60ca60"/><stop offset=".530" stop-color="#46c06f"/><stop offset=".591" stop-color="#d5e21a"/><stop offset=".601" stop-color="#addc30"/><stop offset=".611" stop-color="#50c46a"/><stop offset=".621" stop-color="#38b977"/><stop offset=".652" stop-color="#86d549"/><stop offset=".662" stop-color="#a8db34"/><stop offset=".672" stop-color="#9dd93b"/><stop offset=".692" stop-color="#44bf70"/><stop offset=".702" stop-color="#42be71"/><stop offset=".712" stop-color="#67cc5c"/><stop offset=".722" stop-color="#7fd34e"/><stop offset=".753" stop-color="#90d743"/><stop offset=".793" stop-color="#73d056"/><stop offset=".803" stop-color="#c8e020"/><stop offset=".843" stop-color="#98d83e"/><stop offset=".864" stop-color="#9bd93c"/><stop offset=".894" stop-color="#b2dd2d"/><stop offset=".924" stop-color="#a2da37"/><stop offset=".995" stop-color="#63cb5f"/></linearGradient><linearGradient id="g231" x2="0" y2="1"><stop offset=".008" stop-color="#21908d"/><stop offset=".098" stop-color="#23a983"/><stop offset=".114" stop-color="#34b679"/><stop offset=".129" stop-color="#5ac864"/><stop offset=".159" stop-color="#c5e021"/><stop offset=".174" stop-color="#e7e419"/><stop offset=".189" stop-color="#e2e418"/><stop offset=".205" stop-color="#d0e11c"/><stop offset=".220" stop-color="#cde11d"/><stop offset=".250" stop-color="#e2e418"/><stop offset=".265" stop-color="#e2e418"/><stop offset=".280" stop-color="#c5e021"/><stop offset=".295" stop-color="#84d44b"/><stop offset=".311" stop-color="#4ec36b"/><stop offset=".326" stop-color="#3bbb75"/><stop offset=".371" stop-color="#4ac16d"/><stop offset=".417" stop-color="#3bbb75"/><stop offset=".492" stop-color="#63cb5f"/><stop offset=".553" stop-color="#5ec962"/><stop offset=".568" stop-color="#6ece58"/><stop offset=".614" stop-color="#d2e21b"/><stop offset=".629" stop-color="#efe51c"/><stop offset=".644" stop-color="#f4e61e"/><stop offset=".674" stop-color="#d0e11c"/><stop offset=".720" stop-color="#addc30"/><stop offset=".735" stop-color="#93d741"/><stop offset=".765" stop-color="#4ac16d"/><stop offset=".780" stop-color="#3fbc73"/><stop offset=".826" stop-color="#4cc26c"/><stop offset=".841" stop-color="#69cd5b"/><stop offset=".871" stop-color="#d2e21b"/><stop offset=".886" stop-color="#c8e020"/><stop offset=".902" stop-color="#dae319"/><stop offset=".932" stop-color="#75d054"/><stop offset=".947" stop-color="#4cc26c"/><stop offset=".962" stop-color="#2eb37c"/><stop offset=".977" stop-color="#20a486"/><stop offset=".992" stop-color="#1f9f88"/></linearGradient><linearGradient id="g232" x2="0" y2="1"><stop offset=".008" stop-color="#20938c"/><stop offset=".025" stop-color="#1fa287"/><stop offset=".042" stop-color="#2cb17e"/><stop offset=".076" stop-color="#65cb5e"/><stop offset=".110" stop-color="#b5de2b"/><stop offset=".127" stop-color="#9dd93b"/><stop offset=".144" stop-color="#4cc26c"/><stop offset=".161" stop-color="#37b878"/><stop offset=".178" stop-color="#4ac16d"/><stop offset=".195" stop-color="#4ac16d"/><stop offset=".212" stop-color="#37b878"/><stop offset=".229" stop-color="#31b57b"/><stop offset=".263" stop-color="#3bbb75"/><stop offset=".297" stop-color="#63cb5f"/><stop offset=".331" stop-color="#98d83e"/><stop offset=".347" stop-color="#84d44b"/><stop offset=".364" stop-color="#48c16e"/><stop offset=".381" stop-color="#37b878"/><stop offset=".483" stop-color="#7fd34e"/><stop offset=".568" stop-color="#addc30"/><stop offset=".585" stop-color="#a5db36"/><stop offset=".653" stop-color="#40bd72"/><stop offset=".669" stop-color="#48c16e"/><stop offset=".720" stop-color="#d5e21a"/><stop offset=".737" stop-color="#cae11f"/><stop offset=".754" stop-color="#81d34d"/><stop offset=".771" stop-color="#46c06f"/><stop offset=".788" stop-color="#38b977"/><stop offset=".839" stop-color="#81d34d"/><stop offset=".856" stop-color="#a0da39"/><stop offset=".873" stop-color="#a0da39"/><stop offset=".907" stop-color="#56c667"/><stop offset=".924" stop-color="#70cf57"/><stop offset=".958" stop-color="#35b779"/><stop offset=".975" stop-color="#24aa83"/><stop offset=".992" stop-color="#1fa188"/></linearGradient><linearGradient id="g233" x2="0" y2="1"><stop offset=".008" stop-color="#20938c"/><stop offset=".040" stop-color="#2ab07f"/><stop offset=".071" stop-color="#60ca60"/><stop offset=".103" stop-color="#b0dd2f"/><stop offset=".119" stop-color="#a5db36"/><stop offset=".135" stop-color="#6ccd5a"/><stop offset=".151" stop-color="#54c568"/><stop offset=".214" stop-color="#56c667"/><stop offset=".230" stop-color="#4cc26c"/><stop offset=".246" stop-color="#5ac864"/><stop offset=".278" stop-color="#b8de29"/><stop offset=".294" stop-color="#bade28"/><stop offset=".325" stop-color="#63cb5f"/><stop offset=".341" stop-color="#40bd72"/><stop offset=".357" stop-color="#32b67a"/><stop offset=".389" stop-color="#31b57b"/><stop offset=".405" stop-color="#56c667"/><stop offset=".421" stop-color="#bddf26"/><stop offset=".437" stop-color="#d2e21b"/><stop offset=".452" stop-color="#8ed645"/><stop offset=".468" stop-color="#73d056"/><stop offset=".516" stop-color="#93d741"/><stop offset=".532" stop-color="#77d153"/><stop offset=".548" stop-color="#40bd72"/><stop offset=".563" stop-color="#31b57b"/><stop offset=".627" stop-color="#5ec962"/><stop offset=".643" stop-color="#7ad151"/><stop offset=".675" stop-color="#d8e219"/><stop offset=".690" stop-color="#dde318"/><stop offset=".738" stop-color="#65cb5e"/><stop offset=".754" stop-color="#44bf70"/><stop offset=".770" stop-color="#38b977"/><stop offset=".833" stop-color="#44bf70"/><stop offset=".849" stop-color="#32b67a"/><stop offset=".865" stop-color="#46c06f"/><stop offset=".897" stop-color="#2db27d"/><stop offset=".960" stop-color="#1fa188"/><stop offset=".992" stop-color="#1f9f88"/></linearGradient><linearGradient id="g234" x2="0" y2="1"><stop offset=".006" stop-color="#21908d"/><stop offset=".080" stop-color="#25ac82"/><stop offset=".093" stop-color="#35b779"/><stop offset=".117" stop-color="#86d549"/><stop offset=".130" stop-color="#9bd93c"/><stop offset=".228" stop-color="#42be71"/><stop offset=".253" stop-color="#3aba76"/><stop offset=".278" stop-color="#50c46a"/><stop offset=".290" stop-color="#4ac16d"/><stop offset=".315" stop-color="#27ad81"/><stop offset=".500" stop-color="#24aa83"/><stop offset=".549" stop-color="#40bd72"/><stop offset=".574" stop-color="#4ec36b"/><stop offset=".636" stop-color="#37b878"/><stop offset=".685" stop-color="#44bf70"/><stop offset=".698" stop-color="#98d83e"/><stop offset=".796" stop-color="#7ad151"/><stop offset=".870" stop-color="#73d056"/><stop offset=".957" stop-color="#4ec36b"/><stop offset=".969" stop-color="#fde725"/><stop offset=".994" stop-color="#fde725"/></linearGradient><linearGradient id="g235" x2="0" y2="1"><stop offset=".007" stop-color="#aadc32"/><stop offset=".120" stop-color="#cae11f"/><stop offset=".162" stop-color="#e2e418"/><stop offset=".176" stop-color="#cde11d"/><stop offset=".204" stop-color="#6ece58"/><stop offset=".218" stop-color="#56c667"/><stop offset=".261" stop-color="#46c06f"/><stop offset=".275" stop-color="#6ece58"/><stop offset=".289" stop-color="#d8e219"/><stop offset=".303" stop-color="#f8e621"/><stop offset=".317" stop-color="#d5e21a"/><stop offset=".359" stop-color="#67cc5c"/><stop offset=".373" stop-color="#52c569"/><stop offset=".415" stop-color="#3aba76"/><stop offset=".599" stop-color="#38b977"/><stop offset=".613" stop-color="#46c06f"/><stop offset=".627" stop-color="#63cb5f"/><stop offset=".641" stop-color="#6ccd5a"/><stop offset=".697" stop-color="#37b878"/><stop offset=".725" stop-color="#3dbc74"/><stop offset=".754" stop-color="#50c46a"/><stop offset=".768" stop-color="#4ec36b"/><stop offset=".796" stop-color="#37b878"/><stop offset=".838" stop-color="#2fb47c"/><stop offset=".852" stop-color="#3fbc73"/><stop offset=".880" stop-color="#93d741"/><stop offset=".894" stop-color="#9dd93b"/><stop offset=".951" stop-color="#44bf70"/><stop offset=".965" stop-color="#2ab07f"/><stop offset=".979" stop-color="#56c667"/><stop offset=".993" stop-color="#4ec36b"/></linearGradient><linearGradient id="g236" x2="0" y2="1"><stop offset=".007" stop-color="#46c06f"/><stop offset=".061" stop-color="#aadc32"/><stop offset=".088" stop-color="#e2e418"/><stop offset=".101" stop-color="#d8e219"/><stop offset=".128" stop-color="#73d056"/><stop offset=".142" stop-color="#73d056"/><stop offset=".169" stop-color="#d0e11c"/><stop offset=".182" stop-color="#e7e419"/><stop offset=".236" stop-color="#dfe318"/><stop offset=".250" stop-color="#d2e21b"/><stop offset=".304" stop-color="#69cd5b"/><stop offset=".331" stop-color="#5ec962"/><stop offset=".412" stop-color="#63cb5f"/><stop offset=".480" stop-color="#7fd34e"/><stop offset=".534" stop-color="#73d056"/><stop offset=".547" stop-color="#7cd250"/><stop offset=".588" stop-color="#cde11d"/><stop offset=".628" stop-color="#efe51c"/><stop offset=".642" stop-color="#fde725"/><stop offset=".682" stop-color="#fde725"/><stop offset=".696" stop-color="#c8e020"/><stop offset=".723" stop-color="#6ccd5a"/><stop offset=".736" stop-color="#c8e020"/><stop offset=".750" stop-color="#e5e419"/><stop offset=".764" stop-color="#fde725"/><stop offset=".939" stop-color="#fbe723"/><stop offset=".993" stop-color="#e2e418"/></linearGradient><linearGradient id="g237" x2="0" y2="1"><stop offset=".017" stop-color="#218f8d"/><stop offset=".283" stop-color="#21a685"/><stop offset=".483" stop-color="#4cc26c"/><stop offset=".517" stop-color="#52c569"/><stop offset=".550" stop-color="#4ac16d"/><stop offset=".617" stop-color="#25ac82"/><stop offset=".683" stop-color="#1e9c89"/><stop offset=".883" stop-color="#218f8d"/><stop offset=".983" stop-color="#25858e"/></linearGradient><linearGradient id="g238" x2="0" y2="1"><stop offset=".010" stop-color="#218f8d"/><stop offset=".090" stop-color="#25ab82"/><stop offset=".130" stop-color="#37b878"/><stop offset=".150" stop-color="#4cc26c"/><stop offset=".170" stop-color="#6ece58"/><stop offset=".190" stop-color="#81d34d"/><stop offset=".230" stop-color="#7fd34e"/><stop offset=".250" stop-color="#6ece58"/><stop offset=".270" stop-color="#52c569"/><stop offset=".290" stop-color="#4ec36b"/><stop offset=".390" stop-color="#c0df25"/><stop offset=".450" stop-color="#dfe318"/><stop offset=".470" stop-color="#d8e219"/><stop offset=".530" stop-color="#86d549"/><stop offset=".610" stop-color="#4ec36b"/><stop offset=".710" stop-color="#32b67a"/><stop offset=".790" stop-color="#3dbc74"/><stop offset=".810" stop-color="#2db27d"/><stop offset=".830" stop-color="#1e9c89"/><stop offset=".870" stop-color="#24878e"/><stop offset=".890" stop-color="#21a685"/><stop offset=".990" stop-color="#1f9e89"/></linearGradient><linearGradient id="g239" x2="0" y2="1"><stop offset=".014" stop-color="#26828e"/><stop offset=".176" stop-color="#228b8d"/><stop offset=".230" stop-color="#21a685"/><stop offset=".311" stop-color="#5ec962"/><stop offset=".365" stop-color="#5cc863"/><stop offset=".446" stop-color="#40bd72"/><stop offset=".473" stop-color="#32b67a"/><stop offset=".500" stop-color="#37b878"/><stop offset=".554" stop-color="#6ece58"/><stop offset=".608" stop-color="#81d34d"/><stop offset=".635" stop-color="#60ca60"/><stop offset=".662" stop-color="#27ad81"/><stop offset=".689" stop-color="#1f9e89"/><stop offset=".851" stop-color="#238a8d"/><stop offset=".878" stop-color="#22a884"/><stop offset=".986" stop-color="#1f9e89"/></linearGradient><linearGradient id="g240" x2="0" y2="1"><stop offset=".007" stop-color="#25848e"/><stop offset=".049" stop-color="#1fa088"/><stop offset=".077" stop-color="#32b67a"/><stop offset=".092" stop-color="#44bf70"/><stop offset=".106" stop-color="#6ccd5a"/><stop offset=".120" stop-color="#aadc32"/><stop offset=".134" stop-color="#b5de2b"/><stop offset=".176" stop-color="#48c16e"/><stop offset=".190" stop-color="#2fb47c"/><stop offset=".204" stop-color="#2ab07f"/><stop offset=".261" stop-color="#58c765"/><stop offset=".275" stop-color="#54c568"/><stop offset=".303" stop-color="#2cb17e"/><stop offset=".317" stop-color="#42be71"/><stop offset=".331" stop-color="#a2da37"/><stop offset=".345" stop-color="#c0df25"/><stop offset=".373" stop-color="#58c765"/><stop offset=".387" stop-color="#32b67a"/><stop offset=".401" stop-color="#3bbb75"/><stop offset=".415" stop-color="#84d44b"/><stop offset=".430" stop-color="#8bd646"/><stop offset=".444" stop-color="#4cc26c"/><stop offset=".458" stop-color="#42be71"/><stop offset=".472" stop-color="#69cd5b"/><stop offset=".486" stop-color="#f4e61e"/><stop offset=".514" stop-color="#fde725"/><stop offset=".528" stop-color="#f6e620"/><stop offset=".542" stop-color="#e2e418"/><stop offset=".599" stop-color="#fde725"/><stop offset=".613" stop-color="#e2e418"/><stop offset=".627" stop-color="#93d741"/><stop offset=".641" stop-color="#6ece58"/><stop offset=".711" stop-color="#7cd250"/><stop offset=".768" stop-color="#c2df23"/><stop offset=".782" stop-color="#bddf26"/><stop offset=".796" stop-color="#fde725"/><stop offset=".908" stop-color="#fde725"/><stop offset=".923" stop-color="#3e4989"/><stop offset=".937" stop-color="#3f4788"/><stop offset=".951" stop-color="#38588c"/><stop offset=".965" stop-color="#481b6d"/><stop offset=".979" stop-color="#48186a"/><stop offset=".993" stop-color="#414487"/></linearGradient><linearGradient id="g241" x2="0" y2="1"><stop offset=".008" stop-color="#26828e"/><stop offset=".086" stop-color="#21a585"/><stop offset=".148" stop-color="#4ec36b"/><stop offset=".164" stop-color="#52c569"/><stop offset=".211" stop-color="#38b977"/><stop offset=".258" stop-color="#48c16e"/><stop offset=".289" stop-color="#5ac864"/><stop offset=".305" stop-color="#56c667"/><stop offset=".352" stop-color="#26ad81"/><stop offset=".367" stop-color="#28ae80"/><stop offset=".398" stop-color="#56c667"/><stop offset=".414" stop-color="#cde11d"/><stop offset=".430" stop-color="#f1e51d"/><stop offset=".445" stop-color="#f1e51d"/><stop offset=".461" stop-color="#d2e21b"/><stop offset=".508" stop-color="#77d153"/><stop offset=".523" stop-color="#7cd250"/><stop offset=".555" stop-color="#d5e21a"/><stop offset=".570" stop-color="#fde725"/><stop offset=".586" stop-color="#f6e620"/><stop offset=".602" stop-color="#b2dd2d"/><stop offset=".617" stop-color="#8bd646"/><stop offset=".664" stop-color="#5ec962"/><stop offset=".680" stop-color="#58c765"/><stop offset=".742" stop-color="#6ccd5a"/><stop offset=".758" stop-color="#fde725"/><stop offset=".883" stop-color="#fde725"/><stop offset=".898" stop-color="#32648e"/><stop offset=".914" stop-color="#355e8d"/><stop offset=".930" stop-color="#30698e"/><stop offset=".945" stop-color="#472c7a"/><stop offset=".961" stop-color="#482475"/><stop offset=".977" stop-color="#3f4788"/><stop offset=".992" stop-color="#450457"/></linearGradient><linearGradient id="g242" x2="0" y2="1"><stop offset=".008" stop-color="#277f8e"/><stop offset=".115" stop-color="#1f948c"/><stop offset=".131" stop-color="#1fa088"/><stop offset=".146" stop-color="#2cb17e"/><stop offset=".162" stop-color="#54c568"/><stop offset=".177" stop-color="#60ca60"/><stop offset=".208" stop-color="#3fbc73"/><stop offset=".315" stop-color="#23a983"/><stop offset=".423" stop-color="#2fb47c"/><stop offset=".438" stop-color="#28ae80"/><stop offset=".454" stop-color="#58c765"/><stop offset=".469" stop-color="#65cb5e"/><stop offset=".485" stop-color="#90d743"/><stop offset=".500" stop-color="#a5db36"/><stop offset=".562" stop-color="#9dd93b"/><stop offset=".608" stop-color="#b5de2b"/><stop offset=".623" stop-color="#b2dd2d"/><stop offset=".685" stop-color="#6ece58"/><stop offset=".700" stop-color="#75d054"/><stop offset=".731" stop-color="#aadc32"/><stop offset=".746" stop-color="#b2dd2d"/><stop offset=".777" stop-color="#9dd93b"/><stop offset=".792" stop-color="#fde725"/><stop offset=".915" stop-color="#fde725"/><stop offset=".931" stop-color="#3b528b"/><stop offset=".946" stop-color="#3d4d8a"/><stop offset=".962" stop-color="#375a8c"/><stop offset=".977" stop-color="#481b6d"/><stop offset=".992" stop-color="#481769"/></linearGradient><linearGradient id="g243" x2="0" y2="1"><stop offset=".009" stop-color="#4cc26c"/><stop offset=".104" stop-color="#48c16e"/><stop offset=".179" stop-color="#1fa187"/><stop offset=".236" stop-color="#228c8d"/><stop offset=".311" stop-color="#1e9d89"/><stop offset=".330" stop-color="#1f998a"/><stop offset=".349" stop-color="#34b679"/><stop offset=".368" stop-color="#3aba76"/><stop offset=".387" stop-color="#50c46a"/><stop offset=".406" stop-color="#4cc26c"/><stop offset=".425" stop-color="#31b57b"/><stop offset=".443" stop-color="#2eb37c"/><stop offset=".500" stop-color="#77d153"/><stop offset=".519" stop-color="#98d83e"/><stop offset=".538" stop-color="#93d741"/><stop offset=".575" stop-color="#4ac16d"/><stop offset=".594" stop-color="#2fb47c"/><stop offset=".613" stop-color="#2fb47c"/><stop offset=".632" stop-color="#48c16e"/><stop offset=".651" stop-color="#4ec36b"/><stop offset=".689" stop-color="#32b67a"/><stop offset=".745" stop-color="#3aba76"/><stop offset=".764" stop-color="#fde725"/><stop offset=".877" stop-color="#fde725"/><stop offset=".915" stop-color="#eae51a"/><stop offset=".934" stop-color="#3e4989"/><stop offset=".953" stop-color="#404588"/><stop offset=".972" stop-color="#3a548c"/><stop offset=".991" stop-color="#481769"/></linearGradient><linearGradient id="g244" x2="0" y2="1"><stop offset=".011" stop-color="#25858e"/><stop offset=".117" stop-color="#24aa83"/><stop offset=".160" stop-color="#35b779"/><stop offset=".415" stop-color="#22a884"/><stop offset=".457" stop-color="#34b679"/><stop offset=".564" stop-color="#6ece58"/><stop offset=".585" stop-color="#63cb5f"/><stop offset=".628" stop-color="#35b779"/><stop offset=".670" stop-color="#22a785"/><stop offset=".713" stop-color="#20a386"/><stop offset=".734" stop-color="#27ad81"/><stop offset=".755" stop-color="#50c46a"/><stop offset=".777" stop-color="#c5e021"/><stop offset=".819" stop-color="#c5e021"/><stop offset=".840" stop-color="#b0dd2f"/><stop offset=".862" stop-color="#81d34d"/><stop offset=".904" stop-color="#44bf70"/><stop offset=".947" stop-color="#22a884"/><stop offset=".989" stop-color="#1f968b"/></linearGradient><linearGradient id="g245" x2="0" y2="1"><stop offset=".012" stop-color="#25838e"/><stop offset=".128" stop-color="#21a585"/><stop offset=".198" stop-color="#42be71"/><stop offset=".267" stop-color="#5ec962"/><stop offset=".337" stop-color="#4ac16d"/><stop offset=".384" stop-color="#34b679"/><stop offset=".407" stop-color="#38b977"/><stop offset=".477" stop-color="#81d34d"/><stop offset=".500" stop-color="#7ad151"/><stop offset=".547" stop-color="#44bf70"/><stop offset=".593" stop-color="#27ad81"/><stop offset=".640" stop-color="#2eb37c"/><stop offset=".663" stop-color="#37b878"/><stop offset=".756" stop-color="#23a983"/><stop offset=".779" stop-color="#25ac82"/><stop offset=".802" stop-color="#5ac864"/><stop offset=".872" stop-color="#28ae80"/><stop offset=".988" stop-color="#1f978b"/></linearGradient><linearGradient id="g246" x2="0" y2="1"><stop offset=".012" stop-color="#1f948c"/><stop offset=".058" stop-color="#23a983"/><stop offset=".128" stop-color="#52c569"/><stop offset=".151" stop-color="#69cd5b"/><stop offset=".174" stop-color="#75d054"/><stop offset=".337" stop-color="#46c06f"/><stop offset=".360" stop-color="#56c667"/><stop offset=".407" stop-color="#b2dd2d"/><stop offset=".430" stop-color="#bade28"/><stop offset=".500" stop-color="#56c667"/><stop offset=".523" stop-color="#4cc26c"/><stop offset=".593" stop-color="#60ca60"/><stop offset=".616" stop-color="#5cc863"/><stop offset=".663" stop-color="#3bbb75"/><stop offset=".686" stop-color="#48c16e"/><stop offset=".733" stop-color="#9bd93c"/><stop offset=".756" stop-color="#efe51c"/><stop offset=".779" stop-color="#b0dd2f"/><stop offset=".802" stop-color="#70cf57"/><stop offset=".826" stop-color="#4ec36b"/><stop offset=".895" stop-color="#2db27d"/><stop offset=".988" stop-color="#20a486"/></linearGradient><linearGradient id="g247" x2="0" y2="1"><stop offset=".011" stop-color="#20928c"/><stop offset=".138" stop-color="#22a785"/><stop offset=".160" stop-color="#31b57b"/><stop offset=".181" stop-color="#5ec962"/><stop offset=".202" stop-color="#9bd93c"/><stop offset=".223" stop-color="#aadc32"/><stop offset=".287" stop-color="#3dbc74"/><stop offset=".309" stop-color="#2fb47c"/><stop offset=".415" stop-color="#32b67a"/><stop offset=".457" stop-color="#44bf70"/><stop offset=".543" stop-color="#28ae80"/><stop offset=".755" stop-color="#2db27d"/><stop offset=".777" stop-color="#77d153"/><stop offset=".819" stop-color="#89d548"/><stop offset=".840" stop-color="#7fd34e"/><stop offset=".883" stop-color="#4ec36b"/><stop offset=".947" stop-color="#28ae80"/><stop offset=".989" stop-color="#20a486"/></linearGradient><linearGradient id="g248" x2="0" y2="1"><stop offset=".008" stop-color="#25838e"/><stop offset=".093" stop-color="#22a785"/><stop offset=".161" stop-color="#3bbb75"/><stop offset=".297" stop-color="#31b57b"/><stop offset=".331" stop-color="#31b57b"/><stop offset=".347" stop-color="#3dbc74"/><stop offset=".364" stop-color="#5cc863"/><stop offset=".381" stop-color="#f8e621"/><stop offset=".415" stop-color="#dde318"/><stop offset=".449" stop-color="#dde318"/><stop offset=".466" stop-color="#f6e620"/><stop offset=".534" stop-color="#fde725"/><stop offset=".636" stop-color="#fde725"/><stop offset=".686" stop-color="#ece51b"/><stop offset=".720" stop-color="#fde725"/><stop offset=".890" stop-color="#fde725"/><stop offset=".907" stop-color="#2d718e"/><stop offset=".924" stop-color="#31678e"/><stop offset=".941" stop-color="#2e6e8e"/><stop offset=".958" stop-color="#472c7a"/><stop offset=".975" stop-color="#481d6f"/><stop offset=".992" stop-color="#414487"/></linearGradient><linearGradient id="g249" x2="0" y2="1"><stop offset=".009" stop-color="#25848e"/><stop offset=".245" stop-color="#20a386"/><stop offset=".391" stop-color="#1e9c89"/><stop offset=".409" stop-color="#86d549"/><stop offset=".445" stop-color="#c8e020"/><stop offset=".464" stop-color="#c2df23"/><stop offset=".500" stop-color="#73d056"/><stop offset=".518" stop-color="#77d153"/><stop offset=".536" stop-color="#a2da37"/><stop offset=".555" stop-color="#b2dd2d"/><stop offset=".573" stop-color="#a2da37"/><stop offset=".591" stop-color="#a0da39"/><stop offset=".664" stop-color="#c8e020"/><stop offset=".718" stop-color="#cde11d"/><stop offset=".736" stop-color="#c2df23"/><stop offset=".773" stop-color="#93d741"/><stop offset=".791" stop-color="#84d44b"/><stop offset=".809" stop-color="#fde725"/><stop offset=".882" stop-color="#d5e21a"/><stop offset=".955" stop-color="#aadc32"/><stop offset=".973" stop-color="#423f85"/><stop offset=".991" stop-color="#433e85"/></linearGradient><linearGradient id="g250" x2="0" y2="1"><stop offset=".010" stop-color="#277f8e"/><stop offset=".112" stop-color="#228b8d"/><stop offset=".153" stop-color="#1fa187"/><stop offset=".194" stop-color="#42be71"/><stop offset=".214" stop-color="#4cc26c"/><stop offset=".276" stop-color="#35b779"/><stop offset=".296" stop-color="#a2da37"/><stop offset=".378" stop-color="#73d056"/><stop offset=".582" stop-color="#73d056"/><stop offset=".724" stop-color="#7fd34e"/><stop offset=".745" stop-color="#fde725"/><stop offset=".908" stop-color="#fde725"/><stop offset=".929" stop-color="#3e4989"/><stop offset=".949" stop-color="#404588"/><stop offset=".969" stop-color="#3a548c"/><stop offset=".990" stop-color="#481769"/></linearGradient><linearGradient id="g251" x2="0" y2="1"><stop offset=".015" stop-color="#26828e"/><stop offset=".258" stop-color="#1f948c"/><stop offset=".652" stop-color="#23898e"/><stop offset=".682" stop-color="#44bf70"/><stop offset=".864" stop-color="#3aba76"/><stop offset=".985" stop-color="#2fb47c"/></linearGradient><linearGradient id="g252" x2="0" y2="1"><stop offset=".007" stop-color="#21908d"/><stop offset=".077" stop-color="#26ad81"/><stop offset=".190" stop-color="#44bf70"/><stop offset=".246" stop-color="#37b878"/><stop offset=".275" stop-color="#24aa83"/><stop offset=".303" stop-color="#20928c"/><stop offset=".472" stop-color="#21918c"/><stop offset=".528" stop-color="#23a983"/><stop offset=".570" stop-color="#27ad81"/><stop offset=".627" stop-color="#1fa088"/><stop offset=".655" stop-color="#218e8d"/><stop offset=".739" stop-color="#20928c"/><stop offset=".796" stop-color="#24aa83"/><stop offset=".824" stop-color="#2ab07f"/><stop offset=".866" stop-color="#1f9a8a"/><stop offset=".894" stop-color="#228d8d"/><stop offset=".908" stop-color="#32b67a"/><stop offset=".993" stop-color="#23a983"/></linearGradient><linearGradient id="g253" x2="0" y2="1"><stop offset=".007" stop-color="#1fa188"/><stop offset=".020" stop-color="#22a785"/><stop offset=".033" stop-color="#35b779"/><stop offset=".047" stop-color="#2eb37c"/><stop offset=".100" stop-color="#5cc863"/><stop offset=".167" stop-color="#56c667"/><stop offset=".207" stop-color="#34b679"/><stop offset=".300" stop-color="#3fbc73"/><stop offset=".380" stop-color="#21a585"/><stop offset=".487" stop-color="#21a685"/><stop offset=".527" stop-color="#46c06f"/><stop offset=".553" stop-color="#70cf57"/><stop offset=".567" stop-color="#6ccd5a"/><stop offset=".593" stop-color="#3aba76"/><stop offset=".607" stop-color="#29af7f"/><stop offset=".620" stop-color="#2ab07f"/><stop offset=".647" stop-color="#5ec962"/><stop offset=".660" stop-color="#5ac864"/><stop offset=".673" stop-color="#37b878"/><stop offset=".687" stop-color="#22a785"/><stop offset=".700" stop-color="#1fa287"/><stop offset=".740" stop-color="#2fb47c"/><stop offset=".820" stop-color="#21a585"/><stop offset=".900" stop-color="#29af7f"/><stop offset=".940" stop-color="#1f988b"/><stop offset=".980" stop-color="#26818e"/><stop offset=".993" stop-color="#22a884"/></linearGradient><linearGradient id="g254" x2="0" y2="1"><stop offset=".008" stop-color="#1e9b8a"/><stop offset=".208" stop-color="#24aa83"/><stop offset=".258" stop-color="#28ae80"/><stop offset=".308" stop-color="#60ca60"/><stop offset=".375" stop-color="#7fd34e"/><stop offset=".392" stop-color="#63cb5f"/><stop offset=".408" stop-color="#31b57b"/><stop offset=".425" stop-color="#23a983"/><stop offset=".458" stop-color="#2cb17e"/><stop offset=".475" stop-color="#4cc26c"/><stop offset=".492" stop-color="#58c765"/><stop offset=".542" stop-color="#2cb17e"/><stop offset=".558" stop-color="#2cb17e"/><stop offset=".625" stop-color="#5cc863"/><stop offset=".658" stop-color="#58c765"/><stop offset=".708" stop-color="#27ad81"/><stop offset=".725" stop-color="#26ad81"/><stop offset=".758" stop-color="#3fbc73"/><stop offset=".775" stop-color="#5ac864"/><stop offset=".792" stop-color="#86d549"/><stop offset=".808" stop-color="#8ed645"/><stop offset=".842" stop-color="#37b878"/><stop offset=".858" stop-color="#20a386"/><stop offset=".892" stop-color="#21908d"/><stop offset=".908" stop-color="#2ab07f"/><stop offset=".992" stop-color="#1fa287"/></linearGradient><linearGradient id="g255" x2="0" y2="1"><stop offset=".016" stop-color="#25858e"/><stop offset=".109" stop-color="#1f958b"/><stop offset=".203" stop-color="#2ab07f"/><stop offset=".266" stop-color="#50c46a"/><stop offset=".328" stop-color="#90d743"/><stop offset=".359" stop-color="#95d840"/><stop offset=".391" stop-color="#84d44b"/><stop offset=".422" stop-color="#95d840"/><stop offset=".453" stop-color="#c8e020"/><stop offset=".484" stop-color="#d8e219"/><stop offset=".641" stop-color="#6ccd5a"/><stop offset=".672" stop-color="#7ad151"/><stop offset=".703" stop-color="#b5de2b"/><stop offset=".734" stop-color="#ece51b"/><stop offset=".766" stop-color="#e2e418"/><stop offset=".828" stop-color="#63cb5f"/><stop offset=".859" stop-color="#37b878"/><stop offset=".891" stop-color="#20a486"/><stop offset=".922" stop-color="#37b878"/><stop offset=".953" stop-color="#25ab82"/><stop offset=".984" stop-color="#20a386"/></linearGradient><linearGradient id="g256" x2="0" y2="1"><stop offset=".009" stop-color="#bade28"/><stop offset=".083" stop-color="#e5e419"/><stop offset=".120" stop-color="#fbe723"/><stop offset=".157" stop-color="#e7e419"/><stop offset=".213" stop-color="#b2dd2d"/><stop offset=".231" stop-color="#a2da37"/><stop offset=".250" stop-color="#a2da37"/><stop offset=".287" stop-color="#c2df23"/><stop offset=".306" stop-color="#c5e021"/><stop offset=".343" stop-color="#b5de2b"/><stop offset=".417" stop-color="#dfe318"/><stop offset=".435" stop-color="#d8e219"/><stop offset=".509" stop-color="#69cd5b"/><stop offset=".528" stop-color="#6ccd5a"/><stop offset=".546" stop-color="#8ed645"/><stop offset=".565" stop-color="#90d743"/><stop offset=".620" stop-color="#3fbc73"/><stop offset=".657" stop-color="#31b57b"/><stop offset=".713" stop-color="#2ab07f"/><stop offset=".731" stop-color="#89d548"/><stop offset=".750" stop-color="#a2da37"/><stop offset=".769" stop-color="#b0dd2f"/><stop offset=".843" stop-color="#b5de2b"/><stop offset=".861" stop-color="#aadc32"/><stop offset=".954" stop-color="#3aba76"/><stop offset=".991" stop-color="#25ab82"/></linearGradient><linearGradient id="g257" x2="0" y2="1"><stop offset=".016" stop-color="#29798e"/><stop offset=".306" stop-color="#1fa088"/><stop offset=".435" stop-color="#1f9f88"/><stop offset=".468" stop-color="#4ec36b"/><stop offset=".565" stop-color="#9dd93b"/><stop offset=".597" stop-color="#addc30"/><stop offset=".726" stop-color="#aadc32"/><stop offset=".855" stop-color="#40bd72"/><stop offset=".919" stop-color="#22a785"/><stop offset=".984" stop-color="#1f988b"/></linearGradient><linearGradient id="g258" x2="0" y2="1"><stop offset=".010" stop-color="#21918c"/><stop offset=".183" stop-color="#22a884"/><stop offset=".260" stop-color="#22a884"/><stop offset=".279" stop-color="#54c568"/><stop offset=".356" stop-color="#56c667"/><stop offset=".394" stop-color="#65cb5e"/><stop offset=".490" stop-color="#d0e11c"/><stop offset=".529" stop-color="#ece51b"/><stop offset=".548" stop-color="#ece51b"/><stop offset=".587" stop-color="#c8e020"/><stop offset=".644" stop-color="#9dd93b"/><stop offset=".683" stop-color="#98d83e"/><stop offset=".702" stop-color="#fde725"/><stop offset=".856" stop-color="#fde725"/><stop offset=".875" stop-color="#277e8e"/><stop offset=".894" stop-color="#2c738e"/><stop offset=".913" stop-color="#29798e"/><stop offset=".933" stop-color="#443a83"/><stop offset=".952" stop-color="#472d7b"/><stop offset=".971" stop-color="#3e4989"/><stop offset=".990" stop-color="#450457"/></linearGradient><linearGradient id="g259" x2="0" y2="1"><stop offset=".010" stop-color="#1f948c"/><stop offset=".210" stop-color="#20a386"/><stop offset=".230" stop-color="#2eb37c"/><stop offset=".250" stop-color="#70cf57"/><stop offset=".270" stop-color="#86d549"/><stop offset=".290" stop-color="#b2dd2d"/><stop offset=".310" stop-color="#98d83e"/><stop offset=".370" stop-color="#81d34d"/><stop offset=".410" stop-color="#89d548"/><stop offset=".430" stop-color="#b8de29"/><stop offset=".450" stop-color="#fde725"/><stop offset=".470" stop-color="#fde725"/><stop offset=".490" stop-color="#cae11f"/><stop offset=".510" stop-color="#a8db34"/><stop offset=".570" stop-color="#bade28"/><stop offset=".590" stop-color="#dfe318"/><stop offset=".610" stop-color="#fde725"/><stop offset=".890" stop-color="#fde725"/><stop offset=".910" stop-color="#3b518b"/><stop offset=".930" stop-color="#3e4c8a"/><stop offset=".950" stop-color="#375a8c"/><stop offset=".970" stop-color="#481a6c"/><stop offset=".990" stop-color="#481769"/></linearGradient><linearGradient id="g260" x2="0" y2="1"><stop offset=".002" stop-color="#f7f5f4"/><stop offset=".811" stop-color="#f7f6f6"/><stop offset=".815" stop-color="#e0ecf3"/><stop offset=".824" stop-color="#e0ecf3"/><stop offset=".828" stop-color="#ecf2f5"/><stop offset=".854" stop-color="#ecf2f5"/><stop offset=".859" stop-color="#f3f5f6"/><stop offset=".998" stop-color="#f5f6f7"/></linearGradient><linearGradient id="f261" x2="0" y2="1"><stop offset="0" stop-color="#fff" stop-opacity="1.000"/><stop offset=".524" stop-color="#fff" stop-opacity="0.600"/><stop offset=".995" stop-color="#fff" stop-opacity="0.800"/></linearGradient><mask id="mf261" maskUnits="userSpaceOnUse" x="58" y="353" width="645" height="185"><rect x="58" y="353" width="645" height="185" fill="url(#f261)"/></mask><linearGradient id="g262" x2="0" y2="1"><stop offset=".006" stop-color="#f8f1ed"/><stop offset=".433" stop-color="#f7f5f4"/><stop offset=".701" stop-color="#f8f2ef"/><stop offset=".799" stop-color="#f9ebe3"/><stop offset=".945" stop-color="#f9ede5"/><stop offset=".994" stop-color="#f7f6f6"/></linearGradient><linearGradient id="g263" x2="0" y2="1"><stop offset=".010" stop-color="#eaf1f5"/><stop offset=".433" stop-color="#e1edf3"/><stop offset=".587" stop-color="#f2f5f6"/><stop offset=".606" stop-color="#dae9f2"/><stop offset=".644" stop-color="#dae9f2"/><stop offset=".663" stop-color="#e6eff4"/><stop offset=".779" stop-color="#e6eff4"/><stop offset=".798" stop-color="#edf2f5"/><stop offset=".952" stop-color="#f2f5f6"/><stop offset=".990" stop-color="#f3f5f6"/></linearGradient><linearGradient id="g264" x2="0" y2="1"><stop offset=".007" stop-color="#f5f6f7"/><stop offset=".230" stop-color="#e7f0f4"/><stop offset=".783" stop-color="#e9f0f4"/><stop offset=".796" stop-color="#d2e6f0"/><stop offset=".822" stop-color="#d2e6f0"/><stop offset=".836" stop-color="#deebf2"/><stop offset=".914" stop-color="#deebf2"/><stop offset=".993" stop-color="#f3f5f6"/></linearGradient><linearGradient id="g265" x2="0" y2="1"><stop offset=".007" stop-color="#f5f6f7"/><stop offset=".246" stop-color="#e7f0f4"/><stop offset=".810" stop-color="#e4eef4"/><stop offset=".838" stop-color="#eaf1f5"/><stop offset=".852" stop-color="#d2e6f0"/><stop offset=".880" stop-color="#d2e6f0"/><stop offset=".894" stop-color="#deebf2"/><stop offset=".979" stop-color="#eaf1f5"/><stop offset=".993" stop-color="#f3f5f6"/></linearGradient><linearGradient id="g266" x2="0" y2="1"><stop offset=".008" stop-color="#f5f6f7"/><stop offset=".235" stop-color="#e7f0f4"/><stop offset=".932" stop-color="#e9f0f4"/><stop offset=".992" stop-color="#f2f5f6"/></linearGradient><linearGradient id="g267" x2="0" y2="1"><stop offset=".007" stop-color="#f6f7f7"/><stop offset=".788" stop-color="#edf2f5"/><stop offset=".815" stop-color="#f3f5f6"/><stop offset=".829" stop-color="#dbeaf2"/><stop offset=".856" stop-color="#dbeaf2"/><stop offset=".870" stop-color="#e7f0f4"/><stop offset=".952" stop-color="#e9f0f4"/><stop offset=".966" stop-color="#f2f5f6"/><stop offset=".993" stop-color="#eff3f5"/></linearGradient><linearGradient id="g268" x2="0" y2="1"><stop offset=".007" stop-color="#f3f5f6"/><stop offset=".349" stop-color="#eaf1f5"/><stop offset=".507" stop-color="#e9f0f4"/><stop offset=".533" stop-color="#eff3f5"/><stop offset=".546" stop-color="#d7e8f1"/><stop offset=".572" stop-color="#d7e8f1"/><stop offset=".586" stop-color="#e3edf3"/><stop offset=".664" stop-color="#e3edf3"/><stop offset=".691" stop-color="#e7f0f4"/><stop offset=".980" stop-color="#f3f5f6"/><stop offset=".993" stop-color="#f5f6f7"/></linearGradient><linearGradient id="g269" x2="0" y2="1"><stop offset=".011" stop-color="#f3f5f6"/><stop offset=".489" stop-color="#e7f0f4"/><stop offset=".880" stop-color="#e7f0f4"/><stop offset=".924" stop-color="#f2f5f6"/><stop offset=".946" stop-color="#ddebf2"/><stop offset=".989" stop-color="#e0ecf3"/></linearGradient><linearGradient id="g270" x2="0" y2="1"><stop offset=".005" stop-color="#f6f7f7"/><stop offset=".618" stop-color="#edf2f5"/><stop offset=".640" stop-color="#f3f5f6"/><stop offset=".651" stop-color="#dbeaf2"/><stop offset=".672" stop-color="#dbeaf2"/><stop offset=".683" stop-color="#e7f0f4"/><stop offset=".747" stop-color="#e7f0f4"/><stop offset=".769" stop-color="#ecf2f5"/><stop offset=".995" stop-color="#f3f5f6"/></linearGradient><linearGradient id="g271" x2="0" y2="1"><stop offset=".009" stop-color="#f3f5f6"/><stop offset=".562" stop-color="#f2f5f6"/><stop offset=".580" stop-color="#dbeaf2"/><stop offset=".616" stop-color="#dbeaf2"/><stop offset=".634" stop-color="#e7f0f4"/><stop offset=".741" stop-color="#e7f0f4"/><stop offset=".759" stop-color="#eff3f5"/><stop offset=".991" stop-color="#f3f5f6"/></linearGradient><linearGradient id="g272" x2="0" y2="1"><stop offset=".014" stop-color="#f3f5f6"/><stop offset=".614" stop-color="#e1edf3"/><stop offset=".929" stop-color="#e9f0f4"/><stop offset=".986" stop-color="#ecf2f5"/></linearGradient><linearGradient id="g273" x2="0" y2="1"><stop offset=".006" stop-color="#f5f6f7"/><stop offset=".206" stop-color="#e6eff4"/><stop offset=".606" stop-color="#e9f0f4"/><stop offset=".619" stop-color="#d2e6f0"/><stop offset=".644" stop-color="#d2e6f0"/><stop offset=".669" stop-color="#ddebf2"/><stop offset=".731" stop-color="#ddebf2"/><stop offset=".744" stop-color="#e6eff4"/><stop offset=".944" stop-color="#eaf1f5"/><stop offset=".994" stop-color="#f5f6f7"/></linearGradient><linearGradient id="g274" x2="0" y2="1"><stop offset=".006" stop-color="#f5f6f7"/><stop offset=".208" stop-color="#e9f0f4"/><stop offset=".635" stop-color="#dbeaf2"/><stop offset=".657" stop-color="#e1edf3"/><stop offset=".669" stop-color="#c5dfec"/><stop offset=".691" stop-color="#c5dfec"/><stop offset=".702" stop-color="#d5e7f1"/><stop offset=".770" stop-color="#d5e7f1"/><stop offset=".792" stop-color="#dae9f2"/><stop offset=".961" stop-color="#e4eef4"/><stop offset=".994" stop-color="#e9f0f4"/></linearGradient><linearGradient id="g275" x2="0" y2="1"><stop offset=".008" stop-color="#f6f7f7"/><stop offset=".375" stop-color="#eaf1f5"/><stop offset=".958" stop-color="#eff3f5"/><stop offset=".992" stop-color="#f2f5f6"/></linearGradient><linearGradient id="g276" x2="0" y2="1"><stop offset=".006" stop-color="#f5f6f7"/><stop offset=".361" stop-color="#eaf1f5"/><stop offset=".778" stop-color="#edf2f5"/><stop offset=".791" stop-color="#d7e8f1"/><stop offset=".816" stop-color="#d7e8f1"/><stop offset=".842" stop-color="#e1edf3"/><stop offset=".905" stop-color="#e1edf3"/><stop offset=".918" stop-color="#eaf1f5"/><stop offset=".994" stop-color="#f3f5f6"/></linearGradient><linearGradient id="g277" x2="0" y2="1"><stop offset=".007" stop-color="#f6f7f7"/><stop offset=".425" stop-color="#ecf2f5"/><stop offset=".948" stop-color="#edf2f5"/><stop offset=".993" stop-color="#f7f6f6"/></linearGradient><linearGradient id="g278" x2="0" y2="1"><stop offset=".006" stop-color="#f5f6f7"/><stop offset=".192" stop-color="#e6eff4"/><stop offset=".645" stop-color="#e3edf3"/><stop offset=".669" stop-color="#e9f0f4"/><stop offset=".680" stop-color="#d1e5f0"/><stop offset=".703" stop-color="#d1e5f0"/><stop offset=".715" stop-color="#ddebf2"/><stop offset=".785" stop-color="#ddebf2"/><stop offset=".797" stop-color="#e4eef4"/><stop offset=".948" stop-color="#e9f0f4"/><stop offset=".994" stop-color="#f3f5f6"/></linearGradient><linearGradient id="g279" x2="0" y2="1"><stop offset=".010" stop-color="#eff3f5"/><stop offset=".279" stop-color="#e1edf3"/><stop offset=".683" stop-color="#e4eef4"/><stop offset=".702" stop-color="#cce2ef"/><stop offset=".740" stop-color="#cce2ef"/><stop offset=".760" stop-color="#dae9f2"/><stop offset=".875" stop-color="#dae9f2"/><stop offset=".894" stop-color="#e3edf3"/><stop offset=".990" stop-color="#ecf2f5"/></linearGradient><linearGradient id="g280" x2="0" y2="1"><stop offset=".009" stop-color="#e4eef4"/><stop offset=".311" stop-color="#d5e7f1"/><stop offset=".858" stop-color="#d7e8f1"/><stop offset=".877" stop-color="#b6d7e8"/><stop offset=".915" stop-color="#bddbea"/><stop offset=".934" stop-color="#d2e6f0"/><stop offset=".991" stop-color="#dae9f2"/></linearGradient><linearGradient id="g281" x2="0" y2="1"><stop offset=".007" stop-color="#f3f5f6"/><stop offset=".500" stop-color="#eaf1f5"/><stop offset=".527" stop-color="#f0f4f6"/><stop offset=".541" stop-color="#d8e9f1"/><stop offset=".568" stop-color="#d8e9f1"/><stop offset=".582" stop-color="#e4eef4"/><stop offset=".664" stop-color="#e4eef4"/><stop offset=".678" stop-color="#ecf2f5"/><stop offset=".993" stop-color="#f5f6f7"/></linearGradient><linearGradient id="g282" x2="0" y2="1"><stop offset=".007" stop-color="#f3f5f6"/><stop offset=".218" stop-color="#e6eff4"/><stop offset=".585" stop-color="#e9f0f4"/><stop offset=".599" stop-color="#d2e6f0"/><stop offset=".627" stop-color="#d2e6f0"/><stop offset=".655" stop-color="#ddebf2"/><stop offset=".725" stop-color="#ddebf2"/><stop offset=".739" stop-color="#e6eff4"/><stop offset=".937" stop-color="#eaf1f5"/><stop offset=".993" stop-color="#f3f5f6"/></linearGradient><linearGradient id="g283" x2="0" y2="1"><stop offset=".005" stop-color="#f5f6f7"/><stop offset=".270" stop-color="#ecf2f5"/><stop offset=".597" stop-color="#eff3f5"/><stop offset=".607" stop-color="#d7e8f1"/><stop offset=".628" stop-color="#d7e8f1"/><stop offset=".638" stop-color="#e3edf3"/><stop offset=".699" stop-color="#e3edf3"/><stop offset=".709" stop-color="#ecf2f5"/><stop offset=".964" stop-color="#f0f4f6"/><stop offset=".995" stop-color="#f3f5f6"/></linearGradient><linearGradient id="g284" x2="0" y2="1"><stop offset=".007" stop-color="#f6f7f7"/><stop offset=".838" stop-color="#edf2f5"/><stop offset=".866" stop-color="#f2f5f6"/><stop offset=".880" stop-color="#dbeaf2"/><stop offset=".908" stop-color="#dbeaf2"/><stop offset=".923" stop-color="#e7f0f4"/><stop offset=".993" stop-color="#ecf2f5"/></linearGradient><linearGradient id="g285" x2="0" y2="1"><stop offset=".009" stop-color="#f5f6f7"/><stop offset=".728" stop-color="#ecf2f5"/><stop offset=".763" stop-color="#f2f5f6"/><stop offset=".781" stop-color="#dae9f2"/><stop offset=".816" stop-color="#dae9f2"/><stop offset=".833" stop-color="#e6eff4"/><stop offset=".939" stop-color="#e9f0f4"/><stop offset=".956" stop-color="#f2f5f6"/><stop offset=".991" stop-color="#eff3f5"/></linearGradient><linearGradient id="g286" x2="0" y2="1"><stop offset=".009" stop-color="#f5f6f7"/><stop offset=".553" stop-color="#eaf1f5"/><stop offset=".868" stop-color="#eff3f5"/><stop offset=".886" stop-color="#d8e9f1"/><stop offset=".921" stop-color="#dae9f2"/><stop offset=".939" stop-color="#e7f0f4"/><stop offset=".991" stop-color="#ecf2f5"/></linearGradient><linearGradient id="g287" x2="0" y2="1"><stop offset=".009" stop-color="#f6f7f7"/><stop offset=".991" stop-color="#f2f5f6"/></linearGradient><linearGradient id="g288" x2="0" y2="1"><stop offset=".005" stop-color="#f5f6f7"/><stop offset=".313" stop-color="#eaf1f5"/><stop offset=".577" stop-color="#e9f0f4"/><stop offset=".599" stop-color="#eff3f5"/><stop offset=".610" stop-color="#d7e8f1"/><stop offset=".632" stop-color="#d7e8f1"/><stop offset=".643" stop-color="#e3edf3"/><stop offset=".709" stop-color="#e3edf3"/><stop offset=".720" stop-color="#eaf1f5"/><stop offset=".973" stop-color="#f2f5f6"/><stop offset=".995" stop-color="#f5f6f7"/></linearGradient><linearGradient id="g289" x2="0" y2="1"><stop offset=".007" stop-color="#f6f7f7"/><stop offset=".938" stop-color="#eff3f5"/><stop offset=".965" stop-color="#f5f6f7"/><stop offset=".979" stop-color="#e0ecf3"/><stop offset=".993" stop-color="#e0ecf3"/></linearGradient><linearGradient id="g290" x2="0" y2="1"><stop offset=".007" stop-color="#f3f5f6"/><stop offset=".479" stop-color="#f2f5f6"/><stop offset=".493" stop-color="#dbeaf2"/><stop offset=".521" stop-color="#dbeaf2"/><stop offset=".536" stop-color="#e7f0f4"/><stop offset=".621" stop-color="#e7f0f4"/><stop offset=".636" stop-color="#eff3f5"/><stop offset=".993" stop-color="#f5f6f7"/></linearGradient><linearGradient id="g291" x2="0" y2="1"><stop offset=".006" stop-color="#f5f6f7"/><stop offset=".544" stop-color="#f2f5f6"/><stop offset=".556" stop-color="#dbeaf2"/><stop offset=".581" stop-color="#dbeaf2"/><stop offset=".594" stop-color="#e7f0f4"/><stop offset=".669" stop-color="#e7f0f4"/><stop offset=".681" stop-color="#eff3f5"/><stop offset=".994" stop-color="#f5f6f7"/></linearGradient><linearGradient id="g292" x2="0" y2="1"><stop offset=".010" stop-color="#e7f0f4"/><stop offset=".337" stop-color="#d8e9f1"/><stop offset=".786" stop-color="#d7e8f1"/><stop offset=".827" stop-color="#ddebf2"/><stop offset=".847" stop-color="#bddbea"/><stop offset=".888" stop-color="#c0dceb"/><stop offset=".908" stop-color="#d5e7f1"/><stop offset=".990" stop-color="#deebf2"/></linearGradient><linearGradient id="g293" x2="0" y2="1"><stop offset=".009" stop-color="#f5f6f7"/><stop offset=".848" stop-color="#edf2f5"/><stop offset=".884" stop-color="#f3f5f6"/><stop offset=".902" stop-color="#ddebf2"/><stop offset=".938" stop-color="#deebf2"/><stop offset=".973" stop-color="#ecf2f5"/><stop offset=".991" stop-color="#ecf2f5"/></linearGradient><linearGradient id="g294" x2="0" y2="1"><stop offset=".007" stop-color="#f5f6f7"/><stop offset=".655" stop-color="#ecf2f5"/><stop offset=".696" stop-color="#f0f4f6"/><stop offset=".709" stop-color="#dae9f2"/><stop offset=".736" stop-color="#dae9f2"/><stop offset=".750" stop-color="#e6eff4"/><stop offset=".831" stop-color="#e6eff4"/><stop offset=".845" stop-color="#edf2f5"/><stop offset=".966" stop-color="#f2f5f6"/><stop offset=".993" stop-color="#f3f5f6"/></linearGradient><linearGradient id="g295" x2="0" y2="1"><stop offset=".007" stop-color="#f5f6f7"/><stop offset=".229" stop-color="#e9f0f4"/><stop offset=".674" stop-color="#ecf2f5"/><stop offset=".688" stop-color="#d4e6f1"/><stop offset=".715" stop-color="#d4e6f1"/><stop offset=".729" stop-color="#e0ecf3"/><stop offset=".812" stop-color="#e0ecf3"/><stop offset=".826" stop-color="#e9f0f4"/><stop offset=".951" stop-color="#edf2f5"/><stop offset=".993" stop-color="#f3f5f6"/></linearGradient><linearGradient id="g296" x2="0" y2="1"><stop offset=".009" stop-color="#f5f6f7"/><stop offset=".306" stop-color="#e6eff4"/><stop offset=".917" stop-color="#e7f0f4"/><stop offset=".991" stop-color="#f2f5f6"/></linearGradient><linearGradient id="g297" x2="0" y2="1"><stop offset=".010" stop-color="#f3f5f6"/><stop offset=".740" stop-color="#f2f5f6"/><stop offset=".760" stop-color="#dbeaf2"/><stop offset=".802" stop-color="#dbeaf2"/><stop offset=".844" stop-color="#e6eff4"/><stop offset=".948" stop-color="#eaf1f5"/><stop offset=".969" stop-color="#f3f5f6"/><stop offset=".990" stop-color="#eff3f5"/></linearGradient><linearGradient id="g298" x2="0" y2="1"><stop offset=".007" stop-color="#f3f5f6"/><stop offset=".326" stop-color="#e7f0f4"/><stop offset=".457" stop-color="#ecf2f5"/><stop offset=".471" stop-color="#d5e7f1"/><stop offset=".500" stop-color="#d5e7f1"/><stop offset=".514" stop-color="#e1edf3"/><stop offset=".601" stop-color="#e1edf3"/><stop offset=".616" stop-color="#e9f0f4"/><stop offset=".949" stop-color="#eff3f5"/><stop offset=".993" stop-color="#f5f6f7"/></linearGradient><linearGradient id="g299" x2="0" y2="1"><stop offset=".010" stop-color="#f5f6f7"/><stop offset=".427" stop-color="#e7f0f4"/><stop offset=".969" stop-color="#ecf2f5"/><stop offset=".990" stop-color="#edf2f5"/></linearGradient><linearGradient id="g300" x2="0" y2="1"><stop offset=".014" stop-color="#f3f5f6"/><stop offset=".851" stop-color="#eaf1f5"/><stop offset=".959" stop-color="#f6f7f7"/><stop offset=".986" stop-color="#e0ecf3"/></linearGradient><linearGradient id="g301" x2="0" y2="1"><stop offset=".007" stop-color="#f5f6f7"/><stop offset=".243" stop-color="#e6eff4"/><stop offset=".743" stop-color="#e9f0f4"/><stop offset=".757" stop-color="#d2e6f0"/><stop offset=".787" stop-color="#d2e6f0"/><stop offset=".816" stop-color="#ddebf2"/><stop offset=".890" stop-color="#ddebf2"/><stop offset=".904" stop-color="#e6eff4"/><stop offset=".993" stop-color="#f3f5f6"/></linearGradient><linearGradient id="g302" x2="0" y2="1"><stop offset=".007" stop-color="#f5f6f7"/><stop offset=".433" stop-color="#ecf2f5"/><stop offset=".673" stop-color="#eff3f5"/><stop offset=".687" stop-color="#d8e9f1"/><stop offset=".713" stop-color="#d8e9f1"/><stop offset=".727" stop-color="#e4eef4"/><stop offset=".807" stop-color="#e4eef4"/><stop offset=".820" stop-color="#ecf2f5"/><stop offset=".980" stop-color="#f2f5f6"/><stop offset=".993" stop-color="#f3f5f6"/></linearGradient><linearGradient id="g303" x2="0" y2="1"><stop offset=".006" stop-color="#f5f6f7"/><stop offset=".152" stop-color="#deebf2"/><stop offset=".736" stop-color="#e0ecf3"/><stop offset=".747" stop-color="#c5dfec"/><stop offset=".770" stop-color="#c7e0ed"/><stop offset=".781" stop-color="#d8e9f1"/><stop offset=".848" stop-color="#ddebf2"/><stop offset=".860" stop-color="#e4eef4"/><stop offset=".949" stop-color="#e9f0f4"/><stop offset=".994" stop-color="#f3f5f6"/></linearGradient><linearGradient id="g304" x2="0" y2="1"><stop offset=".007" stop-color="#e6eff4"/><stop offset=".260" stop-color="#dbeaf2"/><stop offset=".620" stop-color="#deebf2"/><stop offset=".633" stop-color="#c2ddec"/><stop offset=".660" stop-color="#c2ddec"/><stop offset=".673" stop-color="#d2e6f0"/><stop offset=".753" stop-color="#d2e6f0"/><stop offset=".767" stop-color="#ddebf2"/><stop offset=".873" stop-color="#eaf1f5"/><stop offset=".993" stop-color="#f3f5f6"/></linearGradient><linearGradient id="g305" x2="0" y2="1"><stop offset=".008" stop-color="#f5f6f7"/><stop offset=".558" stop-color="#e3edf3"/><stop offset=".792" stop-color="#e7f0f4"/><stop offset=".808" stop-color="#d2e6f0"/><stop offset=".842" stop-color="#d5e7f1"/><stop offset=".875" stop-color="#e3edf3"/><stop offset=".958" stop-color="#e9f0f4"/><stop offset=".975" stop-color="#f3f5f6"/><stop offset=".992" stop-color="#eff3f5"/></linearGradient><linearGradient id="g306" x2="0" y2="1"><stop offset=".013" stop-color="#eaf1f5"/><stop offset=".812" stop-color="#e3edf3"/><stop offset=".863" stop-color="#e7f0f4"/><stop offset=".887" stop-color="#d2e6f0"/><stop offset=".938" stop-color="#d5e7f1"/><stop offset=".988" stop-color="#e3edf3"/></linearGradient><linearGradient id="g307" x2="0" y2="1"><stop offset=".007" stop-color="#f6f7f7"/><stop offset=".964" stop-color="#f0f4f6"/><stop offset=".993" stop-color="#f7f6f6"/></linearGradient><linearGradient id="g308" x2="0" y2="1"><stop offset=".007" stop-color="#f5f6f7"/><stop offset=".607" stop-color="#f2f5f6"/><stop offset=".621" stop-color="#dbeaf2"/><stop offset=".650" stop-color="#dbeaf2"/><stop offset=".664" stop-color="#e7f0f4"/><stop offset=".750" stop-color="#e7f0f4"/><stop offset=".764" stop-color="#eff3f5"/><stop offset=".993" stop-color="#f3f5f6"/></linearGradient><linearGradient id="g309" x2="0" y2="1"><stop offset=".009" stop-color="#f5f6f7"/><stop offset=".898" stop-color="#ecf2f5"/><stop offset=".991" stop-color="#f7f6f6"/></linearGradient><linearGradient id="g310" x2="0" y2="1"><stop offset=".006" stop-color="#f6f7f7"/><stop offset=".339" stop-color="#ecf2f5"/><stop offset=".780" stop-color="#eff3f5"/><stop offset=".792" stop-color="#d8e9f1"/><stop offset=".815" stop-color="#d8e9f1"/><stop offset=".839" stop-color="#e3edf3"/><stop offset=".899" stop-color="#e3edf3"/><stop offset=".911" stop-color="#ecf2f5"/><stop offset=".958" stop-color="#f0f4f6"/><stop offset=".994" stop-color="#f3f5f6"/></linearGradient><linearGradient id="g311" x2="0" y2="1"><stop offset=".005" stop-color="#f5f6f7"/><stop offset=".192" stop-color="#e7f0f4"/><stop offset=".555" stop-color="#eaf1f5"/><stop offset=".566" stop-color="#d4e6f1"/><stop offset=".588" stop-color="#d4e6f1"/><stop offset=".610" stop-color="#deebf2"/><stop offset=".665" stop-color="#deebf2"/><stop offset=".676" stop-color="#e7f0f4"/><stop offset=".951" stop-color="#ecf2f5"/><stop offset=".995" stop-color="#f3f5f6"/></linearGradient><linearGradient id="g312" x2="0" y2="1"><stop offset=".008" stop-color="#f2f5f6"/><stop offset=".254" stop-color="#e3edf3"/><stop offset=".680" stop-color="#e6eff4"/><stop offset=".697" stop-color="#cfe4ef"/><stop offset=".730" stop-color="#cfe4ef"/><stop offset=".746" stop-color="#dbeaf2"/><stop offset=".844" stop-color="#deebf2"/><stop offset=".861" stop-color="#e7f0f4"/><stop offset=".992" stop-color="#f3f5f6"/></linearGradient><linearGradient id="g313" x2="0" y2="1"><stop offset=".005" stop-color="#f5f6f7"/><stop offset=".193" stop-color="#e9f0f4"/><stop offset=".620" stop-color="#e6eff4"/><stop offset=".641" stop-color="#ecf2f5"/><stop offset=".651" stop-color="#d4e6f1"/><stop offset=".672" stop-color="#d4e6f1"/><stop offset=".682" stop-color="#e0ecf3"/><stop offset=".745" stop-color="#e0ecf3"/><stop offset=".755" stop-color="#e7f0f4"/><stop offset=".964" stop-color="#eff3f5"/><stop offset=".995" stop-color="#f5f6f7"/></linearGradient><linearGradient id="g314" x2="0" y2="1"><stop offset=".009" stop-color="#f5f6f7"/><stop offset=".733" stop-color="#ecf2f5"/><stop offset=".767" stop-color="#f0f4f6"/><stop offset=".784" stop-color="#dae9f2"/><stop offset=".819" stop-color="#dae9f2"/><stop offset=".853" stop-color="#e4eef4"/><stop offset=".940" stop-color="#e9f0f4"/><stop offset=".957" stop-color="#f2f5f6"/><stop offset=".991" stop-color="#eff3f5"/></linearGradient><linearGradient id="g315" x2="0" y2="1"><stop offset=".014" stop-color="#f3f5f6"/><stop offset=".905" stop-color="#eff3f5"/><stop offset=".986" stop-color="#f7f6f6"/></linearGradient><linearGradient id="g316" x2="0" y2="1"><stop offset=".009" stop-color="#f5f6f7"/><stop offset=".417" stop-color="#e9f0f4"/><stop offset=".843" stop-color="#e7f0f4"/><stop offset=".880" stop-color="#edf2f5"/><stop offset=".898" stop-color="#d7e8f1"/><stop offset=".935" stop-color="#dbeaf2"/><stop offset=".954" stop-color="#e9f0f4"/><stop offset=".991" stop-color="#ecf2f5"/></linearGradient><linearGradient id="g317" x2="0" y2="1"><stop offset=".007" stop-color="#f6f7f7"/><stop offset=".396" stop-color="#ecf2f5"/><stop offset=".896" stop-color="#eff3f5"/><stop offset=".910" stop-color="#d8e9f1"/><stop offset=".938" stop-color="#dae9f2"/><stop offset=".951" stop-color="#e7f0f4"/><stop offset=".993" stop-color="#ecf2f5"/></linearGradient><linearGradient id="g318" x2="0" y2="1"><stop offset=".007" stop-color="#f5f6f7"/><stop offset=".243" stop-color="#e6eff4"/><stop offset=".816" stop-color="#e9f0f4"/><stop offset=".831" stop-color="#d2e6f0"/><stop offset=".860" stop-color="#d2e6f0"/><stop offset=".890" stop-color="#ddebf2"/><stop offset=".963" stop-color="#e7f0f4"/><stop offset=".978" stop-color="#f2f5f6"/><stop offset=".993" stop-color="#eff3f5"/></linearGradient><linearGradient id="g319" x2="0" y2="1"><stop offset=".007" stop-color="#f5f6f7"/><stop offset=".345" stop-color="#dbeaf2"/><stop offset=".777" stop-color="#deebf2"/><stop offset=".791" stop-color="#c2ddec"/><stop offset=".818" stop-color="#c2ddec"/><stop offset=".831" stop-color="#d2e6f0"/><stop offset=".912" stop-color="#d2e6f0"/><stop offset=".926" stop-color="#ddebf2"/><stop offset=".993" stop-color="#eaf1f5"/></linearGradient><linearGradient id="g320" x2="0" y2="1"><stop offset=".017" stop-color="#f3f5f6"/><stop offset=".550" stop-color="#e4eef4"/><stop offset=".883" stop-color="#ecf2f5"/><stop offset=".983" stop-color="#f2f5f6"/></linearGradient><linearGradient id="g321" x2="0" y2="1"><stop offset=".007" stop-color="#f3f5f6"/><stop offset=".232" stop-color="#e4eef4"/><stop offset=".444" stop-color="#e3edf3"/><stop offset=".472" stop-color="#e9f0f4"/><stop offset=".486" stop-color="#d1e5f0"/><stop offset=".514" stop-color="#d1e5f0"/><stop offset=".528" stop-color="#ddebf2"/><stop offset=".613" stop-color="#ddebf2"/><stop offset=".641" stop-color="#e1edf3"/><stop offset=".937" stop-color="#e9f0f4"/><stop offset=".993" stop-color="#f5f6f7"/></linearGradient><linearGradient id="g322" x2="0" y2="1"><stop offset=".007" stop-color="#f2f5f6"/><stop offset=".267" stop-color="#e7f0f4"/><stop offset=".596" stop-color="#ecf2f5"/><stop offset=".651" stop-color="#f2f5f6"/><stop offset=".664" stop-color="#dbeaf2"/><stop offset=".692" stop-color="#dbeaf2"/><stop offset=".719" stop-color="#e6eff4"/><stop offset=".788" stop-color="#e6eff4"/><stop offset=".801" stop-color="#eff3f5"/><stop offset=".993" stop-color="#f3f5f6"/></linearGradient><linearGradient id="g323" x2="0" y2="1"><stop offset=".007" stop-color="#fae8de"/><stop offset=".640" stop-color="#f8f2ef"/><stop offset=".993" stop-color="#f7f6f6"/></linearGradient><linearGradient id="g324" x2="0" y2="1"><stop offset=".013" stop-color="#fae8de"/><stop offset=".910" stop-color="#f8f3f0"/><stop offset=".987" stop-color="#f8f4f2"/></linearGradient><linearGradient id="g325" x2="0" y2="1"><stop offset=".018" stop-color="#fae8de"/><stop offset=".804" stop-color="#f8f2ef"/><stop offset=".982" stop-color="#f7f5f4"/></linearGradient><linearGradient id="g326" x2="0" y2="1"><stop offset=".011" stop-color="#f9f0eb"/><stop offset=".989" stop-color="#f7f5f4"/></linearGradient><linearGradient id="g327" x2="0" y2="1"><stop offset=".015" stop-color="#fcdfcf"/><stop offset=".779" stop-color="#faeae1"/><stop offset=".985" stop-color="#f8f1ed"/></linearGradient><linearGradient id="g328" x2="0" y2="1"><stop offset=".009" stop-color="#f9ede5"/><stop offset=".991" stop-color="#f7f5f4"/></linearGradient><linearGradient id="g329" x2="0" y2="1"><stop offset=".010" stop-color="#faeae1"/><stop offset=".990" stop-color="#f7f5f4"/></linearGradient><linearGradient id="g330" x2="0" y2="1"><stop offset=".009" stop-color="#f9ede5"/><stop offset=".918" stop-color="#f8f4f2"/><stop offset=".991" stop-color="#f7f5f4"/></linearGradient><linearGradient id="g331" x2="0" y2="1"><stop offset=".014" stop-color="#f9efe9"/><stop offset=".986" stop-color="#f7f5f4"/></linearGradient><linearGradient id="g332" x2="0" y2="1"><stop offset=".008" stop-color="#f8f1ed"/><stop offset=".992" stop-color="#f7f6f6"/></linearGradient><linearGradient id="g333" x2="0" y2="1"><stop offset=".022" stop-color="#f9efe9"/><stop offset=".978" stop-color="#f7f5f4"/></linearGradient><linearGradient id="g334" x2="0" y2="1"><stop offset=".012" stop-color="#fcdfcf"/><stop offset=".646" stop-color="#faeae1"/><stop offset=".988" stop-color="#f8f4f2"/></linearGradient><linearGradient id="g335" x2="0" y2="1"><stop offset=".014" stop-color="#f9f0eb"/><stop offset=".986" stop-color="#f7f5f4"/></linearGradient><linearGradient id="g336" x2="0" y2="1"><stop offset=".009" stop-color="#f9ede5"/><stop offset=".991" stop-color="#f7f5f4"/></linearGradient><linearGradient id="g337" x2="0" y2="1"><stop offset=".015" stop-color="#f9ede5"/><stop offset=".985" stop-color="#f7f5f4"/></linearGradient><linearGradient id="g338" x2="0" y2="1"><stop offset=".008" stop-color="#fae8de"/><stop offset=".992" stop-color="#f7f5f4"/></linearGradient><linearGradient id="g339" x2="0" y2="1"><stop offset=".014" stop-color="#fcd5bf"/><stop offset=".653" stop-color="#fbe4d6"/><stop offset=".986" stop-color="#f8f2ef"/></linearGradient><linearGradient id="g340" x2="0" y2="1"><stop offset=".008" stop-color="#f9ebe3"/><stop offset=".910" stop-color="#f8f4f2"/><stop offset=".992" stop-color="#f7f5f4"/></linearGradient><linearGradient id="g341" x2="0" y2="1"><stop offset=".011" stop-color="#fae8de"/><stop offset=".967" stop-color="#f8f2ef"/><stop offset=".989" stop-color="#f8f3f0"/></linearGradient><linearGradient id="g342" x2="0" y2="1"><stop offset=".009" stop-color="#f8f1ed"/><stop offset=".991" stop-color="#f7f5f4"/></linearGradient><linearGradient id="g343" x2="0" y2="1"><stop offset=".008" stop-color="#f8f1ed"/><stop offset=".992" stop-color="#f7f5f4"/></linearGradient><linearGradient id="g344" x2="0" y2="1"><stop offset=".014" stop-color="#fce0d0"/><stop offset=".662" stop-color="#fae9df"/><stop offset=".986" stop-color="#f8f4f2"/></linearGradient><linearGradient id="g345" x2="0" y2="1"><stop offset=".011" stop-color="#f8f1ed"/><stop offset=".989" stop-color="#f7f5f4"/></linearGradient><linearGradient id="g346" x2="0" y2="1"><stop offset=".009" stop-color="#faeae1"/><stop offset=".783" stop-color="#f8f3f0"/><stop offset=".991" stop-color="#f7f5f4"/></linearGradient><linearGradient id="g347" x2="0" y2="1"><stop offset=".011" stop-color="#fae9df"/><stop offset=".989" stop-color="#f8f3f0"/></linearGradient><linearGradient id="g348" x2="0" y2="1"><stop offset=".008" stop-color="#f9ede5"/><stop offset=".992" stop-color="#f7f5f4"/></linearGradient><linearGradient id="g349" x2="0" y2="1"><stop offset=".010" stop-color="#fbe6da"/><stop offset=".770" stop-color="#f9f0eb"/><stop offset=".990" stop-color="#f7f5f4"/></linearGradient><linearGradient id="g350" x2="0" y2="1"><stop offset=".012" stop-color="#faeae1"/><stop offset=".988" stop-color="#f8f4f2"/></linearGradient><linearGradient id="g351" x2="0" y2="1"><stop offset=".011" stop-color="#fae8de"/><stop offset=".670" stop-color="#f8f1ed"/><stop offset=".989" stop-color="#f7f5f4"/></linearGradient><linearGradient id="g352" x2="0" y2="1"><stop offset=".018" stop-color="#fae8de"/><stop offset=".982" stop-color="#f9efe9"/></linearGradient><linearGradient id="g353" x2="0" y2="1"><stop offset=".020" stop-color="#fbe5d8"/><stop offset=".820" stop-color="#f9eee7"/><stop offset=".980" stop-color="#f8f1ed"/></linearGradient><linearGradient id="g354" x2="0" y2="1"><stop offset=".018" stop-color="#f9ebe3"/><stop offset=".982" stop-color="#f8f1ed"/></linearGradient><linearGradient id="g355" x2="0" y2="1"><stop offset=".013" stop-color="#fce0d0"/><stop offset=".628" stop-color="#fae9df"/><stop offset=".987" stop-color="#f7f5f4"/></linearGradient><linearGradient id="g356" x2="0" y2="1"><stop offset=".008" stop-color="#f9eee7"/><stop offset=".992" stop-color="#f7f6f6"/></linearGradient><linearGradient id="g357" x2="0" y2="1"><stop offset=".008" stop-color="#fae9df"/><stop offset=".992" stop-color="#f7f6f6"/></linearGradient><linearGradient id="g358" x2="0" y2="1"><stop offset=".007" stop-color="#f9efe9"/><stop offset=".993" stop-color="#f7f6f6"/></linearGradient><linearGradient id="g359" x2="0" y2="1"><stop offset=".010" stop-color="#fae9df"/><stop offset=".740" stop-color="#f8f2ef"/><stop offset=".990" stop-color="#f7f5f4"/></linearGradient><linearGradient id="g360" x2="0" y2="1"><stop offset=".013" stop-color="#f9ebe3"/><stop offset=".987" stop-color="#f7f5f4"/></linearGradient><linearGradient id="g361" x2="0" y2="1"><stop offset=".018" stop-color="#fce2d2"/><stop offset=".768" stop-color="#f9ebe3"/><stop offset=".982" stop-color="#f8f1ed"/></linearGradient><linearGradient id="g362" x2="0" y2="1"><stop offset=".008" stop-color="#faeae1"/><stop offset=".992" stop-color="#f7f6f6"/></linearGradient><linearGradient id="g363" x2="0" y2="1"><stop offset=".013" stop-color="#faeae1"/><stop offset=".987" stop-color="#f8f1ed"/></linearGradient><linearGradient id="g364" x2="0" y2="1"><stop offset=".011" stop-color="#fcd5bf"/><stop offset=".534" stop-color="#fbe4d6"/><stop offset=".966" stop-color="#f7f5f4"/><stop offset=".989" stop-color="#f7f5f4"/></linearGradient><linearGradient id="g365" x2="0" y2="1"><stop offset=".010" stop-color="#f9f0eb"/><stop offset=".990" stop-color="#f7f5f4"/></linearGradient><linearGradient id="g366" x2="0" y2="1"><stop offset=".012" stop-color="#f9ebe3"/><stop offset=".988" stop-color="#f7f5f4"/></linearGradient><linearGradient id="g367" x2="0" y2="1"><stop offset=".011" stop-color="#fcd5bf"/><stop offset=".207" stop-color="#fce0d0"/><stop offset=".272" stop-color="#f9efe9"/><stop offset=".989" stop-color="#f7f5f4"/></linearGradient><linearGradient id="g368" x2="0" y2="1"><stop offset=".017" stop-color="#f9ede5"/><stop offset=".983" stop-color="#f7f5f4"/></linearGradient><linearGradient id="g369" x2="0" y2="1"><stop offset=".008" stop-color="#f9eee7"/><stop offset=".992" stop-color="#f7f5f4"/></linearGradient><linearGradient id="g370" x2="0" y2="1"><stop offset=".011" stop-color="#f9efe9"/><stop offset=".989" stop-color="#f7f5f4"/></linearGradient><linearGradient id="g371" x2="0" y2="1"><stop offset=".015" stop-color="#fae7dc"/><stop offset=".897" stop-color="#f8f1ed"/><stop offset=".985" stop-color="#f8f3f0"/></linearGradient><linearGradient id="g372" x2="0" y2="1"><stop offset=".010" stop-color="#fbe6da"/><stop offset=".740" stop-color="#f9f0eb"/><stop offset=".990" stop-color="#f7f5f4"/></linearGradient><linearGradient id="g373" x2="0" y2="1"><stop offset=".010" stop-color="#f9ede5"/><stop offset=".990" stop-color="#f7f5f4"/></linearGradient><linearGradient id="g374" x2="0" y2="1"><stop offset=".017" stop-color="#f9ebe3"/><stop offset=".983" stop-color="#f7f5f4"/></linearGradient><linearGradient id="g375" x2="0" y2="1"><stop offset=".014" stop-color="#f9eee7"/><stop offset=".986" stop-color="#f7f5f4"/></linearGradient><linearGradient id="g376" x2="0" y2="1"><stop offset=".019" stop-color="#f9ede5"/><stop offset=".981" stop-color="#f7f5f4"/></linearGradient><linearGradient id="g377" x2="0" y2="1"><stop offset=".013" stop-color="#f9eee7"/><stop offset=".988" stop-color="#f7f5f4"/></linearGradient><linearGradient id="g378" x2="0" y2="1"><stop offset=".012" stop-color="#fbe3d4"/><stop offset=".709" stop-color="#f9ede5"/><stop offset=".988" stop-color="#f8f4f2"/></linearGradient><linearGradient id="g379" x2="0" y2="1"><stop offset=".011" stop-color="#f9ebe3"/><stop offset=".989" stop-color="#f7f5f4"/></linearGradient><linearGradient id="g380" x2="0" y2="1"><stop offset=".017" stop-color="#f9f0eb"/><stop offset=".983" stop-color="#f7f5f4"/></linearGradient><linearGradient id="g381" x2="0" y2="1"><stop offset=".017" stop-color="#f9eee7"/><stop offset=".983" stop-color="#f7f5f4"/></linearGradient><linearGradient id="g382" x2="0" y2="1"><stop offset=".015" stop-color="#f8f1ed"/><stop offset=".985" stop-color="#f7f5f4"/></linearGradient><linearGradient id="g383" x2="0" y2="1"><stop offset=".026" stop-color="#f9ebe3"/><stop offset=".974" stop-color="#f8f2ef"/></linearGradient><linearGradient id="g384" x2="0" y2="1"><stop offset=".018" stop-color="#f8f1ed"/><stop offset=".982" stop-color="#f7f5f4"/></linearGradient><linearGradient id="g385" x2="0" y2="1"><stop offset=".010" stop-color="#f9efe9"/><stop offset=".990" stop-color="#f7f5f4"/></linearGradient><linearGradient id="g386" x2="0" y2="1"><stop offset=".008" stop-color="#fbe5d8"/><stop offset=".658" stop-color="#f9f0eb"/><stop offset=".992" stop-color="#f7f5f4"/></linearGradient><linearGradient id="g387" x2="0" y2="1"><stop offset=".008" stop-color="#fcd7c2"/><stop offset=".515" stop-color="#fae8de"/><stop offset=".992" stop-color="#f7f6f6"/></linearGradient><linearGradient id="g388" x2="0" y2="1"><stop offset=".012" stop-color="#f8f1ed"/><stop offset=".988" stop-color="#f7f5f4"/></linearGradient><linearGradient id="g389" x2="0" y2="1"><stop offset=".017" stop-color="#fae8de"/><stop offset=".983" stop-color="#f8f2ef"/></linearGradient><linearGradient id="g390" x2="0" y2="1"><stop offset=".020" stop-color="#fae7dc"/><stop offset=".980" stop-color="#f9ede5"/></linearGradient><linearGradient id="g391" x2="0" y2="1"><stop offset=".017" stop-color="#fae8de"/><stop offset=".983" stop-color="#f9f0eb"/></linearGradient><linearGradient id="g392" x2="0" y2="1"><stop offset=".016" stop-color="#fdddcb"/><stop offset=".694" stop-color="#fae9df"/><stop offset=".984" stop-color="#f8f1ed"/></linearGradient><linearGradient id="g393" x2="0" y2="1"><stop offset=".016" stop-color="#f9efe9"/><stop offset=".984" stop-color="#f7f5f4"/></linearGradient><linearGradient id="g394" x2="0" y2="1"><stop offset=".014" stop-color="#fdd9c4"/><stop offset=".986" stop-color="#fce0d0"/></linearGradient><linearGradient id="g395" x2="0" y2="1"><stop offset=".020" stop-color="#fdddcb"/><stop offset=".860" stop-color="#fae9df"/><stop offset=".980" stop-color="#f9ede5"/></linearGradient><linearGradient id="g396" x2="0" y2="1"><stop offset=".010" stop-color="#f8f1ed"/><stop offset=".990" stop-color="#f7f5f4"/></linearGradient><linearGradient id="g397" x2="0" y2="1"><stop offset=".015" stop-color="#fae8de"/><stop offset=".833" stop-color="#f8f1ed"/><stop offset=".985" stop-color="#f8f4f2"/></linearGradient><linearGradient id="g398" x2="0" y2="1"><stop offset=".010" stop-color="#fae8de"/><stop offset=".990" stop-color="#f7f5f4"/></linearGradient><linearGradient id="g399" x2="0" y2="1"><stop offset=".012" stop-color="#fbe5d8"/><stop offset=".940" stop-color="#f9f0eb"/><stop offset=".988" stop-color="#f8f1ed"/></linearGradient><linearGradient id="g400" x2="0" y2="1"><stop offset=".009" stop-color="#fcd7c2"/><stop offset=".598" stop-color="#fae8de"/><stop offset=".991" stop-color="#f8f3f0"/></linearGradient><linearGradient id="g401" x2="0" y2="1"><stop offset=".013" stop-color="#fae8de"/><stop offset=".987" stop-color="#f7f5f4"/></linearGradient><linearGradient id="g402" x2="0" y2="1"><stop offset=".009" stop-color="#faeae1"/><stop offset=".864" stop-color="#f8f4f2"/><stop offset=".991" stop-color="#f7f5f4"/></linearGradient><linearGradient id="g403" x2="0" y2="1"><stop offset=".008" stop-color="#f9f0eb"/><stop offset=".992" stop-color="#f7f5f4"/></linearGradient><linearGradient id="g404" x2="0" y2="1"><stop offset=".009" stop-color="#f9ede5"/><stop offset=".991" stop-color="#f7f5f4"/></linearGradient><linearGradient id="g405" x2="0" y2="1"><stop offset=".011" stop-color="#faeae1"/><stop offset=".989" stop-color="#f8f4f2"/></linearGradient><linearGradient id="g406" x2="0" y2="1"><stop offset=".012" stop-color="#fce0d0"/><stop offset=".988" stop-color="#fae8de"/></linearGradient><linearGradient id="g407" x2="0" y2="1"><stop offset=".013" stop-color="#f9f0eb"/><stop offset=".987" stop-color="#f7f5f4"/></linearGradient><linearGradient id="g408" x2="0" y2="1"><stop offset=".011" stop-color="#f9ede5"/><stop offset=".989" stop-color="#f7f5f4"/></linearGradient><linearGradient id="g409" x2="0" y2="1"><stop offset=".011" stop-color="#fdddcb"/><stop offset=".489" stop-color="#fae9df"/><stop offset=".966" stop-color="#f7f5f4"/><stop offset=".989" stop-color="#f7f5f4"/></linearGradient><linearGradient id="g410" x2="0" y2="1"><stop offset=".015" stop-color="#fcd7c2"/><stop offset=".985" stop-color="#fae8de"/></linearGradient><linearGradient id="g411" x2="0" y2="1"><stop offset=".009" stop-color="#f8f1ed"/><stop offset=".991" stop-color="#f7f5f4"/></linearGradient><linearGradient id="g412" x2="0" y2="1"><stop offset=".009" stop-color="#f9eee7"/><stop offset=".991" stop-color="#f7f5f4"/></linearGradient><linearGradient id="g413" x2="0" y2="1"><stop offset=".011" stop-color="#f9efe9"/><stop offset=".989" stop-color="#f7f5f4"/></linearGradient><linearGradient id="g414" x2="0" y2="1"><stop offset=".009" stop-color="#f9efe9"/><stop offset=".991" stop-color="#f7f5f4"/></linearGradient><linearGradient id="g415" x2="0" y2="1"><stop offset=".009" stop-color="#fae7dc"/><stop offset=".645" stop-color="#f8f1ed"/><stop offset=".991" stop-color="#f7f5f4"/></linearGradient><linearGradient id="g416" x2="0" y2="1"><stop offset=".013" stop-color="#fae7dc"/><stop offset=".910" stop-color="#f8f1ed"/><stop offset=".987" stop-color="#f8f3f0"/></linearGradient><linearGradient id="g417" x2="0" y2="1"><stop offset=".014" stop-color="#f9eee7"/><stop offset=".986" stop-color="#f7f5f4"/></linearGradient><linearGradient id="g418" x2="0" y2="1"><stop offset=".011" stop-color="#f9efe9"/><stop offset=".989" stop-color="#f7f5f4"/></linearGradient><linearGradient id="g419" x2="0" y2="1"><stop offset=".008" stop-color="#f8f1ed"/><stop offset=".992" stop-color="#f7f5f4"/></linearGradient><linearGradient id="g420" x2="0" y2="1"><stop offset=".013" stop-color="#f9f0eb"/><stop offset=".987" stop-color="#f7f5f4"/></linearGradient><linearGradient id="g421" x2="0" y2="1"><stop offset=".006" stop-color="#f8f1ed"/><stop offset=".994" stop-color="#f7f6f6"/></linearGradient><linearGradient id="g422" x2="0" y2="1"><stop offset=".009" stop-color="#f9ede5"/><stop offset=".991" stop-color="#f7f5f4"/></linearGradient><linearGradient id="g423" x2="0" y2="1"><stop offset=".015" stop-color="#f8f1ed"/><stop offset=".985" stop-color="#f7f5f4"/></linearGradient><linearGradient id="g424" x2="0" y2="1"><stop offset=".008" stop-color="#f9efe9"/><stop offset=".992" stop-color="#f7f5f4"/></linearGradient><linearGradient id="g425" x2="0" y2="1"><stop offset=".008" stop-color="#f9f0eb"/><stop offset=".992" stop-color="#f7f6f6"/></linearGradient><linearGradient id="g426" x2="0" y2="1"><stop offset=".006" stop-color="#f9f0eb"/><stop offset=".994" stop-color="#f7f6f6"/></linearGradient><linearGradient id="g427" x2="0" y2="1"><stop offset=".003" stop-color="#fcd7c2"/><stop offset=".370" stop-color="#fcdfcf"/><stop offset=".522" stop-color="#f9ede5"/><stop offset=".997" stop-color="#f2f5f6"/></linearGradient><linearGradient id="g428" x2="0" y2="1"><stop offset=".003" stop-color="#f9ede5"/><stop offset=".997" stop-color="#f2f5f6"/></linearGradient><linearGradient id="g429" x2="0" y2="1"><stop offset=".003" stop-color="#fae9df"/><stop offset=".794" stop-color="#f8f2ef"/><stop offset=".997" stop-color="#f5f6f7"/></linearGradient><linearGradient id="g430" x2="0" y2="1"><stop offset=".026" stop-color="#f9f0eb"/><stop offset=".132" stop-color="#fce2d2"/><stop offset=".816" stop-color="#fce2d2"/><stop offset=".974" stop-color="#f7f5f4"/></linearGradient><linearGradient id="g431" x2="0" y2="1"><stop offset=".003" stop-color="#fce0d0"/><stop offset=".509" stop-color="#faeae1"/><stop offset=".854" stop-color="#f8f3f0"/><stop offset=".997" stop-color="#f3f5f6"/></linearGradient><linearGradient id="g432" x2="0" y2="1"><stop offset=".010" stop-color="#fae7dc"/><stop offset=".906" stop-color="#f9eee7"/><stop offset=".990" stop-color="#f7f5f4"/></linearGradient><linearGradient id="g433" x2="0" y2="1"><stop offset=".003" stop-color="#fdd9c4"/><stop offset=".402" stop-color="#fce2d2"/><stop offset=".921" stop-color="#f8f2ef"/><stop offset=".997" stop-color="#f2f5f6"/></linearGradient><linearGradient id="g434" x2="0" y2="1"><stop offset=".016" stop-color="#f8f4f2"/><stop offset=".177" stop-color="#fae7dc"/><stop offset=".823" stop-color="#fae9df"/><stop offset=".984" stop-color="#f7f5f4"/></linearGradient><linearGradient id="g435" x2="0" y2="1"><stop offset=".006" stop-color="#fce0d0"/><stop offset=".079" stop-color="#fce0d0"/><stop offset=".091" stop-color="#fbe5d8"/><stop offset=".116" stop-color="#f7f5f4"/><stop offset=".652" stop-color="#f8f2ef"/><stop offset=".701" stop-color="#fbe4d6"/><stop offset=".738" stop-color="#f7b99c"/><stop offset=".762" stop-color="#f6af8e"/><stop offset=".933" stop-color="#f5aa89"/><stop offset=".945" stop-color="#f7b799"/><stop offset=".970" stop-color="#fbe3d4"/><stop offset=".982" stop-color="#f9f0eb"/><stop offset=".994" stop-color="#f7f6f6"/></linearGradient><linearGradient id="g436" x2="0" y2="1"><stop offset=".038" stop-color="#fcd5bf"/><stop offset=".731" stop-color="#fce0d0"/><stop offset=".962" stop-color="#f9efe9"/></linearGradient><linearGradient id="g437" x2="0" y2="1"><stop offset=".003" stop-color="#f8f3f0"/><stop offset=".054" stop-color="#fcdecd"/><stop offset=".433" stop-color="#fcd5bf"/><stop offset=".670" stop-color="#fce0d0"/><stop offset=".946" stop-color="#f6f7f7"/><stop offset=".997" stop-color="#f3f5f6"/></linearGradient><linearGradient id="g438" x2="0" y2="1"><stop offset=".005" stop-color="#f6f7f7"/><stop offset=".146" stop-color="#e6eff4"/><stop offset=".637" stop-color="#e0ecf3"/><stop offset=".656" stop-color="#e6eff4"/><stop offset=".665" stop-color="#cce2ef"/><stop offset=".684" stop-color="#cce2ef"/><stop offset=".693" stop-color="#dae9f2"/><stop offset=".750" stop-color="#dae9f2"/><stop offset=".759" stop-color="#e1edf3"/><stop offset=".995" stop-color="#e1edf3"/></linearGradient><linearGradient id="g439" x2="0" y2="1"><stop offset=".005" stop-color="#f6f7f7"/><stop offset=".170" stop-color="#e6eff4"/><stop offset=".764" stop-color="#e7f0f4"/><stop offset=".775" stop-color="#d1e5f0"/><stop offset=".797" stop-color="#d1e5f0"/><stop offset=".808" stop-color="#ddebf2"/><stop offset=".874" stop-color="#ddebf2"/><stop offset=".885" stop-color="#e4eef4"/><stop offset=".995" stop-color="#e4eef4"/></linearGradient><linearGradient id="g440" x2="0" y2="1"><stop offset=".005" stop-color="#f6f7f7"/><stop offset=".146" stop-color="#e6eff4"/><stop offset=".637" stop-color="#e0ecf3"/><stop offset=".656" stop-color="#e6eff4"/><stop offset=".665" stop-color="#cce2ef"/><stop offset=".684" stop-color="#cce2ef"/><stop offset=".693" stop-color="#dae9f2"/><stop offset=".750" stop-color="#dae9f2"/><stop offset=".759" stop-color="#e1edf3"/><stop offset=".995" stop-color="#e1edf3"/></linearGradient><linearGradient id="g441" x2="0" y2="1"><stop offset=".005" stop-color="#f6f7f7"/><stop offset=".181" stop-color="#eaf1f5"/><stop offset=".764" stop-color="#ecf2f5"/><stop offset=".775" stop-color="#d4e6f1"/><stop offset=".797" stop-color="#d4e6f1"/><stop offset=".808" stop-color="#e0ecf3"/><stop offset=".874" stop-color="#e0ecf3"/><stop offset=".885" stop-color="#e9f0f4"/><stop offset=".995" stop-color="#e9f0f4"/></linearGradient><linearGradient id="g442" x2="0" y2="1"><stop offset=".005" stop-color="#f6f7f7"/><stop offset=".146" stop-color="#e6eff4"/><stop offset=".656" stop-color="#e7f0f4"/><stop offset=".665" stop-color="#d1e5f0"/><stop offset=".684" stop-color="#d1e5f0"/><stop offset=".693" stop-color="#ddebf2"/><stop offset=".750" stop-color="#ddebf2"/><stop offset=".759" stop-color="#e4eef4"/><stop offset=".995" stop-color="#e4eef4"/></linearGradient><linearGradient id="g443" x2="0" y2="1"><stop offset=".005" stop-color="#f5f6f7"/><stop offset=".137" stop-color="#e3edf3"/><stop offset=".656" stop-color="#e1edf3"/><stop offset=".665" stop-color="#c7e0ed"/><stop offset=".684" stop-color="#c7e0ed"/><stop offset=".693" stop-color="#d5e7f1"/><stop offset=".750" stop-color="#d5e7f1"/><stop offset=".759" stop-color="#deebf2"/><stop offset=".995" stop-color="#ddebf2"/></linearGradient><linearGradient id="g444" x2="0" y2="1"><stop offset=".003" stop-color="#f7f6f6"/><stop offset=".062" stop-color="#dae9f2"/><stop offset=".678" stop-color="#c5dfec"/><stop offset=".824" stop-color="#bddbea"/><stop offset=".835" stop-color="#c5dfec"/><stop offset=".841" stop-color="#9dcbe1"/><stop offset=".851" stop-color="#9dcbe1"/><stop offset=".857" stop-color="#b1d5e7"/><stop offset=".889" stop-color="#b1d5e7"/><stop offset=".895" stop-color="#bddbea"/><stop offset=".905" stop-color="#b8d8e9"/><stop offset=".927" stop-color="#c0dceb"/><stop offset=".997" stop-color="#c0dceb"/></linearGradient><linearGradient id="g445" x2="0" y2="1"><stop offset=".003" stop-color="#f7f6f6"/><stop offset=".062" stop-color="#dae9f2"/><stop offset=".847" stop-color="#cae1ee"/><stop offset=".858" stop-color="#d1e5f0"/><stop offset=".863" stop-color="#acd2e5"/><stop offset=".874" stop-color="#acd2e5"/><stop offset=".879" stop-color="#bddbea"/><stop offset=".911" stop-color="#bddbea"/><stop offset=".917" stop-color="#cce2ef"/><stop offset=".927" stop-color="#c5dfec"/><stop offset=".949" stop-color="#cce2ef"/><stop offset=".997" stop-color="#cce2ef"/></linearGradient><linearGradient id="g446" x2="0" y2="1"><stop offset=".011" stop-color="#f7f6f6"/><stop offset=".250" stop-color="#edf2f5"/><stop offset=".924" stop-color="#f3f5f6"/><stop offset=".989" stop-color="#f7f6f6"/></linearGradient><linearGradient id="g447" x2="0" y2="1"><stop offset=".003" stop-color="#f7f6f6"/><stop offset=".096" stop-color="#e9f0f4"/><stop offset=".791" stop-color="#e4eef4"/><stop offset=".798" stop-color="#cce2ef"/><stop offset=".811" stop-color="#cce2ef"/><stop offset=".818" stop-color="#dae9f2"/><stop offset=".858" stop-color="#d8e9f1"/><stop offset=".864" stop-color="#e1edf3"/><stop offset=".997" stop-color="#e1edf3"/></linearGradient><linearGradient id="g448" x2="0" y2="1"><stop offset=".004" stop-color="#f7f6f6"/><stop offset=".103" stop-color="#e4eef4"/><stop offset=".762" stop-color="#dbeaf2"/><stop offset=".777" stop-color="#e1edf3"/><stop offset=".784" stop-color="#c5dfec"/><stop offset=".798" stop-color="#c5dfec"/><stop offset=".805" stop-color="#d5e7f1"/><stop offset=".848" stop-color="#d5e7f1"/><stop offset=".855" stop-color="#ddebf2"/><stop offset=".996" stop-color="#ddebf2"/></linearGradient><linearGradient id="g449" x2="0" y2="1"><stop offset=".005" stop-color="#f6f7f7"/><stop offset=".214" stop-color="#e9f0f4"/><stop offset=".764" stop-color="#e9f0f4"/><stop offset=".775" stop-color="#d2e6f0"/><stop offset=".797" stop-color="#d1e5f0"/><stop offset=".808" stop-color="#ddebf2"/><stop offset=".874" stop-color="#ddebf2"/><stop offset=".885" stop-color="#e4eef4"/><stop offset=".995" stop-color="#e4eef4"/></linearGradient><linearGradient id="g450" x2="0" y2="1"><stop offset=".005" stop-color="#f6f7f7"/><stop offset=".153" stop-color="#e6eff4"/><stop offset=".312" stop-color="#dae9f2"/><stop offset=".688" stop-color="#d7e8f1"/><stop offset=".698" stop-color="#b6d7e8"/><stop offset=".718" stop-color="#bddbea"/><stop offset=".728" stop-color="#d2e6f0"/><stop offset=".797" stop-color="#e1edf3"/><stop offset=".995" stop-color="#e1edf3"/></linearGradient><linearGradient id="g451" x2="0" y2="1"><stop offset=".005" stop-color="#f6f7f7"/><stop offset=".181" stop-color="#eaf1f5"/><stop offset=".764" stop-color="#ecf2f5"/><stop offset=".775" stop-color="#d4e6f1"/><stop offset=".797" stop-color="#d4e6f1"/><stop offset=".808" stop-color="#e0ecf3"/><stop offset=".874" stop-color="#e0ecf3"/><stop offset=".885" stop-color="#e9f0f4"/><stop offset=".995" stop-color="#e9f0f4"/></linearGradient><linearGradient id="g452" x2="0" y2="1"><stop offset=".005" stop-color="#f6f7f7"/><stop offset=".181" stop-color="#eaf1f5"/><stop offset=".764" stop-color="#ecf2f5"/><stop offset=".775" stop-color="#d4e6f1"/><stop offset=".797" stop-color="#d4e6f1"/><stop offset=".808" stop-color="#e0ecf3"/><stop offset=".874" stop-color="#e0ecf3"/><stop offset=".885" stop-color="#e9f0f4"/><stop offset=".995" stop-color="#e9f0f4"/></linearGradient><linearGradient id="g453" x2="0" y2="1"><stop offset=".005" stop-color="#f6f7f7"/><stop offset=".144" stop-color="#e7f0f4"/><stop offset=".787" stop-color="#e7f0f4"/><stop offset=".797" stop-color="#d1e5f0"/><stop offset=".817" stop-color="#d1e5f0"/><stop offset=".827" stop-color="#ddebf2"/><stop offset=".886" stop-color="#ddebf2"/><stop offset=".896" stop-color="#e4eef4"/><stop offset=".995" stop-color="#e4eef4"/></linearGradient><linearGradient id="g454" x2="0" y2="1"><stop offset=".005" stop-color="#f5f6f7"/><stop offset=".137" stop-color="#e3edf3"/><stop offset=".637" stop-color="#deebf2"/><stop offset=".656" stop-color="#e4eef4"/><stop offset=".665" stop-color="#cae1ee"/><stop offset=".684" stop-color="#cae1ee"/><stop offset=".693" stop-color="#d8e9f1"/><stop offset=".750" stop-color="#d8e9f1"/><stop offset=".769" stop-color="#ddebf2"/><stop offset=".995" stop-color="#e1edf3"/></linearGradient><linearGradient id="g455" x2="0" y2="1"><stop offset=".005" stop-color="#f7f6f6"/><stop offset=".173" stop-color="#ecf2f5"/><stop offset=".985" stop-color="#ecf2f5"/><stop offset=".995" stop-color="#d4e6f1"/></linearGradient><linearGradient id="cb1" x1="0" y1="1" x2="0" y2="0"><stop offset="0.0000" stop-color="#440154"/><stop offset="0.0208" stop-color="#46085c"/><stop offset="0.0417" stop-color="#471063"/><stop offset="0.0625" stop-color="#48186a"/><stop offset="0.0833" stop-color="#481f70"/><stop offset="0.1042" stop-color="#482576"/><stop offset="0.1250" stop-color="#472d7b"/><stop offset="0.1458" stop-color="#46337f"/><stop offset="0.1667" stop-color="#443983"/><stop offset="0.1875" stop-color="#424086"/><stop offset="0.2083" stop-color="#404688"/><stop offset="0.2292" stop-color="#3e4c8a"/><stop offset="0.2500" stop-color="#3b528b"/><stop offset="0.2708" stop-color="#38588c"/><stop offset="0.2917" stop-color="#365d8d"/><stop offset="0.3125" stop-color="#33638d"/><stop offset="0.3333" stop-color="#31688e"/><stop offset="0.3542" stop-color="#2e6d8e"/><stop offset="0.3750" stop-color="#2c728e"/><stop offset="0.3958" stop-color="#2a778e"/><stop offset="0.4167" stop-color="#287c8e"/><stop offset="0.4375" stop-color="#26828e"/><stop offset="0.4583" stop-color="#24868e"/><stop offset="0.4792" stop-color="#228b8d"/><stop offset="0.5000" stop-color="#21918c"/><stop offset="0.5208" stop-color="#1f958b"/><stop offset="0.5417" stop-color="#1f9a8a"/><stop offset="0.5625" stop-color="#1fa088"/><stop offset="0.5833" stop-color="#20a486"/><stop offset="0.6042" stop-color="#23a983"/><stop offset="0.6250" stop-color="#28ae80"/><stop offset="0.6458" stop-color="#2eb37c"/><stop offset="0.6667" stop-color="#35b779"/><stop offset="0.6875" stop-color="#3fbc73"/><stop offset="0.7083" stop-color="#48c16e"/><stop offset="0.7292" stop-color="#52c569"/><stop offset="0.7500" stop-color="#5ec962"/><stop offset="0.7708" stop-color="#69cd5b"/><stop offset="0.7917" stop-color="#75d054"/><stop offset="0.8125" stop-color="#84d44b"/><stop offset="0.8333" stop-color="#90d743"/><stop offset="0.8542" stop-color="#9dd93b"/><stop offset="0.8750" stop-color="#addc30"/><stop offset="0.8958" stop-color="#bade28"/><stop offset="0.9167" stop-color="#c8e020"/><stop offset="0.9375" stop-color="#d8e219"/><stop offset="0.9583" stop-color="#e5e419"/><stop offset="0.9792" stop-color="#f1e51d"/><stop offset="1.0000" stop-color="#fde725"/></linearGradient><linearGradient id="cb2" x1="0" y1="1" x2="0" y2="0"><stop offset="0.0000" stop-color="#053061"/><stop offset="0.0208" stop-color="#0a3b70"/><stop offset="0.0417" stop-color="#10457e"/><stop offset="0.0625" stop-color="#175290"/><stop offset="0.0833" stop-color="#1c5c9f"/><stop offset="0.1042" stop-color="#2267ac"/><stop offset="0.1250" stop-color="#2a71b2"/><stop offset="0.1458" stop-color="#307ab6"/><stop offset="0.1667" stop-color="#3783bb"/><stop offset="0.1875" stop-color="#3f8ec0"/><stop offset="0.2083" stop-color="#4997c5"/><stop offset="0.2292" stop-color="#59a1ca"/><stop offset="0.2500" stop-color="#6bacd1"/><stop offset="0.2708" stop-color="#7bb6d6"/><stop offset="0.2917" stop-color="#8ac0db"/><stop offset="0.3125" stop-color="#9bc9e0"/><stop offset="0.3333" stop-color="#a7d0e4"/><stop offset="0.3542" stop-color="#b3d6e8"/><stop offset="0.3750" stop-color="#c2ddec"/><stop offset="0.3958" stop-color="#cfe4ef"/><stop offset="0.4167" stop-color="#d7e8f1"/><stop offset="0.4375" stop-color="#e0ecf3"/><stop offset="0.4583" stop-color="#e7f0f4"/><stop offset="0.4792" stop-color="#eff3f5"/><stop offset="0.5000" stop-color="#f7f6f6"/><stop offset="0.5208" stop-color="#f8f1ed"/><stop offset="0.5417" stop-color="#f9ebe3"/><stop offset="0.5625" stop-color="#fbe5d8"/><stop offset="0.5833" stop-color="#fcdfcf"/><stop offset="0.6042" stop-color="#fdd9c4"/><stop offset="0.6250" stop-color="#fbccb4"/><stop offset="0.6458" stop-color="#f9c2a7"/><stop offset="0.6667" stop-color="#f7b799"/><stop offset="0.6875" stop-color="#f5aa89"/><stop offset="0.7083" stop-color="#f19e7d"/><stop offset="0.7292" stop-color="#eb9172"/><stop offset="0.7500" stop-color="#e48066"/><stop offset="0.7708" stop-color="#de735c"/><stop offset="0.7917" stop-color="#d86551"/><stop offset="0.8125" stop-color="#d05548"/><stop offset="0.8333" stop-color="#c94741"/><stop offset="0.8542" stop-color="#c2383a"/><stop offset="0.8750" stop-color="#ba2832"/><stop offset="0.8958" stop-color="#b3192c"/><stop offset="0.9167" stop-color="#a51429"/><stop offset="0.9375" stop-color="#930e26"/><stop offset="0.9583" stop-color="#840924"/><stop offset="0.9792" stop-color="#760521"/><stop offset="1.0000" stop-color="#67001f"/></linearGradient></defs><rect width="789" height="617" fill="#fff"/><rect x="58" y="60" width="64" height="231" fill="url(#g1)"/><rect x="122" y="60" width="65" height="231" fill="url(#g2)"/><rect x="187" y="60" width="65" height="231" fill="url(#g3)"/><rect x="252" y="60" width="64" height="231" fill="url(#g4)"/><rect x="316" y="60" width="64" height="231" fill="url(#g5)"/><rect x="380" y="60" width="65" height="231" fill="url(#g6)"/><rect x="445" y="60" width="65" height="231" fill="url(#g7)"/><rect x="510" y="60" width="64" height="231" fill="url(#g8)"/><rect x="574" y="60" width="64" height="231" fill="url(#g9)"/><rect x="638" y="60" width="65" height="231" fill="url(#g10)"/><rect x="58" y="247" width="645" height="2" fill="url(#g11)"/><rect x="58" y="250" width="645" height="2" fill="url(#g12)"/><rect x="58" y="252" width="645" height="2" fill="url(#g13)"/><rect x="58" y="254" width="645" height="2" fill="url(#g14)"/><rect x="58" y="256" width="645" height="1" fill="url(#g15)"/><rect x="58" y="257" width="645" height="1" fill="url(#g16)"/><rect x="58" y="258" width="645" height="1" fill="url(#g17)"/><rect x="58" y="259" width="645" height="1" fill="url(#g18)"/><rect x="58" y="260" width="645" height="1" fill="url(#g19)"/><rect x="58" y="261" width="645" height="1" fill="url(#g20)"/><rect x="58" y="262" width="645" height="1" fill="url(#g21)"/><rect x="58" y="263" width="645" height="1" fill="url(#g22)"/><rect x="58" y="264" width="645" height="1" fill="url(#g23)"/><rect x="58" y="265" width="645" height="1" fill="url(#g24)"/><rect x="58" y="266" width="645" height="1" fill="url(#g25)"/><g><path stroke="#31688e" stroke-opacity=".010" d="M67.5 60v218m3-218v218m1-218v218m3-218v218m12-218v218m3-218v218m9-218v218m13-218v218m1-218v218m22-218v218m4-218v218m1-218v218m11-218v218m4-218v218m54-218v218m13-218v218m2-218v218m8-218v218m2-218v218m2-218v218m2-218v218m15-218v218m6-218v218m10-218v218m17-218v218m2-218v218m12-218v218m9-218v218m1-218v218m12-218v218m27-218v218m14-218v218m24-218v218m12-218v218m6-218v218m1-218v218m5-218v218m5-218v218m7-218v218m9-218v218m12-218v218m2-218v218m23-218v218m10-218v218m2-218v218m22-218v218m4-218v218m12-218v218m12-218v218m20-218v218m11-218v218m1-218v218m28-218v218m2-218v218m1-218v218m2-218v218m9-218v218m8-218v218m2-218v218m21-218v218m1-218v218m13-218v218m42-218v218m1-218v218"/><path stroke="#31688e" stroke-opacity=".020" d="M59.5 60v218m1-218v218m23-218v218m5-218v218m2-218v218m2-218v218m11-218v218m26-218v218m15-218v218m7-218v218m5-218v218m2-218v218m24-218v218m7-218v218m4-218v218m25-218v218m10-218v218m15-218v218m17-218v218m11-218v218m3-218v218m1-218v218m9-218v218m14-218v218m7-218v218m12-218v218m22-218v218m12-218v218m16-218v218m4-218v218m22-218v218m7-218v218m13-218v218m3-218v218m1-218v218m1-218v218m11-218v218m12-218v218m6-218v218m3-218v218m34-218v218m3-218v218m21-218v218m8-218v218m11-218v218m5-218v218m1-218v218m31-218v218m2-218v218m13-218v218m6-218v218m13-218v218m30-218v218m11-218v218m9-218v218m13-218v218m2-218v218m8-218v218m6-218v218m17-218v218m6-218v218"/><path stroke="#31688e" stroke-opacity=".030" d="M65.5 60v218m10-218v218m10-218v218m6-218v218m8-218v218m1-218v218m18-218v218m47-218v218m6-218v218m8-218v218m86-218v218m21-218v218m16-218v218m25-218v218m5-218v218m1-218v218m5-218v218m18-218v218m4-218v218m1-218v218m4-218v218m11-218v218m1-218v218m2-218v218m2-218v218m3-218v218m28-218v218m23-218v218m11-218v218m16-218v218m3-218v218m9-218v218m7-218v218m23-218v218m7-218v218m2-218v218m1-218v218m23-218v218m3-218v218m7-218v218m6-218v218m7-218v218m13-218v218m1-218v218m15-218v218m10-218v218m17-218v218m29-218v218m15-218v218m13-218v218m23-218v218"/><path stroke="#31688e" stroke-opacity=".040" d="M73.5 60v218m5-218v218m16-218v218m16-218v218m52-218v218m24-218v218m4-218v218m5-218v218m22-218v218m2-218v218m47-218v218m6-218v218m10-218v218m11-218v218m1-218v218m19-218v218m17-218v218m16-218v218m44-218v218m62-218v218m48-218v218m17-218v218m2-218v218m20-218v218m17-218v218m15-218v218m36-218v218m33-218v218m18-218v218m17-218v218m13-218v218m14-218v218"/><path stroke="#31688e" stroke-opacity=".050" d="M121.5 60v218m6-218v218m1-218v218m13-218v218m27-218v218m5-218v218m65-218v218m24-218v218m7-218v218m32-218v218m6-218v218m12-218v218m15-218v218m25-218v218m89-218v218m10-218v218m77-218v218m74-218v218m2-218v218m15-218v218m36-218v218m4-218v218m21-218v218"/><path stroke="#31688e" stroke-opacity=".060" d="M175.5 60v218m78-218v218m10-218v218m33-218v218m140-218v218m4-218v218m59-218v218m53-218v218m6-218v218m38-218v218m4-218v218m3-218v218m53-218v218"/><path stroke="#31688e" stroke-opacity=".070" d="M69.5 60v218m64-218v218m94-218v218m167-218v218m1-218v218m25-218v218m34-218v218m80-218v218m138-218v218m7-218v218"/><path stroke="#31688e" stroke-opacity=".080" d="M63.5 60v218m334-218v218m67-218v218m13-218v218m78-218v218m47-218v218"/><path stroke="#31688e" stroke-opacity=".090" d="M209.5 60v218m187-218v218m76-218v218m175-218v218m50-218v218"/><path stroke="#31688e" stroke-opacity=".100" d="M198.5 60v218m112-218v218m43-218v218m72-218v218m194-218v218"/><path stroke="#31688e" stroke-opacity=".110" d="M407.5 60v218"/><path stroke="#31688e" stroke-opacity=".160" d="M654.5 60v218"/><path stroke="#fde725" stroke-opacity=".010" d="M66.5 60v218m11-218v218m4-218v218m6-218v218m20-218v218m1-218v218m5-218v218m3-218v218m4-218v218m2-218v218m10-218v218m13-218v218m7-218v218m5-218v218m3-218v218m1-218v218m8-218v218m3-218v218m5-218v218m8-218v218m3-218v218m3-218v218m3-218v218m8-218v218m3-218v218m2-218v218m5-218v218m8-218v218m2-218v218m14-218v218m3-218v218m1-218v218m4-218v218m1-218v218m1-218v218m3-218v218m5-218v218m1-218v218m24-218v218m9-218v218m2-218v218m13-218v218m1-218v218m8-218v218m3-218v218m1-218v218m8-218v218m1-218v218m1-218v218m24-218v218m4-218v218m3-218v218m9-218v218m3-218v218m5-218v218m6-218v218m2-218v218m6-218v218m13-218v218m5-218v218m15-218v218m3-218v218m2-218v218m1-218v218m6-218v218m9-218v218m9-218v218m9-218v218m6-218v218m7-218v218m3-218v218m9-218v218m9-218v218m4-218v218m5-218v218m7-218v218m11-218v218m3-218v218m12-218v218m2-218v218m3-218v218m2-218v218m6-218v218m2-218v218m3-218v218m13-218v218m5-218v218m3-218v218m8-218v218m3-218v218m8-218v218m3-218v218m11-218v218m9-218v218m4-218v218m3-218v218m5-218v218m1-218v218m3-218v218m1-218v218m16-218v218m2-218v218m7-218v218m5-218v218m4-218v218m10-218v218m17-218v218"/><path stroke="#fde725" stroke-opacity=".020" d="M62.5 60v218m10-218v218m7-218v218m1-218v218m2-218v218m15-218v218m7-218v218m5-218v218m5-218v218m1-218v218m2-218v218m7-218v218m7-218v218m4-218v218m2-218v218m10-218v218m17-218v218m2-218v218m4-218v218m6-218v218m11-218v218m5-218v218m4-218v218m4-218v218m1-218v218m9-218v218m14-218v218m5-218v218m22-218v218m5-218v218m1-218v218m13-218v218m3-218v218m24-218v218m23-218v218m8-218v218m3-218v218m10-218v218m27-218v218m5-218v218m10-218v218m4-218v218m2-218v218m19-218v218m1-218v218m2-218v218m8-218v218m4-218v218m7-218v218m7-218v218m1-218v218m15-218v218m2-218v218m12-218v218m8-218v218m14-218v218m1-218v218m2-218v218m3-218v218m1-218v218m9-218v218m4-218v218m3-218v218m3-218v218m5-218v218m6-218v218m2-218v218m18-218v218m31-218v218m5-218v218m19-218v218m9-218v218m3-218v218m5-218v218m19-218v218m1-218v218m4-218v218m13-218v218m14-218v218m1-218v218m6-218v218m4-218v218m2-218v218m2-218v218m2-218v218m3-218v218m9-218v218m1-218v218m2-218v218"/><path stroke="#fde725" stroke-opacity=".030" d="M58.5 60v218m10-218v218m28-218v218m23-218v218m6-218v218m23-218v218m11-218v218m21-218v218m3-218v218m1-218v218m50-218v218m7-218v218m35-218v218m2-218v218m2-218v218m43-218v218m6-218v218m6-218v218m2-218v218m26-218v218m7-218v218m15-218v218m7-218v218m7-218v218m62-218v218m18-218v218m9-218v218m13-218v218m6-218v218m35-218v218m2-218v218m34-218v218m9-218v218m1-218v218m17-218v218m1-218v218m9-218v218m5-218v218m37-218v218m10-218v218m7-218v218"/><path stroke="#fde725" stroke-opacity=".040" d="M64.5 60v218m37-218v218m4-218v218m38-218v218m38-218v218m69-218v218m11-218v218m6-218v218m24-218v218m15-218v218m5-218v218m3-218v218m44-218v218m74-218v218m2-218v218m15-218v218m8-218v218m12-218v218m1-218v218m12-218v218m15-218v218m28-218v218m6-218v218m14-218v218m23-218v218m13-218v218m3-218v218m47-218v218m13-218v218m7-218v218m42-218v218"/><path stroke="#fde725" stroke-opacity=".050" d="M126.5 60v218m85-218v218m15-218v218m4-218v218m18-218v218m35-218v218"/><path stroke="#fde725" stroke-opacity=".060" d="M242.5 60v218m130-218v218m219-218v218m31-218v218"/><path stroke="#fde725" stroke-opacity=".070" d="M336.5 60v218"/><path stroke="#fde725" stroke-opacity=".080" d="M623.5 60v218m30-218v218"/><path stroke="#fde725" stroke-opacity=".090" d="M259.5 60v218"/><path stroke="#fde725" stroke-opacity=".110" d="M355.5 60v218"/></g><g mask="url(#mf26)"><path stroke="#31688e" stroke-opacity=".010" d="M58.5 60v151m21-151v151m3-151v151m5-151v151m1-151v151m10-151v151m5-151v151m4-151v151m2-151v151m1-151v151m5-151v151m3-151v151m12-151v151m8-151v151m4-151v151m7-151v151m13-151v151m6-151v151m4-151v151m8-151v151m12-151v151m7-151v151m6-151v151m5-151v151m5-151v151m2-151v151m15-151v151m3-151v151m5-151v151m5-151v151m12-151v151m2-151v151m11-151v151m8-151v151m15-151v151m8-151v151m1-151v151m5-151v151m1-151v151m18-151v151m7-151v151m4-151v151m19-151v151m1-151v151m17-151v151m4-151v151m13-151v151m2-151v151m5-151v151m28-151v151m3-151v151m2-151v151m3-151v151m1-151v151m10-151v151m9-151v151m7-151v151m8-151v151m4-151v151m4-151v151m4-151v151m5-151v151m18-151v151m2-151v151m4-151v151m3-151v151m3-151v151m11-151v151m4-151v151m14-151v151m10-151v151m4-151v151m4-151v151m3-151v151m25-151v151m1-151v151m4-151v151m10-151v151m5-151v151m18-151v151m2-151v151m1-151v151m7-151v151m9-151v151m5-151v151m7-151v151m13-151v151m4-151v151m6-151v151m10-151v151m1-151v151m7-151v151"/><path stroke="#31688e" stroke-opacity=".020" d="M73.5 60v151m2-151v151m1-151v151m8-151v151m30-151v151m10-151v151m22-151v151m20-151v151m1-151v151m2-151v151m2-151v151m2-151v151m1-151v151m15-151v151m31-151v151m16-151v151m15-151v151m21-151v151m2-151v151m17-151v151m13-151v151m18-151v151m7-151v151m2-151v151m1-151v151m17-151v151m3-151v151m3-151v151m6-151v151m6-151v151m8-151v151m11-151v151m22-151v151m13-151v151m44-151v151m2-151v151m4-151v151m4-151v151m9-151v151m18-151v151m7-151v151m9-151v151m5-151v151m50-151v151m3-151v151m7-151v151m4-151v151m3-151v151m5-151v151m6-151v151m11-151v151m2-151v151m7-151v151m1-151v151m19-151v151m13-151v151m1-151v151m37-151v151m8-151v151"/><path stroke="#31688e" stroke-opacity=".030" d="M63.5 60v151m3-151v151m1-151v151m11-151v151m3-151v151m14-151v151m11-151v151m64-151v151m5-151v151m3-151v151m7-151v151m48-151v151m44-151v151m4-151v151m11-151v151m28-151v151m1-151v151m4-151v151m39-151v151m8-151v151m1-151v151m85-151v151m6-151v151m15-151v151m4-151v151m10-151v151m1-151v151m6-151v151m24-151v151m4-151v151m12-151v151m4-151v151m6-151v151m14-151v151m5-151v151m6-151v151m4-151v151m1-151v151m9-151v151m21-151v151m10-151v151m13-151v151m3-151v151m10-151v151m10-151v151m41-151v151"/><path stroke="#31688e" stroke-opacity=".040" d="M65.5 60v151m6-151v151m14-151v151m47-151v151m28-151v151m30-151v151m28-151v151m3-151v151m29-151v151m2-151v151m6-151v151m5-151v151m3-151v151m5-151v151m12-151v151m15-151v151m32-151v151m21-151v151m3-151v151m6-151v151m53-151v151m6-151v151m8-151v151m15-151v151m4-151v151m30-151v151m19-151v151m10-151v151m9-151v151m3-151v151m2-151v151m6-151v151m17-151v151m7-151v151m13-151v151m12-151v151m26-151v151m25-151v151m1-151v151m42-151v151"/><path stroke="#31688e" stroke-opacity=".050" d="M86.5 60v151m39-151v151m18-151v151m34-151v151m17-151v151m4-151v151m2-151v151m127-151v151m1-151v151m11-151v151m6-151v151m24-151v151m1-151v151m44-151v151m2-151v151m105-151v151m25-151v151m69-151v151m47-151v151m29-151v151m4-151v151"/><path stroke="#31688e" stroke-opacity=".060" d="M62.5 60v151m38-151v151m17-151v151m35-151v151m35-151v151m81-151v151m28-151v151m85-151v151m8-151v151m91-151v151m54-151v151m5-151v151m9-151v151m24-151v151m25-151v151m10-151v151m10-151v151m40-151v151"/><path stroke="#31688e" stroke-opacity=".070" d="M60.5 60v151m62-151v151m15-151v151m64-151v151m10-151v151m18-151v151m70-151v151m41-151v151m37-151v151m86-151v151m40-151v151m32-151v151m32-151v151m10-151v151m8-151v151m93-151v151"/><path stroke="#31688e" stroke-opacity=".080" d="M90.5 60v151m67-151v151m137-151v151m18-151v151m11-151v151m275-151v151m65-151v151m36-151v151"/><path stroke="#31688e" stroke-opacity=".090" d="M134.5 60v151m527-151v151"/><path stroke="#31688e" stroke-opacity=".100" d="M488.5 60v151m181-151v151"/><path stroke="#31688e" stroke-opacity=".110" d="M105.5 60v151m50-151v151m191-151v151"/><path stroke="#fde725" stroke-opacity=".010" d="M64.5 60v151m4-151v151m4-151v151m20-151v151m2-151v151m3-151v151m2-151v151m5-151v151m8-151v151m9-151v151m5-151v151m1-151v151m9-151v151m11-151v151m1-151v151m6-151v151m5-151v151m2-151v151m4-151v151m14-151v151m2-151v151m3-151v151m7-151v151m5-151v151m10-151v151m1-151v151m1-151v151m4-151v151m1-151v151m10-151v151m2-151v151m5-151v151m1-151v151m3-151v151m5-151v151m2-151v151m2-151v151m3-151v151m1-151v151m2-151v151m6-151v151m9-151v151m1-151v151m4-151v151m6-151v151m1-151v151m9-151v151m3-151v151m15-151v151m2-151v151m1-151v151m3-151v151m5-151v151m2-151v151m20-151v151m5-151v151m12-151v151m6-151v151m6-151v151m6-151v151m5-151v151m6-151v151m1-151v151m5-151v151m2-151v151m6-151v151m4-151v151m1-151v151m2-151v151m1-151v151m3-151v151m4-151v151m4-151v151m7-151v151m6-151v151m5-151v151m3-151v151m4-151v151m7-151v151m6-151v151m17-151v151m4-151v151m13-151v151m4-151v151m7-151v151m1-151v151m2-151v151m6-151v151m4-151v151m4-151v151m14-151v151m4-151v151m5-151v151m5-151v151m9-151v151m1-151v151m3-151v151m12-151v151m13-151v151m5-151v151m7-151v151m11-151v151m12-151v151m2-151v151m1-151v151m5-151v151m6-151v151m8-151v151m6-151v151m1-151v151m6-151v151m7-151v151m7-151v151m1-151v151m5-151v151m1-151v151m3-151v151m11-151v151m1-151v151"/><path stroke="#fde725" stroke-opacity=".020" d="M108.5 60v151m5-151v151m15-151v151m1-151v151m11-151v151m5-151v151m11-151v151m2-151v151m24-151v151m1-151v151m3-151v151m7-151v151m2-151v151m8-151v151m11-151v151m5-151v151m8-151v151m10-151v151m5-151v151m2-151v151m4-151v151m8-151v151m6-151v151m22-151v151m2-151v151m1-151v151m32-151v151m15-151v151m13-151v151m1-151v151m10-151v151m8-151v151m2-151v151m24-151v151m2-151v151m24-151v151m2-151v151m12-151v151m6-151v151m11-151v151m1-151v151m7-151v151m5-151v151m4-151v151m6-151v151m6-151v151m4-151v151m38-151v151m6-151v151m21-151v151m4-151v151m9-151v151m10-151v151m33-151v151m34-151v151m15-151v151m24-151v151m4-151v151m2-151v151m3-151v151m3-151v151"/><path stroke="#fde725" stroke-opacity=".030" d="M61.5 60v151m32-151v151m8-151v151m1-151v151m31-151v151m11-151v151m7-151v151m53-151v151m12-151v151m12-151v151m10-151v151m15-151v151m8-151v151m74-151v151m3-151v151m46-151v151m3-151v151m15-151v151m8-151v151m2-151v151m13-151v151m19-151v151m8-151v151m7-151v151m9-151v151m89-151v151m27-151v151m15-151v151m14-151v151m10-151v151m66-151v151m1-151v151m6-151v151"/><path stroke="#fde725" stroke-opacity=".040" d="M69.5 60v151m20-151v151m52-151v151m23-151v151m131-151v151m22-151v151m33-151v151m55-151v151m43-151v151m3-151v151m45-151v151m12-151v151m14-151v151m43-151v151m17-151v151m12-151v151m11-151v151m38-151v151"/><path stroke="#fde725" stroke-opacity=".050" d="M163.5 60v151m13-151v151m103-151v151m10-151v151m128-151v151m20-151v151m205-151v151m37-151v151m23-151v151"/><path stroke="#fde725" stroke-opacity=".060" d="M83.5 60v151m119-151v151m177-151v151m162-151v151"/><path stroke="#fde725" stroke-opacity=".070" d="M424.5 60v151"/><path stroke="#fde725" stroke-opacity=".080" d="M226.5 60v151"/><path stroke="#fde725" stroke-opacity=".100" d="M153.5 60v151"/><path stroke="#fde725" stroke-opacity=".140" d="M430.5 60v151"/></g><g mask="url(#mf27)"><path stroke="#31688e" stroke-opacity=".010" d="M62.5 140v138m17-138v138m6-138v138m2-138v138m10-138v138m23-138v138m10-138v138m23-138v138m3-138v138m13-138v138m19-138v138m17-138v138m11-138v138m4-138v138m12-138v138m3-138v138m6-138v138m9-138v138m15-138v138m12-138v138m2-138v138m3-138v138m5-138v138m3-138v138m8-138v138m15-138v138m7-138v138m24-138v138m28-138v138m22-138v138m27-138v138m2-138v138m26-138v138m4-138v138m28-138v138m54-138v138m31-138v138m2-138v138m4-138v138m28-138v138m5-138v138m74-138v138m12-138v138m4-138v138m7-138v138"/><path stroke="#31688e" stroke-opacity=".020" d="M63.5 140v138m4-138v138m6-138v138m27-138v138m49-138v138m19-138v138m2-138v138m21-138v138m2-138v138m1-138v138m36-138v138m10-138v138m18-138v138m9-138v138m3-138v138m2-138v138m6-138v138m17-138v138m89-138v138m11-138v138m21-138v138m17-138v138m11-138v138m3-138v138m4-138v138m17-138v138m6-138v138m2-138v138m11-138v138m12-138v138m5-138v138m8-138v138m2-138v138m28-138v138m9-138v138m10-138v138m30-138v138m22-138v138m9-138v138m22-138v138m36-138v138m4-138v138m4-138v138"/><path stroke="#31688e" stroke-opacity=".030" d="M65.5 140v138m9-138v138m9-138v138m8-138v138m11-138v138m1-138v138m13-138v138m6-138v138m26-138v138m4-138v138m12-138v138m8-138v138m1-138v138m5-138v138m8-138v138m10-138v138m6-138v138m12-138v138m15-138v138m2-138v138m16-138v138m1-138v138m9-138v138m11-138v138m12-138v138m30-138v138m4-138v138m1-138v138m22-138v138m13-138v138m8-138v138m2-138v138m6-138v138m26-138v138m33-138v138m21-138v138m20-138v138m1-138v138m2-138v138m13-138v138m33-138v138m1-138v138m2-138v138m5-138v138m3-138v138m3-138v138m26-138v138m12-138v138m10-138v138m21-138v138m35-138v138m38-138v138m19-138v138m2-138v138m5-138v138"/><path stroke="#31688e" stroke-opacity=".040" d="M86.5 140v138m6-138v138m2-138v138m10-138v138m37-138v138m4-138v138m10-138v138m10-138v138m11-138v138m4-138v138m7-138v138m11-138v138m10-138v138m10-138v138m35-138v138m59-138v138m17-138v138m12-138v138m21-138v138m8-138v138m27-138v138m23-138v138m41-138v138m23-138v138m36-138v138m8-138v138m2-138v138m1-138v138m7-138v138m21-138v138m5-138v138m6-138v138m10-138v138m12-138v138m5-138v138m17-138v138m2-138v138m12-138v138m29-138v138m44-138v138"/><path stroke="#31688e" stroke-opacity=".050" d="M77.5 140v138m5-138v138m13-138v138m18-138v138m12-138v138m3-138v138m19-138v138m3-138v138m76-138v138m17-138v138m108-138v138m1-138v138m7-138v138m49-138v138m28-138v138m2-138v138m5-138v138m14-138v138m65-138v138m27-138v138m3-138v138m17-138v138m6-138v138m12-138v138m19-138v138m2-138v138m1-138v138m15-138v138m3-138v138m7-138v138m3-138v138m4-138v138m26-138v138m19-138v138"/><path stroke="#31688e" stroke-opacity=".060" d="M68.5 140v138m10-138v138m12-138v138m69-138v138m51-138v138m11-138v138m13-138v138m63-138v138m30-138v138m22-138v138m6-138v138m27-138v138m55-138v138m5-138v138m48-138v138m93-138v138m60-138v138m10-138v138"/><path stroke="#31688e" stroke-opacity=".070" d="M75.5 140v138m61-138v138m2-138v138m86-138v138m25-138v138m75-138v138m39-138v138m14-138v138m12-138v138m14-138v138m12-138v138m16-138v138m52-138v138m19-138v138m15-138v138m29-138v138m61-138v138m44-138v138m49-138v138"/><path stroke="#31688e" stroke-opacity=".080" d="M101.5 140v138m6-138v138m74-138v138m16-138v138m36-138v138m120-138v138m141-138v138m88-138v138m33-138v138m47-138v138"/><path stroke="#31688e" stroke-opacity=".090" d="M61.5 140v138m54-138v138m2-138v138m127-138v138m91-138v138m40-138v138m65-138v138m40-138v138m63-138v138m14-138v138m19-138v138m34-138v138"/><path stroke="#31688e" stroke-opacity=".100" d="M242.5 140v138m151-138v138"/><path stroke="#31688e" stroke-opacity=".110" d="M309.5 140v138m64-138v138m10-138v138m16-138v138m107-138v138m112-138v138"/><path stroke="#31688e" stroke-opacity=".120" d="M93.5 140v138"/><path stroke="#31688e" stroke-opacity=".130" d="M284.5 140v138m166-138v138"/><path stroke="#31688e" stroke-opacity=".140" d="M146.5 140v138m259-138v138"/><path stroke="#31688e" stroke-opacity=".180" d="M106.5 140v138"/><path stroke="#31688e" stroke-opacity=".240" d="M536.5 140v138"/><path stroke="#fde725" stroke-opacity=".010" d="M59.5 140v138m22-138v138m45-138v138m6-138v138m3-138v138m4-138v138m12-138v138m16-138v138m8-138v138m4-138v138m3-138v138m1-138v138m2-138v138m19-138v138m3-138v138m6-138v138m14-138v138m18-138v138m6-138v138m1-138v138m9-138v138m5-138v138m7-138v138m3-138v138m15-138v138m2-138v138m1-138v138m17-138v138m11-138v138m9-138v138m7-138v138m8-138v138m8-138v138m11-138v138m3-138v138m1-138v138m5-138v138m5-138v138m11-138v138m6-138v138m8-138v138m2-138v138m3-138v138m4-138v138m4-138v138m5-138v138m2-138v138m3-138v138m5-138v138m2-138v138m5-138v138m23-138v138m3-138v138m10-138v138m30-138v138m3-138v138m3-138v138m21-138v138m2-138v138m20-138v138m6-138v138m2-138v138m12-138v138m4-138v138m8-138v138m8-138v138m7-138v138m1-138v138m1-138v138m9-138v138m23-138v138m1-138v138m3-138v138m9-138v138m1-138v138m7-138v138m3-138v138m4-138v138m2-138v138m4-138v138m9-138v138m11-138v138m5-138v138m2-138v138"/><path stroke="#fde725" stroke-opacity=".020" d="M69.5 140v138m1-138v138m14-138v138m4-138v138m11-138v138m10-138v138m5-138v138m19-138v138m1-138v138m6-138v138m14-138v138m4-138v138m3-138v138m5-138v138m5-138v138m3-138v138m16-138v138m2-138v138m3-138v138m8-138v138m3-138v138m22-138v138m9-138v138m2-138v138m7-138v138m16-138v138m24-138v138m3-138v138m12-138v138m3-138v138m13-138v138m4-138v138m4-138v138m7-138v138m8-138v138m40-138v138m7-138v138m13-138v138m55-138v138m4-138v138m4-138v138m7-138v138m2-138v138m23-138v138m6-138v138m2-138v138m30-138v138m6-138v138m1-138v138m1-138v138m15-138v138m7-138v138m2-138v138m23-138v138m1-138v138m22-138v138m9-138v138m3-138v138m2-138v138m7-138v138m10-138v138m10-138v138m9-138v138m7-138v138m4-138v138m10-138v138m16-138v138"/><path stroke="#fde725" stroke-opacity=".030" d="M76.5 140v138m20-138v138m12-138v138m2-138v138m1-138v138m7-138v138m11-138v138m14-138v138m19-138v138m39-138v138m8-138v138m8-138v138m19-138v138m19-138v138m9-138v138m10-138v138m14-138v138m12-138v138m2-138v138m4-138v138m22-138v138m6-138v138m23-138v138m24-138v138m4-138v138m3-138v138m23-138v138m17-138v138m7-138v138m36-138v138m2-138v138m5-138v138m7-138v138m3-138v138m1-138v138m7-138v138m11-138v138m3-138v138m15-138v138m19-138v138m1-138v138m3-138v138m23-138v138m2-138v138m8-138v138m9-138v138m40-138v138m10-138v138m10-138v138m14-138v138m9-138v138m2-138v138m8-138v138"/><path stroke="#fde725" stroke-opacity=".040" d="M80.5 140v138m18-138v138m14-138v138m7-138v138m18-138v138m40-138v138m86-138v138m56-138v138m37-138v138m5-138v138m40-138v138m1-138v138m17-138v138m7-138v138m4-138v138m30-138v138m37-138v138m16-138v138m11-138v138m29-138v138m42-138v138m9-138v138m22-138v138m5-138v138m15-138v138m9-138v138m21-138v138m1-138v138m10-138v138"/><path stroke="#fde725" stroke-opacity=".050" d="M58.5 140v138m13-138v138m50-138v138m6-138v138m4-138v138m58-138v138m49-138v138m31-138v138m12-138v138m2-138v138m20-138v138m5-138v138m15-138v138m7-138v138m12-138v138m6-138v138m19-138v138m97-138v138m22-138v138m14-138v138m19-138v138m39-138v138m59-138v138m37-138v138m4-138v138m16-138v138m19-138v138m6-138v138"/><path stroke="#fde725" stroke-opacity=".060" d="M89.5 140v138m68-138v138m68-138v138m29-138v138m17-138v138m21-138v138m13-138v138m38-138v138m4-138v138m31-138v138m13-138v138m63-138v138m131-138v138m11-138v138"/><path stroke="#fde725" stroke-opacity=".070" d="M222.5 140v138m77-138v138m146-138v138m53-138v138m11-138v138m70-138v138"/><path stroke="#fde725" stroke-opacity=".080" d="M316.5 140v138"/><path stroke="#fde725" stroke-opacity=".090" d="M647.5 140v138"/></g><g><path stroke="#31688e" stroke-opacity=".010" d="M87.5 247v31m4-31v31m1-31v31m4-31v31m11-31v31m7-31v31m11-31v31m25-31v31m54-31v31m1-31v31m29-31v31m6-31v31m38-31v31m12-31v31m3-31v31m15-31v31m18-31v31m52-31v31m38-31v31m31-31v31m51-31v31m2-31v31m5-31v31m9-31v31m13-31v31m34-31v31m24-31v31m43-31v31m9-31v31m22-31v31m8-31v31"/><path stroke="#31688e" stroke-opacity=".020" d="M61.5 247v31m8-31v31m51-31v31m15-31v31m2-31v31m8-31v31m96-31v31m14-31v31m25-31v31m5-31v31m20-31v31m9-31v31m41-31v31m18-31v31m7-31v31m9-31v31m13-31v31m4-31v31m9-31v31m7-31v31m2-31v31m12-31v31m9-31v31m37-31v31m10-31v31m20-31v31m3-31v31m8-31v31m14-31v31m2-31v31m15-31v31m25-31v31m47-31v31m49-31v31"/><path stroke="#31688e" stroke-opacity=".030" d="M59.5 247v31m8-31v31m3-31v31m15-31v31m13-31v31m8-31v31m65-31v31m101-31v31m16-31v31m14-31v31m17-31v31m144-31v31m34-31v31m14-31v31m6-31v31m28-31v31m53-31v31m25-31v31m60-31v31m5-31v31m5-31v31"/><path stroke="#31688e" stroke-opacity=".040" d="M81.5 247v31m37-31v31m13-31v31m23-31v31m26-31v31m4-31v31m4-31v31m2-31v31m55-31v31m21-31v31m7-31v31m9-31v31m2-31v31m14-31v31m37-31v31m44-31v31m13-31v31m27-31v31m48-31v31m52-31v31m58-31v31m23-31v31m11-31v31m4-31v31m34-31v31m15-31v31"/><path stroke="#31688e" stroke-opacity=".050" d="M99.5 247v31m50-31v31m6-31v31m14-31v31m53-31v31m2-31v31m98-31v31m9-31v31m18-31v31m4-31v31m4-31v31m5-31v31m15-31v31m13-31v31m36-31v31m35-31v31m7-31v31m114-31v31m36-31v31m34-31v31m2-31v31m30-31v31m5-31v31"/><path stroke="#31688e" stroke-opacity=".060" d="M65.5 247v31m24-31v31m23-31v31m24-31v31m16-31v31m49-31v31m17-31v31m21-31v31m8-31v31m13-31v31m10-31v31m6-31v31m27-31v31m84-31v31m25-31v31m5-31v31m38-31v31m9-31v31m25-31v31m84-31v31m15-31v31m19-31v31m7-31v31m6-31v31"/><path stroke="#31688e" stroke-opacity=".070" d="M73.5 247v31m38-31v31m33-31v31m3-31v31m4-31v31m32-31v31m6-31v31m40-31v31m72-31v31m5-31v31m31-31v31m7-31v31m39-31v31m3-31v31m39-31v31m3-31v31m55-31v31m67-31v31m16-31v31m17-31v31m3-31v31m43-31v31m16-31v31m33-31v31"/><path stroke="#31688e" stroke-opacity=".080" d="M79.5 247v31m1-31v31m41-31v31m43-31v31m27-31v31m11-31v31m35-31v31m42-31v31m42-31v31m27-31v31m28-31v31m21-31v31m23-31v31m51-31v31m2-31v31m31-31v31m91-31v31m29-31v31m63-31v31"/><path stroke="#31688e" stroke-opacity=".090" d="M64.5 247v31m14-31v31m128-31v31m83-31v31m27-31v31m80-31v31m12-31v31m44-31v31m6-31v31m38-31v31m48-31v31m111-31v31m1-31v31"/><path stroke="#31688e" stroke-opacity=".100" d="M210.5 247v31m32-31v31m10-31v31m16-31v31m9-31v31m74-31v31m83-31v31m3-31v31m51-31v31m6-31v31m15-31v31m12-31v31m10-31v31m49-31v31m71-31v31m12-31v31m31-31v31"/><path stroke="#31688e" stroke-opacity=".110" d="M68.5 247v31m64-31v31m41-31v31m54-31v31m32-31v31m15-31v31m125-31v31m2-31v31m68-31v31m60-31v31m7-31v31m11-31v31m20-31v31m41-31v31m57-31v31"/><path stroke="#31688e" stroke-opacity=".120" d="M166.5 247v31m41-31v31m9-31v31m30-31v31m5-31v31m46-31v31m36-31v31m17-31v31m79-31v31m2-31v31m34-31v31m12-31v31m14-31v31m22-31v31m3-31v31"/><path stroke="#31688e" stroke-opacity=".130" d="M110.5 247v31m159-31v31m61-31v31m36-31v31m104-31v31m173-31v31"/><path stroke="#31688e" stroke-opacity=".140" d="M176.5 247v31m5-31v31m115-31v31m46-31v31m104-31v31m33-31v31m20-31v31m72-31v31m99-31v31m9-31v31"/><path stroke="#31688e" stroke-opacity=".150" d="M76.5 247v31m525-31v31m15-31v31m52-31v31"/><path stroke="#31688e" stroke-opacity=".160" d="M72.5 247v31m114-31v31m75-31v31m104-31v31m39-31v31m147-31v31"/><path stroke="#31688e" stroke-opacity=".170" d="M133.5 247v31m27-31v31m22-31v31m112-31v31m10-31v31m145-31v31m104-31v31m10-31v31m85-31v31m13-31v31"/><path stroke="#31688e" stroke-opacity=".180" d="M128.5 247v31m397-31v31m84-31v31"/><path stroke="#31688e" stroke-opacity=".190" d="M339.5 247v31m307-31v31"/><path stroke="#31688e" stroke-opacity=".200" d="M162.5 247v31m387-31v31m113-31v31m39-31v31"/><path stroke="#31688e" stroke-opacity=".220" d="M172.5 247v31m13-31v31m390-31v31m58-31v31"/><path stroke="#31688e" stroke-opacity=".230" d="M235.5 247v31"/><path stroke="#31688e" stroke-opacity=".240" d="M650.5 247v31"/><path stroke="#31688e" stroke-opacity=".260" d="M243.5 247v31"/><path stroke="#31688e" stroke-opacity=".270" d="M126.5 247v31m220-31v31"/><path stroke="#31688e" stroke-opacity=".280" d="M250.5 247v31"/><path stroke="#31688e" stroke-opacity=".300" d="M682.5 247v31"/><path stroke="#31688e" stroke-opacity=".320" d="M382.5 247v31"/><path stroke="#31688e" stroke-opacity=".350" d="M262.5 247v31"/><path stroke="#fde725" stroke-opacity=".010" d="M62.5 247v31m31-31v31m1-31v31m6-31v31m9-31v31m8-31v31m42-31v31m61-31v31m13-31v31m15-31v31m17-31v31m104-31v31m42-31v31m3-31v31m19-31v31m10-31v31m8-31v31m25-31v31m14-31v31m28-31v31m8-31v31m12-31v31m2-31v31m24-31v31m14-31v31m26-31v31m35-31v31m30-31v31m3-31v31m5-31v31m13-31v31m7-31v31m1-31v31"/><path stroke="#fde725" stroke-opacity=".020" d="M58.5 247v31m43-31v31m1-31v31m37-31v31m48-31v31m24-31v31m1-31v31m9-31v31m2-31v31m3-31v31m5-31v31m76-31v31m20-31v31m29-31v31m2-31v31m10-31v31m13-31v31m19-31v31m18-31v31m9-31v31m17-31v31m22-31v31m9-31v31m49-31v31m10-31v31m40-31v31m29-31v31m9-31v31m19-31v31m3-31v31m2-31v31m8-31v31m3-31v31m29-31v31m23-31v31"/><path stroke="#fde725" stroke-opacity=".030" d="M71.5 247v31m34-31v31m17-31v31m34-31v31m1-31v31m17-31v31m5-31v31m30-31v31m4-31v31m6-31v31m6-31v31m3-31v31m4-31v31m12-31v31m13-31v31m1-31v31m13-31v31m16-31v31m36-31v31m6-31v31m32-31v31m9-31v31m15-31v31m10-31v31m8-31v31m10-31v31m47-31v31m20-31v31m7-31v31m46-31v31m9-31v31m14-31v31m3-31v31m13-31v31m9-31v31m38-31v31m8-31v31m13-31v31m55-31v31m1-31v31m6-31v31"/><path stroke="#fde725" stroke-opacity=".040" d="M77.5 247v31m6-31v31m5-31v31m28-31v31m11-31v31m14-31v31m12-31v31m5-31v31m3-31v31m6-31v31m28-31v31m1-31v31m114-31v31m10-31v31m4-31v31m4-31v31m32-31v31m12-31v31m21-31v31m47-31v31m16-31v31m3-31v31m3-31v31m10-31v31m30-31v31m1-31v31m4-31v31m13-31v31m21-31v31m14-31v31m2-31v31m27-31v31m6-31v31m9-31v31m23-31v31m49-31v31m20-31v31"/><path stroke="#fde725" stroke-opacity=".050" d="M119.5 247v31m15-31v31m12-31v31m24-31v31m22-31v31m11-31v31m35-31v31m15-31v31m3-31v31m8-31v31m22-31v31m5-31v31m18-31v31m2-31v31m7-31v31m36-31v31m30-31v31m25-31v31m12-31v31m20-31v31m44-31v31m37-31v31m6-31v31m18-31v31m14-31v31m16-31v31m11-31v31m4-31v31m44-31v31m39-31v31m26-31v31"/><path stroke="#fde725" stroke-opacity=".060" d="M74.5 247v31m8-31v31m22-31v31m9-31v31m29-31v31m1-31v31m20-31v31m86-31v31m46-31v31m41-31v31m5-31v31m6-31v31m5-31v31m11-31v31m8-31v31m17-31v31m17-31v31m52-31v31m38-31v31m63-31v31m11-31v31m33-31v31m39-31v31m1-31v31m38-31v31m5-31v31m7-31v31"/><path stroke="#fde725" stroke-opacity=".070" d="M95.5 247v31m8-31v31m21-31v31m76-31v31m36-31v31m45-31v31m31-31v31m13-31v31m18-31v31m55-31v31m9-31v31m32-31v31m62-31v31m5-31v31m26-31v31m20-31v31m13-31v31m5-31v31m22-31v31m38-31v31m8-31v31m48-31v31"/><path stroke="#fde725" stroke-opacity=".080" d="M108.5 247v31m70-31v31m19-31v31m2-31v31m9-31v31m22-31v31m45-31v31m40-31v31m17-31v31m32-31v31m68-31v31m18-31v31m24-31v31m12-31v31m22-31v31m22-31v31m67-31v31m9-31v31m75-31v31"/><path stroke="#fde725" stroke-opacity=".090" d="M63.5 247v31m34-31v31m32-31v31m64-31v31m237-31v31m5-31v31m13-31v31m33-31v31m112-31v31m3-31v31m9-31v31m52-31v31"/><path stroke="#fde725" stroke-opacity=".100" d="M75.5 247v31m55-31v31m68-31v31m193-31v31m51-31v31m12-31v31m56-31v31"/><path stroke="#fde725" stroke-opacity=".110" d="M140.5 247v31m338-31v31m180-31v31m2-31v31"/><path stroke="#fde725" stroke-opacity=".120" d="M138.5 247v31m56-31v31m73-31v31m100-31v31m168-31v31m138-31v31"/><path stroke="#fde725" stroke-opacity=".130" d="M66.5 247v31m49-31v31m60-31v31m39-31v31m196-31v31m83-31v31m132-31v31"/><path stroke="#fde725" stroke-opacity=".140" d="M60.5 247v31m105-31v31m180-31v31m14-31v31m209-31v31"/><path stroke="#fde725" stroke-opacity=".150" d="M423.5 247v31"/><path stroke="#fde725" stroke-opacity=".160" d="M374.5 247v31"/><path stroke="#fde725" stroke-opacity=".170" d="M617.5 247v31"/><path stroke="#fde725" stroke-opacity=".190" d="M632.5 247v31"/><path stroke="#fde725" stroke-opacity=".210" d="M313.5 247v31m21-31v31"/><path stroke="#fde725" stroke-opacity=".260" d="M148.5 247v31"/></g><rect x="300" y="60" width="36" height="186" fill="url(#g28)" mask="url(#mh29)"/><rect x="336" y="60" width="64" height="186" fill="url(#g30)" mask="url(#mh31)"/><rect x="554" y="80" width="30" height="166" fill="url(#g32)" mask="url(#mh33)"/><rect x="308" y="200" width="12" height="51" fill="url(#g34)" mask="url(#mh35)"/><rect x="85.55" y="60" width="3.7" height="218" fill="url(#g36)"/><rect x="91.4" y="60" width="4.2" height="186" fill="url(#g37)"/><rect x="108.5" y="108" width="4.2" height="68" fill="url(#g38)"/><rect x="127.65" y="60" width="3.7" height="181" fill="url(#g39)"/><rect x="132.15" y="71" width="3.7" height="90" fill="url(#g40)"/><rect x="133.9" y="225" width="4.2" height="53" fill="url(#g41)"/><rect x="156.5" y="100" width="4" height="126" fill="url(#g42)"/><rect x="185.75" y="127" width="3.7" height="38" fill="url(#g43)"/><rect x="186.85" y="160" width="3.7" height="118" fill="url(#g44)"/><rect x="198.8" y="150" width="4.4" height="128" fill="url(#g45)"/><rect x="239.6" y="73" width="4.4" height="191" fill="url(#g46)"/><rect x="250.9" y="251" width="4.2" height="27" fill="url(#g47)"/><rect x="256.95" y="221" width="4.7" height="27" fill="url(#g48)"/><rect x="272.4" y="196" width="4.2" height="46" fill="url(#g49)"/><rect x="277.75" y="60" width="3.7" height="181" fill="url(#g50)"/><rect x="277.4" y="85" width="4.2" height="23" fill="url(#g51)"/><rect x="280.4" y="60" width="4.2" height="14" fill="url(#g52)"/><rect x="282.15" y="115" width="4.7" height="133" fill="url(#g53)"/><rect x="288.9" y="91" width="4.2" height="135" fill="url(#g54)"/><rect x="304.15" y="60" width="3.7" height="218" fill="url(#g55)"/><rect x="308.4" y="60" width="4.2" height="86" fill="url(#g56)"/><rect x="315.4" y="259" width="4.2" height="19" fill="url(#g57)"/><rect x="324.15" y="191" width="3.7" height="87" fill="url(#g58)"/><rect x="332.3" y="60" width="4.4" height="218" fill="url(#g59)"/><rect x="338.9" y="60" width="3.8" height="56" fill="url(#g60)"/><rect x="341.8" y="60" width="4" height="46" fill="url(#g61)"/><rect x="340" y="90" width="5.2" height="188" fill="url(#g62)"/><rect x="347.2" y="60" width="5.2" height="33" fill="url(#g63)"/><rect x="347.2" y="85" width="4.6" height="193" fill="url(#g64)"/><rect x="372.65" y="93" width="6.7" height="185" fill="url(#g65)"/><rect x="376.15" y="60" width="3.7" height="218" fill="url(#g66)"/><rect x="380.3" y="71" width="4.4" height="207" fill="url(#g67)"/><rect x="385.15" y="150" width="4.7" height="128" fill="url(#g68)"/><rect x="388.95" y="76" width="4.7" height="132" fill="url(#g69)"/><rect x="396.65" y="71" width="4.7" height="175" fill="url(#g70)"/><rect x="407.7" y="99" width="4.2" height="147" fill="url(#g71)"/><rect x="417.65" y="215" width="3.7" height="63" fill="url(#g72)"/><rect x="449.4" y="114" width="4.8" height="164" fill="url(#g73)"/><rect x="453.5" y="60" width="3.8" height="218" fill="url(#g74)"/><rect x="483.8" y="108" width="4.4" height="134" fill="url(#g75)"/><rect x="486.1" y="222" width="3.8" height="56" fill="url(#g76)"/><rect x="491.7" y="60" width="3.8" height="218" fill="url(#g77)"/><rect x="509.6" y="188" width="4" height="90" fill="url(#g78)"/><rect x="573.9" y="60" width="4.2" height="218" fill="url(#g79)"/><rect x="600.4" y="60" width="4.2" height="218" fill="url(#g80)"/><rect x="631.15" y="100" width="3.7" height="178" fill="url(#g81)"/><rect x="645.3" y="120" width="4" height="116" fill="url(#g82)"/><rect x="686.6" y="165" width="3.8" height="81" fill="url(#g83)"/><rect x="686.8" y="222" width="4.8" height="37" fill="url(#g84)"/><rect x="686.4" y="248" width="6.4" height="30" fill="url(#g85)"/><rect x="271.55" y="193" width="3.9" height="50" fill="url(#g86)"/><rect x="274.05" y="198" width="3.9" height="49" fill="url(#g87)"/><rect x="278.05" y="178" width="3.9" height="75" fill="url(#g88)"/><rect x="281.55" y="173" width="3.9" height="80" fill="url(#g89)"/><rect x="284.05" y="168" width="3.9" height="80" fill="url(#g90)"/><rect x="289.05" y="178" width="3.9" height="60" fill="url(#g91)"/><rect x="304.05" y="168" width="3.9" height="99" fill="url(#g92)"/><rect x="309.05" y="188" width="3.9" height="66" fill="url(#g93)"/><rect x="311.05" y="193" width="3.9" height="59" fill="url(#g94)"/><rect x="314.05" y="193" width="3.9" height="63" fill="url(#g95)"/><rect x="324.05" y="191" width="3.9" height="81" fill="url(#g96)"/><rect x="381.05" y="178" width="3.9" height="71" fill="url(#g97)"/><rect x="385.55" y="193" width="3.9" height="74" fill="url(#g98)"/><rect x="368.05" y="196" width="3.9" height="30" fill="url(#g99)"/><rect x="397.05" y="203" width="3.9" height="50" fill="url(#g100)"/><rect x="407.55" y="215" width="3.9" height="37" fill="url(#g101)"/><rect x="417.55" y="213" width="3.9" height="71" fill="url(#g102)"/><rect x="425.45" y="221" width="3.9" height="64" fill="url(#g103)"/><rect x="449.05" y="218" width="3.9" height="65" fill="url(#g104)"/><rect x="484.55" y="229" width="3.9" height="53" fill="url(#g105)"/><rect x="568.05" y="211" width="3.9" height="47" fill="url(#g106)"/><rect x="570.05" y="213" width="3.9" height="43" fill="url(#g107)"/><rect x="572.55" y="215" width="3.9" height="43" fill="url(#g108)"/><rect x="575.05" y="211" width="3.9" height="47" fill="url(#g109)"/><rect x="133.55" y="225" width="3.9" height="59" fill="url(#g110)"/><rect x="145.55" y="225" width="3.9" height="55" fill="url(#g111)"/><rect x="158.55" y="233" width="3.9" height="49" fill="url(#g112)"/><rect x="225.05" y="183" width="3.9" height="71" fill="url(#g113)"/><rect x="229.05" y="173" width="3.9" height="75" fill="url(#g114)"/><rect x="255.55" y="193" width="3.9" height="60" fill="url(#g115)"/><rect x="257.55" y="218" width="3.9" height="32" fill="url(#g116)"/><rect x="240.55" y="208" width="3.9" height="54" fill="url(#g117)"/><rect x="513.45" y="233" width="3.9" height="31" fill="url(#g118)"/><rect x="631.05" y="233" width="3.9" height="52" fill="url(#g119)"/><rect x="509.65" y="233" width="3.9" height="50" fill="url(#g120)"/><rect x="69.25" y="60" width="1.5" height="186" fill="url(#g121)"/><rect x="86.65" y="60" width="1.5" height="218" fill="url(#g122)"/><rect x="92.5" y="60" width="2" height="186" fill="url(#g123)"/><rect x="102" y="60" width="2" height="141" fill="url(#g124)"/><rect x="109.6" y="108" width="2" height="68" fill="url(#g125)"/><rect x="116" y="83" width="4" height="68" fill="url(#g126)"/><rect x="124.95" y="81" width="1.5" height="42" fill="url(#g127)"/><rect x="128.75" y="60" width="1.5" height="181" fill="url(#g128)"/><rect x="133.25" y="71" width="1.5" height="90" fill="url(#g129)"/><rect x="135" y="225" width="2" height="53" fill="url(#g130)"/><rect x="138.8" y="80" width="2" height="161" fill="url(#g131)"/><rect x="145.65" y="81" width="1.5" height="97" fill="url(#g132)"/><rect x="147.25" y="223" width="1.5" height="53" fill="url(#g133)"/><rect x="157.6" y="100" width="1.8" height="126" fill="url(#g134)"/><rect x="159.75" y="123" width="1.5" height="155" fill="url(#g135)"/><rect x="178.25" y="61" width="1.5" height="160" fill="url(#g136)"/><rect x="186.85" y="127" width="1.5" height="38" fill="url(#g137)"/><rect x="187.95" y="160" width="1.5" height="118" fill="url(#g138)"/><rect x="199.05" y="60" width="1.5" height="101" fill="url(#g139)"/><rect x="199.9" y="150" width="2.2" height="128" fill="url(#g140)"/><rect x="219.25" y="178" width="1.5" height="35" fill="url(#g141)"/><rect x="220.65" y="60" width="1.5" height="116" fill="url(#g142)"/><rect x="225.25" y="113" width="1.5" height="63" fill="url(#g143)"/><rect x="228.5" y="175" width="3" height="73" fill="url(#g144)"/><rect x="231.05" y="128" width="1.5" height="48" fill="url(#g145)"/><rect x="237.25" y="80" width="1.5" height="34" fill="url(#g146)"/><rect x="240.7" y="73" width="2.2" height="191" fill="url(#g147)"/><rect x="252" y="251" width="2" height="27" fill="url(#g148)"/><rect x="256.75" y="73" width="1.5" height="167" fill="url(#g149)"/><rect x="258.05" y="221" width="2.5" height="27" fill="url(#g150)"/><rect x="260.25" y="73" width="1.5" height="50" fill="url(#g151)"/><rect x="268.75" y="60" width="1.5" height="218" fill="url(#g152)"/><rect x="273.5" y="196" width="2" height="46" fill="url(#g153)"/><rect x="278.85" y="60" width="1.5" height="181" fill="url(#g154)"/><rect x="278.5" y="85" width="2" height="23" fill="url(#g155)"/><rect x="281.5" y="60" width="2" height="14" fill="url(#g156)"/><rect x="283.25" y="115" width="2.5" height="133" fill="url(#g157)"/><rect x="290" y="91" width="2" height="135" fill="url(#g158)"/><rect x="299.25" y="60" width="1.5" height="186" fill="url(#g159)"/><rect x="305.25" y="60" width="1.5" height="218" fill="url(#g160)"/><rect x="309.5" y="60" width="2" height="86" fill="url(#g161)"/><rect x="311.5" y="193" width="5" height="60" fill="url(#g162)"/><rect x="314.25" y="60" width="1.5" height="98" fill="url(#g163)"/><rect x="316.5" y="259" width="2" height="19" fill="url(#g164)"/><rect x="325.25" y="191" width="1.5" height="87" fill="url(#g165)"/><rect x="333.4" y="60" width="2.2" height="218" fill="url(#g166)"/><rect x="340" y="60" width="1.6" height="56" fill="url(#g167)"/><rect x="342.9" y="60" width="1.8" height="46" fill="url(#g168)"/><rect x="341.1" y="90" width="3" height="188" fill="url(#g169)"/><rect x="345.55" y="60" width="1.5" height="186" fill="url(#g170)"/><rect x="348.3" y="60" width="3" height="33" fill="url(#g171)"/><rect x="348.3" y="85" width="2.4" height="193" fill="url(#g172)"/><rect x="357" y="73" width="3" height="50" fill="url(#g173)"/><rect x="365.25" y="60" width="1.5" height="186" fill="url(#g174)"/><rect x="373.25" y="60" width="1.5" height="186" fill="url(#g175)"/><rect x="373.75" y="93" width="4.5" height="185" fill="url(#g176)"/><rect x="377.25" y="60" width="1.5" height="218" fill="url(#g177)"/><rect x="381.4" y="71" width="2.2" height="207" fill="url(#g178)"/><rect x="386.25" y="150" width="2.5" height="128" fill="url(#g179)"/><rect x="387.75" y="118" width="1.5" height="58" fill="url(#g180)"/><rect x="390.05" y="76" width="2.5" height="132" fill="url(#g181)"/><rect x="397.75" y="71" width="2.5" height="175" fill="url(#g182)"/><rect x="408.8" y="99" width="2" height="147" fill="url(#g183)"/><rect x="417.45" y="60" width="1.5" height="218" fill="url(#g184)"/><rect x="418.75" y="215" width="1.5" height="63" fill="url(#g185)"/><rect x="426.65" y="224" width="1.5" height="54" fill="url(#g186)"/><rect x="431.6" y="106" width="2" height="36" fill="url(#g187)"/><rect x="441.85" y="60" width="1.5" height="186" fill="url(#g188)"/><rect x="447.85" y="71" width="1.5" height="43" fill="url(#g189)"/><rect x="450.5" y="114" width="2.6" height="164" fill="url(#g190)"/><rect x="454.6" y="60" width="1.6" height="218" fill="url(#g191)"/><rect x="471" y="115" width="2" height="33" fill="url(#g192)"/><rect x="484.9" y="108" width="2.2" height="134" fill="url(#g193)"/><rect x="487.2" y="222" width="1.6" height="56" fill="url(#g194)"/><rect x="492.8" y="60" width="1.6" height="218" fill="url(#g195)"/><rect x="497.5" y="128" width="2" height="85" fill="url(#g196)"/><rect x="500.75" y="175" width="1.5" height="28" fill="url(#g197)"/><rect x="510.7" y="188" width="1.8" height="90" fill="url(#g198)"/><rect x="513.55" y="137" width="1.5" height="54" fill="url(#g199)"/><rect x="514.65" y="235" width="1.5" height="28" fill="url(#g200)"/><rect x="524.85" y="60" width="1.5" height="186" fill="url(#g201)"/><rect x="544.25" y="71" width="1.5" height="52" fill="url(#g202)"/><rect x="554.25" y="60" width="1.5" height="186" fill="url(#g203)"/><rect x="561" y="90" width="2" height="130" fill="url(#g204)"/><rect x="564.5" y="80" width="3" height="121" fill="url(#g205)"/><rect x="569" y="80" width="2" height="131" fill="url(#g206)"/><rect x="570.5" y="215" width="7" height="38" fill="url(#g207)"/><rect x="575" y="60" width="2" height="218" fill="url(#g208)"/><rect x="580.25" y="60" width="1.5" height="116" fill="url(#g209)"/><rect x="601.5" y="60" width="2" height="218" fill="url(#g210)"/><rect x="614.25" y="232" width="1.5" height="17" fill="url(#g211)"/><rect x="620.65" y="60" width="1.5" height="158" fill="url(#g212)"/><rect x="625" y="223" width="2" height="18" fill="url(#g213)"/><rect x="632.25" y="100" width="1.5" height="178" fill="url(#g214)"/><rect x="643.75" y="60" width="1.5" height="48" fill="url(#g215)"/><rect x="645.4" y="63" width="1.6" height="58" fill="url(#g216)"/><rect x="646.4" y="120" width="1.8" height="116" fill="url(#g217)"/><rect x="662.25" y="150" width="1.5" height="96" fill="url(#g218)"/><rect x="686.25" y="150" width="1.5" height="51" fill="url(#g219)"/><rect x="687.7" y="165" width="1.6" height="81" fill="url(#g220)"/><rect x="687.9" y="222" width="2.6" height="37" fill="url(#g221)"/><rect x="687.5" y="248" width="4.2" height="30" fill="url(#g222)"/><rect x="692.25" y="60" width="1.5" height="186" fill="url(#g223)"/><rect x="272.65" y="193" width="1.7" height="50" fill="url(#g224)"/><rect x="275.15" y="198" width="1.7" height="49" fill="url(#g225)"/><rect x="279.15" y="178" width="1.7" height="75" fill="url(#g226)"/><rect x="282.65" y="173" width="1.7" height="80" fill="url(#g227)"/><rect x="285.15" y="168" width="1.7" height="80" fill="url(#g228)"/><rect x="290.15" y="178" width="1.7" height="60" fill="url(#g229)"/><rect x="305.15" y="168" width="1.7" height="99" fill="url(#g230)"/><rect x="310.15" y="188" width="1.7" height="66" fill="url(#g231)"/><rect x="312.15" y="193" width="1.7" height="59" fill="url(#g232)"/><rect x="315.15" y="193" width="1.7" height="63" fill="url(#g233)"/><rect x="325.15" y="191" width="1.7" height="81" fill="url(#g234)"/><rect x="382.15" y="178" width="1.7" height="71" fill="url(#g235)"/><rect x="386.65" y="193" width="1.7" height="74" fill="url(#g236)"/><rect x="369.15" y="196" width="1.7" height="30" fill="url(#g237)"/><rect x="398.15" y="203" width="1.7" height="50" fill="url(#g238)"/><rect x="408.65" y="215" width="1.7" height="37" fill="url(#g239)"/><rect x="418.65" y="213" width="1.7" height="71" fill="url(#g240)"/><rect x="426.55" y="221" width="1.7" height="64" fill="url(#g241)"/><rect x="450.15" y="218" width="1.7" height="65" fill="url(#g242)"/><rect x="485.65" y="229" width="1.7" height="53" fill="url(#g243)"/><rect x="569.15" y="211" width="1.7" height="47" fill="url(#g244)"/><rect x="571.15" y="213" width="1.7" height="43" fill="url(#g245)"/><rect x="573.65" y="215" width="1.7" height="43" fill="url(#g246)"/><rect x="576.15" y="211" width="1.7" height="47" fill="url(#g247)"/><rect x="134.65" y="225" width="1.7" height="59" fill="url(#g248)"/><rect x="146.65" y="225" width="1.7" height="55" fill="url(#g249)"/><rect x="159.65" y="233" width="1.7" height="49" fill="url(#g250)"/><rect x="117.15" y="225" width="1.7" height="33" fill="url(#g251)"/><rect x="226.15" y="183" width="1.7" height="71" fill="url(#g252)"/><rect x="230.15" y="173" width="1.7" height="75" fill="url(#g253)"/><rect x="256.65" y="193" width="1.7" height="60" fill="url(#g254)"/><rect x="258.65" y="218" width="1.7" height="32" fill="url(#g255)"/><rect x="241.65" y="208" width="1.7" height="54" fill="url(#g256)"/><rect x="514.55" y="233" width="1.7" height="31" fill="url(#g257)"/><rect x="632.15" y="233" width="1.7" height="52" fill="url(#g258)"/><rect x="510.75" y="233" width="1.7" height="50" fill="url(#g259)"/><path stroke="#3e4a89" d="M280 278.5h3m2 0h2m26 0h1m27 0h3m29 0h2m242 0h1m57 0h2m-540 2h3m27 0h2m34 0h3m46 1h1m49 0h3m270 0h3m27 0h1m-439 1h1m346 0h2m168 0h1m-178 1h1"/><path stroke="#3b528b" d="M401 278.5h1m67 0h1m38 0h1m130 0h1m4 0h2m-290 1h2m304 0h2m-70 1h2m-513 1h1m31 0h3m81 0h2m138 0h2m-278 1h1m589 0h1m-577 1h3m574 0h2"/><path stroke="#38598c" d="M121 278.5h3m40 0h3m97 0h3m172 0h1m181 0h2m-419 1h3m178 0h3m85 0h2m18 0h2m95 0h2m-503 1h2m121 0h1m364 0h2m20 0h3m-505 1h2m393 0h1m-190 1h3m133 0h1m174 0h2m-212 1h3m120 0h3"/><path stroke="#355f8d" d="M549 278.5h2m-470 1h2m566 0h2m-304 1h3m133 0h1m90 0h2m44 0h2m-436 1h3m22 0h3m435 0h1m-566 1h3m70 0h1m277 0h1m8 0h3m34 0h2m160 0h3m16 0h3m-208 1h3"/><path stroke="#31668e" d="M187 278.5h1m18 0h2m5 0h2m105 0h1m35 0h2m94 1h2m-258 1h2m54 0h1m148 0h2m38 0h3m6 0h1m-277 1h3m83 0h3m107 0h1m303 0h3m-464 1h1m183 0h2m27 0h3m50 0h3m126 0h2m-520 1h3m223 0h1m194 0h1m-342 4h1m0 0h1m469 0h3m36 0h3m-547 1h1m235 0h1m128 0h3m16 0h2m-303 1h2m28 0h1m48 0h3m317 0h1m-338 1h1m171 0h3m89 0h2m51 0h2m86 0h3m3 0h3"/><path stroke="#2f6c8e" d="M616 278.5h3m-486 1h3m17 0h1m23 0h1m90 0h3m25 0h1m140 0h1m35 0h1m30 0h3m-386 1h3m513 0h3m2 0h1m42 0h2m-563 1h1m217 1h2m286 0h2m-546 1h1m87 0h1m190 0h3m-2 0h1m55 0h3m140 0h1m41 0h1m24 0h1m-528 4h3m15 0h1m5 0h1m106 0h1m59 0h2m36 0h3m7 0h2m120 0h2m136 0h1m63 0h2m15 0h3m-571 1h3m50 0h1m34 0h1m127 0h2m25 0h3m2 0h1m24 0h3m109 0h1m1 0h2m54 0h2m21 0h3m19 0h3m28 0h1m17 0h1m32 0h1m-623 1h1m42 0h1m23 0h3m59 0h3m26 0h2m18 0h3m57 0h1m6 0h3m66 0h3m6 0h1m138 0h3m82 0h1m-546 1h3m15 0h2m51 0h2m2 0h1m120 0h1m36 0h1m89 0h2m47 0h3m23 0h2m1 0h2m69 0h1m33 0h1m70 0h1m27 0h2m20 0h3"/><path stroke="#2c728e" d="M77 287.5h1m17 0h1m20 0h3m4 0h3m48 0h2m14 0h2m11 0h3m75 0h3m15 0h2m41 0h2m128 0h1m50 0h1m0 0h3m24 0h3m79 0h3m-574 1h2m127 0h1m48 0h2m24 0h1m164 0h1m10 0h2m5 0h1m178 0h2m51 0h3m-528 1h2m68 0h3m90 0h2m78 0h2m21 0h3m45 0h1m3 0h3m46 0h1m5 0h3m33 0h3m21 0h3m-528 1h1m23 0h1m50 0h1m61 0h1m3 0h2m76 0h3m80 0h3m-1 0h3m26 0h2m39 0h3m-1 0h1m0 0h3m20 0h1m178 0h2m21 0h3"/><path stroke="#2a788e" d="M256 287.5h3m122 0h2m54 0h1m20 0h2m41 0h1m55 0h2m41 0h2m5 0h2m4 0h3m38 0h3m-509 1h3m72 0h2m171 0h1m60 0h3m58 0h1m101 0h2m6 0h3m30 0h1m30 0h2m-626 1h1m94 0h3m-2 0h2m123 0h2m28 0h1m48 0h1m27 0h2m63 0h1m34 0h2m94 0h1m8 0h3m67 0h2m-610 1h3m26 0h3m76 0h2m9 0h1m25 0h1m25 0h3m51 0h1m5 0h2m25 0h1m16 0h1m192 0h3m2 0h1m1 0h2m100 0h1m45 0h3m7 0h3"/><path stroke="#277e8e" d="M98 287.5h1m71 0h2m108 0h3m58 0h2m79 0h2m-363 1h1m17 0h1m15 0h1m-1 0h3m0 0h1m27 0h2m36 0h3m17 0h1m11 0h1m58 0h3m3 0h2m31 0h1m1 0h2m28 0h3m14 0h3m55 0h2m38 0h1m17 0h1m10 0h2m7 0h3m7 0h2m7 0h2m49 0h2m18 0h2m11 0h2m98 0h1m-602 1h1m8 0h3m145 0h1m121 0h2m30 0h2m34 0h1m22 0h2m28 0h1m44 0h3m12 0h2m79 0h3m-418 1h2m37 0h3m22 0h2m18 0h3m2 0h1m36 0h2m25 0h2m3 0h2m68 0h3m41 0h2m69 0h2m36 0h2"/><path stroke="#25848e" d="M113 287.5h1m153 0h1m14 0h3m11 0h2m9 0h3m33 0h1m94 0h1m10 0h2m33 0h2m66 0h3m63 0h1m3 0h1m39 0h2m-464 1h2m18 0h3m14 0h1m76 0h1m139 0h1m81 0h3m20 0h3m-403 1h1m17 0h1m39 0h3m9 0h1m-169 1h3m6 0h1m21 0h2m66 0h2m20 0h1m13 0h3m4 0h2m65 0h1m14 0h2m83 0h3m124 0h2m57 0h1m5 0h1m40 0h3"/><path stroke="#1e9c89" d="M454 264.5h2m-1 1h2m-211 1h2"/><path stroke="#1fa287" d="M518 256.5h2m-326 1h2m60 0h1m382 0h1m-446 2h2m-68 1h2m461 0h1m-509 1h1m201 0h1m292 0h2m-183 2h2m131 0h1m-277 1h1m439 1h1m-586 1h1m255 0h2m-199 1h1m64 0h2m348 0h1m-178 1h1"/><path stroke="#22a884" d="M72 256.5h1m94 0h1m-24 1h1m81 0h1m153 0h1m-78 3h1m104 0h1m212 0h2m-399 1h2m141 0h1m54 1h1m60 1h2m-208 1h2m-18 1h2m16 0h2m170 0h1m-328 1h2m16 0h2m435 2h1m15 0h1"/><path stroke="#28ae80" d="M299 259.5h2m-91 1h1m60 0h2m-206 3h1m415 3h1m195 0h1m1 2h2"/><path stroke="#5ec962" d="M552 269.5h1m-1 1h1m-417 1h1m-1 1h1"/><path stroke="#6ccd5a" d="M112 269.5h1m308 0h1m254 0h2m-576 1h2m8 0h1m6 0h1m220 0h2m79 0h1m65 0h1m13 0h2m54 0h1m-456 1h2m15 0h1m85 0h2m133 0h2m145 0h1m69 0h1m65 0h2m15 0h1m22 0h2m-460 1h2m158 0h1m38 0h2m53 0h2m60 0h2m103 0h2m-298 1h2m33 0h1m50 0h2m41 0h2m35 0h2m128 0h2m-559 1h2m133 0h2m17 0h2m77 0h1m27 0h2m20 0h1m18 0h2m158 0h2m21 0h1m118 0h1m-509 1h2m56 0h2m98 0h1m28 0h1m18 0h2m123 0h1m34 0h2m-433 1h2m228 0h1m23 0h1m220 0h2m15 0h2m1 0h2m58 0h2m-557 1h2m114 0h2m49 0h1m62 0h1m22 0h2m85 0h1m10 0h1m143 0h2m58 0h2"/><path stroke="#7ad151" d="M632 273.5h1m-496 1h2m-2 1h2m317 2h1"/><path stroke="#bddf26" d="M328 269.5h1m124 0h1m175 0h1m-302 1h1m18 0h2m-238 2h1m76 0h1m66 0h1m64 0h2m71 0h1m176 0h1m-460 1h1m76 0h1m66 0h1m64 0h2m57 0h2m-252 1h1m249 0h2m16 0h1m18 0h1m-288 1h1m-22 1h1m128 0h2m-2 1h2m34 0h2m64 0h1m233 0h1m79 0h1"/><path stroke="#cde11d" d="M64 269.5h2m113 0h2m212 0h2m86 0h2m188 0h2m-559 1h1m46 0h1m38 0h2m30 0h2m159 0h2m15 0h1m51 0h1m37 0h2m29 0h2m25 0h1m13 0h1m106 0h2m-567 1h1m2 0h1m26 0h1m16 0h1m38 0h2m30 0h2m2 0h2m199 0h1m119 0h1m0 0h1m72 0h1m47 0h2m-564 1h1m26 0h1m37 0h2m30 0h2m20 0h2m-1 0h2m110 0h1m4 0h2m47 0h1m215 0h1m11 0h1m-473 1h1m22 0h2m30 0h2m21 0h2m-2 0h2m75 0h1m34 0h1m75 0h1m17 0h2m82 0h1m97 0h2m-549 1h2m79 0h1m15 0h2m137 0h1m3 0h1m52 0h2m52 0h1m-357 1h1m36 0h2m205 0h1m4 0h1m52 0h2m81 0h1m14 0h2m111 0h2m0 0h1m40 0h1m-520 1h2m172 0h1m32 0h1m10 0h1m257 0h2m-494 1h1m175 0h1m83 0h2m7 0h1m125 0h2m129 0h1m60 0h1"/><path stroke="#dfe318" d="M152 273.5h1m188 0h2m-2 1h2m138 1h1m-1 1h1"/><rect x="58" y="353" width="645" height="230" fill="url(#g260)"/><g mask="url(#mf261)"><path stroke="#6ba9d1" stroke-opacity=".010" d="M64.5 353v185m1-185v185m8-185v185m7-185v185m20-185v185m4-185v185m4-185v185m8-185v185m4-185v185m1-185v185m1-185v185m2-185v185m26-185v185m20-185v185m12-185v185m11-185v185m3-185v185m23-185v185m1-185v185m4-185v185m13-185v185m6-185v185m17-185v185m19-185v185m1-185v185m2-185v185m3-185v185m17-185v185m15-185v185m2-185v185m12-185v185m11-185v185m6-185v185m26-185v185m7-185v185m21-185v185m8-185v185m1-185v185m17-185v185m11-185v185m3-185v185m9-185v185m4-185v185m10-185v185m4-185v185m19-185v185m2-185v185m12-185v185m8-185v185m4-185v185m5-185v185m7-185v185m1-185v185m9-185v185m4-185v185m1-185v185m3-185v185m5-185v185m7-185v185m2-185v185m6-185v185m3-185v185m9-185v185m1-185v185m1-185v185m6-185v185m3-185v185m8-185v185m5-185v185m6-185v185m1-185v185m10-185v185m2-185v185m46-185v185m2-185v185m18-185v185m6-185v185m3-185v185m2-185v185"/><path stroke="#6ba9d1" stroke-opacity=".020" d="M68.5 353v185m3-185v185m32-185v185m34-185v185m17-185v185m1-185v185m4-185v185m1-185v185m14-185v185m2-185v185m7-185v185m3-185v185m2-185v185m17-185v185m30-185v185m3-185v185m8-185v185m13-185v185m29-185v185m2-185v185m7-185v185m6-185v185m10-185v185m7-185v185m3-185v185m2-185v185m7-185v185m1-185v185m10-185v185m8-185v185m10-185v185m5-185v185m3-185v185m17-185v185m2-185v185m6-185v185m1-185v185m6-185v185m16-185v185m4-185v185m28-185v185m38-185v185m4-185v185m9-185v185m7-185v185m13-185v185m11-185v185m17-185v185m11-185v185m21-185v185m2-185v185m19-185v185m8-185v185m5-185v185m7-185v185m3-185v185m1-185v185m1-185v185m1-185v185m6-185v185m2-185v185m3-185v185m7-185v185m3-185v185m3-185v185m6-185v185m11-185v185m4-185v185m5-185v185m2-185v185m14-185v185"/><path stroke="#6ba9d1" stroke-opacity=".030" d="M78.5 353v185m1-185v185m26-185v185m42-185v185m10-185v185m7-185v185m3-185v185m1-185v185m3-185v185m2-185v185m4-185v185m12-185v185m9-185v185m2-185v185m15-185v185m3-185v185m4-185v185m17-185v185m12-185v185m6-185v185m8-185v185m50-185v185m3-185v185m6-185v185m5-185v185m7-185v185m11-185v185m12-185v185m3-185v185m10-185v185m42-185v185m12-185v185m4-185v185m42-185v185m10-185v185m1-185v185m2-185v185m12-185v185m14-185v185m2-185v185m15-185v185m15-185v185m3-185v185m9-185v185m5-185v185m3-185v185m8-185v185m34-185v185m15-185v185m17-185v185m15-185v185m9-185v185m26-185v185m2-185v185"/><path stroke="#6ba9d1" stroke-opacity=".040" d="M61.5 353v185m15-185v185m6-185v185m24-185v185m1-185v185m23-185v185m9-185v185m10-185v185m17-185v185m12-185v185m12-185v185m44-185v185m27-185v185m8-185v185m27-185v185m50-185v185m46-185v185m20-185v185m4-185v185m2-185v185m7-185v185m27-185v185m43-185v185m23-185v185m34-185v185m20-185v185m11-185v185m27-185v185m21-185v185m19-185v185m10-185v185m3-185v185m29-185v185m5-185v185m2-185v185m2-185v185"/><path stroke="#6ba9d1" stroke-opacity=".050" d="M63.5 353v185m28-185v185m40-185v185m53-185v185m32-185v185m1-185v185m14-185v185m1-185v185m10-185v185m8-185v185m25-185v185m34-185v185m88-185v185m8-185v185m19-185v185m13-185v185m25-185v185m8-185v185m7-185v185m9-185v185m47-185v185m20-185v185m22-185v185m14-185v185m9-185v185m14-185v185m4-185v185m2-185v185m46-185v185m18-185v185m1-185v185m1-185v185m11-185v185"/><path stroke="#6ba9d1" stroke-opacity=".060" d="M81.5 353v185m75-185v185m19-185v185m5-185v185m111-185v185m21-185v185m15-185v185m36-185v185m259-185v185m7-185v185m12-185v185m30-185v185"/><path stroke="#6ba9d1" stroke-opacity=".070" d="M287.5 353v185m347-185v185m13-185v185m19-185v185"/><path stroke="#6ba9d1" stroke-opacity=".080" d="M341.5 353v185m270-185v185m44-185v185m45-185v185"/><path stroke="#6ba9d1" stroke-opacity=".090" d="M140.5 353v185m425-185v185"/><path stroke="#6ba9d1" stroke-opacity=".100" d="M420.5 353v185m256-185v185"/><path stroke="#6ba9d1" stroke-opacity=".110" d="M90.5 353v185m325-185v185"/><path stroke="#6ba9d1" stroke-opacity=".150" d="M293.5 353v185"/><path stroke="#6ba9d1" stroke-opacity=".160" d="M515.5 353v185"/><path stroke="#e7896f" stroke-opacity=".010" d="M75.5 353v185m8-185v185m3-185v185m6-185v185m4-185v185m1-185v185m1-185v185m1-185v185m11-185v185m1-185v185m7-185v185m9-185v185m2-185v185m3-185v185m4-185v185m5-185v185m5-185v185m6-185v185m1-185v185m8-185v185m8-185v185m12-185v185m14-185v185m2-185v185m4-185v185m5-185v185m7-185v185m15-185v185m1-185v185m4-185v185m3-185v185m9-185v185m3-185v185m4-185v185m1-185v185m1-185v185m1-185v185m7-185v185m1-185v185m4-185v185m3-185v185m1-185v185m2-185v185m41-185v185m12-185v185m8-185v185m4-185v185m6-185v185m12-185v185m2-185v185m2-185v185m4-185v185m4-185v185m12-185v185m3-185v185m8-185v185m8-185v185m7-185v185m17-185v185m4-185v185m2-185v185m5-185v185m1-185v185m3-185v185m2-185v185m1-185v185m2-185v185m2-185v185m19-185v185m3-185v185m1-185v185m3-185v185m3-185v185m2-185v185m3-185v185m13-185v185m14-185v185m10-185v185m14-185v185m12-185v185m8-185v185m4-185v185m31-185v185m18-185v185m39-185v185m2-185v185m5-185v185m10-185v185m10-185v185m4-185v185m7-185v185m6-185v185"/><path stroke="#e7896f" stroke-opacity=".020" d="M62.5 353v185m10-185v185m12-185v185m1-185v185m2-185v185m8-185v185m14-185v185m4-185v185m6-185v185m9-185v185m15-185v185m2-185v185m13-185v185m4-185v185m1-185v185m2-185v185m26-185v185m11-185v185m6-185v185m1-185v185m12-185v185m5-185v185m1-185v185m17-185v185m12-185v185m12-185v185m8-185v185m7-185v185m1-185v185m8-185v185m12-185v185m6-185v185m27-185v185m12-185v185m3-185v185m13-185v185m5-185v185m3-185v185m6-185v185m14-185v185m7-185v185m9-185v185m22-185v185m22-185v185m1-185v185m3-185v185m16-185v185m16-185v185m5-185v185m5-185v185m4-185v185m1-185v185m4-185v185m1-185v185m12-185v185m11-185v185m7-185v185m6-185v185m12-185v185m24-185v185m9-185v185m3-185v185m1-185v185m3-185v185m42-185v185m1-185v185m14-185v185m4-185v185m12-185v185m11-185v185m17-185v185"/><path stroke="#e7896f" stroke-opacity=".030" d="M60.5 353v185m6-185v185m3-185v185m20-185v185m4-185v185m9-185v185m13-185v185m8-185v185m3-185v185m12-185v185m4-185v185m37-185v185m8-185v185m5-185v185m12-185v185m45-185v185m25-185v185m7-185v185m8-185v185m5-185v185m14-185v185m3-185v185m17-185v185m12-185v185m10-185v185m4-185v185m31-185v185m2-185v185m3-185v185m13-185v185m1-185v185m3-185v185m6-185v185m6-185v185m17-185v185m12-185v185m18-185v185m14-185v185m18-185v185m14-185v185m17-185v185m5-185v185m13-185v185m19-185v185m36-185v185m6-185v185m7-185v185m13-185v185"/><path stroke="#e7896f" stroke-opacity=".040" d="M70.5 353v185m18-185v185m24-185v185m5-185v185m27-185v185m50-185v185m16-185v185m4-185v185m27-185v185m31-185v185m26-185v185m7-185v185m2-185v185m23-185v185m45-185v185m2-185v185m67-185v185m17-185v185m20-185v185m42-185v185m1-185v185m1-185v185m63-185v185m3-185v185m8-185v185m89-185v185"/><path stroke="#e7896f" stroke-opacity=".050" d="M101.5 353v185m33-185v185m17-185v185m115-185v185m79-185v185m39-185v185m5-185v185m69-185v185m2-185v185m36-185v185m78-185v185m82-185v185"/><path stroke="#e7896f" stroke-opacity=".060" d="M135.5 353v185m76-185v185m47-185v185m120-185v185m100-185v185m6-185v185m38-185v185m40-185v185m112-185v185m4-185v185"/><path stroke="#e7896f" stroke-opacity=".070" d="M133.5 353v185m342-185v185m111-185v185m18-185v185m19-185v185"/><path stroke="#e7896f" stroke-opacity=".080" d="M493.5 353v185"/></g><g><path stroke="#6ba9d1" stroke-opacity=".010" d="M61.5 538v45m8-45v45m14-45v45m7-45v45m5-45v45m29-45v45m7-45v45m4-45v45m17-45v45m21-45v45m19-45v45m3-45v45m12-45v45m9-45v45m4-45v45m10-45v45m7-45v45m8-45v45m13-45v45m11-45v45m5-45v45m32-45v45m1-45v45m45-45v45m10-45v45m8-45v45m11-45v45m1-45v45m18-45v45m22-45v45m2-45v45m8-45v45m8-45v45m7-45v45m2-45v45m7-45v45m11-45v45m9-45v45m26-45v45m3-45v45m14-45v45m5-45v45m29-45v45m1-45v45m2-45v45m13-45v45m8-45v45m5-45v45m17-45v45m11-45v45m12-45v45m1-45v45m50-45v45m9-45v45m9-45v45"/><path stroke="#6ba9d1" stroke-opacity=".020" d="M62.5 538v45m5-45v45m13-45v45m19-45v45m3-45v45m1-45v45m4-45v45m30-45v45m6-45v45m7-45v45m9-45v45m3-45v45m3-45v45m20-45v45m9-45v45m9-45v45m10-45v45m9-45v45m7-45v45m58-45v45m11-45v45m26-45v45m7-45v45m1-45v45m3-45v45m4-45v45m25-45v45m13-45v45m2-45v45m5-45v45m9-45v45m4-45v45m9-45v45m2-45v45m13-45v45m7-45v45m2-45v45m7-45v45m4-45v45m17-45v45m15-45v45m1-45v45m16-45v45m6-45v45m13-45v45m3-45v45m6-45v45m7-45v45m7-45v45m5-45v45m8-45v45m26-45v45m2-45v45m3-45v45m7-45v45m18-45v45m1-45v45m25-45v45m14-45v45m15-45v45m3-45v45m13-45v45m3-45v45m1-45v45m3-45v45"/><path stroke="#6ba9d1" stroke-opacity=".030" d="M92.5 538v45m18-45v45m4-45v45m43-45v45m19-45v45m8-45v45m6-45v45m6-45v45m31-45v45m30-45v45m11-45v45m7-45v45m6-45v45m11-45v45m3-45v45m30-45v45m8-45v45m9-45v45m3-45v45m1-45v45m59-45v45m4-45v45m5-45v45m3-45v45m52-45v45m38-45v45m7-45v45m2-45v45m27-45v45m35-45v45m25-45v45m12-45v45m13-45v45m3-45v45m4-45v45m11-45v45m2-45v45m2-45v45m8-45v45m25-45v45m1-45v45m4-45v45m2-45v45"/><path stroke="#6ba9d1" stroke-opacity=".040" d="M63.5 538v45m2-45v45m7-45v45m14-45v45m11-45v45m3-45v45m6-45v45m13-45v45m1-45v45m16-45v45m6-45v45m5-45v45m20-45v45m38-45v45m35-45v45m61-45v45m4-45v45m5-45v45m20-45v45m4-45v45m9-45v45m6-45v45m8-45v45m61-45v45m53-45v45m4-45v45m12-45v45m8-45v45m28-45v45m6-45v45m18-45v45m25-45v45m15-45v45m8-45v45m49-45v45m33-45v45"/><path stroke="#6ba9d1" stroke-opacity=".050" d="M59.5 538v45m18-45v45m53-45v45m69-45v45m20-45v45m30-45v45m21-45v45m9-45v45m23-45v45m2-45v45m8-45v45m59-45v45m9-45v45m77-45v45m21-45v45m3-45v45m3-45v45m42-45v45m74-45v45m8-45v45m30-45v45m7-45v45m26-45v45m3-45v45m7-45v45m6-45v45"/><path stroke="#6ba9d1" stroke-opacity=".060" d="M79.5 538v45m37-45v45m56-45v45m79-45v45m13-45v45m25-45v45m27-45v45m11-45v45m2-45v45m37-45v45m6-45v45m6-45v45m24-45v45m77-45v45m27-45v45m54-45v45m1-45v45m28-45v45m16-45v45m42-45v45m4-45v45"/><path stroke="#6ba9d1" stroke-opacity=".070" d="M104.5 538v45m18-45v45m61-45v45m413-45v45m8-45v45"/><path stroke="#6ba9d1" stroke-opacity=".080" d="M154.5 538v45m34-45v45m72-45v45m5-45v45m6-45v45m55-45v45m66-45v45m3-45v45m109-45v45m7-45v45m143-45v45"/><path stroke="#6ba9d1" stroke-opacity=".090" d="M89.5 538v45m193-45v45m15-45v45m59-45v45m104-45v45m105-45v45m68-45v45m6-45v45"/><path stroke="#6ba9d1" stroke-opacity=".100" d="M149.5 538v45"/><path stroke="#6ba9d1" stroke-opacity=".110" d="M242.5 538v45"/><path stroke="#6ba9d1" stroke-opacity=".120" d="M538.5 538v45"/><path stroke="#6ba9d1" stroke-opacity=".130" d="M660.5 538v45"/><path stroke="#6ba9d1" stroke-opacity=".170" d="M262.5 538v45"/><path stroke="#e7896f" stroke-opacity=".010" d="M81.5 538v45m3-45v45m21-45v45m7-45v45m3-45v45m2-45v45m8-45v45m1-45v45m12-45v45m7-45v45m16-45v45m3-45v45m15-45v45m1-45v45m26-45v45m9-45v45m11-45v45m8-45v45m5-45v45m4-45v45m11-45v45m2-45v45m5-45v45m19-45v45m3-45v45m2-45v45m15-45v45m3-45v45m5-45v45m11-45v45m19-45v45m3-45v45m3-45v45m7-45v45m23-45v45m2-45v45m12-45v45m8-45v45m3-45v45m20-45v45m1-45v45m5-45v45m13-45v45m4-45v45m12-45v45m5-45v45m5-45v45m25-45v45m3-45v45m7-45v45m1-45v45m13-45v45m2-45v45m15-45v45m1-45v45m8-45v45m7-45v45m2-45v45m3-45v45m6-45v45m5-45v45m12-45v45m14-45v45m23-45v45m23-45v45m6-45v45m12-45v45m5-45v45m29-45v45m10-45v45m4-45v45m1-45v45"/><path stroke="#e7896f" stroke-opacity=".020" d="M66.5 538v45m4-45v45m1-45v45m3-45v45m24-45v45m10-45v45m1-45v45m2-45v45m17-45v45m4-45v45m1-45v45m8-45v45m3-45v45m4-45v45m8-45v45m4-45v45m10-45v45m30-45v45m1-45v45m9-45v45m15-45v45m19-45v45m4-45v45m2-45v45m2-45v45m20-45v45m16-45v45m2-45v45m30-45v45m3-45v45m14-45v45m16-45v45m8-45v45m24-45v45m1-45v45m1-45v45m2-45v45m15-45v45m8-45v45m15-45v45m8-45v45m4-45v45m11-45v45m1-45v45m1-45v45m3-45v45m7-45v45m6-45v45m14-45v45m15-45v45m20-45v45m32-45v45m1-45v45m13-45v45m1-45v45m2-45v45m9-45v45m4-45v45m14-45v45m1-45v45m25-45v45m1-45v45m22-45v45m11-45v45m9-45v45m1-45v45m1-45v45m3-45v45"/><path stroke="#e7896f" stroke-opacity=".030" d="M60.5 538v45m4-45v45m9-45v45m2-45v45m7-45v45m45-45v45m7-45v45m5-45v45m1-45v45m6-45v45m7-45v45m16-45v45m2-45v45m22-45v45m4-45v45m35-45v45m6-45v45m15-45v45m13-45v45m1-45v45m9-45v45m15-45v45m5-45v45m3-45v45m64-45v45m2-45v45m4-45v45m21-45v45m20-45v45m3-45v45m3-45v45m18-45v45m9-45v45m3-45v45m2-45v45m72-45v45m2-45v45m11-45v45m7-45v45m12-45v45m6-45v45m26-45v45m1-45v45m1-45v45m11-45v45m1-45v45m15-45v45m5-45v45m19-45v45m12-45v45m20-45v45m9-45v45m7-45v45m4-45v45"/><path stroke="#e7896f" stroke-opacity=".040" d="M158.5 538v45m17-45v45m7-45v45m16-45v45m4-45v45m7-45v45m5-45v45m3-45v45m4-45v45m10-45v45m24-45v45m4-45v45m19-45v45m36-45v45m14-45v45m26-45v45m6-45v45m47-45v45m56-45v45m2-45v45m5-45v45m13-45v45m38-45v45m7-45v45m6-45v45m36-45v45m22-45v45m33-45v45m1-45v45m17-45v45m23-45v45m26-45v45m7-45v45"/><path stroke="#e7896f" stroke-opacity=".050" d="M76.5 538v45m128-45v45m14-45v45m17-45v45m42-45v45m16-45v45m18-45v45m25-45v45m14-45v45m17-45v45m27-45v45m4-45v45m17-45v45m11-45v45m7-45v45m3-45v45m17-45v45m19-45v45m21-45v45m8-45v45m26-45v45m63-45v45m80-45v45"/><path stroke="#e7896f" stroke-opacity=".060" d="M78.5 538v45m23-45v45m77-45v45m45-45v45m23-45v45m1-45v45m70-45v45m23-45v45m63-45v45m42-45v45m43-45v45m53-45v45m50-45v45m16-45v45m23-45v45"/><path stroke="#e7896f" stroke-opacity=".070" d="M88.5 538v45m78-45v45m75-45v45m22-45v45m31-45v45m15-45v45m233-45v45m119-45v45"/><path stroke="#e7896f" stroke-opacity=".080" d="M121.5 538v45m70-45v45m124-45v45m7-45v45m139-45v45m106-45v45m101-45v45"/><path stroke="#e7896f" stroke-opacity=".090" d="M211.5 538v45m73-45v45"/><path stroke="#e7896f" stroke-opacity=".100" d="M485.5 538v45m208-45v45"/><path stroke="#e7896f" stroke-opacity=".140" d="M85.5 538v45"/><path stroke="#e7896f" stroke-opacity=".150" d="M321.5 538v45"/></g><rect x="468.5" y="353" width="4.6" height="82" fill="url(#g262)"/><rect x="58" y="509" width="1.04592" height="52" fill="url(#g263)"/><rect x="456.807" y="480" width="1.2" height="76" fill="url(#g264)"/><rect x="577.429" y="480" width="1.2" height="71" fill="url(#g265)"/><rect x="514.414" y="472" width="1.2" height="66" fill="url(#g266)"/><rect x="149.302" y="480" width="1.2" height="73" fill="url(#g267)"/><rect x="507.11" y="499" width="1.2" height="76" fill="url(#g268)"/><rect x="266.468" y="497" width="1.2" height="46" fill="url(#g269)"/><rect x="489.807" y="480" width="1.2" height="93" fill="url(#g270)"/><rect x="443.115" y="508" width="1.2" height="56" fill="url(#g271)"/><rect x="58" y="502" width="0.719273" height="35" fill="url(#g272)"/><rect x="111.539" y="491" width="1.2" height="80" fill="url(#g273)"/><rect x="286.534" y="481" width="1.2" height="89" fill="url(#g274)"/><rect x="597.718" y="476" width="1.2" height="60" fill="url(#g275)"/><rect x="568.673" y="478" width="1.2" height="79" fill="url(#g276)"/><rect x="155.506" y="472" width="1.2" height="67" fill="url(#g277)"/><rect x="182.694" y="482" width="1.2" height="86" fill="url(#g278)"/><rect x="508.38" y="504" width="1.2" height="52" fill="url(#g279)"/><rect x="350.541" y="494" width="1.2" height="53" fill="url(#g280)"/><rect x="142.226" y="501" width="1.2" height="73" fill="url(#g281)"/><rect x="157.5" y="498" width="1.2" height="71" fill="url(#g282)"/><rect x="560.971" y="481" width="1.2" height="98" fill="url(#g283)"/><rect x="378.219" y="478" width="1.2" height="71" fill="url(#g284)"/><rect x="124.073" y="496" width="1.2" height="57" fill="url(#g285)"/><rect x="335.439" y="490" width="1.2" height="57" fill="url(#g286)"/><rect x="137.283" y="480" width="1.2" height="56" fill="url(#g287)"/><rect x="247.027" y="485" width="1.2" height="91" fill="url(#g288)"/><rect x="556.779" y="470" width="1.2" height="72" fill="url(#g289)"/><rect x="172.704" y="506" width="1.2" height="70" fill="url(#g290)"/><rect x="510.514" y="496" width="1.2" height="80" fill="url(#g291)"/><rect x="295.023" y="499" width="1.2" height="49" fill="url(#g292)"/><rect x="213.747" y="490" width="1.2" height="56" fill="url(#g293)"/><rect x="655.017" y="488" width="1.2" height="74" fill="url(#g294)"/><rect x="682.583" y="491" width="1.2" height="72" fill="url(#g295)"/><rect x="449.004" y="482" width="1.2" height="54" fill="url(#g296)"/><rect x="659.422" y="504" width="1.2" height="48" fill="url(#g297)"/><rect x="287.533" y="508" width="1.2" height="69" fill="url(#g298)"/><rect x="372.454" y="489" width="1.2" height="48" fill="url(#g299)"/><rect x="67.6622" y="504" width="1.2" height="37" fill="url(#g300)"/><rect x="679.578" y="489" width="1.2" height="68" fill="url(#g301)"/><rect x="153.556" y="489" width="1.2" height="75" fill="url(#g302)"/><rect x="586.73" y="474" width="1.2" height="89" fill="url(#g303)"/><rect x="232.975" y="493" width="1.2" height="75" fill="url(#g304)"/><rect x="677.166" y="492" width="1.2" height="60" fill="url(#g305)"/><rect x="676.693" y="505" width="1.2" height="40" fill="url(#g306)"/><rect x="163.169" y="470" width="1.2" height="70" fill="url(#g307)"/><rect x="572.602" y="497" width="1.2" height="70" fill="url(#g308)"/><rect x="114.745" y="485" width="1.2" height="54" fill="url(#g309)"/><rect x="591.267" y="474" width="1.2" height="84" fill="url(#g310)"/><rect x="294.344" y="489" width="1.2" height="91" fill="url(#g311)"/><rect x="322.514" y="498" width="1.2" height="61" fill="url(#g312)"/><rect x="279.705" y="478" width="1.2" height="96" fill="url(#g313)"/><rect x="323.623" y="495" width="1.2" height="58" fill="url(#g314)"/><rect x="661.136" y="503" width="1.2" height="37" fill="url(#g315)"/><rect x="197.199" y="492" width="1.2" height="54" fill="url(#g316)"/><rect x="587.814" y="475" width="1.2" height="72" fill="url(#g317)"/><rect x="447.682" y="484" width="1.2" height="68" fill="url(#g318)"/><rect x="232.332" y="482" width="1.2" height="74" fill="url(#g319)"/><rect x="652.309" y="508" width="1.2" height="30" fill="url(#g320)"/><rect x="474.3" y="506" width="1.2" height="71" fill="url(#g321)"/><rect x="371.983" y="492" width="1.2" height="73" fill="url(#g322)"/><rect x="693.088" y="353" width="1.19236" height="68" fill="url(#g323)"/><rect x="556.284" y="353" width="1.80239" height="39" fill="url(#g324)"/><rect x="698.536" y="353" width="1.85761" height="28" fill="url(#g325)"/><rect x="666.038" y="353" width="1.37625" height="45" fill="url(#g326)"/><rect x="615.941" y="353" width="1.8951" height="34" fill="url(#g327)"/><rect x="593.716" y="353" width="1.92721" height="55" fill="url(#g328)"/><rect x="700.246" y="353" width="1.71491" height="51" fill="url(#g329)"/><rect x="578.702" y="353" width="1.36069" height="55" fill="url(#g330)"/><rect x="635.165" y="353" width="1.96961" height="36" fill="url(#g331)"/><rect x="598.741" y="353" width="1.63748" height="65" fill="url(#g332)"/><rect x="565.976" y="353" width="1.27588" height="23" fill="url(#g333)"/><rect x="615.678" y="353" width="1.4603" height="41" fill="url(#g334)"/><rect x="695.817" y="353" width="1.14723" height="35" fill="url(#g335)"/><rect x="544.386" y="353" width="1.6989" height="56" fill="url(#g336)"/><rect x="670.844" y="353" width="1.49713" height="34" fill="url(#g337)"/><rect x="610.805" y="353" width="1.10818" height="59" fill="url(#g338)"/><rect x="617.179" y="353" width="1.02827" height="36" fill="url(#g339)"/><rect x="535.089" y="353" width="1.15542" height="61" fill="url(#g340)"/><rect x="693.247" y="353" width="1.74074" height="45" fill="url(#g341)"/><rect x="515.983" y="353" width="1.34288" height="53" fill="url(#g342)"/><rect x="521.425" y="353" width="1.82694" height="59" fill="url(#g343)"/><rect x="690.051" y="353" width="1.5243" height="37" fill="url(#g344)"/><rect x="551.2" y="353" width="1.21199" height="44" fill="url(#g345)"/><rect x="558.826" y="353" width="1.77548" height="53" fill="url(#g346)"/><rect x="570.216" y="353" width="1.83287" height="45" fill="url(#g347)"/><rect x="677.834" y="353" width="1.09779" height="62" fill="url(#g348)"/><rect x="668.828" y="353" width="1.83448" height="50" fill="url(#g349)"/><rect x="523.035" y="353" width="1.89173" height="41" fill="url(#g350)"/><rect x="690.37" y="353" width="1.99921" height="44" fill="url(#g351)"/><rect x="609.689" y="353" width="1.76307" height="28" fill="url(#g352)"/><rect x="524.372" y="353" width="1.09129" height="25" fill="url(#g353)"/><rect x="531.825" y="353" width="1.1612" height="28" fill="url(#g354)"/><rect x="689.258" y="353" width="1.52371" height="39" fill="url(#g355)"/><rect x="539.833" y="353" width="1.04317" height="66" fill="url(#g356)"/><rect x="570.138" y="353" width="1.77786" height="63" fill="url(#g357)"/><rect x="560.501" y="353" width="1.16003" height="67" fill="url(#g358)"/><rect x="681.6" y="353" width="1.05953" height="52" fill="url(#g359)"/><rect x="584.061" y="353" width="1.32729" height="39" fill="url(#g360)"/><rect x="699.355" y="353" width="1.73262" height="28" fill="url(#g361)"/><rect x="619.939" y="353" width="1.33703" height="63" fill="url(#g362)"/><rect x="618.899" y="353" width="1.75352" height="38" fill="url(#g363)"/><rect x="616.486" y="353" width="1.05725" height="44" fill="url(#g364)"/><rect x="532.8" y="353" width="1.75405" height="52" fill="url(#g365)"/><rect x="673.301" y="353" width="1.83547" height="42" fill="url(#g366)"/><rect x="568.773" y="353" width="1.25859" height="46" fill="url(#g367)"/><rect x="661.869" y="353" width="1.58071" height="30" fill="url(#g368)"/><rect x="643.141" y="353" width="1.24202" height="60" fill="url(#g369)"/><rect x="682.822" y="353" width="1.10471" height="44" fill="url(#g370)"/><rect x="572.293" y="353" width="1.0919" height="34" fill="url(#g371)"/><rect x="668.33" y="353" width="1.18803" height="52" fill="url(#g372)"/><rect x="593.835" y="353" width="1.98863" height="50" fill="url(#g373)"/><rect x="637.435" y="353" width="1.95538" height="30" fill="url(#g374)"/><rect x="627.613" y="353" width="1.71205" height="36" fill="url(#g375)"/><rect x="655.394" y="353" width="1.94628" height="26" fill="url(#g376)"/><rect x="687.652" y="353" width="1.59562" height="40" fill="url(#g377)"/><rect x="557.991" y="353" width="1.50181" height="43" fill="url(#g378)"/><rect x="392.283" y="353" width="1.36949" height="47" fill="url(#g379)"/><rect x="374.21" y="353" width="1.20629" height="30" fill="url(#g380)"/><rect x="382.795" y="353" width="1.1602" height="29" fill="url(#g381)"/><rect x="378.259" y="353" width="1.52101" height="33" fill="url(#g382)"/><rect x="392.232" y="353" width="1.07134" height="19" fill="url(#g383)"/><rect x="370.037" y="353" width="1.12063" height="28" fill="url(#g384)"/><rect x="388.35" y="353" width="1.87263" height="48" fill="url(#g385)"/><rect x="255.276" y="353" width="1.4586" height="60" fill="url(#g386)"/><rect x="310.462" y="353" width="1.2416" height="65" fill="url(#g387)"/><rect x="320.52" y="353" width="1.33136" height="42" fill="url(#g388)"/><rect x="260.282" y="353" width="1.52472" height="30" fill="url(#g389)"/><rect x="331.067" y="353" width="1.36162" height="25" fill="url(#g390)"/><rect x="306.582" y="353" width="1.28153" height="30" fill="url(#g391)"/><rect x="334.404" y="353" width="1.80784" height="31" fill="url(#g392)"/><rect x="340.513" y="353" width="1.71923" height="32" fill="url(#g393)"/><rect x="346.7" y="353" width="1.8767" height="35" fill="url(#g394)"/><rect x="335.514" y="353" width="1.79695" height="25" fill="url(#g395)"/><rect x="275.396" y="353" width="1.78223" height="49" fill="url(#g396)"/><rect x="266.608" y="353" width="1.13247" height="33" fill="url(#g397)"/><rect x="305.466" y="353" width="1.94181" height="50" fill="url(#g398)"/><rect x="255.151" y="353" width="1.0555" height="42" fill="url(#g399)"/><rect x="311.106" y="353" width="1.76052" height="56" fill="url(#g400)"/><rect x="260.865" y="353" width="1.4277" height="39" fill="url(#g401)"/><rect x="329.863" y="353" width="1.65875" height="55" fill="url(#g402)"/><rect x="258.124" y="353" width="1.47576" height="62" fill="url(#g403)"/><rect x="338.323" y="353" width="1.93911" height="53" fill="url(#g404)"/><rect x="329.768" y="353" width="1.77821" height="47" fill="url(#g405)"/><rect x="269.835" y="353" width="1.7749" height="42" fill="url(#g406)"/><rect x="267.353" y="353" width="1.30042" height="38" fill="url(#g407)"/><rect x="283.587" y="353" width="1.48583" height="44" fill="url(#g408)"/><rect x="335.033" y="353" width="1.13111" height="44" fill="url(#g409)"/><rect x="310.324" y="353" width="1.94505" height="34" fill="url(#g410)"/><rect x="345.115" y="353" width="1.30885" height="54" fill="url(#g411)"/><rect x="262.917" y="353" width="1.69616" height="55" fill="url(#g412)"/><rect x="314.765" y="353" width="1.00143" height="47" fill="url(#g413)"/><rect x="271.43" y="353" width="1.42645" height="56" fill="url(#g414)"/><rect x="297.661" y="353" width="1.90642" height="55" fill="url(#g415)"/><rect x="297.335" y="353" width="1.37035" height="39" fill="url(#g416)"/><rect x="327.383" y="353" width="1.27605" height="37" fill="url(#g417)"/><rect x="289.458" y="353" width="1.83792" height="44" fill="url(#g418)"/><rect x="78.663" y="353" width="1.49077" height="59" fill="url(#g419)"/><rect x="86.2169" y="353" width="1.75041" height="38" fill="url(#g420)"/><rect x="76.4433" y="353" width="1.54849" height="88" fill="url(#g421)"/><rect x="64.3159" y="353" width="1.0249" height="58" fill="url(#g422)"/><rect x="69.2353" y="353" width="1.90959" height="34" fill="url(#g423)"/><rect x="65.6882" y="353" width="1.80374" height="60" fill="url(#g424)"/><rect x="88.7596" y="353" width="1.07205" height="63" fill="url(#g425)"/><rect x="59.5801" y="353" width="1.72347" height="77" fill="url(#g426)"/><rect x="92.75" y="353" width="1.5" height="185" fill="url(#g427)"/><rect x="123.25" y="353" width="1.5" height="148" fill="url(#g428)"/><rect x="151.25" y="353" width="1.5" height="148" fill="url(#g429)"/><rect x="171.85" y="364" width="1.5" height="19" fill="url(#g430)"/><rect x="269.25" y="353" width="1.5" height="168" fill="url(#g431)"/><rect x="316" y="353" width="4" height="48" fill="url(#g432)"/><rect x="346.25" y="353" width="1.5" height="183" fill="url(#g433)"/><rect x="375.25" y="360" width="1.5" height="31" fill="url(#g434)"/><rect x="469.6" y="353" width="2.4" height="82" fill="url(#g435)"/><rect x="567.85" y="353" width="1.5" height="13" fill="url(#g436)"/><rect x="601.2" y="365" width="1.6" height="156" fill="url(#g437)"/><rect x="86.65" y="470" width="1.5" height="106" fill="url(#g438)"/><rect x="103.95" y="470" width="1.5" height="91" fill="url(#g439)"/><rect x="165.75" y="470" width="1.5" height="106" fill="url(#g440)"/><rect x="174.95" y="470" width="1.5" height="91" fill="url(#g441)"/><rect x="187.25" y="470" width="1.5" height="106" fill="url(#g442)"/><rect x="200.25" y="470" width="1.5" height="106" fill="url(#g443)"/><rect x="454.75" y="385" width="1.5" height="185" fill="url(#g444)"/><rect x="492.85" y="380" width="1.5" height="186" fill="url(#g445)"/><rect x="445.25" y="380" width="1.5" height="46" fill="url(#g446)"/><rect x="379.75" y="420" width="1.5" height="151" fill="url(#g447)"/><rect x="385" y="430" width="2" height="141" fill="url(#g448)"/><rect x="341" y="470" width="3" height="91" fill="url(#g449)"/><rect x="349.5" y="470" width="2" height="101" fill="url(#g450)"/><rect x="240.75" y="470" width="1.5" height="91" fill="url(#g451)"/><rect x="333.85" y="470" width="1.5" height="91" fill="url(#g452)"/><rect x="575.25" y="460" width="1.5" height="101" fill="url(#g453)"/><rect x="687.5" y="470" width="2" height="106" fill="url(#g454)"/><rect x="644.75" y="440" width="1.5" height="101" fill="url(#g455)"/><path stroke="#327cb7" d="M194 540.5h1m52 0h1m130 0h2m11 0h1m47 0h2m74 0h2m126 0h1m-537 1h3m13 0h5m59 0h5m-1 0h5m15 0h2m5 0h3m10 0h2m14 0h2m20 0h2m279 0h1m2 0h5m135 0h1m-543 1h1m6 0h4m-3 0h4m22 0h2m95 0h5m99 0h5m6 0h5m29 0h5m52 0h1m6 0h4m-3 0h2m18 0h1"/><path stroke="#3a87bd" d="M80 540.5h1m2 0h5m49 0h5m12 0h3m14 0h5m196 0h3m-2 0h5m28 0h1m31 0h3m71 0h3m36 0h5m10 0h5m91 0h2m-592 1h3m2 0h2m0 0h1m11 0h5m48 0h1m29 0h3m141 0h5m24 0h5m27 0h4m18 0h5m58 0h1m57 0h5m56 0h1m95 0h4m-582 1h3m51 0h5m89 0h2m0 0h1m13 0h3m71 0h2m92 0h2m50 0h5m0 0h2m31 0h3m67 0h3"/><path stroke="#4393c3" d="M77 540.5h4m78 0h3m21 0h1m244 0h3m11 0h2m65 0h3m15 0h4m36 0h1m43 0h5m33 0h3m-494 1h5m3 0h2m97 0h2m108 0h1m139 0h4m14 0h4m43 0h5m26 0h5m72 0h3m-612 1h5m-2 0h1m70 0h2m8 0h1m3 0h5m-3 0h3m0 0h1m3 0h4m160 0h1m1 0h3m4 0h1m22 0h5m136 0h1m9 0h4m11 0h3m128 0h3"/><path stroke="#569fc9" d="M139 540.5h1m133 0h4m19 0h1m69 0h5m84 0h2m48 0h3m9 0h2m4 0h1m-437 1h3m12 0h1m201 0h2m18 0h4m29 0h2m8 0h3m-1 0h1m25 0h3m112 0h5m50 0h4m130 0h1m-616 1h1m29 0h5m13 0h3m39 0h3m151 0h2m276 0h4m29 0h1m27 0h3"/><path stroke="#6bacd1" d="M68 540.5h3m18 0h5m23 0h3m13 0h3m27 0h3m-1 0h2m0 0h3m32 0h1m171 0h2m62 0h3m-2 0h5m17 0h5m65 0h4m59 0h2m-506 1h4m13 0h5m62 0h3m100 0h2m32 0h1m1 0h2m18 0h3m23 0h1m6 0h2m-1 0h4m84 0h2m32 0h5m36 0h5m58 0h4m40 0h2m32 0h4m9 0h5m-627 1h5m30 0h3m-1 0h2m78 0h4m17 0h2m91 0h2m54 0h3m14 0h3m70 0h2m93 0h3m1 0h4m26 0h3m38 0h4"/><path stroke="#7eb8d7" d="M105 540.5h1m8 0h1m13 0h3m40 0h3m12 0h1m20 0h2m135 0h2m3 0h4m88 0h2m136 0h3m90 0h3m-569 1h3m13 0h2m77 0h3m-1 0h2m22 0h4m-4 0h4m136 0h2m81 0h1m126 0h1m49 0h2m-512 1h2m38 0h3m1 0h3m69 0h4m27 0h3m33 0h4m162 0h3m168 0h2"/><path stroke="#90c4dd" d="M120 540.5h5m-3 0h3m17 0h4m143 0h4m44 0h5m107 0h3m22 0h1m171 0h2m-569 1h1m3 0h3m3 0h3m23 0h2m29 0h2m110 0h1m39 0h3m215 0h1m170 0h5m-614 1h5m1 0h4m26 0h2m-1 0h1m82 0h1m37 0h4m45 0h2m0 0h1m99 0h4m32 0h5m33 0h5m136 0h3m89 0h3"/><path stroke="#a2cde3" d="M61 540.5h5m13 0h2m0 0h1m7 0h1m3 0h5m37 0h2m30 0h4m48 0h3m124 0h4m29 0h4m12 0h5m21 0h2m181 0h5m15 0h1m57 0h3m-617 1h5m56 0h1m95 0h5m1 0h4m-2 0h4m6 0h1m167 0h1m67 0h1m-399 1h3m80 0h4m1 0h3m2 0h3m39 0h3m20 0h1m11 0h4m5 0h5m96 0h1m33 0h3m3 0h1m38 0h4m5 0h1m86 0h3m8 0h4m100 0h5"/><path stroke="#b1d5e7" d="M103 540.5h5m45 0h3m16 0h5m88 0h1m12 0h4m22 0h1m14 0h1m25 0h2m1 0h1m18 0h3m96 0h2m15 0h3m11 0h1m67 0h5m62 0h2m7 0h4m20 0h2m-570 1h2m244 0h4m97 0h5m60 0h5m32 0h3m-1 0h5m68 0h5m-488 1h5m4 0h4m43 0h3m27 0h3m44 0h1m19 0h5m7 0h5m28 0h2m131 0h1m17 0h2m20 0h3m104 0h2m26 0h1m-497 1h4m123 0h6m48 0h1m1 0h4m45 0h6m43 0h5m3 0h7m38 0h7m107 0h4m-466 1h2m154 0h8m224 0h6m8 0h5m77 0h5m-555 1h3m14 0h4m9 0h2m24 0h4m63 0h3m127 0h5m150 0h7m20 0h7m188 0h5m-425 1h2m51 0h1m29 0h5m38 0h7m153 0h7m109 0h4"/><path stroke="#c2ddec" d="M316 540.5h5m68 0h2m198 0h2m0 0h2m-534 1h3m19 0h4m49 0h5m-3 0h3m66 0h5m127 0h2m11 0h3m58 0h4m127 0h3m67 0h3m6 0h3m-492 1h1m35 0h3m63 0h3m31 0h4m-199 1h6m76 0h3m53 0h2m41 0h4m15 0h7m70 0h7m75 0h6m41 0h4m4 0h4m54 0h7m9 0h8m68 0h6m-549 1h4m60 0h3m195 0h6m151 0h8m28 0h6m15 0h1m-441 1h5m10 0h5m74 0h4m-3 0h3m91 0h2m61 0h1m26 0h4m60 0h2m28 0h8m56 0h7m81 0h1m19 0h6m-460 1h5m118 0h1m26 0h1m238 0h1m-509 1h2m151 0h8m-5 0h3m40 0h4m223 0h1m71 0h3m9 0h2m6 0h2m-484 1h4m25 0h7m9 0h3m88 0h1m141 0h3m33 0h6m171 0h2m-406 1h2m22 0h1m24 0h7m93 0h4m8 0h5m36 0h6m17 0h8m114 0h2m7 0h1m85 0h8"/><path stroke="#d1e5f0" d="M148 543.5h3m47 0h7m115 0h2m115 0h8m42 0h3m47 0h4m-435 1h8m259 0h3m139 0h2m44 0h5m8 0h6m53 0h2m-563 1h7m49 0h2m47 0h1m63 0h5m224 0h6m62 0h3m51 0h2m-502 1h7m-4 0h6m18 0h8m301 0h1m109 0h1m76 0h1m25 0h7m-571 1h7m-7 0h8m101 0h3m-1 0h3m55 0h8m76 0h6m287 0h4m-496 1h8m125 0h6m20 0h8m15 0h5m0 0h8m26 0h1m25 0h1m17 0h1m45 0h4m3 0h8m2 0h3m18 0h5m59 0h2m73 0h2m16 0h8m-4 0h3m38 0h6m-513 1h7m33 0h2m27 0h8m-1 0h7m79 0h3m65 0h6m43 0h7m2 0h8m157 0h6m21 0h6m-4 0h4m-601 13h3m125 0h1m141 0h4m1 0h4m13 0h1m4 0h1m80 0h3m16 0h2m150 0h3m3 0h4m10 0h3m0 0h2m9 0h1m0 0h3m38 0h1m13 0h4m-645 1h3m148 0h2m-2 0h1m75 0h3m73 0h3m9 0h3m3 0h4m3 0h1m42 0h1m3 0h4m-3 0h4m12 0h1m105 0h4m26 0h3m62 0h1m-519 3h2m71 0h3m79 0h4m217 0h3m-349 1h4m101 0h1m334 0h2m-416 4h1m111 0h3m7 0h4m-4 0h2m80 0h2m40 0h4m12 0h1m29 0h4m89 0h3m19 0h3m16 0h1m59 0h2m13 0h2m1 0h4m-614 1h1m36 0h1m5 0h3m34 0h4m1 0h3m57 0h4m34 0h3m4 0h2m1 0h3m38 0h3m153 0h4m10 0h2m2 0h3m26 0h1m128 0h3m-594 6h2m90 0h1m84 0h1m26 0h3m16 0h2m36 0h2m28 0h3m21 0h3m26 0h4m39 0h3m13 0h1m13 0h4m33 0h2m13 0h1m23 0h1m27 0h1m69 0h2m3 0h3m-570 1h1m66 0h4m107 0h4m21 0h2m14 0h3m16 0h2m16 0h1m27 0h4m54 0h4m70 0h4m88 0h3m25 0h3m-551 1h4m20 0h1m27 0h2m3 0h4m52 0h3m71 0h2m41 0h1m13 0h1m27 0h4m-1 0h4m14 0h4m9 0h2m54 0h4m32 0h4m10 0h3m61 0h3m23 0h4m11 0h2m47 0h1m36 0h3m-1 0h3m-616 1h1m51 0h1m152 0h2m364 0h3m52 0h2"/><path stroke="#dae9f2" d="M362 538.5h7m44 0h4m49 0h7m93 0h8m-266 1h1m51 0h5m-288 4h4m15 0h4m42 0h2m130 0h5m-4 0h4m98 0h6m38 0h3m188 0h5m-535 1h7m17 0h4m67 0h3m46 0h2m63 0h4m14 0h3m119 0h6m167 0h3m6 0h3m63 0h8m4 0h1m-571 1h3m16 0h6m88 0h4m119 0h6m-2 0h8m43 0h1m139 0h8m-468 1h8m98 0h8m-2 0h8m55 0h1m42 0h4m30 0h5m140 0h8m70 0h6m43 0h8m31 0h4m7 0h4m-533 1h3m75 0h2m6 0h2m50 0h3m-1 0h3m233 0h2m45 0h3m53 0h5m56 0h3m-572 1h5m5 0h7m58 0h7m67 0h5m132 0h1m179 0h5m-477 1h2m16 0h5m17 0h1m118 0h2m15 0h1m66 0h6m-1 0h8m56 0h6m24 0h1m4 0h2m18 0h8m-401 13h3m43 0h3m36 0h1m67 0h1m24 0h3m6 0h3m44 0h3m63 0h2m8 0h2m94 0h4m46 0h3m4 0h3m1 0h2m-1 0h4m6 0h1m14 0h4m3 0h4m72 0h3m-1 0h1m24 0h3m-623 1h4m8 0h3m-3 0h3m38 0h3m10 0h3m32 0h2m14 0h2m45 0h2m18 0h2m9 0h4m5 0h1m46 0h4m19 0h1m39 0h4m-1 0h3m46 0h2m45 0h4m2 0h1m19 0h1m18 0h3m46 0h3m35 0h1m-1 0h1m31 0h3m-153 2h2m30 0h3m1 0h2m-431 1h4m82 0h1m129 0h1m14 0h3m26 0h2m35 0h1m25 0h1m10 0h1m139 0h3m58 0h4m25 0h3m4 0h1m-579 1h1m55 0h4m3 0h4m140 0h2m141 0h3m132 0h3m113 0h2m-628 4h4m-1 0h4m5 0h1m45 0h4m33 0h1m0 0h4m29 0h1m59 0h3m188 0h3m15 0h2m0 0h2m36 0h4m56 0h4m19 0h3m57 0h1m-573 1h3m29 0h2m75 0h4m2 0h1m36 0h3m62 0h3m46 0h3m37 0h4m52 0h1m26 0h2m64 0h4m45 0h3m-2 0h3m-2 0h2m-2 0h1m33 0h2m75 0h3m-622 6h3m78 0h4m-3 0h1m16 0h1m0 0h3m-2 0h2m17 0h2m16 0h4m14 0h4m18 0h3m52 0h3m61 0h3m31 0h4m50 0h2m78 0h1m47 0h2m67 0h3m-582 1h2m27 0h2m48 0h4m1 0h3m39 0h3m15 0h2m34 0h2m27 0h3m77 0h2m5 0h3m3 0h4m26 0h2m9 0h2m36 0h3m51 0h4m21 0h3m132 0h1m8 0h3m-571 1h1m24 0h3m20 0h1m87 0h1m23 0h2m107 0h1m4 0h3m81 0h1m4 0h2m14 0h4m-2 0h2m13 0h4m11 0h1m1 0h1m38 0h4m53 0h1m20 0h1m-569 1h1m38 0h3m14 0h3m28 0h1m13 0h1m207 0h3m94 0h2m30 0h3m18 0h3m140 0h1"/><path stroke="#e4eef4" d="M137 538.5h5m221 0h1m26 0h7m107 0h3m-419 1h2m21 0h2m38 0h8m24 0h7m77 0h6m31 0h4m66 0h8m14 0h2m108 0h4m-429 4h5m189 0h8m374 0h1m-524 1h3m326 0h1m63 0h8m-272 1h6m221 0h4m25 0h7m88 0h2m-439 1h2m246 0h4m-339 1h7m0 0h4m15 0h6m110 0h7m33 0h4m8 0h3m58 0h8m44 0h3m7 0h5m39 0h2m19 0h7m96 0h1m37 0h6m-523 1h7m80 0h5m14 0h2m79 0h5m13 0h4m168 0h2m48 0h2m39 0h4m-465 1h8m19 0h6m92 0h5m220 0h1m26 0h4m127 0h2m1 0h1m35 0h1m48 0h3m-553 1h2m220 0h1m126 0h3m3 0h2m175 0h2m-606 1h3m13 0h1m39 0h4m37 0h1m2 0h2m26 0h2m10 0h3m31 0h2m40 0h3m8 0h4m23 0h1m55 0h4m-2 0h4m26 0h3m4 0h1m2 0h1m16 0h4m62 0h2m6 0h4m-1 0h3m15 0h1m6 0h1m8 0h3m10 0h4m16 0h2m55 0h2m6 0h3m3 0h1m-592 1h1m-1 0h4m2 0h1m5 0h3m0 0h4m1 0h2m24 0h1m4 0h1m29 0h1m65 0h4m1 0h2m9 0h2m46 0h3m9 0h3m25 0h1m28 0h3m44 0h2m42 0h1m20 0h1m4 0h1m15 0h2m7 0h3m4 0h3m7 0h3m4 0h1m52 0h1m28 0h3m23 0h1m-418 1h3m57 0h1m302 0h3m54 0h1m44 0h1m5 0h1m-576 1h2m23 0h1m26 0h2m133 0h4m21 0h1m188 0h1m185 0h2m-613 1h2m27 0h3m91 0h1m35 0h1m125 0h1m118 0h3m98 0h2m-499 1h2m14 0h1m109 0h3m432 0h1m-483 1h1m66 0h3m249 0h2m132 0h3m-518 1h1m117 0h2m105 0h3m40 0h2m-308 1h3m13 0h2m15 0h2m109 0h3m4 0h3m-3 0h1m48 0h2m6 0h3m2 0h3m6 0h2m11 0h2m33 0h2m-1 0h3m27 0h3m37 0h2m6 0h1m41 0h1m35 0h1m12 0h1m26 0h1m35 0h2m38 0h2m13 0h2m-558 1h1m42 0h1m28 0h1m75 0h1m60 0h3m14 0h2m19 0h1m87 0h2m101 0h1m14 0h1m123 0h1m36 0h3m-1 0h3m-441 1h2m27 0h3m-201 1h2m38 0h2m34 0h1m5 0h4m40 0h2m14 0h2m10 0h3m62 0h4m3 0h3m1 0h4m35 0h1m14 0h2m8 0h1m22 0h4m2 0h3m13 0h1m3 0h4m-2 0h2m5 0h3m7 0h4m35 0h4m2 0h2m34 0h2m37 0h3m0 0h2m9 0h3m97 0h2m15 0h4m-617 1h4m28 0h1m9 0h3m23 0h2m8 0h3m17 0h1m199 0h1m5 0h2m54 0h3m9 0h1m1 0h1m122 0h2m8 0h1m46 0h3m21 0h4m-337 1h1m38 0h3m67 0h1m99 0h1m-452 1h3m21 0h3m39 0h3m12 0h1m143 0h2m8 0h3m118 0h3m91 0h2m46 0h2m7 0h2m-2 0h2m47 0h3m17 0h2m-547 1h3m45 0h4m83 0h2m8 0h2m52 0h3m48 0h1m57 0h3m12 0h1m100 0h1m25 0h2m46 0h1m4 0h2m16 0h2m8 0h4m-580 1h2m13 0h4m55 0h3m36 0h1m15 0h1m53 0h4m34 0h2m10 0h2m34 0h4m0 0h4m9 0h1m80 0h1m4 0h2m0 0h2m3 0h3m58 0h1m42 0h1m51 0h3m5 0h1m-385 1h2m99 0h3m119 0h2m109 0h2m-280 1h2m217 0h2m36 0h3m-3 0h3m-367 1h3m185 0h1m-246 1h2m92 0h2m0 0h1m27 0h2m71 0h2m63 0h1m5 0h3m2 0h4m13 0h1m24 0h2m33 0h4m23 0h1m4 0h3m50 0h3m9 0h2m54 0h4m49 0h3m-585 1h1m61 0h2m12 0h1m19 0h2m69 0h1m11 0h4m44 0h2m10 0h3m4 0h1m17 0h1m29 0h4m47 0h1m8 0h3m26 0h2m26 0h2m0 0h3m23 0h2m133 0h1m12 0h2m2 0h4m-427 1h3m155 0h2m3 0h1m19 0h1m98 0h1m-482 1h3m12 0h2m120 0h2m36 0h1m24 0h3m27 0h2m12 0h2m10 0h1m10 0h2m2 0h2m3 0h2m16 0h2m7 0h2m10 0h3m116 0h2m13 0h3m35 0h1m18 0h1m0 0h3m38 0h2m1 0h2m8 0h3m29 0h3m15 0h1m23 0h2m-1 0h3m-623 1h3m150 0h2m66 0h3m90 0h1m4 0h2m36 0h2m-156 1h3m174 0h1m175 0h1m-322 1h1m12 0h3m-268 1h2m-1 0h4m17 0h1m7 0h3m11 0h3m40 0h2m66 0h4m13 0h1m33 0h2m1 0h2m27 0h2m-2 0h4m14 0h2m60 0h3m32 0h2m81 0h4m26 0h2m36 0h4m-2 0h3m22 0h1m25 0h1m53 0h2m13 0h1m10 0h2m-618 1h1m5 0h4m14 0h1m94 0h1m27 0h1m26 0h1m13 0h3m5 0h4m10 0h2m0 0h1m108 0h1m45 0h1m43 0h3m1 0h2m35 0h1m33 0h4m22 0h2m16 0h2m85 0h1m-610 1h2m24 0h2m9 0h1m12 0h3m44 0h1m3 0h2m38 0h1m12 0h3m10 0h2m84 0h2m59 0h4m-2 0h4m2 0h3m54 0h2m37 0h2m22 0h1m113 0h2m27 0h4m-465 1h3m45 0h2m8 0h2m38 0h2m5 0h3m-2 0h1m27 0h2m26 0h2m109 0h3m19 0h2m49 0h3m56 0h2m4 0h2m7 0h1m29 0h3m-305 1h3m127 0h1m154 0h3m-2 0h3"/><path stroke="#edf2f5" d="M400 538.5h8m239 0h6m-595 11h1m108 0h2m4 0h1m68 0h3m26 0h2m36 0h2m32 0h1m251 0h3m29 0h3m-569 1h1m138 0h3m4 0h1m51 0h1m85 0h3m57 0h1m73 0h2m16 0h3m51 0h1m72 0h1m58 0h3m-622 1h4m2 0h3m19 0h1m6 0h2m30 0h4m66 0h1m38 0h3m9 0h3m10 0h2m21 0h3m-3 0h2m51 0h1m25 0h2m2 0h3m49 0h2m37 0h4m15 0h2m13 0h4m11 0h2m9 0h3m0 0h2m68 0h4m-4 0h1m56 0h3m1 0h1m8 0h3m13 0h1m0 0h2m0 0h3m12 0h1m-638 1h3m3 0h2m4 0h4m0 0h1m90 0h3m44 0h2m68 0h2m39 0h1m14 0h4m-3 0h4m-4 0h3m19 0h2m17 0h3m4 0h3m35 0h2m6 0h3m12 0h3m1 0h1m40 0h3m42 0h2m0 0h1m15 0h4m20 0h3m85 0h1m-560 1h2m31 0h1m180 0h2m195 0h1m23 0h3m-1 0h2m16 0h2m-2 0h1m20 0h1m-532 1h1m4 0h2m12 0h2m6 0h2m29 0h3m11 0h1m51 0h3m343 0h2m108 0h3m19 0h2m-465 1h2m5 0h1m152 0h2m333 0h3m-370 1h3m28 0h3m52 0h3m45 0h1m5 0h1m35 0h2m6 0h2m105 0h1m57 0h1m18 0h2m-635 1h2m2 0h2m53 0h3m37 0h1m2 0h3m96 0h3m316 0h2m-523 1h3m209 0h3m171 0h2m50 0h3m108 0h2m3 0h2m37 0h3m-572 1h3m92 0h1m63 0h1m32 0h1m87 0h1m143 0h3m126 0h3m24 0h2m3 0h3m-589 1h2m46 0h1m7 0h2m20 0h3m36 0h3m2 0h2m34 0h1m47 0h1m-1 0h3m14 0h3m45 0h2m21 0h1m0 0h3m16 0h2m47 0h1m57 0h3m35 0h3m21 0h3m16 0h1m14 0h2m26 0h1m-563 1h3m7 0h2m52 0h3m-2 0h2m16 0h3m102 0h1m12 0h2m146 0h1m115 0h3m-404 1h1m5 0h3m0 0h2m100 0h3m63 0h3m73 0h1m98 0h1m63 0h3m-272 1h3m-1 0h1m17 0h2m5 0h3m137 0h1m67 0h2m57 0h3m-397 1h3m3 0h1m58 0h2m52 0h2m2 0h3m19 0h1m11 0h3m5 0h3m91 0h2m37 0h2m47 0h2m111 0h2m51 0h1m-628 1h2m-1 0h2m25 0h1m18 0h2m7 0h1m31 0h2m61 0h1m18 0h2m84 0h1m45 0h1m1 0h1m25 0h1m15 0h1m5 0h2m13 0h3m83 0h3m26 0h2m4 0h3m120 0h3m6 0h1m10 0h3m-624 1h1m34 0h3m62 0h2m63 0h3m-2 0h3m13 0h2m62 0h3m50 0h3m45 0h3m65 0h4m43 0h1m14 0h4m110 0h2m22 0h3m9 0h2m-389 1h1m20 0h2m71 0h2m4 0h3m108 0h1m35 0h2m84 0h2m21 0h1m-333 1h3m54 0h2m3 0h2m12 0h1m20 0h1m5 0h2m18 0h2m62 0h1m63 0h2m81 0h1m-583 1h3m97 0h2m35 0h3m135 0h3m22 0h2m11 0h1m123 0h2m46 0h1m-331 1h3m0 0h2m22 0h1m1 0h1m60 0h2m34 0h2m71 0h1m-364 1h3m0 0h1m6 0h1m9 0h1m110 0h1m30 0h2m43 0h3m138 0h1m98 0h3m60 0h2m72 0h1m-555 1h3m210 0h2m19 0h1m124 0h1m74 0h3m-487 1h2m82 0h3m30 0h1m71 0h3m328 0h1m56 0h3m-539 1h1m-1 0h2m10 0h2m116 0h3m12 0h1m69 0h1m0 0h3m47 0h1m34 0h2m5 0h3m21 0h2m1 0h1m38 0h2m26 0h1m53 0h2m24 0h1m28 0h1m2 0h1m1 0h2m22 0h3m47 0h3m2 0h2m-590 1h3m115 0h3m3 0h3m194 0h1m-311 1h2m188 0h3m134 0h1m62 0h2m94 0h1m56 0h2m3 0h2m21 0h1m-621 1h1m143 0h1m88 0h3m13 0h3m20 0h1m11 0h2m85 0h2m138 0h2m-523 1h3m28 0h3m151 0h1m26 0h3m12 0h1m39 0h1m132 0h3m61 0h3m108 0h2m48 0h2m-1 0h2m-578 1h3m-2 0h1m54 0h3m163 0h1m-1 0h1m12 0h2m38 0h1m0 0h2m45 0h2m6 0h4m162 0h3m31 0h2m-566 1h3m16 0h2m33 0h3m10 0h1m34 0h1m0 0h2m132 0h1m16 0h3m58 0h3m110 0h1m20 0h1m12 0h1m97 0h4m52 0h3m-594 1h3m33 0h1m123 0h3m231 0h3m48 0h2m18 0h1m35 0h1m-527 1h2m12 0h1m64 0h2m67 0h3m178 0h3m0 0h3m9 0h1m39 0h1m177 0h3"/><path stroke="#f9f0eb" d="M87 538.5h5m4 0h7m4 0h8m5 0h7m17 0h6m184 0h1m68 0h3m200 0h8m14 0h8m-357 1h4m72 0h4m21 0h6m9 0h1m134 0h6m155 0h7m-609 10h2m63 0h1m51 0h2m22 0h1m25 0h1m151 0h3m12 0h1m60 0h3m10 0h2m41 0h3m51 0h1m84 0h2m-595 1h3m238 0h1m106 0h1m27 0h2m4 0h3m84 0h1m33 0h1m-518 1h3m11 0h2m101 0h3m72 0h2m25 0h2m87 0h2m47 0h2m15 0h1m60 0h3m54 0h2m112 0h1m-393 1h4m17 0h1m52 0h1m91 0h1m29 0h3m6 0h1m19 0h3m0 0h3m60 0h2m53 0h4m38 0h2m14 0h2m-439 1h3m38 0h2m58 0h1m210 0h1m19 0h1m74 0h2m-577 1h1m17 0h4m82 0h3m-3 0h3m11 0h4m-3 0h1m36 0h1m0 0h4m59 0h2m2 0h4m10 0h2m15 0h4m6 0h1m4 0h3m41 0h3m-2 0h2m13 0h3m11 0h1m14 0h4m8 0h1m0 0h1m22 0h1m2 0h3m42 0h4m0 0h4m38 0h2m11 0h3m25 0h2m9 0h4m35 0h2m7 0h3m18 0h4m-632 1h1m9 0h2m156 0h3m7 0h1m34 0h2m22 0h2m49 0h1m52 0h1m204 0h2m17 0h1m-444 1h2m135 0h3m61 0h3m61 0h3m34 0h2m-423 1h3m62 0h3m173 0h2m76 0h1m5 0h3m30 0h1m19 0h1m107 0h3m125 0h2m-544 1h1m111 0h2m181 0h3m109 0h2m39 0h1m87 0h1m1 0h1m-608 1h2m0 0h3m9 0h2m46 0h1m23 0h1m27 0h1m10 0h3m56 0h1m41 0h2m20 0h2m47 0h3m-2 0h3m11 0h2m27 0h2m36 0h2m84 0h3m11 0h1m18 0h1m36 0h3m2 0h2m5 0h3m38 0h3m16 0h1m-623 1h1m24 0h3m52 0h1m12 0h1m30 0h1m35 0h2m55 0h2m7 0h2m7 0h1m9 0h2m40 0h3m149 0h2m82 0h2m18 0h1m22 0h2m52 0h1m-611 1h2m86 0h1m150 0h1m6 0h3m15 0h3m14 0h1m3 0h1m85 0h1m4 0h3m19 0h1m15 0h2m186 0h1m10 0h3m-545 1h2m153 0h1m114 0h1m23 0h3m77 0h2m65 0h1m10 0h1m27 0h3m10 0h3m-569 1h2m47 0h2m98 0h3m6 0h3m57 0h3m5 0h2m0 0h3m45 0h2m14 0h1m21 0h1m135 0h1m-295 1h1m141 0h3m60 0h3m90 0h1m167 0h3m-627 1h2m16 0h1m200 0h3m-3 0h1m5 0h3m41 0h2m73 0h2m11 0h1m20 0h1m1 0h1m38 0h2m64 0h3m16 0h1m3 0h2m13 0h1m14 0h2m12 0h2m27 0h3m27 0h2m-2 0h2m1 0h2m-551 1h1m38 0h1m91 0h1m30 0h3m137 0h2m13 0h1m4 0h2m21 0h1m33 0h3m45 0h1m5 0h1m97 0h1m-542 1h1m34 0h2m17 0h3m28 0h1m1 0h4m54 0h3m128 0h1m134 0h3m50 0h3m52 0h2m13 0h3m40 0h2m-474 1h3m43 0h3m109 0h3m122 0h1m133 0h3m25 0h3m23 0h1m-571 1h1m100 0h3m67 0h3m22 0h3m320 0h3m27 0h1m-616 1h2m19 0h3m79 0h1m13 0h3m230 0h3m51 0h3m226 0h3m-615 1h2m43 0h4m15 0h3m32 0h3m79 0h2m86 0h1m144 0h2m137 0h1m-1 0h2m36 0h3m16 0h1m-596 1h1m99 0h3m122 0h3m37 0h3m10 0h2m44 0h2m29 0h3m72 0h3m40 0h2m106 0h2m4 0h3m11 0h3m-641 1h1m5 0h2m118 0h3m20 0h1m14 0h1m98 0h1m147 0h2m129 0h3m-545 1h2m137 0h1m126 0h1m11 0h1m1 0h3m42 0h1m8 0h3m62 0h3m-3 0h3m54 0h3m25 0h2m7 0h1m27 0h3m18 0h2m86 0h3m-573 1h2m58 0h1m105 0h3m185 0h1m37 0h2m45 0h1m1 0h2m12 0h2m-466 1h3m59 0h2m66 0h2m39 0h1m2 0h3m18 0h1m47 0h2m-1 0h1m7 0h1m39 0h1m84 0h3m-372 1h3m119 0h2m34 0h3m13 0h2m91 0h3m121 0h3m88 0h3m54 0h1m-425 1h2m31 0h3m4 0h2m16 0h1m42 0h2m267 0h4m84 0h1m-626 1h1m352 0h2m28 0h1m129 0h3m67 0h1m44 0h3m-576 1h2m33 0h3m44 0h2m55 0h1m90 0h2m14 0h3m125 0h2m154 0h2m-580 1h3m65 0h3m29 0h2m24 0h1m48 0h1m27 0h2m23 0h1m37 0h3m3 0h1m40 0h3m111 0h1m106 0h1m31 0h1m-580 1h1m9 0h1m26 0h3m17 0h2m311 0h1m156 0h3m95 0h1"/><path stroke="#fae9df" d="M80 538.5h7m56 0h2m133 0h2m3 0h4m93 0h8m107 0h3m16 0h1m81 0h6m73 0h7m-618 1h8m33 0h7m68 0h3m-1 0h1m27 0h6m3 0h8m12 0h8m93 0h6m99 0h2m88 0h5m16 0h5m0 0h7m8 0h6m44 0h5m7 0h3m-3 0h6m14 0h6m15 0h4m-91 4h1m54 0h4m-9 1h7m-1 0h6m-570 1h7m349 0h1m164 0h4m-164 1h1m30 0h8m13 0h2m-410 1h5m43 0h7m18 0h6m1 0h2m172 0h3m67 0h8m104 0h2m-255 1h7m235 0h2m57 0h4m-437 1h2m20 0h4m95 0h5m-5 0h2m48 0h3m34 0h4m160 0h4m182 0h3m-525 1h1m226 0h3m-333 1h1m254 0h2m45 0h3m8 0h4m173 0h4m32 0h3m-435 1h1m36 0h3m12 0h1m22 0h3m97 0h1m149 0h2m5 0h4m60 0h1m28 0h1m64 0h3m37 0h3m-353 1h1m2 0h3m64 0h3m228 0h3m-582 1h2m6 0h4m14 0h3m89 0h3m31 0h2m34 0h4m64 0h3m0 0h1m0 0h1m-1 0h4m7 0h1m45 0h4m4 0h3m11 0h1m8 0h2m39 0h4m6 0h3m25 0h2m42 0h3m45 0h1m34 0h2m-1 0h2m24 0h4m6 0h4m11 0h1m2 0h4m-569 1h1m67 0h1m230 0h1m277 0h3m-448 1h2m128 0h1m28 0h3m106 0h1m128 0h1m11 0h1m-515 1h3m132 0h3m145 0h1m41 0h1m35 0h2m-432 1h3m241 0h3m37 0h1m67 0h3m38 0h1m23 0h2m38 0h3m-473 1h2m6 0h3m3 0h1m36 0h1m9 0h3m103 0h1m35 0h3m2 0h1m10 0h2m22 0h2m14 0h3m108 0h1m7 0h1m40 0h3m28 0h1m42 0h1m30 0h1m12 0h2m7 0h3m15 0h2m-545 1h3m6 0h2m2 0h2m34 0h1m0 0h2m8 0h3m14 0h3m55 0h3m2 0h1m30 0h2m13 0h1m6 0h3m8 0h2m89 0h2m5 0h2m62 0h1m17 0h1m18 0h1m25 0h1m2 0h2m48 0h2m67 0h1m35 0h2m6 0h1m5 0h2m-527 1h3m-90 1h3m14 0h4m0 0h1m61 0h2m58 0h1m32 0h3m47 0h4m142 0h3m10 0h2m89 0h3m43 0h2m80 0h4m-2 0h3m20 0h4m-587 1h3m38 0h4m110 0h3m25 0h3m0 0h4m7 0h3m3 0h4m2 0h3m119 0h2m71 0h3m44 0h1m23 0h3m0 0h3m14 0h2m36 0h3m34 0h3m-606 1h3m203 0h2m113 0h3m-311 1h2m4 0h3m25 0h2m94 0h1m1 0h1m43 0h1m95 0h1m25 0h3m-3 0h1m24 0h3m9 0h3m9 0h3m17 0h2m13 0h2m15 0h2m20 0h3m110 0h2m2 0h3m41 0h2m1 0h1m3 0h3m7 0h3m-620 1h1m45 0h4m5 0h3m106 0h4m7 0h4m0 0h1m25 0h2m17 0h1m3 0h4m5 0h3m127 0h3m53 0h4m19 0h1m100 0h2m14 0h4m2 0h3m32 0h3m-617 1h2m9 0h4m73 0h3m111 0h1m37 0h4m95 0h4m14 0h2m-1 0h4m46 0h4m10 0h3m28 0h1m24 0h1m36 0h1m21 0h4m85 0h2m2 0h3m-523 1h3m45 0h3m56 0h2m55 0h1m-281 1h1m242 0h3m40 0h2m76 0h1m199 0h2m19 0h1m47 0h2m-628 1h1m107 0h3m114 0h2m59 0h2m59 0h2m33 0h3m11 0h2m55 0h2m32 0h2m-475 1h4m5 0h3m20 0h4m16 0h3m32 0h1m28 0h2m23 0h1m33 0h3m32 0h4m-1 0h2m0 0h1m16 0h3m32 0h1m31 0h1m15 0h2m28 0h1m-1 0h2m0 0h3m9 0h2m41 0h4m37 0h4m59 0h1m63 0h3m-538 1h3m67 0h3m13 0h4m3 0h2m51 0h4m25 0h2m21 0h3m10 0h1m2 0h3m-2 0h3m109 0h2m1 0h2m0 0h4m52 0h1m0 0h2m25 0h1m88 0h1m12 0h3m11 0h2m0 0h2m-587 1h2m190 0h1m128 0h3m64 0h1m162 0h2m27 0h1m-549 1h3m36 0h3m15 0h2m48 0h1m47 0h3m6 0h2m-1 0h1m114 0h3m41 0h1m124 0h2m73 0h1m43 0h1m-605 1h2m187 0h3m-1 0h1m82 0h2m157 0h1m64 0h2m93 0h2m-319 1h3m0 0h3m330 0h2m-577 1h3m211 0h3m132 0h1m106 0h3m52 0h3m68 0h2m16 0h3m-635 1h1m59 0h4m120 0h3m35 0h3m7 0h4m-4 0h2m69 0h1m18 0h3m12 0h2m53 0h2m6 0h3m1 0h3m79 0h3m58 0h1m3 0h4m2 0h3m14 0h4m-4 0h1m19 0h1m17 0h1m18 0h3m-633 1h1m6 0h4m12 0h4m-2 0h4m4 0h1m35 0h3m23 0h2m7 0h3m39 0h2m8 0h1m0 0h4m9 0h2m0 0h3m2 0h3m100 0h2m26 0h2m15 0h2m5 0h1m32 0h4m38 0h4m-3 0h4m57 0h4m12 0h3m73 0h3m-1 0h4m5 0h2m0 0h2m-473 1h2m72 0h3m55 0h3m7 0h3m79 0h4m68 0h1m30 0h3m-1 0h2m19 0h3m26 0h1m6 0h3m13 0h1m61 0h1m48 0h3m-628 1h1m8 0h2m46 0h3m17 0h3m3 0h3m57 0h3m39 0h3m20 0h3m52 0h2m8 0h3m73 0h3m54 0h3m8 0h1m84 0h1m53 0h1m5 0h2m47 0h2m-589 1h1m45 0h3m226 0h3m31 0h3m274 0h3"/><path stroke="#fce2d2" d="M132 538.5h1m10 0h1m8 0h5m4 0h1m3 0h7m43 0h4m44 0h2m1 0h5m22 0h8m-4 0h1m107 0h5m30 0h4m13 0h8m62 0h6m34 0h2m32 0h6m83 0h4m-596 1h2m84 0h3m-1 0h2m29 0h1m11 0h6m103 0h7m40 0h1m139 0h7m7 0h2m47 0h2m-517 4h4m381 0h8m52 0h6m2 0h4m9 0h1m64 0h4m26 0h2m-502 1h8m37 0h4m122 0h8m90 0h5m11 0h1m83 0h8m8 0h6m44 0h8m15 0h2m73 0h3m-506 1h5m181 0h2m58 0h4m7 0h7m55 0h6m129 0h8m41 0h4m-611 1h4m217 0h4m-3 0h6m48 0h2m10 0h2m142 0h4m88 0h5m-499 1h5m146 0h2m10 0h2m81 0h6m127 0h1m74 0h7m33 0h8m53 0h7m-410 1h1m70 0h5m19 0h3m110 0h1m120 0h1m29 0h5m10 0h5m20 0h6m5 0h4m-494 1h4m116 0h3m142 0h8m58 0h5m166 0h4m-576 13h2m73 0h4m13 0h1m18 0h3m206 0h1m48 0h2m52 0h3m97 0h2m23 0h4m12 0h3m-588 1h1m62 0h1m36 0h4m-1 0h2m50 0h2m30 0h4m-3 0h4m102 0h2m25 0h3m0 0h2m7 0h4m118 0h3m170 0h4m-456 2h2m12 0h2m97 0h1m110 0h3m184 0h3m-596 1h1m28 0h2m41 0h3m27 0h4m25 0h2m88 0h1m32 0h3m-2 0h1m27 0h1m91 0h1m72 0h1m80 0h2m74 0h2m14 0h2m-466 1h3m13 0h4m73 0h2m14 0h2m26 0h3m2 0h3m0 0h2m26 0h1m29 0h1m52 0h2m10 0h3m2 0h3m20 0h2m2 0h2m33 0h4m-3 0h3m88 0h2m9 0h2m30 0h1m-524 4h4m24 0h4m10 0h4m-1 0h1m19 0h2m77 0h3m104 0h3m16 0h4m47 0h3m30 0h2m40 0h1m13 0h4m25 0h4m62 0h1m-610 1h2m16 0h2m56 0h3m-2 0h4m124 0h4m13 0h1m60 0h3m50 0h1m0 0h4m0 0h3m13 0h1m32 0h4m40 0h3m35 0h3m110 0h2m19 0h4m-591 6h3m87 0h3m56 0h3m-1 0h2m24 0h1m34 0h3m17 0h4m126 0h1m42 0h4m23 0h2m37 0h1m28 0h4m34 0h4m52 0h4m0 0h3m-524 1h3m39 0h3m49 0h3m86 0h1m47 0h4m6 0h2m11 0h3m36 0h3m71 0h1m24 0h3m24 0h1m43 0h1m25 0h4m41 0h2m-576 1h4m19 0h2m17 0h1m9 0h3m15 0h3m15 0h3m-3 0h1m23 0h4m172 0h2m23 0h3m2 0h1m21 0h4m0 0h3m5 0h2m50 0h1m35 0h3m108 0h4m-611 1h2m61 0h2m11 0h2m2 0h3m25 0h1m5 0h1m62 0h3m29 0h2m-1 0h2m28 0h2m33 0h1m7 0h2m4 0h2m1 0h2m36 0h3m27 0h1m49 0h3m6 0h2m45 0h2m-1 0h2m10 0h1m25 0h1m10 0h1m17 0h2m4 0h3m1 0h1m22 0h1m59 0h2"/><path stroke="#fddbc7" d="M178 543.5h1m53 0h4m55 0h8m66 0h2m13 0h8m-7 0h3m115 0h2m55 0h1m20 0h8m13 0h3m-530 1h8m157 0h4m111 0h4m4 0h7m26 0h3m173 0h8m23 0h5m3 0h7m-250 1h1m6 0h1m8 0h4m2 0h1m36 0h6m11 0h6m104 0h3m77 0h5m46 0h5m-615 1h7m4 0h6m5 0h7m112 0h5m70 0h8m36 0h4m11 0h4m59 0h3m12 0h1m86 0h6m78 0h3m1 0h2m-493 1h4m24 0h4m36 0h1m310 0h2m70 0h1m72 0h7m-473 1h1m53 0h3m141 0h4m148 0h4m-247 1h6m43 0h4m75 0h7m54 0h7m5 0h4m-398 13h3m124 0h1m194 0h4m50 0h1m79 0h4m-1 0h3m67 0h4m8 0h3m-1 0h4m4 0h2m-555 1h2m23 0h2m138 0h4m12 0h1m65 0h3m119 0h4m18 0h3m58 0h3m14 0h1m44 0h1m-1 0h4m17 0h3m25 0h1m21 0h3m-547 3h1m15 0h2m351 0h3m25 0h1m14 0h4m65 0h2m63 0h4m-604 1h2m1 0h3m99 0h1m38 0h1m44 0h2m0 0h1m218 0h2m78 0h1m12 0h2m94 0h2m27 0h1m-566 4h4m13 0h2m12 0h4m100 0h2m1 0h2m11 0h4m200 0h3m42 0h1m16 0h2m81 0h4m-426 1h3m19 0h2m14 0h2m92 0h2m150 0h2m27 0h3m26 0h1m10 0h3m18 0h1m53 0h3m-559 6h3m5 0h3m62 0h2m181 0h1m36 0h2m5 0h1m5 0h2m18 0h2m62 0h1m15 0h3m60 0h2m144 0h3m-592 1h2m28 0h1m1 0h1m31 0h3m40 0h3m18 0h2m24 0h3m28 0h4m73 0h4m101 0h3m7 0h1m25 0h2m14 0h2m10 0h1m12 0h3m88 0h3m48 0h3m-592 1h3m-2 0h2m42 0h4m20 0h3m-3 0h2m26 0h4m52 0h3m57 0h4m29 0h3m122 0h2m37 0h4m38 0h1m71 0h3m4 0h4m45 0h4m2 0h1m-569 1h3m136 0h3m165 0h3m32 0h3m25 0h3m55 0h1m40 0h2m22 0h1m8 0h3m42 0h1"/><path stroke="#fbccb4" d="M225 540.5h4m232 0h5m30 0h4m31 0h2m-356 1h1m44 0h2m-1 0h1m16 0h2m18 0h4m5 0h2m165 0h2m-184 1h2m286 0h4m0 0h4m1 0h1m64 0h3m19 0h3m-437 1h6m66 0h3m70 0h1m18 0h1m174 0h6m5 0h5m71 0h6m-4 0h7m-574 1h3m66 0h8m63 0h6m59 0h5m56 0h5m35 0h3m1 0h6m17 0h4m16 0h5m48 0h2m113 0h4m60 0h8m-586 1h6m2 0h8m20 0h8m209 0h4m104 0h3m40 0h6m-3 0h1m-248 1h5m61 0h8m67 0h5m15 0h7m85 0h3m8 0h8m1 0h7m13 0h3m86 0h5m34 0h5m-533 1h6m296 0h8m-375 1h7m40 0h8m17 0h8m32 0h5m175 0h3m64 0h4m-227 1h7m64 0h1m75 0h8m-3 0h2m48 0h4"/><path stroke="#f8bfa4" d="M131 540.5h3m17 0h5m105 0h5m11 0h1m169 0h4m35 0h4m57 0h5m64 0h1m47 0h4m15 0h1m-616 1h5m37 0h5m152 0h1m83 0h3m28 0h2m117 0h5m34 0h3m85 0h5m53 0h3m4 0h1m-548 1h3m76 0h5m122 0h3m84 0h3m72 0h4m31 0h2m4 0h5m62 0h5m4 0h1m-392 1h4m76 0h6m71 0h7m106 0h8m12 0h8m-412 1h1m3 0h1m56 0h6m55 0h4m168 0h3m155 0h6m7 0h4m-287 1h8m177 0h3m48 0h4m93 0h5m31 0h4m-542 1h1m28 0h1m70 0h3m195 0h3m72 0h3m37 0h5m17 0h4m56 0h7"/><path stroke="#f6b394" d="M149 540.5h1m105 0h1m307 0h2m98 0h5m-431 1h2m88 0h4m55 0h5m16 0h1m37 0h3m42 0h5m-427 1h3m48 0h2m45 0h2m81 0h1m51 0h1m103 0h5m230 0h3"/><path stroke="#f3a481" d="M68 540.5h2m91 0h3m145 0h5m20 0h2m56 0h5m139 0h5m10 0h4m76 0h4m-458 1h3m241 0h1m25 0h1m88 0h4m62 0h3m64 0h1m-611 1h5m6 0h4m463 0h5"/><path stroke="#ec9374" d="M108 540.5h1m198 0h2m198 0h1m35 0h2m142 0h2m-237 1h3m70 0h1m150 0h2m-544 1h1m1 0h4m42 0h2m121 0h1m66 0h1m146 0h1m77 0h4"/><path stroke="#e48066" d="M206 540.5h3m64 0h4m87 0h5m-127 1h5m83 0h2m63 0h4m3 0h2m53 0h1m1 0h5m11 0h4m208 0h1m-494 1h4m82 0h1m83 0h3m31 0h2m63 0h4m51 0h1m3 0h5m92 0h1"/><path stroke="#dd7059" d="M160 540.5h4m22 0h1m15 0h3m71 0h2m78 0h1m3 0h3m210 0h4m-181 1h4m-3 0h4m38 0h3m174 0h1m-106 1h1"/><path stroke="#d6604d" d="M233 540.5h2m-1 0h4m44 0h3m189 0h2m44 0h3m63 0h4m90 0h1m2 0h3m-601 1h5m103 0h3m11 0h3m65 0h1m189 0h5m116 0h4m34 0h1m-544 1h2m237 0h3m9 0h3m3 0h4m100 0h5m170 0h3m57 0h1"/><path stroke="#cc4c44" d="M81 540.5h4m56 0h1m65 0h3m117 0h3m238 0h5m38 0h5m14 0h1m-334 1h3m35 0h3m56 0h4m13 0h5m46 0h3m119 0h4m79 0h5m11 0h2m-461 1h4m111 0h4m52 0h4m120 0h4"/><path stroke="#c43b3c" d="M213 540.5h3m333 0h5m2 0h1m56 0h2m-1 0h5m13 0h3m23 0h2m-361 1h2m163 0h4m160 0h5m-338 1h4m264 0h3m73 0h1m35 0h2"/><rect x="709" y="60" width="8" height="231" fill="url(#cb1)"/><rect x="709" y="353" width="8" height="230" fill="url(#cb2)"/><path d="M57.5 59.5H703.5V291.5H57.5ZM57.5 352.5H703.5V583.5H57.5ZM708.5 59.5H717.5V291.5H708.5ZM708.5 352.5H717.5V583.5H708.5ZM111.5 292v5M218.5 292v5M326.5 292v5M434.5 292v5M541.5 292v5M649.5 292v5M111.5 584v5M218.5 584v5M326.5 584v5M434.5 584v5M541.5 584v5M649.5 584v5M52 76.5h5M52 109.5h5M52 142.5h5M52 175.5h5M52 208.5h5M52 241.5h5M52 274.5h5M52 368.5h5M52 401.5h5M52 434.5h5M52 467.5h5M52 500.5h5M52 534.5h5M52 567.5h5M718 190.5h5M718 64.5h3M718 90.5h3M718 127.5h3M718 200.5h3M718 210.5h3M718 222.5h3M718 236.5h3M718 253.5h3M718 273.5h3M718 375.5h5M718 421.5h5M718 468.5h5M718 514.5h5M718 561.5h5" fill="none" stroke="#000" stroke-width="1.1" stroke-linejoin="miter"/><text transform="translate(395.20 23.60) scale(1 1.078)" font-size="16.667" text-anchor="middle">2024-06-04T22:35:00</text><text transform="translate(379.70 51.17) scale(1 1.078)" font-size="16.667" text-anchor="middle">OVRO-LWA dynamic spectrum for pol I</text><text transform="translate(380.50 343.70) scale(1 1.078)" font-size="16.667" text-anchor="middle">OVRO-LWA dynamic spectrum for pol V/I</text><text transform="translate(111.00 311.48) scale(0.985 1)" font-size="13.889" text-anchor="middle">22:40</text><text transform="translate(111.00 603.58) scale(0.985 1)" font-size="13.889" text-anchor="middle">22:40</text><text transform="translate(218.60 311.48) scale(0.985 1)" font-size="13.889" text-anchor="middle">22:50</text><text transform="translate(218.60 603.58) scale(0.985 1)" font-size="13.889" text-anchor="middle">22:50</text><text transform="translate(326.30 311.48) scale(0.985 1)" font-size="13.889" text-anchor="middle">23:00</text><text transform="translate(326.30 603.58) scale(0.985 1)" font-size="13.889" text-anchor="middle">23:00</text><text transform="translate(433.90 311.48) scale(0.985 1)" font-size="13.889" text-anchor="middle">23:10</text><text transform="translate(433.90 603.58) scale(0.985 1)" font-size="13.889" text-anchor="middle">23:10</text><text transform="translate(541.50 311.48) scale(0.985 1)" font-size="13.889" text-anchor="middle">23:20</text><text transform="translate(541.50 603.58) scale(0.985 1)" font-size="13.889" text-anchor="middle">23:20</text><text transform="translate(649.10 311.48) scale(0.985 1)" font-size="13.889" text-anchor="middle">23:30</text><text transform="translate(649.10 603.58) scale(0.985 1)" font-size="13.889" text-anchor="middle">23:30</text><text transform="translate(47.40 81.30) scale(0.985 1)" font-size="13.889" text-anchor="end">80</text><text transform="translate(47.40 114.30) scale(0.985 1)" font-size="13.889" text-anchor="end">70</text><text transform="translate(47.40 147.30) scale(0.985 1)" font-size="13.889" text-anchor="end">60</text><text transform="translate(47.40 180.30) scale(0.985 1)" font-size="13.889" text-anchor="end">50</text><text transform="translate(47.40 213.30) scale(0.985 1)" font-size="13.889" text-anchor="end">40</text><text transform="translate(47.40 246.30) scale(0.985 1)" font-size="13.889" text-anchor="end">30</text><text transform="translate(47.40 279.30) scale(0.985 1)" font-size="13.889" text-anchor="end">20</text><text transform="translate(47.40 373.30) scale(0.985 1)" font-size="13.889" text-anchor="end">80</text><text transform="translate(47.40 406.30) scale(0.985 1)" font-size="13.889" text-anchor="end">70</text><text transform="translate(47.40 439.30) scale(0.985 1)" font-size="13.889" text-anchor="end">60</text><text transform="translate(47.40 472.30) scale(0.985 1)" font-size="13.889" text-anchor="end">50</text><text transform="translate(47.40 505.30) scale(0.985 1)" font-size="13.889" text-anchor="end">40</text><text transform="translate(47.40 539.30) scale(0.985 1)" font-size="13.889" text-anchor="end">30</text><text transform="translate(47.40 572.30) scale(0.985 1)" font-size="13.889" text-anchor="end">20</text><text transform="translate(19.80 175.35) rotate(-90)" font-size="13.889" text-anchor="middle">Frequency [MHz]</text><text transform="translate(19.80 467.85) rotate(-90)" font-size="13.889" text-anchor="middle">Frequency [MHz]</text><text transform="translate(767.58 175.85) rotate(-90) scale(0.99 1)" font-size="13.889" text-anchor="middle">Intensity [s.f.u]</text><text transform="translate(776.86 469.10) rotate(-90)" font-size="13.889" text-anchor="middle">V/I</text><text x="728.4" y="196.8" font-size="13.889">10<tspan x="746.0" y="191.5" font-size="9.722">0</tspan></text><text transform="translate(728.10 380.30) scale(0.955 1)" font-size="13.889" text-anchor="start">0.4</text><text transform="translate(728.10 426.30) scale(0.955 1)" font-size="13.889" text-anchor="start">0.2</text><text transform="translate(728.10 473.30) scale(0.955 1)" font-size="13.889" text-anchor="start">0.0</text><text transform="translate(727.20 519.30) scale(0.955 1)" font-size="13.889" text-anchor="start">−0.2</text><text transform="translate(727.20 566.30) scale(0.955 1)" font-size="13.889" text-anchor="start">−0.4</text></svg></body></html>
